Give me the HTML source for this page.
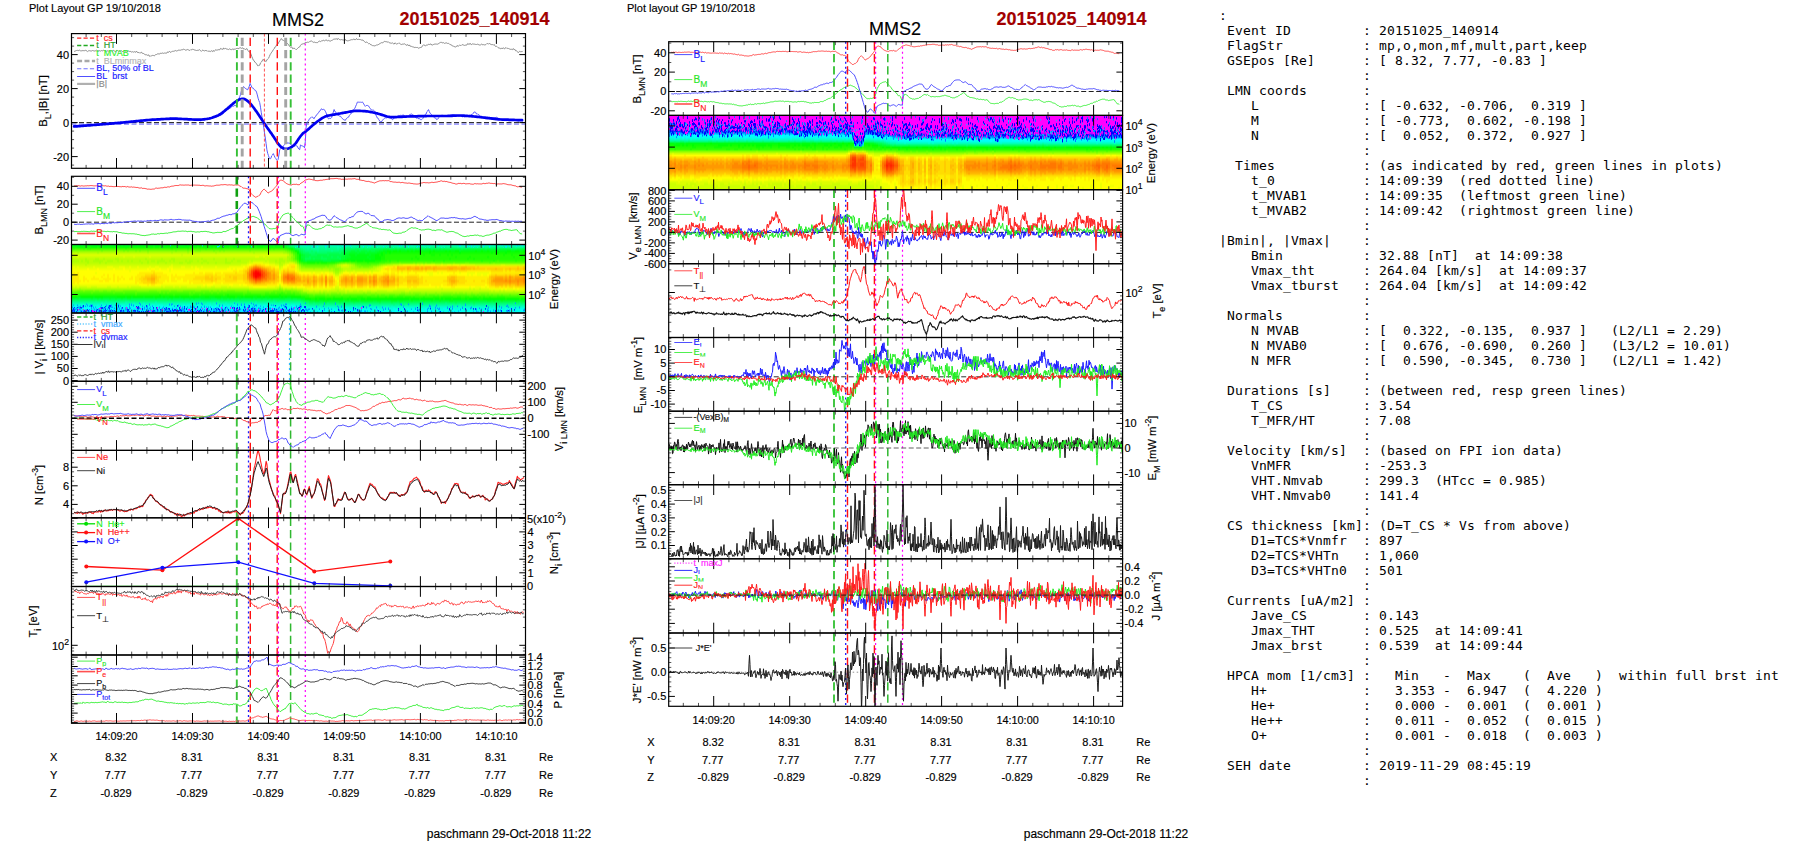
<!DOCTYPE html>
<html lang="en">
<head>
<meta charset="utf-8">
<title>MMS2 20151025_140914</title>
<style>
html,body{margin:0;padding:0;background:#fff;}
body{width:1804px;height:841px;overflow:hidden;position:relative;}
svg{position:absolute;left:0;top:0;}
svg text{font-family:'Liberation Sans', Arial, Helvetica, sans-serif;stroke-width:.16px;}
.sg{position:absolute;overflow:hidden;display:flex;}
.sg i{display:block;flex:0 0 2px;height:100%;}
pre{position:absolute;left:1219px;top:8px;margin:0;font-family:"DejaVu Sans Mono","Liberation Mono",monospace;font-size:13px;line-height:15px;letter-spacing:0.174px;color:#000;white-space:pre;}
</style>
</head>
<body>
<div class="sg" id="sgl" style="left:71px;top:244.5px;width:455px;height:68.5px"><i style="background:linear-gradient(#0f3,#1f0,#4f0,#7f0,#bf0,#df0,#cf0,#af0,#af0,#bf0,#cf0,#ef0,#ef0,#ff0,#ff0,#fe0,#ff0,#ff0,#ff0,#ff0,#ef0,#cf0,#af0,#7f0,#4f0,#2f0,#0f0,#0f4,#0f7,#0fb,#0fd,#0ff,#0ef,#0df,#0cf)"></i><i style="background:linear-gradient(#0f3,#1f0,#3f0,#8f0,#bf0,#df0,#cf0,#bf0,#af0,#bf0,#cf0,#ef0,#ef0,#ff0,#fe0,#fe0,#fe0,#fe0,#fe0,#fe0,#ef0,#df0,#af0,#7f0,#4f0,#3f0,#0f0,#0f3,#0f7,#0fa,#0fc,#0fe,#0ef,#0df,#0cf)"></i><i style="background:linear-gradient(#0f3,#1f0,#4f0,#8f0,#bf0,#df0,#cf0,#bf0,#af0,#bf0,#cf0,#df0,#ef0,#ff0,#ff0,#fe0,#fe0,#fe0,#fe0,#ff0,#ef0,#cf0,#af0,#7f0,#4f0,#2f0,#0f0,#0f4,#0f7,#0fa,#0fd,#0ff,#0ef,#0df,#0cf)"></i><i style="background:linear-gradient(#0f4,#0f0,#4f0,#8f0,#af0,#df0,#df0,#bf0,#af0,#bf0,#cf0,#ef0,#ef0,#ff0,#fe0,#fe0,#fe0,#fe0,#fe0,#fe0,#ef0,#df0,#af0,#6f0,#4f0,#2f0,#0f1,#0f3,#0f7,#0fa,#0fc,#0fe,#0ef,#0df,#0cf)"></i><i style="background:linear-gradient(#0f3,#0f0,#4f0,#8f0,#bf0,#df0,#cf0,#bf0,#bf0,#bf0,#cf0,#df0,#ef0,#ff0,#ff0,#ff0,#ff0,#ff0,#fe0,#ff0,#ef0,#cf0,#9f0,#6f0,#4f0,#2f0,#0f1,#0f4,#0f7,#0fa,#0fd,#0ff,#0ff,#0df,#0cf)"></i><i style="background:linear-gradient(#0f4,#0f0,#4f0,#8f0,#bf0,#df0,#cf0,#bf0,#af0,#bf0,#cf0,#df0,#ef0,#ff0,#ff0,#ff0,#ff0,#ff0,#ff0,#ff0,#ef0,#cf0,#af0,#6f0,#4f0,#2f0,#0f0,#0f4,#0f7,#0fa,#0fd,#0ff,#0ef,#0df,#0df)"></i><i style="background:linear-gradient(#0f3,#1f0,#3f0,#8f0,#bf0,#df0,#cf0,#bf0,#bf0,#bf0,#cf0,#df0,#ef0,#ff0,#ff0,#ff0,#fe0,#fe0,#fe0,#ff0,#ef0,#cf0,#af0,#7f0,#4f0,#2f0,#0f0,#0f4,#0f7,#0fa,#0fd,#0ff,#0ff,#0df,#0cf)"></i><i style="background:linear-gradient(#0f3,#0f0,#4f0,#8f0,#bf0,#df0,#cf0,#af0,#af0,#bf0,#bf0,#df0,#ef0,#ff0,#ff0,#ff0,#ff0,#fe0,#ff0,#ff0,#ef0,#cf0,#af0,#6f0,#4f0,#2f0,#0f0,#0f4,#0f7,#0fa,#0fd,#0fe,#0ff,#0df,#0cf)"></i><i style="background:linear-gradient(#0f3,#1f0,#3f0,#8f0,#bf0,#df0,#cf0,#bf0,#af0,#af0,#cf0,#df0,#ff0,#ff0,#ff0,#ff0,#ff0,#ff0,#fe0,#ff0,#ef0,#df0,#af0,#6f0,#4f0,#2f0,#0f0,#0f4,#0f7,#0fa,#0fd,#0ff,#0ff,#0df,#0cf)"></i><i style="background:linear-gradient(#0f3,#1f0,#3f0,#8f0,#bf0,#df0,#cf0,#bf0,#bf0,#bf0,#cf0,#df0,#ef0,#ff0,#ff0,#ff0,#ff0,#ff0,#ff0,#ff0,#ef0,#df0,#af0,#6f0,#4f0,#2f0,#0f0,#0f4,#0f7,#0fa,#0fd,#0ff,#0ff,#0df,#0cf)"></i><i style="background:linear-gradient(#0f3,#0f0,#4f0,#8f0,#bf0,#df0,#cf0,#bf0,#bf0,#bf0,#cf0,#df0,#ef0,#ff0,#ff0,#ff0,#ff0,#fe0,#ff0,#ff0,#ef0,#cf0,#af0,#6f0,#5f0,#2f0,#0f0,#0f3,#0f7,#0fa,#0fc,#0ff,#0ef,#0df,#0cf)"></i><i style="background:linear-gradient(#0f3,#0f0,#4f0,#8f0,#bf0,#df0,#cf0,#bf0,#af0,#bf0,#cf0,#ef0,#ef0,#ff0,#ff0,#ff0,#fe0,#fe0,#ff0,#ff0,#ef0,#cf0,#af0,#7f0,#4f0,#2f0,#0f1,#0f4,#0f7,#0fa,#0fc,#0ff,#0ef,#0df,#0cf)"></i><i style="background:linear-gradient(#0f3,#0f0,#4f0,#8f0,#bf0,#df0,#cf0,#af0,#af0,#bf0,#cf0,#df0,#ef0,#ff0,#ef0,#ff0,#ff0,#fe0,#ff0,#ff0,#ef0,#cf0,#af0,#6f0,#4f0,#2f0,#0f0,#0f4,#0f8,#0fa,#0fc,#0fe,#0ef,#0df,#0cf)"></i><i style="background:linear-gradient(#0f3,#1f0,#4f0,#8f0,#af0,#df0,#cf0,#af0,#af0,#bf0,#cf0,#df0,#ff0,#ff0,#ff0,#ff0,#ff0,#fe0,#ff0,#ff0,#ef0,#df0,#af0,#6f0,#4f0,#2f0,#0f0,#0f3,#0f7,#0fa,#0fd,#0fe,#0ff,#0df,#0cf)"></i><i style="background:linear-gradient(#0f4,#0f0,#4f0,#8f0,#bf0,#df0,#cf0,#bf0,#af0,#af0,#cf0,#df0,#ef0,#ff0,#ff0,#ff0,#ff0,#ff0,#fe0,#ff0,#ef0,#df0,#af0,#7f0,#4f0,#2f0,#0f0,#0f4,#0f7,#0fa,#0fc,#0fe,#0ff,#0df,#0cf)"></i><i style="background:linear-gradient(#0f3,#1f0,#4f0,#7f0,#bf0,#df0,#cf0,#bf0,#af0,#bf0,#cf0,#df0,#ef0,#ff0,#ff0,#ff0,#fe0,#ff0,#fe0,#ff0,#ef0,#df0,#af0,#7f0,#4f0,#2f0,#0f0,#0f3,#0f7,#0fb,#0fd,#0fe,#0ef,#0ef,#0cf)"></i><i style="background:linear-gradient(#0f3,#0f0,#4f0,#8f0,#bf0,#df0,#cf0,#af0,#bf0,#bf0,#cf0,#df0,#ef0,#ff0,#ff0,#fe0,#ff0,#fe0,#ff0,#ff0,#ef0,#df0,#af0,#6f0,#4f0,#2f0,#0f1,#0f4,#0f7,#0fa,#0fd,#0fe,#0ff,#0ef,#0cf)"></i><i style="background:linear-gradient(#0f3,#0f0,#4f0,#8f0,#bf0,#df0,#cf0,#bf0,#bf0,#af0,#cf0,#df0,#ef0,#ff0,#ff0,#ff0,#ff0,#fe0,#fe0,#ff0,#ef0,#df0,#af0,#6f0,#4f0,#2f0,#0f1,#0f4,#0f8,#0fa,#0fc,#0fe,#0ef,#0df,#0cf)"></i><i style="background:linear-gradient(#0f3,#0f0,#4f0,#8f0,#bf0,#df0,#cf0,#bf0,#af0,#bf0,#cf0,#ef0,#ef0,#ff0,#ff0,#fe0,#fe0,#fe0,#fe0,#ff0,#ef0,#cf0,#af0,#7f0,#4f0,#2f0,#0f1,#0f4,#0f7,#0fa,#0fc,#0fe,#0ef,#0df,#0cf)"></i><i style="background:linear-gradient(#0f3,#0f0,#4f0,#8f0,#bf0,#df0,#cf0,#bf0,#af0,#bf0,#cf0,#ef0,#ef0,#ff0,#ff0,#ff0,#ff0,#fe0,#ff0,#ff0,#ef0,#cf0,#af0,#7f0,#4f0,#2f0,#0f1,#0f3,#0f7,#0fa,#0fc,#0ff,#0ef,#0df,#0df)"></i><i style="background:linear-gradient(#0f3,#0f0,#4f0,#8f0,#bf0,#df0,#cf0,#bf0,#af0,#bf0,#cf0,#ef0,#ef0,#ff0,#ff0,#ff0,#ff0,#ff0,#ff0,#ff0,#ef0,#df0,#af0,#6f0,#4f0,#2f0,#0f1,#0f4,#0f7,#0fa,#0fc,#0ff,#0ff,#0df,#0cf)"></i><i style="background:linear-gradient(#0f3,#0f0,#4f0,#8f0,#bf0,#df0,#cf0,#bf0,#bf0,#bf0,#cf0,#df0,#ff0,#ff0,#ff0,#fe0,#fe0,#fe0,#fe0,#ff0,#ef0,#df0,#af0,#6f0,#5f0,#2f0,#0f1,#0f4,#0f7,#0fa,#0fc,#0fe,#0ef,#0df,#0cf)"></i><i style="background:linear-gradient(#0f3,#0f0,#5f0,#8f0,#bf0,#df0,#cf0,#af0,#bf0,#bf0,#cf0,#df0,#ef0,#ff0,#ff0,#ff0,#ff0,#ff0,#ff0,#ff0,#ef0,#df0,#af0,#7f0,#4f0,#2f0,#0f1,#0f3,#0f7,#0fa,#0fd,#0ff,#0ef,#0ef,#0cf)"></i><i style="background:linear-gradient(#0f3,#0f0,#4f0,#8f0,#bf0,#df0,#cf0,#af0,#af0,#bf0,#cf0,#df0,#ef0,#ff0,#ff0,#ff0,#fe0,#fe0,#fe0,#ff0,#ef0,#cf0,#af0,#7f0,#4f0,#2f0,#0f0,#0f4,#0f7,#0fa,#0fd,#0fe,#0ef,#0df,#0cf)"></i><i style="background:linear-gradient(#0f3,#0f0,#4f0,#8f0,#bf0,#df0,#cf0,#bf0,#bf0,#bf0,#cf0,#ef0,#ef0,#ff0,#ff0,#ff0,#ff0,#fe0,#ff0,#ff0,#ef0,#df0,#af0,#7f0,#4f0,#2f0,#0f0,#0f4,#0f7,#0fa,#0fc,#0fe,#0ef,#0df,#0cf)"></i><i style="background:linear-gradient(#0f4,#0f0,#4f0,#8f0,#bf0,#df0,#cf0,#bf0,#af0,#bf0,#cf0,#ef0,#ef0,#ff0,#ff0,#ff0,#fe0,#ff0,#ff0,#ff0,#ef0,#df0,#af0,#7f0,#4f0,#2f0,#0f0,#0f3,#0f7,#0fa,#0fd,#0ff,#0ef,#0df,#0df)"></i><i style="background:linear-gradient(#0f3,#0f0,#4f0,#7f0,#bf0,#df0,#df0,#bf0,#bf0,#bf0,#cf0,#ef0,#ff0,#ff0,#ff0,#ff0,#ff0,#fe0,#ff0,#ff0,#ef0,#df0,#af0,#6f0,#5f0,#2f0,#0f0,#0f4,#0f7,#0fa,#0fd,#0fe,#0ef,#0ef,#0cf)"></i><i style="background:linear-gradient(#0f4,#0f0,#3f0,#8f0,#bf0,#df0,#cf0,#bf0,#bf0,#bf0,#cf0,#df0,#ef0,#ff0,#ff0,#ff0,#ff0,#ff0,#ff0,#ff0,#ef0,#df0,#af0,#6f0,#4f0,#2f0,#0f1,#0f4,#0f8,#0fb,#0fc,#0fe,#0ef,#0df,#0cf)"></i><i style="background:linear-gradient(#0f4,#0f0,#4f0,#7f0,#bf0,#df0,#cf0,#bf0,#af0,#bf0,#cf0,#df0,#ef0,#ff0,#ff0,#ff0,#ff0,#ff0,#ff0,#ff0,#ef0,#cf0,#af0,#6f0,#4f0,#2f0,#0f0,#0f3,#0f8,#0fa,#0fd,#0ff,#0ff,#0df,#0df)"></i><i style="background:linear-gradient(#0f4,#1f0,#4f0,#8f0,#bf0,#df0,#cf0,#bf0,#bf0,#bf0,#cf0,#ef0,#ef0,#ef0,#ff0,#ff0,#ff0,#fe0,#ff0,#ff0,#ef0,#df0,#af0,#6f0,#4f0,#2f0,#0f0,#0f3,#0f7,#0fa,#0fd,#0ff,#0ef,#0ef,#0cf)"></i><i style="background:linear-gradient(#0f3,#1f0,#4f0,#8f0,#bf0,#df0,#cf0,#bf0,#af0,#bf0,#cf0,#df0,#ef0,#ff0,#ff0,#ff0,#fe0,#fe0,#ff0,#ff0,#ef0,#cf0,#af0,#6f0,#4f0,#2f0,#0f1,#0f4,#0f7,#0fa,#0fd,#0fe,#0ff,#0ef,#0df)"></i><i style="background:linear-gradient(#0f3,#0f0,#4f0,#8f0,#bf0,#df0,#df0,#bf0,#bf0,#bf0,#cf0,#df0,#ef0,#ff0,#ff0,#ff0,#ff0,#ff0,#ff0,#ff0,#ef0,#cf0,#af0,#6f0,#4f0,#2f0,#0f0,#0f4,#0f7,#0fb,#0fd,#0ff,#0ef,#0df,#0cf)"></i><i style="background:linear-gradient(#0f3,#0f0,#4f0,#7f0,#bf0,#df0,#cf0,#bf0,#bf0,#bf0,#cf0,#df0,#ef0,#ff0,#ff0,#ff0,#fe0,#fe0,#fe0,#fe0,#ef0,#cf0,#af0,#6f0,#5f0,#3f0,#0f0,#0f4,#0f7,#0fa,#0fd,#0fe,#0ef,#0df,#0cf)"></i><i style="background:linear-gradient(#0f4,#0f0,#4f0,#8f0,#bf0,#df0,#cf0,#bf0,#bf0,#bf0,#cf0,#ef0,#ef0,#ff0,#ff0,#fe0,#fe0,#fe0,#fe0,#ff0,#ef0,#cf0,#af0,#7f0,#4f0,#2f0,#0f0,#0f4,#0f7,#0fa,#0fc,#0fd,#0ef,#0df,#0cf)"></i><i style="background:linear-gradient(#0f3,#0f0,#4f0,#7f0,#bf0,#df0,#cf0,#bf0,#af0,#bf0,#cf0,#df0,#ef0,#ff0,#fe0,#fe0,#fe0,#fd0,#fe0,#fe0,#ff0,#cf0,#af0,#7f0,#4f0,#2f0,#0f0,#0f4,#0f7,#0fa,#0fc,#0ff,#0ff,#0ef,#0cf)"></i><i style="background:linear-gradient(#0f3,#0f0,#4f0,#8f0,#bf0,#df0,#cf0,#bf0,#bf0,#af0,#cf0,#df0,#ef0,#ff0,#fe0,#fe0,#fd0,#fd0,#fd0,#fe0,#ff0,#df0,#af0,#7f0,#4f0,#2f0,#0f0,#0f4,#0f7,#0fa,#0fc,#0fe,#0ef,#0df,#0cf)"></i><i style="background:linear-gradient(#0f3,#0f0,#4f0,#8f0,#bf0,#df0,#cf0,#bf0,#bf0,#bf0,#cf0,#df0,#ef0,#ff0,#fe0,#fe0,#fd0,#fc0,#fd0,#fd0,#ff0,#df0,#af0,#7f0,#4f0,#2f0,#0f1,#0f4,#0f7,#0fb,#0fd,#0fe,#0ef,#0df,#0cf)"></i><i style="background:linear-gradient(#0f3,#1f0,#4f0,#8f0,#bf0,#df0,#cf0,#af0,#bf0,#bf0,#cf0,#df0,#ef0,#ff0,#fe0,#fd0,#fc0,#fc0,#fd0,#fd0,#ff0,#df0,#af0,#7f0,#4f0,#2f0,#0f0,#0f4,#0f7,#0fa,#0fc,#0fe,#0ef,#0ef,#0cf)"></i><i style="background:linear-gradient(#0f3,#0f0,#4f0,#7f0,#af0,#df0,#cf0,#bf0,#af0,#af0,#cf0,#df0,#ff0,#ff0,#fe0,#fd0,#fc0,#fb0,#fc0,#fd0,#fe0,#df0,#af0,#7f0,#4f0,#2f0,#0f0,#0f4,#0f7,#0fa,#0fc,#0ff,#0ef,#0df,#0cf)"></i><i style="background:linear-gradient(#0f3,#0f0,#4f0,#8f0,#bf0,#df0,#df0,#bf0,#bf0,#bf0,#cf0,#ef0,#ef0,#ff0,#fe0,#fd0,#fc0,#fb0,#fc0,#fd0,#ff0,#df0,#af0,#6f0,#4f0,#2f0,#0f0,#0f4,#0f7,#0fa,#0fc,#0fe,#0ef,#0df,#0cf)"></i><i style="background:linear-gradient(#0f3,#0f0,#4f0,#8f0,#bf0,#df0,#cf0,#bf0,#af0,#bf0,#cf0,#df0,#ff0,#fe0,#fe0,#fc0,#fb0,#fa0,#fb0,#fc0,#fe0,#df0,#af0,#6f0,#4f0,#2f0,#0f0,#0f4,#0f7,#0fa,#0fd,#0ff,#0ef,#0df,#0cf)"></i><i style="background:linear-gradient(#0f4,#1f0,#4f0,#8f0,#bf0,#df0,#cf0,#bf0,#af0,#bf0,#cf0,#df0,#ff0,#fe0,#fd0,#fc0,#fb0,#fa0,#fb0,#fc0,#fe0,#df0,#af0,#6f0,#4f0,#2f0,#0f1,#0f4,#0f7,#0fa,#0fd,#0ff,#0ef,#0df,#0cf)"></i><i style="background:linear-gradient(#0f3,#0f0,#4f0,#8f0,#bf0,#df0,#cf0,#bf0,#bf0,#bf0,#cf0,#ef0,#ef0,#ff0,#fe0,#fd0,#fc0,#fc0,#fd0,#fd0,#ff0,#df0,#af0,#6f0,#4f0,#2f0,#0f0,#0f3,#0f8,#0fb,#0fc,#0fe,#0ef,#0df,#0cf)"></i><i style="background:linear-gradient(#0f3,#0f0,#4f0,#8f0,#bf0,#df0,#cf0,#bf0,#af0,#af0,#cf0,#ef0,#ef0,#ff0,#fe0,#fe0,#fd0,#fd0,#fd0,#fe0,#ff0,#df0,#af0,#7f0,#4f0,#2f0,#0f0,#0f4,#0f7,#0fa,#0fd,#0ff,#0ff,#0df,#0cf)"></i><i style="background:linear-gradient(#0f3,#1f0,#4f0,#8f0,#bf0,#df0,#cf0,#bf0,#af0,#bf0,#cf0,#df0,#ff0,#ff0,#fe0,#fe0,#fd0,#fe0,#fe0,#fe0,#ff0,#df0,#af0,#7f0,#5f0,#1f0,#0f0,#0f4,#0f7,#0fa,#0fd,#0fe,#0ff,#0df,#0cf)"></i><i style="background:linear-gradient(#0f3,#0f0,#4f0,#8f0,#bf0,#df0,#cf0,#af0,#af0,#bf0,#cf0,#df0,#ef0,#ff0,#fe0,#fe0,#fe0,#fe0,#fe0,#fe0,#ef0,#cf0,#af0,#6f0,#4f0,#2f0,#0f1,#0f4,#0f7,#0fa,#0fd,#0ff,#0ef,#0df,#0cf)"></i><i style="background:linear-gradient(#0f4,#0f0,#4f0,#8f0,#bf0,#df0,#cf0,#bf0,#af0,#bf0,#cf0,#df0,#ef0,#ff0,#ff0,#fe0,#fe0,#fe0,#fe0,#ff0,#ef0,#df0,#af0,#6f0,#5f0,#2f0,#0f0,#0f4,#0f7,#0fa,#0fc,#0fe,#0ef,#0df,#0cf)"></i><i style="background:linear-gradient(#0f3,#0f0,#4f0,#8f0,#bf0,#df0,#cf0,#bf0,#bf0,#af0,#cf0,#df0,#ef0,#ff0,#ff0,#fe0,#fe0,#fe0,#ff0,#ff0,#ef0,#cf0,#af0,#6f0,#4f0,#2f0,#0f1,#0f4,#0f7,#0fa,#0fc,#0fe,#0ef,#0df,#0cf)"></i><i style="background:linear-gradient(#0f3,#0f0,#4f0,#8f0,#bf0,#df0,#cf0,#bf0,#bf0,#bf0,#cf0,#df0,#ff0,#ff0,#ff0,#ff0,#fe0,#fe0,#fe0,#ff0,#ef0,#cf0,#af0,#6f0,#5f0,#2f0,#0f1,#0f3,#0f7,#0fa,#0fd,#0fe,#0ef,#0df,#0cf)"></i><i style="background:linear-gradient(#0f3,#0f0,#4f0,#8f0,#bf0,#df0,#cf0,#bf0,#af0,#bf0,#cf0,#ef0,#ef0,#ef0,#ff0,#ff0,#ff0,#ff0,#ff0,#ff0,#ef0,#cf0,#af0,#7f0,#4f0,#2f0,#0f0,#0f4,#0f7,#0fa,#0fc,#0ff,#0ef,#0ef,#0cf)"></i><i style="background:linear-gradient(#0f3,#0f0,#3f0,#8f0,#af0,#df0,#cf0,#af0,#bf0,#bf0,#df0,#ef0,#ff0,#ff0,#ff0,#fe0,#fe0,#fe0,#fe0,#ff0,#ef0,#cf0,#af0,#6f0,#4f0,#2f0,#0f0,#0f3,#0f7,#0fa,#0fd,#0fe,#0ef,#0df,#0cf)"></i><i style="background:linear-gradient(#0f3,#0f0,#4f0,#8f0,#bf0,#df0,#cf0,#af0,#af0,#bf0,#cf0,#df0,#ef0,#ff0,#ff0,#ff0,#fe0,#fe0,#fe0,#ff0,#ef0,#df0,#af0,#6f0,#4f0,#3f0,#0f1,#0f4,#0f7,#0fa,#0fc,#0fe,#0ef,#0df,#0cf)"></i><i style="background:linear-gradient(#0f3,#0f0,#4f0,#7f0,#bf0,#df0,#cf0,#bf0,#bf0,#bf0,#cf0,#df0,#ef0,#ff0,#ff0,#fe0,#fe0,#ff0,#fe0,#ff0,#ef0,#cf0,#af0,#6f0,#4f0,#2f0,#0f0,#0f4,#0f7,#0fa,#0fc,#0fe,#0ef,#0df,#0cf)"></i><i style="background:linear-gradient(#0f3,#0f0,#4f0,#8f0,#bf0,#df0,#cf0,#bf0,#bf0,#bf0,#cf0,#df0,#ef0,#ff0,#ff0,#ff0,#fe0,#fe0,#ff0,#ff0,#ef0,#cf0,#af0,#7f0,#4f0,#2f0,#0f0,#0f4,#0f7,#0fa,#0fd,#0fe,#0ff,#0ef,#0df)"></i><i style="background:linear-gradient(#0f4,#0f0,#4f0,#8f0,#bf0,#df0,#cf0,#bf0,#bf0,#af0,#cf0,#df0,#ef0,#ff0,#ff0,#ff0,#fe0,#fe0,#ff0,#ff0,#ef0,#df0,#af0,#7f0,#4f0,#2f0,#0f1,#0f4,#0f7,#0fa,#0fc,#0fe,#0ef,#0ef,#0df)"></i><i style="background:linear-gradient(#0f4,#0f0,#4f0,#8f0,#bf0,#cf0,#cf0,#bf0,#bf0,#af0,#cf0,#ef0,#ef0,#ff0,#ff0,#ff0,#fe0,#ff0,#ff0,#ff0,#ef0,#cf0,#af0,#7f0,#4f0,#2f0,#0f0,#0f4,#0f7,#0fa,#0fc,#0ff,#0ef,#0df,#0cf)"></i><i style="background:linear-gradient(#0f4,#0f0,#4f0,#8f0,#bf0,#df0,#cf0,#bf0,#bf0,#bf0,#cf0,#ef0,#ef0,#ff0,#ff0,#ff0,#fe0,#fe0,#fe0,#ff0,#ef0,#cf0,#af0,#6f0,#4f0,#2f0,#0f0,#0f3,#0f7,#0fa,#0fd,#0fe,#0ef,#0ef,#0cf)"></i><i style="background:linear-gradient(#0f3,#0f0,#4f0,#8f0,#bf0,#df0,#cf0,#bf0,#af0,#bf0,#cf0,#df0,#ef0,#ff0,#ff0,#fe0,#fe0,#fe0,#fe0,#ff0,#ef0,#cf0,#af0,#6f0,#4f0,#2f0,#0f0,#0f4,#0f7,#0fa,#0fc,#0fe,#0ef,#0ef,#0cf)"></i><i style="background:linear-gradient(#0f4,#0f0,#3f0,#7f0,#af0,#df0,#cf0,#bf0,#bf0,#af0,#cf0,#df0,#ef0,#ff0,#ff0,#fe0,#fe0,#fe0,#ff0,#ff0,#ef0,#df0,#af0,#6f0,#4f0,#2f0,#0f0,#0f4,#0f7,#0fa,#0fd,#0fe,#0ef,#0df,#0cf)"></i><i style="background:linear-gradient(#0f3,#1f0,#4f0,#8f0,#bf0,#df0,#cf0,#bf0,#af0,#af0,#cf0,#df0,#ef0,#ff0,#ff0,#fe0,#fe0,#fe0,#fe0,#fe0,#ef0,#df0,#af0,#6f0,#5f0,#3f0,#0f1,#0f3,#0f7,#0fa,#0fd,#0fe,#0ef,#0df,#0cf)"></i><i style="background:linear-gradient(#0f4,#0f0,#4f0,#7f0,#bf0,#df0,#cf0,#bf0,#af0,#bf0,#cf0,#ef0,#ef0,#ff0,#ff0,#fe0,#fe0,#fe0,#fe0,#ff0,#ef0,#df0,#af0,#6f0,#4f0,#3f0,#0f0,#0f4,#0f7,#0fa,#0fd,#0ff,#0ef,#0df,#0df)"></i><i style="background:linear-gradient(#0f3,#0f0,#4f0,#8f0,#bf0,#df0,#cf0,#bf0,#bf0,#bf0,#cf0,#df0,#ef0,#ff0,#fe0,#fe0,#fe0,#fd0,#fe0,#fe0,#ef0,#df0,#af0,#6f0,#5f0,#2f0,#0f0,#0f3,#0f8,#0fa,#0fc,#0fe,#0ef,#0df,#0df)"></i><i style="background:linear-gradient(#0f3,#0f0,#4f0,#7f0,#bf0,#df0,#cf0,#bf0,#bf0,#bf0,#cf0,#ef0,#ff0,#ff0,#ff0,#fe0,#fd0,#fd0,#fe0,#fe0,#ef0,#df0,#af0,#7f0,#4f0,#2f0,#0f0,#0f4,#0f7,#0fa,#0fc,#0fe,#0ef,#0df,#0cf)"></i><i style="background:linear-gradient(#0f3,#1f0,#4f0,#7f0,#bf0,#df0,#cf0,#bf0,#af0,#bf0,#cf0,#df0,#ff0,#ff0,#ff0,#fe0,#fd0,#fd0,#fe0,#fe0,#ef0,#cf0,#af0,#7f0,#4f0,#2f0,#0f0,#0f4,#0f7,#0fa,#0fd,#0fe,#0ef,#0df,#0df)"></i><i style="background:linear-gradient(#0f3,#0f0,#4f0,#7f0,#bf0,#df0,#cf0,#bf0,#bf0,#bf0,#cf0,#df0,#ef0,#ff0,#fe0,#fe0,#fd0,#fd0,#fe0,#fe0,#ef0,#cf0,#af0,#7f0,#4f0,#3f0,#0f1,#0f4,#0f7,#0fb,#0fd,#0fe,#0ef,#0df,#0cf)"></i><i style="background:linear-gradient(#0f3,#1f0,#4f0,#8f0,#bf0,#df0,#cf0,#af0,#bf0,#af0,#cf0,#ef0,#ef0,#ff0,#fe0,#fe0,#fd0,#fd0,#fd0,#fe0,#ef0,#df0,#af0,#6f0,#4f0,#2f0,#0f1,#0f3,#0f8,#0fa,#0fc,#0ff,#0ef,#0df,#0cf)"></i><i style="background:linear-gradient(#0f3,#0f0,#4f0,#8f0,#bf0,#df0,#cf0,#bf0,#af0,#bf0,#cf0,#df0,#ef0,#ff0,#ff0,#fe0,#fd0,#fd0,#fe0,#fe0,#ff0,#df0,#af0,#6f0,#5f0,#2f0,#0f1,#0f3,#0f7,#0fa,#0fc,#0fe,#0ff,#0df,#0cf)"></i><i style="background:linear-gradient(#0f3,#0f0,#3f0,#8f0,#bf0,#df0,#cf0,#bf0,#af0,#bf0,#cf0,#df0,#ef0,#ff0,#fe0,#fd0,#fc0,#fc0,#fd0,#fe0,#ef0,#cf0,#af0,#6f0,#4f0,#2f0,#0f0,#0f3,#0f7,#0fa,#0fd,#0ff,#0ff,#0df,#0cf)"></i><i style="background:linear-gradient(#0f3,#1f0,#4f0,#8f0,#bf0,#df0,#cf0,#bf0,#bf0,#af0,#cf0,#df0,#ef0,#ff0,#fe0,#fd0,#fc0,#fc0,#fd0,#fe0,#ff0,#df0,#af0,#6f0,#4f0,#2f0,#0f0,#0f3,#0f7,#0fb,#0fc,#0fe,#0ef,#0df,#0cf)"></i><i style="background:linear-gradient(#0f3,#0f1,#4f0,#8f0,#bf0,#df0,#cf0,#bf0,#bf0,#bf0,#cf0,#df0,#ef0,#ff0,#fe0,#fd0,#fd0,#fc0,#fd0,#fe0,#ff0,#df0,#af0,#7f0,#4f0,#2f0,#0f1,#0f3,#0f7,#0fb,#0fd,#0ff,#0ff,#0df,#0cf)"></i><i style="background:linear-gradient(#0f3,#0f0,#4f0,#8f0,#bf0,#df0,#cf0,#bf0,#bf0,#bf0,#cf0,#df0,#ef0,#ff0,#fe0,#fd0,#fc0,#fc0,#fc0,#fe0,#ff0,#cf0,#af0,#6f0,#5f0,#2f0,#0f1,#0f4,#0f7,#0fa,#0fc,#0ff,#0ef,#0df,#0df)"></i><i style="background:linear-gradient(#0f3,#1f0,#4f0,#7f0,#bf0,#df0,#cf0,#af0,#bf0,#bf0,#cf0,#df0,#ef0,#ff0,#ff0,#fe0,#fd0,#fd0,#fd0,#ff0,#ef0,#cf0,#af0,#7f0,#4f0,#2f0,#0f1,#0f4,#0f7,#0fb,#0fc,#0fe,#0ff,#0ef,#0cf)"></i><i style="background:linear-gradient(#0f4,#0f0,#4f0,#8f0,#af0,#df0,#cf0,#bf0,#bf0,#af0,#cf0,#ef0,#ef0,#ff0,#fe0,#fd0,#fd0,#fc0,#fd0,#fe0,#ef0,#df0,#af0,#7f0,#4f0,#2f0,#0f0,#0f4,#0f7,#0fa,#0fd,#0ff,#0ef,#0df,#0cf)"></i><i style="background:linear-gradient(#0f3,#1f0,#4f0,#8f0,#bf0,#df0,#cf0,#bf0,#bf0,#bf0,#cf0,#df0,#ef0,#ff0,#fe0,#fe0,#fd0,#fd0,#fe0,#fe0,#ef0,#df0,#af0,#6f0,#5f0,#2f0,#0f0,#0f3,#0f8,#0fa,#0fc,#0fe,#0ef,#0df,#0cf)"></i><i style="background:linear-gradient(#0f3,#0f0,#4f0,#7f0,#bf0,#df0,#cf0,#bf0,#bf0,#bf0,#cf0,#df0,#ef0,#ff0,#fe0,#fe0,#fd0,#fd0,#fe0,#fe0,#ef0,#df0,#af0,#7f0,#4f0,#2f0,#0f0,#0f3,#0f7,#0fa,#0fc,#0ff,#0ef,#0df,#0cf)"></i><i style="background:linear-gradient(#0f3,#0f0,#3f0,#8f0,#bf0,#df0,#cf0,#bf0,#bf0,#bf0,#cf0,#df0,#ef0,#ff0,#ff0,#fe0,#fe0,#fe0,#fe0,#ff0,#ef0,#cf0,#af0,#6f0,#4f0,#2f0,#0f1,#0f4,#0f7,#0fa,#0fd,#0ff,#0ef,#0df,#0cf)"></i><i style="background:linear-gradient(#0f3,#0f0,#4f0,#7f0,#bf0,#df0,#cf0,#bf0,#bf0,#bf0,#cf0,#df0,#ef0,#ff0,#fe0,#fe0,#fe0,#fd0,#fe0,#fe0,#ef0,#cf0,#af0,#7f0,#4f0,#3f0,#0f1,#0f3,#0f7,#0fa,#0fd,#0ff,#0ef,#0df,#0cf)"></i><i style="background:linear-gradient(#0f3,#0f0,#4f0,#8f0,#bf0,#df0,#cf0,#af0,#af0,#af0,#cf0,#df0,#ef0,#ff0,#fe0,#fd0,#fd0,#fd0,#fd0,#fe0,#ef0,#cf0,#af0,#7f0,#4f0,#2f0,#0f1,#0f3,#0f7,#0fb,#0fc,#0ff,#0ef,#0df,#0cf)"></i><i style="background:linear-gradient(#0f4,#0f0,#4f0,#8f0,#bf0,#df0,#cf0,#bf0,#bf0,#af0,#cf0,#df0,#ff0,#ff0,#fe0,#fd0,#fd0,#fd0,#fd0,#fe0,#ef0,#df0,#af0,#6f0,#4f0,#1f0,#0f0,#0f4,#0f7,#0fa,#0fd,#0fe,#0ef,#0df,#0cf)"></i><i style="background:linear-gradient(#0f4,#1f0,#4f0,#8f0,#bf0,#df0,#cf0,#bf0,#bf0,#af0,#cf0,#ef0,#ff0,#ff0,#fe0,#fd0,#fc0,#fd0,#fd0,#fe0,#ff0,#cf0,#af0,#6f0,#4f0,#2f0,#0f0,#0f3,#0f7,#0fa,#0fc,#0ff,#0ef,#0df,#0cf)"></i><i style="background:linear-gradient(#0f4,#1f0,#4f0,#8f0,#bf0,#df0,#cf0,#bf0,#af0,#bf0,#cf0,#ef0,#ef0,#ff0,#fe0,#fd0,#fd0,#fd0,#fd0,#fe0,#ff0,#df0,#af0,#6f0,#4f0,#2f0,#0f0,#0f4,#0f7,#0fa,#0fc,#0ff,#0ef,#0df,#0cf)"></i><i style="background:linear-gradient(#0f4,#0f0,#4f0,#8f0,#bf0,#df0,#cf0,#af0,#bf0,#bf0,#cf0,#ef0,#ff0,#fe0,#fe0,#fd0,#fc0,#fc0,#fd0,#fe0,#ef0,#df0,#af0,#6f0,#4f0,#2f0,#0f0,#0f3,#0f7,#0fb,#0fd,#0fe,#0ef,#0df,#0cf)"></i><i style="background:linear-gradient(#0f3,#0f0,#4f0,#8f0,#bf0,#df0,#cf0,#bf0,#bf0,#bf0,#cf0,#ef0,#ef0,#fe0,#fd0,#fd0,#fc0,#fc0,#fd0,#fe0,#ef0,#df0,#af0,#7f0,#4f0,#2f0,#1f0,#0f4,#0f7,#0fa,#0fd,#0ff,#0ef,#0ef,#0cf)"></i><i style="background:linear-gradient(#0f3,#0f0,#4f0,#8f0,#bf0,#df0,#cf0,#bf0,#af0,#bf0,#cf0,#ef0,#ff0,#ff0,#fe0,#fd0,#fd0,#fd0,#fe0,#fe0,#ef0,#df0,#af0,#7f0,#4f0,#2f0,#0f1,#0f4,#0f7,#0fa,#0fd,#0fe,#0ef,#0df,#0cf)"></i><i style="background:linear-gradient(#0f3,#0f0,#4f0,#8f0,#bf0,#df0,#cf0,#bf0,#af0,#bf0,#cf0,#ef0,#ff0,#fe0,#fe0,#fd0,#fd0,#fd0,#fe0,#fe0,#ff0,#df0,#af0,#7f0,#4f0,#2f0,#0f1,#0f3,#0f7,#0fa,#0fc,#0ff,#0ef,#0df,#0df)"></i><i style="background:linear-gradient(#0f3,#0f0,#4f0,#8f0,#bf0,#df0,#cf0,#bf0,#bf0,#bf0,#df0,#ef0,#ff0,#fe0,#fe0,#fd0,#fd0,#fd0,#fe0,#fe0,#ef0,#df0,#af0,#7f0,#4f0,#2f0,#0f0,#0f4,#0f7,#0fa,#0fd,#0fe,#0ef,#0ef,#0df)"></i><i style="background:linear-gradient(#0f3,#0f0,#4f0,#8f0,#bf0,#df0,#cf0,#bf0,#bf0,#bf0,#df0,#ff0,#fe0,#fd0,#fd0,#fc0,#fc0,#fc0,#fd0,#fe0,#ff0,#df0,#af0,#7f0,#5f0,#3f0,#0f1,#0f4,#0f7,#0fa,#0fc,#0fe,#0ef,#0df,#0cf)"></i><i style="background:linear-gradient(#0f4,#0f0,#4f0,#8f0,#bf0,#df0,#cf0,#bf0,#bf0,#bf0,#df0,#fe0,#fe0,#fc0,#fc0,#fc0,#fc0,#fc0,#fd0,#fd0,#ff0,#df0,#af0,#7f0,#5f0,#2f0,#0f0,#0f4,#0f7,#0fa,#0fd,#0ff,#0ef,#0df,#0cf)"></i><i style="background:linear-gradient(#0f3,#1f0,#4f0,#8f0,#bf0,#df0,#cf0,#bf0,#bf0,#cf0,#ef0,#fe0,#fc0,#fb0,#f90,#f90,#f90,#fa0,#fc0,#fd0,#fe0,#df0,#af0,#6f0,#4f0,#2f0,#0f0,#0f4,#0f7,#0fa,#0fd,#0fe,#0ef,#0df,#0cf)"></i><i style="background:linear-gradient(#0f3,#0f0,#4f0,#7f0,#bf0,#df0,#cf0,#bf0,#cf0,#df0,#ff0,#fc0,#fa0,#f80,#f70,#f60,#f70,#f80,#fa0,#fc0,#fe0,#ef0,#bf0,#7f0,#4f0,#2f0,#0f0,#0f4,#0f7,#0fa,#0fd,#0fe,#0ef,#0df,#0cf)"></i><i style="background:linear-gradient(#0f3,#1f0,#4f0,#8f0,#bf0,#df0,#cf0,#bf0,#bf0,#df0,#fe0,#fb0,#f80,#f50,#f40,#f40,#f50,#f70,#f90,#fb0,#fe0,#ef0,#bf0,#7f0,#5f0,#2f0,#0f0,#0f3,#0f7,#0fb,#0fd,#0fe,#0ef,#0df,#0cf)"></i><i style="background:linear-gradient(#0f3,#0f0,#4f0,#8f0,#af0,#df0,#cf0,#bf0,#cf0,#ef0,#fd0,#f90,#f60,#f30,#f10,#f10,#f20,#f50,#f80,#fa0,#fd0,#ff0,#bf0,#7f0,#5f0,#2f0,#0f1,#0f4,#0f7,#0fa,#0fc,#0fe,#0ef,#0ef,#0cf)"></i><i style="background:linear-gradient(#0f3,#1f0,#4f0,#8f0,#bf0,#df0,#df0,#bf0,#cf0,#ef0,#fc0,#f80,#f50,#f10,#f00,#f00,#f00,#f30,#f60,#f90,#fd0,#ff0,#bf0,#7f0,#5f0,#2f0,#0f1,#0f3,#0f8,#0fb,#0fd,#0fe,#0ef,#0df,#0cf)"></i><i style="background:linear-gradient(#0f3,#0f0,#4f0,#8f0,#bf0,#df0,#df0,#bf0,#cf0,#ef0,#fd0,#f90,#f50,#f20,#f00,#f00,#f10,#f40,#f70,#fa0,#fd0,#ff0,#bf0,#7f0,#5f0,#2f0,#0f0,#0f4,#0f7,#0fa,#0fd,#0ff,#0ef,#0df,#0cf)"></i><i style="background:linear-gradient(#0f3,#0f0,#4f0,#8f0,#bf0,#df0,#cf0,#bf0,#cf0,#ef0,#fd0,#fa0,#f60,#f30,#f10,#f00,#f20,#f40,#f70,#fa0,#fd0,#ff0,#bf0,#7f0,#5f0,#2f0,#0f0,#0f4,#0f7,#0fa,#0fd,#0ff,#0ef,#0ef,#0cf)"></i><i style="background:linear-gradient(#0f3,#0f0,#4f0,#8f0,#bf0,#df0,#cf0,#bf0,#cf0,#ef0,#fe0,#fb0,#f80,#f50,#f40,#f30,#f40,#f60,#f80,#fb0,#fd0,#ff0,#bf0,#7f0,#5f0,#3f0,#0f1,#0f3,#0f7,#0fa,#0fc,#0fe,#0ef,#0df,#0cf)"></i><i style="background:linear-gradient(#0f3,#1f0,#4f0,#8f0,#bf0,#df0,#df0,#bf0,#cf0,#df0,#fe0,#fc0,#f90,#f70,#f50,#f50,#f50,#f70,#f90,#fb0,#fd0,#ff0,#bf0,#7f0,#5f0,#3f0,#0f0,#0f4,#0f7,#0fa,#0fd,#0ff,#0ef,#0df,#0cf)"></i><i style="background:linear-gradient(#0f3,#1f0,#4f0,#8f0,#bf0,#df0,#cf0,#cf0,#bf0,#df0,#ff0,#fd0,#fa0,#f80,#f70,#f60,#f70,#f70,#f90,#fc0,#fd0,#ff0,#bf0,#7f0,#4f0,#2f0,#0f1,#0f4,#0f7,#0fa,#0fd,#0fe,#0ef,#0df,#0cf)"></i><i style="background:linear-gradient(#0f4,#0f0,#4f0,#8f0,#bf0,#df0,#cf0,#bf0,#cf0,#df0,#ff0,#fd0,#fb0,#fa0,#f80,#f80,#f80,#f90,#fa0,#fc0,#fe0,#ef0,#bf0,#7f0,#4f0,#2f0,#0f1,#0f3,#0f8,#0fa,#0fc,#0ff,#0ef,#0df,#0cf)"></i><i style="background:linear-gradient(#0f3,#0f0,#3f0,#8f0,#bf0,#df0,#cf0,#bf0,#bf0,#cf0,#ef0,#fd0,#fc0,#fb0,#f90,#f90,#f90,#f90,#fb0,#fc0,#fe0,#ef0,#bf0,#7f0,#5f0,#2f0,#0f0,#0f4,#0f7,#0fa,#0fc,#0ff,#0ff,#0df,#0df)"></i><i style="background:linear-gradient(#0f3,#0f0,#4f0,#8f0,#bf0,#df0,#cf0,#bf0,#bf0,#cf0,#ef0,#fe0,#fd0,#fb0,#fb0,#fa0,#fa0,#fa0,#fb0,#fd0,#fe0,#ef0,#bf0,#7f0,#4f0,#2f0,#0f0,#0f3,#0f7,#0fa,#0fc,#0ff,#0ff,#0df,#0df)"></i><i style="background:linear-gradient(#0f4,#1f0,#3f0,#8f0,#bf0,#df0,#cf0,#bf0,#bf0,#cf0,#ef0,#fe0,#fc0,#fb0,#fa0,#f90,#f90,#f90,#fb0,#fc0,#fe0,#ef0,#bf0,#6f0,#4f0,#2f0,#0f0,#0f4,#0f8,#0fa,#0fc,#0ff,#0ef,#0df,#0cf)"></i><i style="background:linear-gradient(#0f3,#0f0,#4f0,#8f0,#bf0,#df0,#cf0,#bf0,#af0,#bf0,#df0,#ff0,#fe0,#fd0,#fc0,#fb0,#fb0,#fb0,#fc0,#fd0,#fe0,#df0,#bf0,#6f0,#5f0,#2f0,#0f0,#0f4,#0f7,#0fa,#0fc,#0fe,#0ef,#0df,#0cf)"></i><i style="background:linear-gradient(#0f4,#0f0,#4f0,#8f0,#bf0,#df0,#cf0,#bf0,#bf0,#bf0,#df0,#ff0,#fe0,#fd0,#fc0,#fc0,#fb0,#fc0,#fc0,#fe0,#ff0,#df0,#af0,#6f0,#4f0,#2f0,#0f0,#0f4,#0f6,#0fa,#0fc,#0fe,#0ef,#0df,#0cf)"></i><i style="background:linear-gradient(#0f4,#0f0,#4f0,#8f0,#bf0,#df0,#cf0,#af0,#af0,#af0,#bf0,#cf0,#df0,#ef0,#ef0,#ff0,#fe0,#fe0,#fe0,#ff0,#df0,#bf0,#8f0,#6f0,#4f0,#1f0,#0f1,#0f3,#0f7,#0fa,#0fc,#0ff,#0ef,#0df,#0cf)"></i><i style="background:linear-gradient(#0f3,#0f0,#4f0,#8f0,#bf0,#df0,#cf0,#af0,#af0,#bf0,#bf0,#df0,#ef0,#fe0,#fd0,#fc0,#fb0,#fb0,#fc0,#fe0,#ff0,#df0,#9f0,#6f0,#3f0,#2f0,#0f0,#0f3,#0f7,#0fa,#0fd,#0fe,#0ff,#0ef,#0cf)"></i><i style="background:linear-gradient(#0f4,#0f0,#3f0,#8f0,#af0,#df0,#cf0,#bf0,#af0,#bf0,#df0,#ff0,#fe0,#fc0,#fb0,#f90,#f80,#f80,#f90,#fb0,#fe0,#ef0,#bf0,#7f0,#4f0,#2f0,#0f1,#0f3,#0f7,#0fb,#0fc,#0fe,#0ef,#0df,#0cf)"></i><i style="background:linear-gradient(#0f6,#0f1,#3f0,#7f0,#af0,#df0,#cf0,#bf0,#bf0,#cf0,#ef0,#ff0,#fe0,#fd0,#fb0,#f90,#f70,#f80,#f90,#fb0,#fe0,#ef0,#af0,#6f0,#5f0,#2f0,#0f0,#0f4,#0f7,#0fa,#0fc,#0ff,#0ef,#0ef,#0cf)"></i><i style="background:linear-gradient(#0f6,#0f3,#2f0,#6f0,#9f0,#cf0,#af0,#af0,#af0,#cf0,#ff0,#fe0,#fd0,#fc0,#fa0,#f70,#f60,#f60,#f80,#fa0,#fd0,#ef0,#bf0,#6f0,#4f0,#2f0,#0f1,#0f4,#0f7,#0fa,#0fd,#0fe,#0ff,#0ef,#0cf)"></i><i style="background:linear-gradient(#0f8,#0f4,#1f0,#5f0,#8f0,#af0,#af0,#9f0,#af0,#df0,#fe0,#fe0,#fe0,#fd0,#fb0,#f80,#f70,#f70,#f80,#fb0,#fd0,#ef0,#bf0,#6f0,#4f0,#2f0,#0f1,#0f4,#0f7,#0fa,#0fc,#0fe,#0ef,#0ef,#0df)"></i><i style="background:linear-gradient(#0f9,#0f5,#0f0,#3f0,#6f0,#9f0,#8f0,#8f0,#9f0,#df0,#fe0,#fd0,#fe0,#fd0,#fb0,#f80,#f70,#f60,#f80,#fa0,#fd0,#ef0,#af0,#7f0,#5f0,#2f0,#0f0,#0f3,#0f7,#0fa,#0fd,#0ff,#0ef,#0ef,#0cf)"></i><i style="background:linear-gradient(#0fa,#0f6,#0f2,#2f0,#4f0,#6f0,#7f0,#6f0,#8f0,#cf0,#fe0,#fd0,#fe0,#fd0,#fb0,#f90,#f70,#f70,#f80,#fa0,#fd0,#ff0,#bf0,#7f0,#4f0,#2f0,#0f0,#0f4,#0f7,#0fa,#0fd,#0ff,#0ef,#0df,#0cf)"></i><i style="background:linear-gradient(#0fb,#0f8,#0f4,#0f0,#3f0,#4f0,#4f0,#4f0,#7f0,#af0,#ef0,#ef0,#ef0,#ff0,#fd0,#fb0,#fa0,#f90,#fa0,#fb0,#fd0,#ef0,#bf0,#7f0,#5f0,#3f0,#0f0,#0f4,#0f7,#0fa,#0fc,#0fe,#0ef,#0df,#0cf)"></i><i style="background:linear-gradient(#0fc,#0f8,#0f5,#0f1,#0f0,#2f0,#2f0,#2f0,#4f0,#7f0,#bf0,#cf0,#df0,#ef0,#fe0,#fc0,#fa0,#fa0,#fa0,#fc0,#fd0,#ff0,#cf0,#8f0,#5f0,#3f0,#0f0,#0f3,#0f7,#0fa,#0fc,#0fe,#0ff,#0df,#0cf)"></i><i style="background:linear-gradient(#0fc,#0f9,#0f6,#0f4,#0f2,#0f0,#0f0,#0f0,#1f0,#4f0,#8f0,#af0,#bf0,#df0,#ff0,#fd0,#fb0,#fa0,#fa0,#fc0,#fd0,#ff0,#cf0,#8f0,#6f0,#3f0,#0f0,#0f3,#0f7,#0fa,#0fc,#0fe,#0ef,#0df,#0cf)"></i><i style="background:linear-gradient(#0fc,#0f9,#0f7,#0f5,#0f4,#0f2,#0f3,#0f2,#0f1,#3f0,#6f0,#8f0,#af0,#cf0,#ff0,#fe0,#fc0,#fc0,#fb0,#fc0,#fe0,#ff0,#cf0,#9f0,#7f0,#4f0,#1f0,#0f2,#0f6,#0f9,#0fb,#0fe,#0ff,#0ef,#0cf)"></i><i style="background:linear-gradient(#0fc,#0f9,#0f8,#0f6,#0f5,#0f3,#0f3,#0f3,#0f2,#2f0,#5f0,#8f0,#af0,#cf0,#ff0,#fd0,#fb0,#fb0,#fa0,#fc0,#fc0,#ff0,#df0,#bf0,#7f0,#4f0,#1f0,#0f2,#0f5,#0f8,#0fb,#0fd,#0ff,#0ef,#0df)"></i><i style="background:linear-gradient(#0fc,#0f9,#0f8,#0f7,#0f5,#0f4,#0f4,#0f5,#0f3,#2f0,#5f0,#7f0,#af0,#cf0,#ff0,#fe0,#fc0,#fb0,#fb0,#fc0,#fc0,#fe0,#df0,#bf0,#7f0,#4f0,#2f0,#0f0,#0f4,#0f7,#0fa,#0fd,#0ff,#0ff,#0ef)"></i><i style="background:linear-gradient(#0fc,#0f9,#0f9,#0f7,#0f5,#0f4,#0f4,#0f5,#0f2,#1f0,#5f0,#7f0,#af0,#cf0,#ff0,#fd0,#fb0,#fa0,#f90,#fa0,#fc0,#fe0,#ef0,#bf0,#9f0,#4f0,#2f0,#0f0,#0f4,#0f7,#0fa,#0fc,#0fe,#0ef,#0df)"></i><i style="background:linear-gradient(#0fc,#0f9,#0f8,#0f7,#0f6,#0f4,#0f5,#0f5,#0f2,#1f0,#5f0,#7f0,#af0,#cf0,#ff0,#fe0,#fc0,#fb0,#fb0,#fb0,#fc0,#fe0,#ef0,#cf0,#9f0,#5f0,#3f0,#0f0,#0f3,#0f6,#0f9,#0fc,#0fe,#0ff,#0ef)"></i><i style="background:linear-gradient(#0fc,#0fa,#0f9,#0f6,#0f6,#0f5,#0f4,#0f4,#0f2,#1f0,#5f0,#7f0,#af0,#cf0,#ef0,#fe0,#fc0,#fc0,#fb0,#fc0,#fd0,#ff0,#ef0,#cf0,#9f0,#5f0,#3f0,#1f0,#0f3,#0f6,#0f9,#0fc,#0fe,#0fe,#0ff)"></i><i style="background:linear-gradient(#0fd,#0fa,#0f9,#0f7,#0f6,#0f5,#0f4,#0f5,#0f2,#1f0,#5f0,#7f0,#9f0,#cf0,#ff0,#fd0,#fa0,#fa0,#f90,#fa0,#fb0,#fd0,#ef0,#bf0,#9f0,#6f0,#3f0,#1f0,#0f3,#0f7,#0f9,#0fc,#0fe,#0fe,#0ff)"></i><i style="background:linear-gradient(#0fc,#0fa,#0f9,#0f7,#0f5,#0f5,#0f4,#0f4,#0f2,#2f0,#5f0,#7f0,#af0,#cf0,#ef0,#fe0,#fb0,#fb0,#fa0,#fb0,#fc0,#fe0,#ef0,#cf0,#9f0,#5f0,#2f0,#0f0,#0f2,#0f6,#0f9,#0fc,#0fd,#0fe,#0ff)"></i><i style="background:linear-gradient(#0fc,#0fa,#0f9,#0f8,#0f6,#0f4,#0f4,#0f4,#0f2,#1f0,#5f0,#7f0,#af0,#cf0,#ef0,#ff0,#fd0,#fc0,#fc0,#fd0,#fe0,#ff0,#ef0,#cf0,#9f0,#5f0,#2f0,#1f0,#0f2,#0f6,#0f8,#0fc,#0fe,#0fe,#0ff)"></i><i style="background:linear-gradient(#0fc,#0f9,#0f8,#0f7,#0f6,#0f4,#0f4,#0f4,#0f2,#2f0,#5f0,#7f0,#af0,#cf0,#ef0,#fe0,#fc0,#fb0,#fb0,#fc0,#fd0,#fe0,#ef0,#bf0,#8f0,#5f0,#2f0,#0f0,#0f3,#0f6,#0f9,#0fc,#0fe,#0ff,#0ff)"></i><i style="background:linear-gradient(#0fc,#0f9,#0f8,#0f7,#0f6,#0f4,#0f5,#0f5,#0f2,#1f0,#5f0,#7f0,#9f0,#cf0,#ff0,#fd0,#fb0,#fa0,#fa0,#fb0,#fc0,#fe0,#ef0,#cf0,#9f0,#5f0,#2f0,#0f0,#0f3,#0f6,#0f9,#0fb,#0fe,#0fe,#0fe)"></i><i style="background:linear-gradient(#0fc,#0f9,#0f8,#0f7,#0f6,#0f4,#0f4,#0f5,#0f3,#1f0,#5f0,#7f0,#af0,#cf0,#ef0,#fe0,#fd0,#fc0,#fc0,#fd0,#fe0,#ff0,#ef0,#bf0,#8f0,#5f0,#2f0,#0f0,#0f2,#0f6,#0f8,#0fc,#0fd,#0fe,#0ff)"></i><i style="background:linear-gradient(#0fc,#0fa,#0f9,#0f7,#0f6,#0f4,#0f4,#0f5,#0f3,#1f0,#5f0,#8f0,#af0,#cf0,#ff0,#fd0,#f90,#f90,#f80,#f90,#fa0,#fd0,#ef0,#bf0,#9f0,#6f0,#3f0,#1f0,#0f2,#0f5,#0f9,#0fb,#0fe,#0ff,#0ff)"></i><i style="background:linear-gradient(#0fc,#0f9,#0f8,#0f7,#0f5,#0f5,#0f4,#0f4,#0f3,#2f0,#5f0,#7f0,#af0,#cf0,#ff0,#ff0,#fd0,#fc0,#fc0,#fd0,#fe0,#ff0,#ef0,#cf0,#9f0,#5f0,#3f0,#0f0,#0f2,#0f7,#0f9,#0fc,#0fe,#0fe,#0ff)"></i><i style="background:linear-gradient(#0fd,#0f9,#0f8,#0f7,#0f5,#0f4,#0f4,#0f4,#0f3,#2f0,#6f0,#8f0,#9f0,#bf0,#ef0,#fe0,#fc0,#fb0,#fa0,#fb0,#fc0,#fe0,#ef0,#bf0,#9f0,#6f0,#3f0,#0f0,#0f3,#0f6,#0f9,#0fc,#0fe,#0fe,#0ff)"></i><i style="background:linear-gradient(#0fc,#0f9,#0f8,#0f8,#0f5,#0f4,#0f5,#0f4,#0f2,#2f0,#6f0,#8f0,#af0,#bf0,#ef0,#fe0,#fb0,#fb0,#fa0,#fb0,#fc0,#fe0,#df0,#bf0,#8f0,#5f0,#3f0,#1f0,#0f3,#0f6,#0f9,#0fc,#0fd,#0fe,#0ff)"></i><i style="background:linear-gradient(#0fc,#0f9,#0f8,#0f7,#0f5,#0f4,#0f4,#0f4,#0f2,#2f0,#7f0,#8f0,#9f0,#af0,#cf0,#ef0,#fe0,#fd0,#fc0,#fd0,#fd0,#ff0,#df0,#bf0,#8f0,#5f0,#2f0,#0f0,#0f3,#0f6,#0f9,#0fc,#0fe,#0fe,#0ff)"></i><i style="background:linear-gradient(#0fc,#0f9,#0f8,#0f7,#0f5,#0f4,#0f4,#0f4,#0f2,#3f0,#8f0,#9f0,#8f0,#9f0,#af0,#cf0,#ef0,#ff0,#fe0,#fe0,#fe0,#df0,#cf0,#bf0,#8f0,#5f0,#3f0,#0f0,#0f3,#0f6,#0f9,#0fb,#0fe,#0fe,#0ff)"></i><i style="background:linear-gradient(#0fc,#0fa,#0f9,#0f7,#0f5,#0f4,#0f5,#0f4,#0f2,#4f0,#af0,#af0,#8f0,#9f0,#af0,#cf0,#ef0,#ef0,#ff0,#ef0,#ef0,#df0,#cf0,#af0,#9f0,#5f0,#3f0,#0f0,#0f3,#0f6,#0f9,#0fc,#0fd,#0fe,#0ff)"></i><i style="background:linear-gradient(#0fc,#0f9,#0f8,#0f6,#0f6,#0f4,#0f4,#0f5,#0f1,#5f0,#bf0,#af0,#9f0,#af0,#cf0,#ef0,#fd0,#fd0,#fc0,#fd0,#fd0,#ff0,#df0,#bf0,#8f0,#5f0,#3f0,#0f0,#0f2,#0f5,#0f9,#0fb,#0fe,#0fe,#0ff)"></i><i style="background:linear-gradient(#0fc,#0f9,#0f8,#0f6,#0f4,#0f4,#0f3,#0f3,#0f1,#6f0,#cf0,#cf0,#af0,#bf0,#df0,#fe0,#fc0,#fb0,#fa0,#fb0,#fc0,#fe0,#ef0,#bf0,#9f0,#6f0,#2f0,#0f0,#0f2,#0f6,#0f9,#0fc,#0fe,#0fe,#0ff)"></i><i style="background:linear-gradient(#0fc,#0f9,#0f8,#0f5,#0f5,#0f3,#0f3,#0f3,#0f0,#6f0,#df0,#cf0,#bf0,#cf0,#ff0,#fd0,#fb0,#fa0,#fa0,#fb0,#fc0,#fe0,#df0,#bf0,#9f0,#5f0,#3f0,#1f0,#0f3,#0f6,#0f9,#0fb,#0fd,#0fe,#0ff)"></i><i style="background:linear-gradient(#0fc,#0f9,#0f6,#0f5,#0f3,#0f2,#0f2,#0f2,#0f0,#7f0,#df0,#cf0,#bf0,#df0,#ff0,#fd0,#fa0,#f90,#f90,#fa0,#fb0,#fd0,#ef0,#cf0,#af0,#5f0,#3f0,#1f0,#0f2,#0f6,#0f9,#0fc,#0fe,#0fe,#0ff)"></i><i style="background:linear-gradient(#0fd,#0f8,#0f6,#0f4,#0f3,#0f2,#0f2,#0f1,#0f0,#6f0,#cf0,#cf0,#bf0,#cf0,#ff0,#fd0,#fb0,#fa0,#fa0,#fb0,#fc0,#fe0,#ef0,#bf0,#9f0,#5f0,#3f0,#0f0,#0f2,#0f6,#0f9,#0fc,#0fe,#0fe,#0ff)"></i><i style="background:linear-gradient(#0fc,#0f8,#0f6,#0f4,#0f2,#0f1,#0f2,#0f1,#1f0,#6f0,#bf0,#bf0,#bf0,#cf0,#ef0,#fe0,#fb0,#fb0,#fa0,#fb0,#fc0,#fe0,#ef0,#cf0,#9f0,#5f0,#2f0,#1f0,#0f3,#0f6,#0f9,#0fc,#0fd,#0ff,#0ff)"></i><i style="background:linear-gradient(#0fc,#0f9,#0f6,#0f3,#0f2,#0f1,#0f1,#0f1,#0f0,#5f0,#af0,#af0,#af0,#cf0,#ff0,#fd0,#fa0,#f90,#f90,#fa0,#fb0,#fd0,#ef0,#cf0,#9f0,#5f0,#3f0,#0f0,#0f2,#0f6,#0f9,#0fc,#0fe,#0ff,#0ff)"></i><i style="background:linear-gradient(#0fc,#0f9,#0f6,#0f3,#0f2,#0f1,#0f1,#0f1,#0f0,#5f0,#9f0,#af0,#af0,#df0,#ef0,#fd0,#fb0,#fb0,#fb0,#fb0,#fc0,#fe0,#ef0,#bf0,#9f0,#5f0,#3f0,#0f0,#0f2,#0f5,#0f9,#0fb,#0fd,#0fe,#0ff)"></i><i style="background:linear-gradient(#0fc,#0f9,#0f5,#0f4,#0f2,#0f2,#0f1,#0f1,#1f0,#4f0,#7f0,#9f0,#af0,#cf0,#ef0,#ff0,#fc0,#fc0,#fb0,#fc0,#fd0,#ff0,#ef0,#bf0,#9f0,#5f0,#3f0,#0f0,#0f2,#0f6,#0f9,#0fd,#0fe,#0fe,#0ff)"></i><i style="background:linear-gradient(#0fc,#0f8,#0f5,#0f3,#0f3,#0f1,#0f1,#0f1,#0f0,#3f0,#6f0,#8f0,#af0,#cf0,#ff0,#fd0,#fa0,#f90,#f90,#fa0,#fb0,#fd0,#ef0,#cf0,#9f0,#5f0,#2f0,#1f0,#0f2,#0f6,#0f9,#0fb,#0fd,#0fe,#0ff)"></i><i style="background:linear-gradient(#0fc,#0f8,#0f6,#0f4,#0f2,#0f1,#0f1,#0f1,#0f0,#3f0,#6f0,#7f0,#af0,#cf0,#ff0,#fd0,#fa0,#f90,#f90,#fa0,#fb0,#fd0,#ef0,#bf0,#9f0,#5f0,#2f0,#1f0,#0f3,#0f6,#0f9,#0fc,#0fe,#0fe,#0ff)"></i><i style="background:linear-gradient(#0fc,#0f9,#0f6,#0f3,#0f2,#0f1,#0f1,#0f1,#0f0,#3f0,#5f0,#8f0,#af0,#cf0,#ff0,#fd0,#fa0,#f90,#f90,#fa0,#fb0,#fd0,#ef0,#bf0,#9f0,#5f0,#2f0,#0f0,#0f2,#0f6,#0f9,#0fc,#0fe,#0ff,#0ff)"></i><i style="background:linear-gradient(#0fc,#0f8,#0f5,#0f3,#0f2,#0f1,#0f1,#0f1,#1f0,#3f0,#5f0,#7f0,#af0,#cf0,#ef0,#fd0,#fb0,#fa0,#fa0,#fb0,#fc0,#fe0,#ef0,#cf0,#8f0,#5f0,#3f0,#0f0,#0f2,#0f6,#0f9,#0fb,#0fe,#0ff,#0ff)"></i><i style="background:linear-gradient(#0fc,#0f8,#0f6,#0f3,#0f3,#0f1,#0f1,#0f1,#0f0,#3f0,#5f0,#7f0,#af0,#cf0,#ff0,#fd0,#fb0,#fa0,#fa0,#fb0,#fc0,#fe0,#ef0,#cf0,#9f0,#5f0,#3f0,#1f0,#0f2,#0f6,#0f9,#0fb,#0fe,#0fe,#0ff)"></i><i style="background:linear-gradient(#0fc,#0f9,#0f6,#0f4,#0f2,#0f1,#0f2,#0f1,#0f0,#2f0,#5f0,#7f0,#af0,#cf0,#ef0,#fe0,#fc0,#fc0,#fc0,#fc0,#fd0,#ff0,#ef0,#bf0,#8f0,#6f0,#2f0,#0f0,#0f2,#0f6,#0f9,#0fc,#0fe,#0fe,#0ff)"></i><i style="background:linear-gradient(#0fd,#0f9,#0f6,#0f3,#0f2,#0f2,#0f1,#0f2,#0f0,#3f0,#5f0,#8f0,#af0,#df0,#ff0,#fd0,#fa0,#fa0,#f90,#fa0,#fc0,#fd0,#ef0,#bf0,#8f0,#6f0,#2f0,#0f0,#0f2,#0f6,#0f9,#0fc,#0fe,#0fe,#0ff)"></i><i style="background:linear-gradient(#0fc,#0f9,#0f5,#0f4,#0f2,#0f1,#0f1,#0f1,#0f0,#3f0,#6f0,#8f0,#bf0,#cf0,#ef0,#fe0,#fb0,#fb0,#fa0,#fb0,#fc0,#fe0,#ef0,#cf0,#9f0,#5f0,#3f0,#0f0,#0f2,#0f6,#0f9,#0fc,#0fd,#0fe,#0ff)"></i><i style="background:linear-gradient(#0fc,#0f9,#0f5,#0f4,#0f2,#0f1,#0f1,#0f1,#0f0,#3f0,#6f0,#af0,#bf0,#df0,#ff0,#fc0,#f90,#f90,#f80,#f90,#fa0,#fd0,#ef0,#cf0,#9f0,#5f0,#3f0,#0f0,#0f3,#0f6,#0f9,#0fc,#0fe,#0fe,#0ff)"></i><i style="background:linear-gradient(#0fc,#0f8,#0f5,#0f3,#0f2,#0f0,#0f0,#0f0,#1f0,#3f0,#6f0,#af0,#cf0,#df0,#ff0,#fc0,#fa0,#fa0,#f90,#fa0,#fb0,#fe0,#ef0,#cf0,#8f0,#6f0,#3f0,#0f0,#0f3,#0f6,#0f9,#0fc,#0fe,#0fe,#0ff)"></i><i style="background:linear-gradient(#0fc,#0f9,#0f5,#0f3,#0f1,#0f0,#0f0,#0f0,#1f0,#3f0,#7f0,#bf0,#df0,#df0,#ff0,#fe0,#fd0,#fc0,#fc0,#fc0,#fd0,#ff0,#ef0,#bf0,#9f0,#5f0,#2f0,#0f0,#0f2,#0f6,#0f9,#0fc,#0fe,#0ff,#0ff)"></i><i style="background:linear-gradient(#0fc,#0f9,#0f5,#0f2,#0f1,#1f0,#0f0,#0f0,#1f0,#4f0,#8f0,#cf0,#df0,#ef0,#ff0,#fe0,#fc0,#fb0,#fb0,#fc0,#fd0,#fe0,#ef0,#bf0,#9f0,#6f0,#3f0,#0f0,#0f2,#0f5,#0f9,#0fb,#0fd,#0fe,#0ff)"></i><i style="background:linear-gradient(#0fc,#0f9,#0f5,#0f2,#0f0,#0f0,#1f0,#1f0,#2f0,#4f0,#9f0,#df0,#ef0,#ff0,#ff0,#fe0,#fb0,#fb0,#fa0,#fb0,#fc0,#fe0,#ef0,#bf0,#9f0,#5f0,#3f0,#0f0,#0f3,#0f6,#0f9,#0fc,#0fd,#0fe,#0ff)"></i><i style="background:linear-gradient(#0fc,#0f9,#0f4,#0f1,#1f0,#1f0,#1f0,#1f0,#2f0,#4f0,#af0,#ef0,#fe0,#ff0,#fe0,#fd0,#fa0,#fa0,#f90,#fa0,#fb0,#fd0,#ef0,#bf0,#9f0,#5f0,#3f0,#0f0,#0f3,#0f6,#0f9,#0fc,#0fe,#0fe,#0ff)"></i><i style="background:linear-gradient(#0fd,#0f8,#0f4,#0f1,#0f1,#2f0,#2f0,#2f0,#2f0,#5f0,#af0,#ff0,#fd0,#ff0,#fe0,#fc0,#fa0,#f90,#f90,#fa0,#fb0,#fd0,#ef0,#bf0,#9f0,#6f0,#2f0,#0f0,#0f3,#0f6,#0f9,#0fc,#0fe,#0fe,#0ff)"></i><i style="background:linear-gradient(#0fc,#0f9,#0f4,#0f0,#1f0,#2f0,#2f0,#2f0,#3f0,#5f0,#bf0,#fe0,#fd0,#fe0,#fe0,#fc0,#f90,#f90,#f80,#f90,#fa0,#fd0,#ef0,#cf0,#9f0,#6f0,#3f0,#0f0,#0f3,#0f6,#0f9,#0fc,#0fe,#0fe,#0ff)"></i><i style="background:linear-gradient(#0fc,#0f8,#0f5,#0f0,#0f0,#2f0,#2f0,#2f0,#2f0,#5f0,#bf0,#fe0,#fe0,#ff0,#ff0,#fe0,#fc0,#fb0,#fa0,#fb0,#fc0,#fe0,#ef0,#cf0,#9f0,#5f0,#2f0,#0f0,#0f3,#0f6,#0f9,#0fb,#0fe,#0fe,#0ff)"></i><i style="background:linear-gradient(#0fc,#0f8,#0f5,#0f1,#1f0,#2f0,#2f0,#2f0,#3f0,#6f0,#bf0,#fe0,#fd0,#fe0,#fe0,#fd0,#fb0,#fb0,#fa0,#fb0,#fc0,#fe0,#ef0,#cf0,#9f0,#5f0,#2f0,#0f0,#0f2,#0f5,#0f9,#0fc,#0fd,#0fe,#0ff)"></i><i style="background:linear-gradient(#0fc,#0f8,#0f5,#0f0,#1f0,#2f0,#2f0,#2f0,#3f0,#6f0,#cf0,#fd0,#fd0,#fe0,#fe0,#fd0,#fb0,#fa0,#fa0,#fb0,#fc0,#fe0,#ef0,#bf0,#9f0,#5f0,#3f0,#0f0,#0f2,#0f6,#0f8,#0fc,#0fe,#0fe,#0ef)"></i><i style="background:linear-gradient(#0fd,#0f8,#0f4,#0f0,#1f0,#2f0,#2f0,#2f0,#3f0,#6f0,#cf0,#fe0,#fd0,#fe0,#ff0,#fe0,#fd0,#fc0,#fc0,#fd0,#fd0,#ff0,#ef0,#bf0,#9f0,#6f0,#3f0,#0f0,#0f2,#0f6,#0f9,#0fb,#0fe,#0ff,#0ff)"></i><i style="background:linear-gradient(#0fc,#0f9,#0f5,#0f1,#1f0,#2f0,#2f0,#2f0,#2f0,#6f0,#cf0,#fb0,#fb0,#fd0,#fe0,#fe0,#fc0,#fb0,#fb0,#fc0,#fc0,#fe0,#df0,#bf0,#9f0,#6f0,#2f0,#0f0,#0f3,#0f6,#0f9,#0fc,#0fd,#0fe,#0ff)"></i><i style="background:linear-gradient(#0fc,#0f9,#0f4,#0f0,#1f0,#2f0,#2f0,#2f0,#3f0,#7f0,#df0,#fc0,#fb0,#fe0,#ff0,#ff0,#fd0,#fd0,#fd0,#fd0,#fe0,#ff0,#df0,#bf0,#9f0,#5f0,#2f0,#0f0,#0f2,#0f5,#0f8,#0fc,#0fd,#0fe,#0ff)"></i><i style="background:linear-gradient(#0fc,#0f8,#0f4,#0f1,#1f0,#2f0,#2f0,#2f0,#3f0,#6f0,#df0,#fc0,#fb0,#fd0,#ef0,#ff0,#fd0,#fd0,#fd0,#fd0,#fe0,#ff0,#df0,#bf0,#8f0,#5f0,#2f0,#0f0,#0f2,#0f6,#0f9,#0fc,#0fe,#0fe,#0ff)"></i><i style="background:linear-gradient(#0fd,#0f8,#0f4,#0f1,#1f0,#2f0,#2f0,#2f0,#3f0,#6f0,#ef0,#fc0,#fb0,#fe0,#ff0,#ff0,#fe0,#fd0,#fd0,#fe0,#fe0,#ff0,#df0,#bf0,#8f0,#5f0,#3f0,#0f0,#0f3,#0f6,#0f8,#0fc,#0fe,#0fe,#0ff)"></i><i style="background:linear-gradient(#0fd,#0f8,#0f5,#0f1,#1f0,#2f0,#2f0,#2f0,#3f0,#6f0,#ef0,#fc0,#fc0,#fe0,#ff0,#ff0,#fd0,#fd0,#fd0,#fe0,#fe0,#ff0,#df0,#cf0,#9f0,#6f0,#2f0,#0f0,#0f3,#0f6,#0f9,#0fc,#0fd,#0fe,#0ff)"></i><i style="background:linear-gradient(#0fc,#0f9,#0f4,#0f0,#1f0,#2f0,#2f0,#2f0,#3f0,#6f0,#ef0,#fb0,#fa0,#fd0,#fe0,#fe0,#fc0,#fc0,#fb0,#fc0,#fd0,#fe0,#df0,#cf0,#9f0,#6f0,#2f0,#0f0,#0f3,#0f5,#0f9,#0fc,#0fe,#0fe,#0ff)"></i><i style="background:linear-gradient(#0fc,#0f9,#0f4,#0f1,#1f0,#2f0,#2f0,#2f0,#3f0,#6f0,#ef0,#fb0,#fb0,#fd0,#ff0,#fe0,#fc0,#fc0,#fb0,#fc0,#fd0,#fe0,#ef0,#bf0,#8f0,#6f0,#2f0,#1f0,#0f3,#0f6,#0f9,#0fc,#0fd,#0fe,#0ff)"></i><i style="background:linear-gradient(#0fd,#0f9,#0f4,#0f0,#1f0,#2f0,#2f0,#1f0,#3f0,#6f0,#ef0,#fc0,#fb0,#fe0,#ff0,#fe0,#fc0,#fc0,#fc0,#fd0,#fd0,#ff0,#df0,#bf0,#9f0,#6f0,#3f0,#0f0,#0f2,#0f6,#0f9,#0fc,#0fe,#0ff,#0ff)"></i><i style="background:linear-gradient(#0fc,#0f9,#0f5,#0f1,#1f0,#2f0,#2f0,#2f0,#3f0,#7f0,#ef0,#fc0,#fb0,#fd0,#ff0,#fe0,#fc0,#fc0,#fb0,#fc0,#fd0,#fe0,#df0,#bf0,#8f0,#6f0,#2f0,#0f0,#0f3,#0f6,#0f9,#0fc,#0fe,#0fe,#0ff)"></i><i style="background:linear-gradient(#0fc,#0f8,#0f4,#0f0,#1f0,#2f0,#1f0,#2f0,#3f0,#6f0,#df0,#fb0,#fa0,#fd0,#fe0,#fe0,#fc0,#fc0,#fb0,#fc0,#fd0,#fe0,#df0,#bf0,#8f0,#5f0,#3f0,#0f0,#0f3,#0f6,#0f9,#0fc,#0fe,#0ff,#0ff)"></i><i style="background:linear-gradient(#0fc,#0f8,#0f5,#0f0,#1f0,#2f0,#2f0,#1f0,#3f0,#7f0,#ef0,#fb0,#fa0,#fd0,#ff0,#fe0,#fd0,#fc0,#fc0,#fc0,#fd0,#ff0,#df0,#bf0,#8f0,#5f0,#3f0,#0f0,#0f3,#0f6,#0fa,#0fc,#0fd,#0fe,#0ff)"></i><i style="background:linear-gradient(#0fc,#0f8,#0f4,#0f1,#1f0,#2f0,#2f0,#2f0,#3f0,#7f0,#df0,#fc0,#fb0,#fd0,#ff0,#ff0,#fe0,#fd0,#fd0,#fd0,#fe0,#ff0,#df0,#bf0,#8f0,#6f0,#3f0,#1f0,#0f3,#0f6,#0f9,#0fb,#0fe,#0fe,#0ff)"></i><i style="background:linear-gradient(#0fc,#0f8,#0f5,#0f1,#1f0,#2f0,#2f0,#2f0,#3f0,#7f0,#ef0,#fb0,#fa0,#fd0,#ff0,#ff0,#fd0,#fd0,#fd0,#fd0,#fe0,#ff0,#df0,#bf0,#9f0,#6f0,#3f0,#0f0,#0f3,#0f6,#0f9,#0fb,#0fe,#0fe,#0ff)"></i><i style="background:linear-gradient(#0fc,#0f9,#0f5,#0f1,#1f0,#1f0,#2f0,#2f0,#3f0,#6f0,#df0,#fc0,#fb0,#fe0,#ff0,#ff0,#fe0,#fe0,#fe0,#fe0,#fe0,#ff0,#df0,#bf0,#9f0,#6f0,#2f0,#0f0,#0f2,#0f6,#0f9,#0fc,#0fd,#0fe,#0ff)"></i><i style="background:linear-gradient(#0fc,#0f8,#0f4,#0f1,#1f0,#2f0,#2f0,#2f0,#3f0,#7f0,#ef0,#fb0,#fa0,#fd0,#ff0,#ff0,#fe0,#fe0,#fd0,#fe0,#fe0,#ff0,#df0,#bf0,#8f0,#5f0,#3f0,#0f0,#0f3,#0f6,#0f9,#0fc,#0fe,#0fe,#0ff)"></i><i style="background:linear-gradient(#0fc,#0f9,#0f4,#0f1,#1f0,#2f0,#2f0,#2f0,#3f0,#6f0,#ef0,#fb0,#fb0,#fe0,#ef0,#ff0,#fe0,#fe0,#fe0,#fe0,#fe0,#ff0,#df0,#bf0,#9f0,#6f0,#3f0,#0f0,#0f3,#0f6,#0f9,#0fc,#0fe,#0fe,#0ff)"></i><i style="background:linear-gradient(#0fc,#0f9,#0f4,#0f0,#0f0,#2f0,#2f0,#2f0,#3f0,#6f0,#ef0,#fb0,#fb0,#fe0,#ef0,#ef0,#fe0,#fe0,#fe0,#fe0,#ff0,#ff0,#df0,#bf0,#9f0,#5f0,#3f0,#0f0,#0f3,#0f6,#0f9,#0fc,#0fd,#0ff,#0ff)"></i><i style="background:linear-gradient(#0fc,#0f8,#0f5,#0f1,#1f0,#1f0,#2f0,#2f0,#3f0,#7f0,#ef0,#fc0,#fb0,#fe0,#ef0,#ef0,#fe0,#fe0,#fe0,#fe0,#fe0,#ff0,#df0,#bf0,#9f0,#5f0,#3f0,#0f0,#0f2,#0f6,#0f9,#0fc,#0fd,#0fe,#0ff)"></i><i style="background:linear-gradient(#0fc,#0f8,#0f4,#0f0,#1f0,#1f0,#2f0,#2f0,#2f0,#7f0,#ef0,#fb0,#fa0,#fd0,#ff0,#ff0,#fe0,#fe0,#fe0,#fe0,#fe0,#ff0,#df0,#bf0,#9f0,#5f0,#2f0,#1f0,#0f3,#0f6,#0f9,#0fc,#0fd,#0fe,#0ff)"></i><i style="background:linear-gradient(#0fc,#0f8,#0f4,#0f1,#1f0,#2f0,#2f0,#2f0,#3f0,#6f0,#df0,#fb0,#fb0,#fd0,#ff0,#ff0,#fe0,#fe0,#fe0,#fe0,#fe0,#ef0,#df0,#bf0,#8f0,#6f0,#2f0,#0f0,#0f3,#0f6,#0f9,#0fc,#0fd,#0fe,#0ff)"></i><i style="background:linear-gradient(#0fc,#0f9,#0f5,#0f1,#1f0,#2f0,#2f0,#2f0,#3f0,#6f0,#df0,#fc0,#fb0,#fe0,#ef0,#ff0,#fe0,#fe0,#fe0,#fe0,#fe0,#ff0,#df0,#bf0,#9f0,#5f0,#2f0,#0f0,#0f3,#0f6,#0f9,#0fc,#0fe,#0fe,#0ff)"></i><i style="background:linear-gradient(#0fc,#0f9,#0f4,#0f1,#1f0,#1f0,#2f0,#2f0,#3f0,#6f0,#df0,#fc0,#fb0,#fe0,#ff0,#ff0,#fe0,#fe0,#fe0,#fe0,#fe0,#ef0,#df0,#bf0,#9f0,#6f0,#3f0,#1f0,#0f2,#0f6,#0f9,#0fc,#0fd,#0fe,#0ff)"></i><i style="background:linear-gradient(#0fc,#0f9,#0f5,#0f1,#1f0,#2f0,#2f0,#2f0,#3f0,#7f0,#ef0,#fc0,#fb0,#fe0,#ef0,#ff0,#fe0,#fe0,#fe0,#fe0,#ff0,#ff0,#cf0,#bf0,#8f0,#6f0,#2f0,#0f0,#0f3,#0f6,#0f9,#0fc,#0fd,#0fe,#0ff)"></i><i style="background:linear-gradient(#0fd,#0f9,#0f4,#0f1,#1f0,#2f0,#2f0,#2f0,#2f0,#6f0,#df0,#fc0,#fb0,#fe0,#ff0,#ff0,#fe0,#fe0,#fd0,#fe0,#fe0,#ff0,#df0,#bf0,#8f0,#5f0,#2f0,#1f0,#0f3,#0f6,#0f9,#0fc,#0fe,#0fd,#0ff)"></i><i style="background:linear-gradient(#0fc,#0f8,#0f5,#0f0,#1f0,#2f0,#2f0,#2f0,#3f0,#6f0,#df0,#fc0,#fb0,#fe0,#ff0,#ff0,#fe0,#fe0,#fd0,#fe0,#fe0,#ff0,#df0,#bf0,#8f0,#5f0,#2f0,#0f0,#0f3,#0f7,#0f9,#0fc,#0fe,#0fe,#0ff)"></i><i style="background:linear-gradient(#0fc,#0f9,#0f5,#0f1,#1f0,#1f0,#2f0,#2f0,#3f0,#6f0,#ef0,#fb0,#fb0,#fd0,#ff0,#ff0,#fc0,#fc0,#fc0,#fd0,#fd0,#ff0,#df0,#bf0,#8f0,#5f0,#2f0,#0f0,#0f3,#0f6,#0f9,#0fc,#0fd,#0fe,#0fe)"></i><i style="background:linear-gradient(#0fd,#0f8,#0f5,#0f0,#1f0,#2f0,#2f0,#1f0,#3f0,#6f0,#ef0,#fb0,#fa0,#fd0,#ff0,#fe0,#fc0,#fb0,#fb0,#fc0,#fd0,#ff0,#df0,#bf0,#8f0,#5f0,#2f0,#0f0,#0f2,#0f6,#0f9,#0fc,#0fd,#0fe,#0ff)"></i><i style="background:linear-gradient(#0fc,#0f8,#0f4,#0f1,#1f0,#1f0,#2f0,#2f0,#3f0,#6f0,#df0,#fb0,#fa0,#fd0,#ff0,#fe0,#fb0,#fb0,#fa0,#fb0,#fc0,#fe0,#df0,#bf0,#8f0,#6f0,#2f0,#1f0,#0f2,#0f6,#0f9,#0fb,#0fe,#0fe,#0ff)"></i><i style="background:linear-gradient(#0fc,#0f8,#0f4,#0f1,#1f0,#2f0,#2f0,#2f0,#3f0,#7f0,#ef0,#fb0,#fb0,#fd0,#fe0,#fe0,#fb0,#fb0,#fa0,#fb0,#fd0,#fe0,#df0,#bf0,#9f0,#5f0,#3f0,#0f0,#0f3,#0f6,#0f9,#0fb,#0fe,#0fe,#0ff)"></i><i style="background:linear-gradient(#0fc,#0f8,#0f4,#0f0,#1f0,#2f0,#1f0,#2f0,#3f0,#6f0,#ef0,#fb0,#fb0,#fd0,#ff0,#fe0,#fc0,#fc0,#fb0,#fc0,#fd0,#ff0,#df0,#bf0,#8f0,#5f0,#3f0,#0f0,#0f3,#0f5,#0f9,#0fc,#0fd,#0fe,#0ff)"></i><i style="background:linear-gradient(#0fc,#0f9,#0f4,#0f0,#1f0,#2f0,#2f0,#2f0,#3f0,#6f0,#ef0,#fc0,#fb0,#fe0,#ff0,#ff0,#fd0,#fd0,#fc0,#fd0,#fe0,#ff0,#df0,#bf0,#9f0,#5f0,#2f0,#0f0,#0f3,#0f6,#0f9,#0fc,#0fd,#0fe,#0ff)"></i><i style="background:linear-gradient(#0fd,#0f9,#0f4,#0f2,#0f0,#2f0,#2f0,#2f0,#3f0,#6f0,#df0,#fc0,#fb0,#fd0,#ef0,#ff0,#fd0,#fd0,#fd0,#fd0,#fe0,#ff0,#df0,#bf0,#8f0,#5f0,#2f0,#0f0,#0f3,#0f6,#0fa,#0fc,#0fe,#0fe,#0ff)"></i><i style="background:linear-gradient(#0fc,#0f9,#0f5,#0f1,#1f0,#2f0,#2f0,#2f0,#3f0,#6f0,#ef0,#fb0,#fa0,#fd0,#ff0,#ff0,#fd0,#fd0,#fd0,#fd0,#fe0,#ff0,#df0,#bf0,#8f0,#5f0,#3f0,#1f0,#0f3,#0f6,#0f9,#0fc,#0fe,#0fe,#0ff)"></i><i style="background:linear-gradient(#0fc,#0f9,#0f4,#0f1,#1f0,#2f0,#2f0,#2f0,#3f0,#6f0,#ef0,#fb0,#fa0,#fd0,#ff0,#ff0,#fd0,#fd0,#fd0,#fd0,#fe0,#ff0,#df0,#bf0,#9f0,#5f0,#3f0,#1f0,#0f3,#0f6,#0f9,#0fc,#0fd,#0fe,#0ff)"></i><i style="background:linear-gradient(#0fc,#0f8,#0f4,#0f1,#1f0,#2f0,#2f0,#2f0,#3f0,#7f0,#df0,#fb0,#fb0,#fd0,#ff0,#ff0,#fe0,#fe0,#fd0,#fe0,#fe0,#ff0,#df0,#bf0,#8f0,#5f0,#2f0,#0f0,#0f3,#0f6,#0f9,#0fc,#0fd,#0fe,#0ff)"></i><i style="background:linear-gradient(#0fd,#0f9,#0f4,#0f1,#1f0,#2f0,#2f0,#1f0,#3f0,#7f0,#df0,#fc0,#fb0,#fe0,#ef0,#ef0,#fe0,#fe0,#fe0,#fe0,#fe0,#ff0,#df0,#bf0,#9f0,#6f0,#2f0,#1f0,#0f3,#0f6,#0f9,#0fc,#0fe,#0fe,#0ff)"></i><i style="background:linear-gradient(#0fc,#0f9,#0f4,#0f1,#1f0,#2f0,#1f0,#2f0,#3f0,#6f0,#df0,#fc0,#fb0,#fe0,#ef0,#ff0,#fe0,#fe0,#fe0,#fe0,#fe0,#ef0,#cf0,#bf0,#9f0,#6f0,#3f0,#0f0,#0f3,#0f6,#0f9,#0fc,#0fe,#0fe,#0ff)"></i><i style="background:linear-gradient(#0fc,#0f9,#0f4,#0f1,#1f0,#2f0,#2f0,#2f0,#3f0,#6f0,#df0,#fc0,#fc0,#fe0,#ef0,#ef0,#fe0,#fe0,#fe0,#fe0,#fe0,#ff0,#df0,#bf0,#8f0,#5f0,#3f0,#0f0,#0f3,#0f6,#0f9,#0fc,#0fd,#0fe,#0ff)"></i><i style="background:linear-gradient(#0fc,#0f9,#0f4,#0f1,#1f0,#2f0,#2f0,#1f0,#3f0,#6f0,#df0,#fc0,#fb0,#fe0,#ef0,#ff0,#fe0,#fe0,#fd0,#fe0,#fe0,#ff0,#cf0,#bf0,#9f0,#5f0,#2f0,#0f0,#0f3,#0f5,#0f8,#0fc,#0fe,#0fe,#0ff)"></i><i style="background:linear-gradient(#0fd,#0f9,#0f4,#0f0,#1f0,#2f0,#2f0,#2f0,#3f0,#6f0,#cf0,#fd0,#fc0,#fe0,#ff0,#ff0,#fe0,#fe0,#fe0,#fe0,#fe0,#ef0,#df0,#bf0,#9f0,#6f0,#2f0,#0f0,#0f3,#0f6,#0f9,#0fc,#0fe,#0fe,#0ff)"></i><i style="background:linear-gradient(#0fd,#0f9,#0f4,#0f1,#1f0,#2f0,#2f0,#2f0,#3f0,#6f0,#cf0,#fc0,#fc0,#fe0,#ef0,#ef0,#fe0,#fe0,#fe0,#fe0,#fe0,#ef0,#df0,#bf0,#9f0,#5f0,#3f0,#0f0,#0f3,#0f6,#0f9,#0fc,#0fe,#0fe,#0ff)"></i><i style="background:linear-gradient(#0fc,#0f8,#0f4,#0f1,#1f0,#2f0,#2f0,#2f0,#3f0,#6f0,#cf0,#fd0,#fc0,#fe0,#ef0,#ef0,#fe0,#fe0,#fe0,#fe0,#fe0,#ef0,#cf0,#bf0,#8f0,#6f0,#2f0,#1f0,#0f3,#0f6,#0f9,#0fc,#0fd,#0ff,#0ff)"></i><i style="background:linear-gradient(#0fc,#0f8,#0f4,#0f0,#1f0,#2f0,#2f0,#2f0,#2f0,#6f0,#cf0,#fd0,#fc0,#fe0,#ef0,#ff0,#fe0,#fe0,#fd0,#fe0,#fe0,#ff0,#df0,#bf0,#8f0,#5f0,#3f0,#1f0,#0f3,#0f6,#0f9,#0fc,#0fd,#0ff,#0ff)"></i><i style="background:linear-gradient(#0fc,#0f8,#0f4,#0f1,#1f0,#2f0,#2f0,#2f0,#3f0,#6f0,#cf0,#fd0,#fc0,#fe0,#ef0,#ef0,#fe0,#fe0,#fd0,#fe0,#fe0,#ff0,#df0,#bf0,#8f0,#5f0,#2f0,#0f0,#0f3,#0f6,#0f9,#0fc,#0fd,#0fe,#0ff)"></i><i style="background:linear-gradient(#0fc,#0f8,#0f5,#0f1,#1f0,#2f0,#2f0,#2f0,#3f0,#6f0,#cf0,#fd0,#fd0,#fe0,#ef0,#ef0,#fe0,#fe0,#fe0,#fe0,#ff0,#ef0,#df0,#bf0,#8f0,#6f0,#3f0,#0f0,#0f3,#0f6,#0f9,#0fb,#0fe,#0fe,#0ef)"></i><i style="background:linear-gradient(#0fd,#0f8,#0f4,#0f0,#1f0,#2f0,#1f0,#2f0,#3f0,#6f0,#cf0,#fd0,#fc0,#fe0,#ef0,#ff0,#fe0,#fd0,#fd0,#fd0,#fe0,#ff0,#df0,#bf0,#8f0,#5f0,#3f0,#0f0,#0f2,#0f6,#0f9,#0fb,#0fd,#0fe,#0ff)"></i><i style="background:linear-gradient(#0fd,#0f9,#0f4,#0f1,#1f0,#2f0,#2f0,#2f0,#3f0,#5f0,#cf0,#fd0,#fc0,#fe0,#ff0,#fe0,#fc0,#fc0,#fc0,#fc0,#fd0,#fe0,#ef0,#bf0,#9f0,#6f0,#2f0,#0f0,#0f2,#0f6,#0f9,#0fc,#0fe,#0fe,#0ff)"></i><i style="background:linear-gradient(#0fc,#0f8,#0f4,#0f1,#0f0,#2f0,#2f0,#2f0,#3f0,#6f0,#cf0,#fd0,#fc0,#fd0,#fe0,#fd0,#fb0,#fb0,#fa0,#fb0,#fc0,#fe0,#ef0,#cf0,#9f0,#5f0,#3f0,#0f0,#0f3,#0f6,#0f9,#0fb,#0fe,#0fe,#0ff)"></i><i style="background:linear-gradient(#0fc,#0f8,#0f4,#0f1,#1f0,#2f0,#2f0,#2f0,#2f0,#7f0,#cf0,#fd0,#fc0,#fd0,#fe0,#fd0,#fb0,#fa0,#f90,#fb0,#fc0,#fe0,#ef0,#bf0,#9f0,#6f0,#3f0,#0f0,#0f2,#0f6,#0f9,#0fc,#0fd,#0fe,#0ff)"></i><i style="background:linear-gradient(#0fc,#0f8,#0f4,#0f1,#1f0,#2f0,#2f0,#2f0,#3f0,#6f0,#cf0,#fd0,#fb0,#fd0,#fe0,#fc0,#fa0,#f90,#f90,#fa0,#fb0,#fd0,#ef0,#cf0,#9f0,#6f0,#3f0,#0f0,#0f3,#0f6,#0f9,#0fb,#0fd,#0fe,#0ff)"></i><i style="background:linear-gradient(#0fc,#0f8,#0f5,#0f1,#0f0,#2f0,#2f0,#2f0,#4f0,#6f0,#cf0,#fd0,#fc0,#fd0,#fe0,#fd0,#fa0,#f90,#f90,#fa0,#fb0,#fd0,#ef0,#cf0,#9f0,#5f0,#2f0,#0f0,#0f3,#0f6,#0f9,#0fc,#0fe,#0fe,#0ff)"></i><i style="background:linear-gradient(#0fd,#0f9,#0f4,#0f1,#1f0,#2f0,#2f0,#2f0,#3f0,#6f0,#cf0,#fd0,#fc0,#fd0,#fe0,#fd0,#fa0,#f90,#f90,#fa0,#fb0,#fe0,#ef0,#bf0,#9f0,#6f0,#2f0,#0f0,#0f3,#0f6,#0f9,#0fc,#0fe,#0fe,#0ef)"></i><i style="background:linear-gradient(#0fc,#0f9,#0f4,#0f1,#1f0,#2f0,#2f0,#2f0,#3f0,#6f0,#df0,#fd0,#fc0,#fd0,#fe0,#fd0,#fa0,#f90,#f90,#fa0,#fb0,#fd0,#ff0,#cf0,#9f0,#5f0,#2f0,#0f0,#0f2,#0f6,#0f9,#0fb,#0fe,#0fe,#0ff)"></i><i style="background:linear-gradient(#0fc,#0f8,#0f4,#0f1,#1f0,#1f0,#2f0,#2f0,#3f0,#6f0,#df0,#fd0,#fd0,#fe0,#fe0,#fd0,#fb0,#fa0,#f90,#fa0,#fc0,#fe0,#ef0,#bf0,#9f0,#6f0,#2f0,#0f0,#0f3,#0f6,#0f9,#0fc,#0fd,#0fe,#0ff)"></i><i style="background:linear-gradient(#0fc,#0f9,#0f4,#0f1,#0f0,#2f0,#2f0,#2f0,#3f0,#6f0,#cf0,#fd0,#fc0,#fd0,#fe0,#fc0,#fa0,#f90,#f80,#fa0,#fb0,#fd0,#ff0,#cf0,#9f0,#6f0,#3f0,#1f0,#0f3,#0f6,#0f9,#0fc,#0fe,#0fe,#0ff)"></i><i style="background:linear-gradient(#0fc,#0f9,#0f4,#0f0,#1f0,#2f0,#2f0,#2f0,#3f0,#6f0,#cf0,#fd0,#fc0,#fe0,#fe0,#fd0,#fb0,#fa0,#f90,#fa0,#fc0,#fe0,#ef0,#cf0,#9f0,#6f0,#3f0,#0f0,#0f3,#0f6,#0f9,#0fb,#0fe,#0fe,#0ff)"></i><i style="background:linear-gradient(#0fc,#0f9,#0f4,#0f0,#1f0,#2f0,#2f0,#2f0,#3f0,#6f0,#cf0,#fd0,#fb0,#fd0,#fe0,#fc0,#f90,#f90,#f80,#f90,#fb0,#fd0,#ef0,#cf0,#9f0,#5f0,#3f0,#0f0,#0f3,#0f6,#0f9,#0fb,#0fe,#0fe,#0ff)"></i><i style="background:linear-gradient(#0fc,#0f9,#0f5,#0f1,#1f0,#1f0,#2f0,#2f0,#3f0,#6f0,#cf0,#fd0,#fc0,#fe0,#fe0,#fd0,#fa0,#fa0,#f90,#fa0,#fc0,#fd0,#ef0,#cf0,#9f0,#6f0,#3f0,#0f0,#0f3,#0f6,#0f9,#0fc,#0fe,#0fe,#0ff)"></i><i style="background:linear-gradient(#0fd,#0f8,#0f5,#0f1,#1f0,#2f0,#1f0,#2f0,#3f0,#6f0,#cf0,#fd0,#fc0,#fe0,#fe0,#fd0,#fb0,#fa0,#f90,#fa0,#fc0,#fe0,#ff0,#bf0,#9f0,#6f0,#3f0,#0f0,#0f3,#0f7,#0f9,#0fc,#0fd,#0fe,#0ff)"></i><i style="background:linear-gradient(#0fc,#0f9,#0f5,#0f0,#1f0,#2f0,#2f0,#2f0,#2f0,#6f0,#cf0,#fd0,#fc0,#fd0,#fe0,#fc0,#fa0,#f90,#f90,#fa0,#fb0,#fd0,#ef0,#cf0,#9f0,#6f0,#3f0,#0f0,#0f2,#0f6,#0f9,#0fc,#0fe,#0fe,#0ff)"></i><i style="background:linear-gradient(#0fb,#0f9,#0f4,#0f0,#1f0,#2f0,#2f0,#2f0,#3f0,#6f0,#cf0,#fc0,#fb0,#fd0,#fe0,#fc0,#fa0,#f90,#f80,#f90,#fa0,#fd0,#ff0,#cf0,#9f0,#5f0,#3f0,#0f0,#0f3,#0f6,#0f9,#0fc,#0fe,#0fe,#0ff)"></i><i style="background:linear-gradient(#0fc,#0f9,#0f4,#0f1,#1f0,#2f0,#2f0,#2f0,#3f0,#6f0,#cf0,#fd0,#fc0,#fd0,#fe0,#fd0,#fa0,#f90,#f90,#fa0,#fb0,#fd0,#ef0,#cf0,#9f0,#6f0,#3f0,#1f0,#0f3,#0f7,#0f9,#0fb,#0fe,#0fe,#0ff)"></i><i style="background:linear-gradient(#0fd,#0f9,#0f4,#0f1,#1f0,#1f0,#1f0,#2f0,#3f0,#6f0,#cf0,#fd0,#fc0,#fe0,#fe0,#fd0,#fa0,#f90,#f90,#fa0,#fb0,#fd0,#ef0,#cf0,#9f0,#5f0,#3f0,#0f0,#0f3,#0f6,#0f9,#0fc,#0fe,#0ff,#0ff)"></i><i style="background:linear-gradient(#0fc,#0f8,#0f4,#0f0,#1f0,#2f0,#2f0,#2f0,#3f0,#6f0,#df0,#fc0,#fb0,#fd0,#fe0,#fc0,#f90,#f80,#f80,#f90,#fb0,#fd0,#ef0,#cf0,#9f0,#6f0,#3f0,#0f0,#0f2,#0f6,#0f9,#0fc,#0fd,#0fe,#0ff)"></i><i style="background:linear-gradient(#0fc,#0f8,#0f5,#0f1,#1f0,#1f0,#2f0,#2f0,#2f0,#6f0,#cf0,#fe0,#fc0,#fe0,#fe0,#fd0,#fa0,#fa0,#f90,#fa0,#fc0,#fe0,#ff0,#cf0,#9f0,#6f0,#3f0,#0f0,#0f3,#0f5,#0f9,#0fc,#0fd,#0fe,#0ff)"></i></div><div class="sg" id="sgm" style="left:668px;top:115.4px;width:455px;height:74.3px"><i style="background:linear-gradient(#f0f,#f0f,#f0f,#f0f,#f0f,#f0f,#f0f,#d0f,#01f,#09f,#0ff,#0fe,#0fc,#0f7,#0f0,#1f0,#2f0,#3f0,#8f0,#cf0,#ff0,#fd0,#fc0,#fa0,#fa0,#f90,#fa0,#fa0,#fb0,#fd0,#fe0,#ff0,#ef0,#df0,#cf0,#cf0,#cf0,#cf0)"></i><i style="background:linear-gradient(#f0f,#f0f,#f0f,#f0f,#f0f,#f0f,#f0f,#d0f,#02f,#09f,#0ff,#0fe,#0fc,#0f8,#0f1,#1f0,#1f0,#3f0,#8f0,#cf0,#fe0,#fc0,#fb0,#f90,#f90,#f80,#f90,#f90,#fa0,#fb0,#fd0,#fe0,#ff0,#df0,#cf0,#cf0,#cf0,#cf0)"></i><i style="background:linear-gradient(#f0f,#f0f,#f0f,#f0f,#f0f,#f0f,#f0f,#d0f,#02f,#09f,#0ef,#0fe,#0fc,#0f8,#0f1,#1f0,#2f0,#3f0,#8f0,#df0,#ff0,#fd0,#fb0,#fa0,#f90,#f90,#f90,#f90,#fa0,#fc0,#fd0,#ff0,#ff0,#df0,#cf0,#cf0,#cf0,#cf0)"></i><i style="background:linear-gradient(#f0f,#f0f,#f0f,#f0f,#f0f,#f0f,#f0f,#d0f,#02f,#0af,#0ff,#0fe,#0fd,#0f7,#0f2,#0f0,#2f0,#2f0,#8f0,#cf0,#ff0,#fc0,#fa0,#f90,#f80,#f80,#f80,#f90,#f90,#fb0,#fc0,#fe0,#ff0,#df0,#cf0,#cf0,#cf0,#cf0)"></i><i style="background:linear-gradient(#f0f,#f0f,#f0f,#f0f,#f0f,#f0f,#f0f,#d0f,#01f,#09f,#0ff,#0ff,#0fc,#0f8,#0f1,#0f0,#2f0,#3f0,#8f0,#cf0,#ff0,#fd0,#fb0,#fa0,#fa0,#f90,#f90,#fa0,#fb0,#fc0,#fe0,#ff0,#ff0,#df0,#df0,#cf0,#cf0,#bf0)"></i><i style="background:linear-gradient(#f0f,#f0f,#f0f,#f0f,#f0f,#f0f,#f0f,#d0f,#02f,#0af,#0ff,#0ff,#0fc,#0f8,#0f1,#0f0,#2f0,#3f0,#8f0,#cf0,#ff0,#fd0,#fb0,#fa0,#f90,#f90,#f90,#f90,#fb0,#fc0,#fd0,#ff0,#ef0,#ef0,#df0,#cf0,#cf0,#cf0)"></i><i style="background:linear-gradient(#f0f,#f0f,#f0f,#f0f,#f0f,#f0f,#f0f,#d0f,#02f,#09f,#0ff,#0fe,#0fc,#0f7,#0f1,#1f0,#2f0,#3f0,#8f0,#cf0,#ff0,#fd0,#fb0,#f90,#f90,#f80,#f80,#f90,#fa0,#fc0,#fd0,#fe0,#ff0,#df0,#df0,#cf0,#cf0,#cf0)"></i><i style="background:linear-gradient(#f0f,#f0f,#f0f,#f0f,#f0f,#f0f,#f0f,#d0f,#02f,#09f,#0ff,#0ff,#0fd,#0f7,#0f1,#0f0,#2f0,#3f0,#8f0,#cf0,#ff0,#fd0,#fc0,#fa0,#fa0,#f90,#f90,#fa0,#fb0,#fc0,#fe0,#ff0,#ef0,#df0,#df0,#cf0,#cf0,#bf0)"></i><i style="background:linear-gradient(#f0f,#f0f,#f0f,#f0f,#f0f,#f0f,#f0f,#d0f,#01f,#09f,#0ff,#0fe,#0fc,#0f8,#0f2,#1f0,#2f0,#3f0,#8f0,#cf0,#fe0,#fd0,#fb0,#f90,#f90,#f80,#f80,#f90,#fa0,#fb0,#fd0,#fe0,#ef0,#df0,#df0,#cf0,#cf0,#cf0)"></i><i style="background:linear-gradient(#f0f,#f0f,#f0f,#f0f,#f0f,#f0f,#f0f,#c0f,#02f,#0af,#0ff,#0ff,#0fd,#0f8,#0f1,#0f0,#2f0,#3f0,#8f0,#cf0,#ff0,#fd0,#fb0,#f90,#f90,#f80,#f90,#f90,#fa0,#fc0,#fd0,#fe0,#ef0,#df0,#cf0,#cf0,#cf0,#cf0)"></i><i style="background:linear-gradient(#f0f,#f0f,#f0f,#f0f,#f0f,#f0f,#f0f,#d0f,#02f,#09f,#0ff,#0ff,#0fc,#0f7,#0f1,#1f0,#2f0,#3f0,#8f0,#cf0,#ff0,#fd0,#fb0,#fa0,#f90,#f90,#f90,#fa0,#fb0,#fc0,#fd0,#fe0,#ef0,#df0,#df0,#cf0,#cf0,#cf0)"></i><i style="background:linear-gradient(#f0f,#f0f,#f0f,#f0f,#f0f,#f0f,#f0f,#d0f,#02f,#0af,#0ff,#0fe,#0fd,#0f8,#0f1,#1f0,#2f0,#2f0,#8f0,#cf0,#ff0,#fd0,#fb0,#fa0,#fa0,#f90,#f90,#fa0,#fb0,#fc0,#fe0,#ff0,#ff0,#df0,#cf0,#cf0,#cf0,#cf0)"></i><i style="background:linear-gradient(#f0f,#f0f,#f0f,#f0f,#f0f,#f0f,#f0f,#d0f,#02f,#09f,#0ff,#0fe,#0fc,#0f8,#0f1,#0f0,#1f0,#3f0,#8f0,#cf0,#ff0,#fd0,#fc0,#fa0,#fa0,#f90,#f90,#fa0,#fb0,#fc0,#fe0,#ff0,#ef0,#df0,#cf0,#df0,#cf0,#cf0)"></i><i style="background:linear-gradient(#f0f,#f0f,#f0f,#f0f,#f0f,#f0f,#f0f,#d0f,#02f,#09f,#0ff,#0ff,#0fc,#0f8,#0f1,#1f0,#1f0,#3f0,#8f0,#cf0,#ff0,#fc0,#fb0,#f90,#f90,#f80,#f80,#f90,#fa0,#fb0,#fd0,#fe0,#ef0,#ef0,#cf0,#cf0,#cf0,#cf0)"></i><i style="background:linear-gradient(#f0f,#f0f,#f0f,#f0f,#f0f,#f0f,#f0f,#d0f,#02f,#09f,#0ff,#0fe,#0fc,#0f8,#0f1,#1f0,#2f0,#3f0,#8f0,#cf0,#ff0,#fd0,#fb0,#fa0,#f90,#f90,#f90,#f90,#fb0,#fc0,#fd0,#fe0,#ff0,#df0,#df0,#cf0,#cf0,#cf0)"></i><i style="background:linear-gradient(#f0f,#e0f,#f0f,#f0f,#f0f,#f0f,#f0f,#c0f,#02f,#09f,#0ff,#0ff,#0fc,#0f8,#0f1,#1f0,#2f0,#3f0,#8f0,#cf0,#ff0,#fd0,#fa0,#f90,#f90,#f80,#f90,#f90,#fa0,#fc0,#fd0,#fe0,#ff0,#ef0,#df0,#df0,#cf0,#cf0)"></i><i style="background:linear-gradient(#f0f,#f0f,#f0f,#f0f,#f0f,#f0f,#f0f,#d0f,#02f,#09f,#0ff,#0fe,#0fc,#0f8,#0f1,#1f0,#2f0,#3f0,#8f0,#cf0,#ff0,#fd0,#fb0,#fa0,#f90,#f90,#f90,#f90,#fb0,#fc0,#fd0,#ff0,#ff0,#df0,#df0,#cf0,#cf0,#cf0)"></i><i style="background:linear-gradient(#f0f,#f0f,#f0f,#f0f,#f0f,#f0f,#f0f,#c0f,#03f,#09f,#0ff,#0fe,#0fc,#0f8,#0f1,#1f0,#2f0,#3f0,#8f0,#cf0,#ff0,#fc0,#fb0,#fa0,#f90,#f80,#f90,#f90,#fa0,#fc0,#fd0,#ff0,#ef0,#df0,#df0,#cf0,#cf0,#cf0)"></i><i style="background:linear-gradient(#f0f,#f0f,#f0f,#f0f,#f0f,#f0f,#f0f,#d0f,#02f,#0af,#0ff,#0fe,#0fc,#0f8,#0f1,#0f0,#2f0,#3f0,#8f0,#cf0,#ff0,#fd0,#fb0,#fa0,#fa0,#f90,#f90,#f90,#fb0,#fc0,#fd0,#ff0,#ef0,#df0,#cf0,#cf0,#cf0,#cf0)"></i><i style="background:linear-gradient(#f0f,#f0f,#f0f,#f0f,#f0f,#f0f,#f0f,#c0f,#02f,#09f,#0ff,#0fe,#0fc,#0f8,#0f1,#1f0,#2f0,#2f0,#8f0,#cf0,#ff0,#fd0,#fb0,#fa0,#f90,#f90,#f90,#fa0,#fb0,#fc0,#fd0,#ff0,#ef0,#df0,#cf0,#cf0,#cf0,#bf0)"></i><i style="background:linear-gradient(#f0f,#f0f,#f0f,#f0f,#f0f,#f0f,#f0f,#d0f,#02f,#09f,#0ff,#0fe,#0fc,#0f7,#0f1,#1f0,#2f0,#3f0,#8f0,#cf0,#ff0,#fd0,#fc0,#fa0,#fa0,#f90,#f90,#fa0,#fb0,#fc0,#fe0,#fe0,#ef0,#ef0,#df0,#cf0,#cf0,#cf0)"></i><i style="background:linear-gradient(#f0f,#f0f,#f0f,#f0f,#f0f,#f0f,#f0f,#d0f,#02f,#09f,#0ff,#0ff,#0fc,#0f7,#0f0,#1f0,#2f0,#3f0,#8f0,#cf0,#ff0,#fd0,#fc0,#fa0,#fa0,#f90,#f90,#fa0,#fb0,#fd0,#fe0,#ff0,#ef0,#df0,#df0,#cf0,#cf0,#cf0)"></i><i style="background:linear-gradient(#f0f,#f0f,#f0f,#f0f,#f0f,#f0f,#f0f,#d0f,#01f,#09f,#0ff,#0fe,#0fd,#0f8,#0f1,#1f0,#2f0,#3f0,#8f0,#cf0,#ff0,#fd0,#fb0,#fa0,#f90,#f90,#f90,#f90,#fb0,#fc0,#fd0,#ff0,#ff0,#ef0,#df0,#cf0,#cf0,#cf0)"></i><i style="background:linear-gradient(#f0f,#f0f,#f0f,#f0f,#f0f,#f0f,#f0f,#d0f,#02f,#0af,#0ff,#0fe,#0fc,#0f8,#0f1,#1f0,#1f0,#3f0,#8f0,#cf0,#ff0,#fd0,#fc0,#fa0,#fa0,#f90,#f90,#fa0,#fb0,#fc0,#fe0,#ff0,#ff0,#ef0,#df0,#df0,#cf0,#bf0)"></i><i style="background:linear-gradient(#f0f,#f0f,#f0f,#f0f,#f0f,#f0f,#f0f,#d0f,#01f,#09f,#0ff,#0fe,#0fd,#0f7,#0f1,#1f0,#1f0,#3f0,#8f0,#cf0,#ff0,#fd0,#fb0,#fa0,#f90,#f90,#f90,#fa0,#fb0,#fc0,#fd0,#ff0,#ef0,#df0,#df0,#cf0,#cf0,#cf0)"></i><i style="background:linear-gradient(#f0f,#f0f,#f0f,#f0f,#f0f,#f0f,#f0f,#d0f,#02f,#09f,#0ff,#0ff,#0fc,#0f8,#0f1,#0f0,#1f0,#3f0,#8f0,#cf0,#ff0,#fd0,#fc0,#fa0,#fa0,#f90,#f90,#fa0,#fb0,#fc0,#fe0,#ff0,#ff0,#df0,#df0,#df0,#cf0,#cf0)"></i><i style="background:linear-gradient(#f0f,#f0f,#f0f,#f0f,#f0f,#f0f,#f0f,#c0f,#02f,#09f,#0ff,#0ff,#0fc,#0f8,#0f1,#0f0,#1f0,#3f0,#8f0,#cf0,#ff0,#fd0,#fb0,#fa0,#f90,#f90,#f90,#fa0,#fb0,#fc0,#fd0,#ff0,#ff0,#df0,#cf0,#cf0,#cf0,#bf0)"></i><i style="background:linear-gradient(#f0f,#f0f,#f0f,#f0f,#f0f,#f0f,#f0f,#d0f,#02f,#09f,#0ff,#0fe,#0fc,#0f8,#0f1,#0f0,#2f0,#3f0,#8f0,#cf0,#ff0,#fd0,#fc0,#fa0,#fa0,#f90,#f90,#fa0,#fb0,#fc0,#fe0,#ff0,#ef0,#df0,#cf0,#cf0,#cf0,#cf0)"></i><i style="background:linear-gradient(#f0f,#f0f,#f0f,#f0f,#f0f,#f0f,#f0f,#d0f,#01f,#09f,#0ff,#0fe,#0fc,#0f7,#0f1,#0f0,#2f0,#3f0,#8f0,#cf0,#ff0,#fe0,#fc0,#fb0,#fa0,#fa0,#fa0,#fa0,#fb0,#fd0,#fe0,#ff0,#ef0,#df0,#df0,#cf0,#cf0,#cf0)"></i><i style="background:linear-gradient(#f0f,#f0f,#f0f,#f0f,#f0f,#f0f,#f0f,#d0f,#02f,#09f,#0ff,#0ff,#0fd,#0f8,#0f1,#0f0,#2f0,#2f0,#8f0,#cf0,#ff0,#fd0,#fb0,#fa0,#f90,#f90,#f90,#fa0,#fb0,#fc0,#fe0,#ff0,#ef0,#df0,#df0,#cf0,#cf0,#cf0)"></i><i style="background:linear-gradient(#f0f,#f0f,#f0f,#f0f,#f0f,#f0f,#f0f,#d0f,#02f,#0af,#0ff,#0fe,#0fc,#0f7,#0f1,#1f0,#2f0,#2f0,#8f0,#cf0,#ff0,#fd0,#fc0,#fa0,#fa0,#f90,#f90,#fa0,#fb0,#fc0,#fe0,#ff0,#ef0,#df0,#cf0,#cf0,#cf0,#cf0)"></i><i style="background:linear-gradient(#f0f,#f0f,#f0f,#f0f,#f0f,#f0f,#f0f,#d0f,#02f,#09f,#0ff,#0ff,#0fc,#0f8,#0f1,#0f0,#2f0,#3f0,#8f0,#cf0,#ff0,#fd0,#fb0,#fa0,#f90,#f90,#f90,#f90,#fb0,#fc0,#fd0,#ff0,#ef0,#ef0,#df0,#cf0,#cf0,#cf0)"></i><i style="background:linear-gradient(#f0f,#f0f,#f0f,#f0f,#f0f,#f0f,#f0f,#d0f,#02f,#09f,#0ff,#0fe,#0fc,#0f8,#0f1,#1f0,#2f0,#3f0,#8f0,#cf0,#ff0,#fd0,#fa0,#f90,#f90,#f80,#f80,#f90,#fa0,#fc0,#fd0,#fe0,#ef0,#df0,#df0,#cf0,#cf0,#cf0)"></i><i style="background:linear-gradient(#f0f,#f0f,#f0f,#f0f,#f0f,#f0f,#f0f,#d0f,#02f,#09f,#0ff,#0fe,#0fc,#0f7,#0f1,#1f0,#2f0,#2f0,#8f0,#cf0,#ff0,#fd0,#fb0,#f90,#f80,#f80,#f80,#f90,#fa0,#fb0,#fd0,#ff0,#ff0,#df0,#df0,#cf0,#cf0,#cf0)"></i><i style="background:linear-gradient(#f0f,#f0f,#f0f,#f0f,#f0f,#f0f,#f0f,#c0f,#01f,#09f,#0ff,#0fe,#0fc,#0f8,#0f1,#1f0,#2f0,#2f0,#8f0,#cf0,#ff0,#fd0,#fb0,#f90,#f80,#f80,#f80,#f90,#fa0,#fb0,#fd0,#fe0,#ff0,#df0,#df0,#cf0,#cf0,#cf0)"></i><i style="background:linear-gradient(#f0f,#f0f,#f0f,#f0f,#f0f,#f0f,#f0f,#d0f,#02f,#09f,#0ff,#0fe,#0fc,#0f7,#0f1,#0f0,#1f0,#3f0,#8f0,#cf0,#ff0,#fd0,#fb0,#f90,#f90,#f80,#f80,#f90,#fb0,#fc0,#fd0,#ff0,#ef0,#df0,#df0,#cf0,#cf0,#cf0)"></i><i style="background:linear-gradient(#f0f,#f0f,#f0f,#f0f,#f0f,#f0f,#f0f,#d0f,#02f,#09f,#0ff,#0ff,#0fc,#0f8,#0f1,#1f0,#2f0,#3f0,#8f0,#cf0,#ff0,#fd0,#fb0,#fa0,#f90,#f80,#f80,#f90,#fa0,#fc0,#fe0,#ff0,#ff0,#df0,#df0,#df0,#cf0,#cf0)"></i><i style="background:linear-gradient(#f0f,#f0f,#f0f,#f0f,#f0f,#f0f,#f0f,#d0f,#02f,#09f,#0ff,#0fe,#0fc,#0f8,#0f1,#1f0,#1f0,#3f0,#8f0,#cf0,#fe0,#fc0,#fa0,#f80,#f70,#f70,#f70,#f80,#f90,#fb0,#fd0,#fe0,#ff0,#ef0,#df0,#cf0,#cf0,#cf0)"></i><i style="background:linear-gradient(#f0f,#f0f,#f0f,#f0f,#f0f,#f0f,#f0f,#d0f,#02f,#0af,#0ff,#0ff,#0fd,#0f8,#0f1,#0f0,#2f0,#3f0,#8f0,#cf0,#ff0,#fd0,#fb0,#f80,#f80,#f70,#f70,#f80,#fa0,#fc0,#fd0,#ff0,#ef0,#df0,#cf0,#cf0,#cf0,#cf0)"></i><i style="background:linear-gradient(#f0f,#f0f,#f0f,#f0f,#f0f,#f0f,#f0f,#d0f,#02f,#0af,#0ff,#0ff,#0fc,#0f7,#0f1,#1f0,#2f0,#3f0,#8f0,#cf0,#fe0,#fc0,#fa0,#f80,#f70,#f70,#f70,#f80,#fa0,#fb0,#fd0,#ff0,#ef0,#ef0,#df0,#cf0,#cf0,#cf0)"></i><i style="background:linear-gradient(#f0f,#f0f,#f0f,#f0f,#f0f,#f0f,#f0f,#d0f,#02f,#09f,#0ff,#0fe,#0fc,#0f8,#0f1,#0f0,#2f0,#3f0,#8f0,#cf0,#fe0,#fc0,#f90,#f70,#f70,#f60,#f60,#f70,#f90,#fa0,#fc0,#fe0,#ff0,#df0,#df0,#cf0,#cf0,#cf0)"></i><i style="background:linear-gradient(#f0f,#f0f,#f0f,#f0f,#f0f,#f0f,#f0f,#d0f,#01f,#09f,#0ff,#0fe,#0fc,#0f8,#0f1,#1f0,#2f0,#2f0,#8f0,#cf0,#ff0,#fd0,#fa0,#f80,#f80,#f70,#f70,#f80,#fa0,#fc0,#fd0,#ff0,#ff0,#ef0,#df0,#cf0,#cf0,#cf0)"></i><i style="background:linear-gradient(#f0f,#f0f,#f0f,#f0f,#f0f,#f0f,#f0f,#d0f,#02f,#09f,#0ff,#0fe,#0fd,#0f7,#0f1,#0f0,#2f0,#3f0,#8f0,#cf0,#fe0,#fc0,#fa0,#f90,#f80,#f70,#f70,#f80,#fa0,#fc0,#fd0,#fe0,#ef0,#df0,#cf0,#cf0,#cf0,#bf0)"></i><i style="background:linear-gradient(#f0f,#f0f,#f0f,#f0f,#f0f,#f0f,#f0f,#d0f,#02f,#0af,#0ef,#0fe,#0fc,#0f8,#0f1,#1f0,#2f0,#3f0,#8f0,#cf0,#fe0,#fc0,#fa0,#f80,#f70,#f60,#f70,#f80,#f90,#fb0,#fd0,#fe0,#ff0,#df0,#df0,#cf0,#cf0,#cf0)"></i><i style="background:linear-gradient(#f0f,#f0f,#f0f,#f0f,#f0f,#f0f,#f0f,#c0f,#01f,#09f,#0ff,#0fe,#0fc,#0f8,#0f1,#0f0,#1f0,#3f0,#9f0,#cf0,#fe0,#fc0,#fa0,#f80,#f70,#f70,#f70,#f80,#f90,#fb0,#fd0,#fe0,#ef0,#df0,#cf0,#cf0,#cf0,#bf0)"></i><i style="background:linear-gradient(#f0f,#f0f,#e0f,#f0f,#f0f,#f0f,#f0f,#d0f,#02f,#09f,#0ff,#0ff,#0fc,#0f8,#0f1,#0f0,#1f0,#2f0,#8f0,#cf0,#ff0,#fd0,#fb0,#f90,#f80,#f80,#f80,#f90,#fa0,#fc0,#fd0,#ff0,#ff0,#df0,#df0,#df0,#cf0,#cf0)"></i><i style="background:linear-gradient(#f0f,#f0f,#f0f,#f0f,#f0f,#f0f,#f0f,#d0f,#02f,#09f,#0ff,#0ff,#0fc,#0f8,#0f1,#0f0,#2f0,#3f0,#8f0,#cf0,#ff0,#fd0,#fb0,#f90,#f80,#f80,#f80,#f90,#fa0,#fb0,#fd0,#fe0,#ff0,#df0,#cf0,#df0,#cf0,#cf0)"></i><i style="background:linear-gradient(#f0f,#f0f,#f0f,#f0f,#f0f,#f0f,#f0f,#c0f,#02f,#09f,#0ff,#0fe,#0fc,#0f7,#0f1,#0f0,#1f0,#3f0,#8f0,#cf0,#fe0,#fd0,#fb0,#fa0,#f90,#f80,#f90,#f90,#fa0,#fc0,#fd0,#ff0,#ff0,#ef0,#df0,#cf0,#cf0,#cf0)"></i><i style="background:linear-gradient(#f0f,#f0f,#f0f,#f0f,#f0f,#f0f,#f0f,#c0f,#02f,#09f,#0ff,#0fe,#0fc,#0f8,#0f1,#0f0,#2f0,#3f0,#8f0,#cf0,#ff0,#fc0,#fb0,#f90,#f90,#f80,#f80,#f90,#fa0,#fb0,#fd0,#fe0,#ff0,#df0,#df0,#cf0,#cf0,#cf0)"></i><i style="background:linear-gradient(#f0f,#f0f,#f0f,#f0f,#f0f,#f0f,#f0f,#d0f,#01f,#09f,#0ff,#0fe,#0fc,#0f8,#0f1,#1f0,#2f0,#3f0,#8f0,#cf0,#fe0,#fc0,#fa0,#f90,#f80,#f80,#f80,#f80,#fa0,#fb0,#fd0,#ff0,#ff0,#df0,#df0,#df0,#cf0,#cf0)"></i><i style="background:linear-gradient(#f0f,#f0f,#f0f,#f0f,#f0f,#f0f,#f0f,#d0f,#02f,#0af,#0ff,#0fe,#0fc,#0f8,#0f1,#0f0,#2f0,#3f0,#8f0,#cf0,#ff0,#fd0,#fb0,#f90,#f90,#f80,#f90,#f90,#fa0,#fc0,#fd0,#fe0,#ef0,#df0,#cf0,#cf0,#cf0,#cf0)"></i><i style="background:linear-gradient(#f0f,#f0f,#f0f,#f0f,#f0f,#f0f,#f0f,#d0f,#02f,#09f,#0ff,#0fe,#0fd,#0f7,#0f1,#0f0,#1f0,#3f0,#8f0,#cf0,#ff0,#fd0,#fb0,#f90,#f90,#f80,#f80,#f90,#fa0,#fc0,#fd0,#ff0,#ef0,#df0,#df0,#cf0,#cf0,#cf0)"></i><i style="background:linear-gradient(#f0f,#f0f,#f0f,#f0f,#f0f,#f0f,#f0f,#c0f,#01f,#09f,#0ff,#0ff,#0fc,#0f7,#0f1,#1f0,#2f0,#3f0,#8f0,#cf0,#ff0,#fd0,#fb0,#f90,#f90,#f80,#f90,#f90,#fb0,#fc0,#fd0,#ff0,#ff0,#df0,#cf0,#cf0,#cf0,#bf0)"></i><i style="background:linear-gradient(#f0f,#f0f,#f0f,#f0f,#f0f,#f0f,#f0f,#d0f,#02f,#09f,#0ff,#0fe,#0fc,#0f8,#0f1,#1f0,#2f0,#3f0,#8f0,#cf0,#ff0,#fd0,#fb0,#f90,#f90,#f80,#f90,#f90,#fb0,#fc0,#fd0,#fe0,#ef0,#df0,#cf0,#df0,#cf0,#cf0)"></i><i style="background:linear-gradient(#f0f,#f0f,#f0f,#f0f,#f0f,#f0f,#f0f,#c0f,#02f,#09f,#0ff,#0ff,#0fc,#0f8,#0f1,#1f0,#2f0,#3f0,#8f0,#df0,#ff0,#fd0,#fb0,#f90,#f90,#f80,#f80,#f90,#fa0,#fc0,#fd0,#ff0,#ff0,#df0,#cf0,#cf0,#cf0,#cf0)"></i><i style="background:linear-gradient(#f0f,#f0f,#f0f,#f0f,#f0f,#f0f,#f0f,#d0f,#02f,#09f,#0ff,#0fe,#0fd,#0f8,#0f0,#0f0,#1f0,#3f0,#8f0,#cf0,#ff0,#fd0,#fb0,#fa0,#f90,#f90,#f90,#f90,#fb0,#fc0,#fd0,#ff0,#ef0,#df0,#cf0,#cf0,#cf0,#bf0)"></i><i style="background:linear-gradient(#f0f,#f0f,#f0f,#f0f,#f0f,#f0f,#f0f,#d0f,#01f,#0af,#0ff,#0ff,#0fc,#0f8,#0f1,#0f0,#2f0,#3f0,#8f0,#cf0,#fe0,#fc0,#fb0,#f90,#f90,#f80,#f80,#f90,#fa0,#fb0,#fd0,#fe0,#ff0,#df0,#cf0,#cf0,#cf0,#cf0)"></i><i style="background:linear-gradient(#f0f,#f0f,#f0f,#f0f,#f0f,#e0f,#f0f,#d0f,#02f,#09f,#0ff,#0ff,#0fc,#0f8,#0f1,#0f0,#2f0,#3f0,#8f0,#cf0,#ff0,#fd0,#fc0,#fa0,#fa0,#f90,#f90,#fa0,#fb0,#fc0,#fe0,#ff0,#ef0,#df0,#df0,#df0,#cf0,#cf0)"></i><i style="background:linear-gradient(#f0f,#f0f,#f0f,#f0f,#f0f,#f0f,#f0f,#c0f,#02f,#0af,#0ff,#0fe,#0fc,#0f8,#0f1,#0f0,#2f0,#3f0,#8f0,#cf0,#ff0,#fc0,#fa0,#f90,#f80,#f80,#f80,#f90,#fa0,#fb0,#fd0,#fe0,#ff0,#ef0,#cf0,#cf0,#cf0,#cf0)"></i><i style="background:linear-gradient(#f0f,#f0f,#f0f,#f0f,#f0f,#f0f,#f0f,#d0f,#02f,#09f,#0ff,#0fe,#0fc,#0f8,#0f1,#0f0,#1f0,#3f0,#8f0,#cf0,#fe0,#fd0,#fb0,#f90,#f90,#f80,#f80,#f90,#fa0,#fc0,#fd0,#ff0,#ef0,#df0,#df0,#cf0,#cf0,#cf0)"></i><i style="background:linear-gradient(#e0f,#f0f,#f0f,#f0f,#f0f,#e0f,#f0f,#d0f,#02f,#0af,#0ff,#0fe,#0fc,#0f7,#0f1,#0f0,#1f0,#3f0,#8f0,#cf0,#ff0,#fd0,#fc0,#fa0,#f90,#f90,#f90,#f90,#fb0,#fc0,#fe0,#ff0,#ef0,#ef0,#cf0,#cf0,#cf0,#bf0)"></i><i style="background:linear-gradient(#f0f,#f0f,#f0f,#f0f,#f0f,#f0f,#f0f,#d0f,#02f,#09f,#0ff,#0ff,#0fd,#0f8,#0f1,#1f0,#2f0,#3f0,#8f0,#cf0,#ff0,#fd0,#fb0,#f90,#f90,#f80,#f80,#f90,#fa0,#fc0,#fd0,#ff0,#ef0,#df0,#df0,#cf0,#cf0,#cf0)"></i><i style="background:linear-gradient(#f0f,#f0f,#f0f,#f0f,#f0f,#f0f,#f0f,#d0f,#02f,#09f,#0ff,#0fe,#0fc,#0f8,#0f1,#1f0,#1f0,#3f0,#8f0,#cf0,#ff0,#fd0,#fb0,#f90,#f80,#f80,#f80,#f90,#fa0,#fc0,#fd0,#fe0,#ff0,#df0,#df0,#cf0,#cf0,#bf0)"></i><i style="background:linear-gradient(#f0f,#f0f,#f0f,#f0f,#f0f,#f0f,#f0f,#d0f,#02f,#09f,#0ff,#0fe,#0fc,#0f7,#0f1,#0f0,#2f0,#2f0,#8f0,#cf0,#ff0,#fd0,#fb0,#fa0,#f90,#f80,#f80,#f90,#fb0,#fc0,#fe0,#ff0,#ef0,#ef0,#df0,#df0,#cf0,#cf0)"></i><i style="background:linear-gradient(#f0f,#f0f,#f0f,#f0f,#f0f,#f0f,#f0f,#d0f,#02f,#0af,#0ff,#0fe,#0fc,#0f8,#0f1,#1f0,#2f0,#3f0,#8f0,#cf0,#ff0,#fe0,#fc0,#fa0,#f90,#f90,#f90,#fa0,#fb0,#fd0,#fe0,#ff0,#ef0,#df0,#df0,#cf0,#cf0,#cf0)"></i><i style="background:linear-gradient(#f0f,#f0f,#f0f,#f0f,#f0f,#f0f,#f0f,#d0f,#02f,#09f,#0ff,#0fe,#0fc,#0f8,#0f1,#0f0,#2f0,#2f0,#8f0,#cf0,#ff0,#fd0,#fb0,#fa0,#f90,#f80,#f80,#f90,#fa0,#fc0,#fd0,#ff0,#ff0,#df0,#df0,#cf0,#cf0,#cf0)"></i><i style="background:linear-gradient(#f0f,#f0f,#f0f,#f0f,#f0f,#f0f,#f0f,#c0f,#02f,#09f,#0ff,#0fe,#0fd,#0f8,#0f2,#1f0,#2f0,#3f0,#9f0,#cf0,#ff0,#fd0,#fb0,#fa0,#f90,#f80,#f90,#f90,#fb0,#fc0,#fe0,#ff0,#ef0,#df0,#df0,#cf0,#cf0,#cf0)"></i><i style="background:linear-gradient(#f0f,#f0f,#f0f,#f0f,#f0f,#f0f,#f0f,#d0f,#02f,#09f,#0ff,#0ff,#0fc,#0f7,#0f1,#0f0,#2f0,#2f0,#8f0,#cf0,#ff0,#fd0,#fb0,#f90,#f90,#f80,#f80,#f90,#fa0,#fc0,#fe0,#fe0,#ff0,#df0,#df0,#df0,#cf0,#cf0)"></i><i style="background:linear-gradient(#f0f,#f0f,#f0f,#f0f,#f0f,#f0f,#f0f,#d0f,#02f,#09f,#0ff,#0ff,#0fc,#0f7,#0f1,#0f0,#2f0,#3f0,#8f0,#cf0,#fe0,#fc0,#fa0,#f80,#f70,#f70,#f70,#f80,#fa0,#fb0,#fd0,#fe0,#ff0,#df0,#df0,#cf0,#cf0,#cf0)"></i><i style="background:linear-gradient(#f0f,#e0f,#f0f,#f0f,#f0f,#f0f,#f0f,#d0f,#02f,#09f,#0ff,#0fe,#0fc,#0f8,#0f1,#0f0,#1f0,#3f0,#8f0,#df0,#ff0,#fc0,#fb0,#f90,#f80,#f70,#f80,#f80,#fa0,#fc0,#fd0,#ff0,#ef0,#df0,#cf0,#cf0,#cf0,#cf0)"></i><i style="background:linear-gradient(#f0f,#f0f,#f0f,#f0f,#f0f,#f0f,#f0f,#d0f,#02f,#09f,#0ff,#0fe,#0fc,#0f8,#0f1,#0f0,#2f0,#3f0,#8f0,#cf0,#fe0,#fd0,#fb0,#f90,#f80,#f70,#f80,#f80,#fa0,#fb0,#fd0,#ff0,#ff0,#df0,#cf0,#cf0,#cf0,#bf0)"></i><i style="background:linear-gradient(#f0f,#f0f,#f0f,#f0f,#f0f,#f0f,#f0f,#d0f,#02f,#09f,#0ff,#0ff,#0fc,#0f7,#0f2,#1f0,#1f0,#3f0,#8f0,#cf0,#ff0,#fd0,#fb0,#f90,#f80,#f80,#f80,#f80,#fa0,#fc0,#fd0,#ff0,#ff0,#ef0,#df0,#cf0,#cf0,#cf0)"></i><i style="background:linear-gradient(#f0f,#f0f,#f0f,#f0f,#f0f,#f0f,#f0f,#c0f,#02f,#09f,#0ff,#0fe,#0fc,#0f7,#0f1,#1f0,#2f0,#2f0,#8f0,#cf0,#ff0,#fc0,#fb0,#f90,#f80,#f70,#f80,#f80,#fa0,#fb0,#fd0,#fe0,#ff0,#df0,#cf0,#cf0,#cf0,#bf0)"></i><i style="background:linear-gradient(#f0f,#f0f,#f0f,#f0f,#f0f,#f0f,#f0f,#d0f,#02f,#09f,#0ff,#0fe,#0fd,#0f8,#0f1,#0f0,#1f0,#2f0,#8f0,#cf0,#fe0,#fc0,#fa0,#f80,#f80,#f70,#f70,#f80,#f90,#fb0,#fd0,#fe0,#ff0,#df0,#cf0,#cf0,#cf0,#cf0)"></i><i style="background:linear-gradient(#f0f,#f0f,#f0f,#f0f,#f0f,#f0f,#f0f,#d0f,#02f,#09f,#0ff,#0fe,#0fd,#0f8,#0f2,#1f0,#2f0,#3f0,#9f0,#cf0,#ff0,#fc0,#fa0,#f80,#f80,#f70,#f70,#f80,#f90,#fb0,#fd0,#fe0,#ff0,#df0,#df0,#cf0,#cf0,#cf0)"></i><i style="background:linear-gradient(#f0f,#f0f,#f0f,#f0f,#f0f,#f0f,#f0f,#c0f,#02f,#0af,#0ff,#0ff,#0fc,#0f8,#0f1,#1f0,#2f0,#3f0,#8f0,#cf0,#ff0,#fd0,#fb0,#f90,#f90,#f80,#f80,#f90,#fa0,#fc0,#fd0,#ff0,#ef0,#df0,#df0,#cf0,#cf0,#cf0)"></i><i style="background:linear-gradient(#f0f,#f0f,#f0f,#f0f,#f0f,#f0f,#f0f,#d0f,#01f,#0af,#0ff,#0fe,#0fc,#0f7,#0f1,#1f0,#2f0,#3f0,#8f0,#cf0,#ff0,#fd0,#fb0,#f90,#f90,#f80,#f90,#f90,#fb0,#fc0,#fd0,#ff0,#ef0,#df0,#cf0,#cf0,#cf0,#cf0)"></i><i style="background:linear-gradient(#f0f,#f0f,#f0f,#f0f,#f0f,#f0f,#f0f,#d0f,#02f,#0af,#0ff,#0fe,#0fc,#0f8,#0f1,#1f0,#1f0,#2f0,#8f0,#cf0,#ff0,#fd0,#fb0,#f90,#f90,#f80,#f80,#f90,#fa0,#fc0,#fd0,#fe0,#ff0,#df0,#df0,#cf0,#cf0,#cf0)"></i><i style="background:linear-gradient(#f0f,#f0f,#f0f,#f0f,#f0f,#f0f,#f0f,#d0f,#02f,#09f,#0ff,#0fe,#0fc,#0f8,#0f1,#0f0,#2f0,#3f0,#8f0,#cf0,#fe0,#fc0,#fb0,#f90,#f80,#f80,#f80,#f80,#fa0,#fb0,#fd0,#fe0,#ff0,#df0,#df0,#cf0,#cf0,#bf0)"></i><i style="background:linear-gradient(#f0f,#f0f,#f0f,#f0f,#f0f,#f0f,#f0f,#d0f,#02f,#09f,#0ff,#0fe,#0fc,#0f8,#0f1,#0f0,#2f0,#2f0,#8f0,#cf0,#ff0,#fd0,#fb0,#f90,#f90,#f80,#f80,#f90,#fa0,#fc0,#fd0,#ff0,#ff0,#df0,#df0,#cf0,#cf0,#cf0)"></i><i style="background:linear-gradient(#f0f,#f0f,#f0f,#f0f,#f0f,#f0f,#f0f,#d0f,#01f,#09f,#0ff,#0fe,#0fc,#0f8,#0f1,#1f0,#1f0,#3f0,#8f0,#cf0,#ff0,#fd0,#fb0,#fa0,#f90,#f90,#f90,#f90,#fb0,#fc0,#fd0,#fe0,#ff0,#df0,#df0,#cf0,#cf0,#bf0)"></i><i style="background:linear-gradient(#f0f,#f0f,#f0f,#f0f,#f0f,#f0f,#f0f,#d0f,#02f,#09f,#0ff,#0fe,#0fc,#0f7,#0f1,#0f0,#2f0,#3f0,#8f0,#cf0,#ff0,#fd0,#fb0,#fa0,#f90,#f90,#f90,#fa0,#fb0,#fc0,#fd0,#ff0,#ef0,#df0,#df0,#cf0,#cf0,#cf0)"></i><i style="background:linear-gradient(#f0f,#f0f,#f0f,#f0f,#f0f,#f0f,#f0f,#d0f,#01f,#0af,#0ff,#0ff,#0fc,#0f8,#0f1,#1f0,#2f0,#3f0,#8f0,#cf0,#ff0,#fc0,#fb0,#f90,#f90,#f80,#f80,#f90,#fa0,#fc0,#fd0,#fe0,#ff0,#df0,#cf0,#cf0,#cf0,#bf0)"></i><i style="background:linear-gradient(#f0f,#f0f,#f0f,#f0f,#f0f,#f0f,#f0f,#d0f,#02f,#09f,#0ff,#0fe,#0fc,#0f8,#0f0,#1f0,#1f0,#3f0,#8f0,#cf0,#ff0,#fd0,#fb0,#fa0,#fa0,#f90,#f90,#f90,#fb0,#fc0,#fe0,#ff0,#ef0,#ef0,#cf0,#cf0,#cf0,#cf0)"></i><i style="background:linear-gradient(#f0f,#f0f,#f0f,#f0f,#f0f,#f0f,#f0f,#d0f,#02f,#09f,#0ff,#0fe,#0fc,#0f7,#0f1,#1f0,#1f0,#3f0,#8f0,#cf0,#ff0,#fd0,#fb0,#fa0,#f90,#f90,#f90,#fa0,#fb0,#fc0,#fd0,#ff0,#ff0,#df0,#cf0,#cf0,#cf0,#cf0)"></i><i style="background:linear-gradient(#f0f,#f0f,#f0f,#f0f,#f0f,#f0f,#f0f,#d0f,#02f,#09f,#0ff,#0fe,#0fc,#0f8,#0f1,#0f0,#2f0,#3f0,#8f0,#cf0,#ff0,#fd0,#fc0,#fa0,#fa0,#f90,#f90,#fa0,#fb0,#fc0,#fe0,#ff0,#ef0,#df0,#cf0,#cf0,#cf0,#cf0)"></i><i style="background:linear-gradient(#f0f,#f0f,#f0f,#f0f,#f0f,#f0f,#f0f,#c0f,#02f,#0af,#0ff,#0ff,#0fc,#0f8,#0f1,#0f0,#1f0,#3f0,#8f0,#cf0,#ff0,#fd0,#fb0,#fa0,#fa0,#f90,#f90,#fa0,#fb0,#fc0,#fd0,#ff0,#ef0,#df0,#df0,#cf0,#cf0,#bf0)"></i><i style="background:linear-gradient(#f0f,#f0f,#f0f,#f0f,#f0f,#f0f,#f0f,#d0f,#02f,#09f,#0ff,#0fe,#0fd,#0f7,#0f0,#1f0,#2f0,#3f0,#8f0,#cf0,#ff0,#fd0,#fb0,#fa0,#f90,#f80,#f80,#f90,#fa0,#fc0,#fd0,#ff0,#ef0,#df0,#df0,#cf0,#cf0,#cf0)"></i><i style="background:linear-gradient(#f0f,#f0f,#f0f,#f0f,#f0f,#f0f,#f0f,#d0f,#02f,#0af,#0ff,#0ff,#0fc,#0f8,#0f1,#1f0,#2f0,#2f0,#8f0,#cf0,#ff0,#fd0,#fb0,#fa0,#f90,#f80,#f90,#f90,#fa0,#fc0,#fd0,#ff0,#ef0,#df0,#df0,#cf0,#cf0,#bf0)"></i><i style="background:linear-gradient(#f0f,#f0f,#f0f,#f0f,#f0f,#f0f,#f0f,#d0f,#02f,#09f,#0ef,#0ff,#0fd,#0f8,#0f1,#0f0,#2f0,#3f0,#8f0,#df0,#fe0,#fc0,#fa0,#f90,#f90,#f80,#f80,#f90,#fb0,#fc0,#fd0,#ff0,#ef0,#df0,#df0,#cf0,#cf0,#cf0)"></i><i style="background:linear-gradient(#f0f,#f0f,#f0f,#f0f,#f0f,#f0f,#f0f,#c0f,#03f,#09f,#0ff,#0ff,#0fc,#0f8,#0f0,#1f0,#2f0,#4f0,#af0,#ff0,#fd0,#fb0,#f90,#f80,#f80,#f70,#f80,#f90,#fa0,#fc0,#fd0,#fe0,#ff0,#df0,#cf0,#cf0,#cf0,#cf0)"></i><i style="background:linear-gradient(#f0f,#f0f,#f0f,#f0f,#f0f,#f0f,#f0f,#d0f,#02f,#09f,#0ff,#0fe,#0fc,#0f7,#0f1,#1f0,#2f0,#4f0,#bf0,#fc0,#f80,#f60,#f50,#f50,#f50,#f40,#f50,#f60,#f80,#fa0,#fb0,#fe0,#ff0,#df0,#df0,#cf0,#cf0,#cf0)"></i><i style="background:linear-gradient(#f0f,#f0f,#f0f,#f0f,#f0f,#f0f,#f0f,#f0f,#f0f,#f0f,#30f,#06f,#0ef,#0f9,#0f1,#1f0,#3f0,#5f0,#df0,#fb0,#f70,#f40,#f30,#f40,#f30,#f30,#f40,#f60,#f80,#fa0,#fc0,#fe0,#ff0,#ef0,#df0,#cf0,#cf0,#cf0)"></i><i style="background:linear-gradient(#f0f,#f0f,#f0f,#f0f,#f0f,#f0f,#f0f,#f0f,#f0f,#f0f,#f0f,#f0f,#90f,#04f,#0bf,#0fc,#0f2,#5f0,#cf0,#fb0,#f70,#f40,#f30,#f30,#f30,#f30,#f40,#f50,#f70,#fa0,#fc0,#fe0,#ff0,#ef0,#df0,#cf0,#cf0,#cf0)"></i><i style="background:linear-gradient(#f0f,#f0f,#f0f,#f0f,#f0f,#f0f,#f0f,#f0f,#f0f,#f0f,#f0f,#f0f,#a0f,#04f,#0bf,#0fb,#0f2,#5f0,#bf0,#fd0,#f90,#f70,#f60,#f60,#f50,#f50,#f60,#f70,#f90,#fb0,#fd0,#fe0,#ff0,#ef0,#df0,#cf0,#cf0,#cf0)"></i><i style="background:linear-gradient(#f0f,#f0f,#f0f,#f0f,#f0f,#f0f,#f0f,#f0f,#f0f,#f0f,#f0f,#f0f,#a0f,#04f,#0bf,#0fb,#0f2,#4f0,#bf0,#fc0,#f90,#f70,#f50,#f50,#f50,#f50,#f50,#f60,#f80,#fa0,#fc0,#fe0,#ff0,#df0,#cf0,#cf0,#cf0,#cf0)"></i><i style="background:linear-gradient(#f0f,#f0f,#f0f,#f0f,#f0f,#f0f,#f0f,#f0f,#f0f,#f0f,#f0f,#f0f,#a0f,#04f,#0bf,#0fb,#0f1,#5f0,#bf0,#fc0,#f80,#f60,#f40,#f50,#f40,#f40,#f50,#f60,#f80,#fa0,#fc0,#fe0,#ff0,#df0,#df0,#cf0,#cf0,#cf0)"></i><i style="background:linear-gradient(#f0f,#f0f,#f0f,#f0f,#f0f,#f0f,#f0f,#f0f,#f0f,#f0f,#f0f,#f0f,#50f,#07f,#0ef,#0f9,#3f0,#5f0,#cf0,#fc0,#f80,#f50,#f40,#f50,#f40,#f40,#f50,#f60,#f90,#fb0,#fd0,#ff0,#ef0,#df0,#cf0,#cf0,#cf0,#bf0)"></i><i style="background:linear-gradient(#f0f,#f0f,#f0f,#f0f,#f0f,#f0f,#f0f,#f0f,#30f,#07f,#0ff,#0fe,#0fd,#0f8,#0f1,#1f0,#2f0,#4f0,#bf0,#fd0,#f90,#f70,#f60,#f50,#f50,#f50,#f50,#f60,#f80,#fa0,#fc0,#fe0,#ff0,#df0,#df0,#cf0,#cf0,#cf0)"></i><i style="background:linear-gradient(#f0f,#f0f,#f0f,#f0f,#f0f,#f0f,#f0f,#c0f,#02f,#09f,#0ff,#0ff,#0fc,#0f8,#0f1,#1f0,#2f0,#3f0,#9f0,#ef0,#fd0,#fb0,#fa0,#f80,#f80,#f80,#f80,#f90,#fa0,#fc0,#fd0,#ff0,#ff0,#df0,#df0,#cf0,#cf0,#cf0)"></i><i style="background:linear-gradient(#f0f,#f0f,#f0f,#f0f,#f0f,#f0f,#f0f,#d0f,#01f,#09f,#0ff,#0fe,#0fc,#0f8,#0f1,#0f0,#2f0,#3f0,#8f0,#cf0,#ff0,#fd0,#fb0,#f90,#f90,#f90,#f90,#f90,#fa0,#fc0,#fd0,#fe0,#ff0,#df0,#df0,#cf0,#cf0,#cf0)"></i><i style="background:linear-gradient(#f0f,#f0f,#f0f,#f0f,#f0f,#f0f,#f0f,#d0f,#01f,#08f,#0ff,#0ff,#0fc,#0f8,#0f2,#1f0,#2f0,#2f0,#8f0,#cf0,#ff0,#fc0,#fa0,#f90,#f80,#f70,#f80,#f80,#f90,#fb0,#fd0,#fe0,#ff0,#df0,#df0,#cf0,#cf0,#cf0)"></i><i style="background:linear-gradient(#f0f,#f0f,#f0f,#f0f,#f0f,#f0f,#f0f,#e0f,#01f,#08f,#0ff,#0ff,#0fc,#0f8,#0f2,#0f0,#1f0,#3f0,#8f0,#cf0,#ef0,#fe0,#fd0,#fc0,#fb0,#fb0,#fb0,#fb0,#fd0,#fe0,#ff0,#ff0,#ef0,#df0,#df0,#cf0,#cf0,#cf0)"></i><i style="background:linear-gradient(#f0f,#f0f,#e0f,#f0f,#f0f,#f0f,#f0f,#f0f,#10f,#07f,#0ff,#0ff,#0fd,#0f9,#0f3,#0f0,#1f0,#2f0,#7f0,#bf0,#df0,#ff0,#fe0,#fe0,#fe0,#fe0,#fe0,#fe0,#fe0,#fe0,#ff0,#ef0,#ef0,#ef0,#df0,#df0,#df0,#cf0)"></i><i style="background:linear-gradient(#f0f,#f0f,#f0f,#f0f,#f0f,#f0f,#f0f,#f0f,#50f,#07f,#0ef,#0ff,#0fd,#0f9,#0f4,#0f0,#1f0,#3f0,#7f0,#bf0,#df0,#ff0,#fe0,#fe0,#fe0,#fd0,#fe0,#fd0,#fe0,#fe0,#ff0,#ff0,#ef0,#df0,#df0,#cf0,#df0,#cf0)"></i><i style="background:linear-gradient(#f0f,#f0f,#f0f,#f0f,#f0f,#f0f,#f0f,#f0f,#80f,#05f,#0df,#0ff,#0fd,#0f9,#0f5,#0f2,#2f0,#2f0,#7f0,#bf0,#df0,#ff0,#ff0,#fe0,#ff0,#fe0,#ff0,#fe0,#fe0,#fe0,#ff0,#ff0,#ef0,#df0,#df0,#df0,#df0,#cf0)"></i><i style="background:linear-gradient(#f0f,#f0f,#f0f,#f0f,#f0f,#f0f,#f0f,#f0f,#90f,#04f,#0cf,#0ff,#0fe,#0fa,#0f5,#0f2,#1f0,#2f0,#7f0,#bf0,#ff0,#fe0,#fd0,#fb0,#fb0,#fa0,#fb0,#fb0,#fc0,#fd0,#fe0,#ff0,#ef0,#ef0,#ef0,#df0,#df0,#df0)"></i><i style="background:linear-gradient(#f0f,#f0f,#f0f,#f0f,#f0f,#f0f,#f0f,#f0f,#a0f,#03f,#0bf,#0fe,#0fd,#0fa,#0f6,#0f3,#0f0,#3f0,#7f0,#bf0,#ff0,#fc0,#fa0,#f80,#f70,#f70,#f70,#f80,#f90,#fa0,#fc0,#fe0,#ff0,#ff0,#ef0,#ef0,#df0,#df0)"></i><i style="background:linear-gradient(#f0f,#f0f,#f0f,#f0f,#f0f,#f0f,#f0f,#f0f,#c0f,#02f,#0af,#0ff,#0fe,#0fb,#0f7,#0f3,#1f0,#2f0,#7f0,#cf0,#fe0,#fb0,#f90,#f70,#f60,#f50,#f60,#f70,#f80,#fa0,#fc0,#fe0,#ff0,#ff0,#ef0,#ef0,#ef0,#df0)"></i><i style="background:linear-gradient(#f0f,#f0f,#f0f,#f0f,#f0f,#f0f,#f0f,#f0f,#e0f,#01f,#09f,#0ff,#0fe,#0fc,#0f8,#0f4,#0f0,#3f0,#8f0,#cf0,#fc0,#f90,#f60,#f40,#f30,#f20,#f30,#f40,#f60,#f80,#fa0,#fd0,#fe0,#ff0,#ef0,#ef0,#ef0,#ef0)"></i><i style="background:linear-gradient(#f0f,#f0f,#f0f,#f0f,#f0f,#f0f,#f0f,#f0f,#f0f,#00f,#07f,#0ff,#0fe,#0fc,#0f9,#0f4,#0f0,#3f0,#7f0,#cf0,#fd0,#f90,#f70,#f50,#f30,#f30,#f40,#f50,#f60,#f80,#fb0,#fd0,#fe0,#ff0,#ff0,#ef0,#ef0,#ef0)"></i><i style="background:linear-gradient(#f0f,#f0f,#f0f,#f0f,#f0f,#f0f,#f0f,#f0f,#f0f,#50f,#06f,#0ef,#0fe,#0fd,#0fa,#0f5,#1f0,#2f0,#7f0,#cf0,#fd0,#f90,#f60,#f40,#f30,#f20,#f30,#f40,#f60,#f80,#fa0,#fd0,#fe0,#fe0,#ff0,#ff0,#ff0,#ff0)"></i><i style="background:linear-gradient(#f0f,#f0f,#f0f,#f0f,#f0f,#f0f,#f0f,#f0f,#f0f,#80f,#05f,#0cf,#0ff,#0fd,#0fa,#0f6,#0f0,#3f0,#7f0,#bf0,#fd0,#fa0,#f70,#f50,#f40,#f30,#f40,#f50,#f70,#f80,#fb0,#fd0,#fe0,#ff0,#ff0,#ff0,#ff0,#ff0)"></i><i style="background:linear-gradient(#f0f,#f0f,#f0f,#f0f,#f0f,#f0f,#f0f,#f0f,#f0f,#90f,#04f,#0cf,#0ff,#0fd,#0fa,#0f5,#0f0,#3f0,#7f0,#cf0,#ff0,#fb0,#f90,#f70,#f60,#f50,#f60,#f70,#f80,#fa0,#fd0,#fe0,#ff0,#ff0,#ef0,#ef0,#ef0,#ef0)"></i><i style="background:linear-gradient(#f0f,#f0f,#f0f,#f0f,#f0f,#f0f,#f0f,#f0f,#f0f,#a0f,#03f,#0bf,#0ff,#0fd,#0fb,#0f6,#0f0,#3f0,#6f0,#bf0,#fe0,#fc0,#f90,#f70,#f60,#f50,#f60,#f70,#f90,#fa0,#fc0,#fe0,#fe0,#ff0,#ff0,#ff0,#ff0,#ff0)"></i><i style="background:linear-gradient(#f0f,#f0f,#f0f,#f0f,#f0f,#f0f,#f0f,#f0f,#f0f,#b0f,#02f,#0bf,#0ff,#0fe,#0fb,#0f6,#0f0,#1f0,#6f0,#af0,#ef0,#fd0,#fb0,#fa0,#f90,#f80,#f90,#f90,#fa0,#fb0,#fd0,#fe0,#fe0,#fe0,#fe0,#ff0,#ff0,#ff0)"></i><i style="background:linear-gradient(#f0f,#f0f,#f0f,#f0f,#f0f,#f0f,#f0f,#f0f,#f0f,#c0f,#02f,#0af,#0ff,#0fe,#0fb,#0f6,#0f1,#2f0,#6f0,#9f0,#df0,#fe0,#fc0,#fb0,#fb0,#fa0,#fa0,#fa0,#fb0,#fb0,#fd0,#fd0,#fd0,#fd0,#fd0,#fe0,#ff0,#ff0)"></i><i style="background:linear-gradient(#f0f,#f0f,#f0f,#f0f,#f0f,#f0f,#f0f,#f0f,#f0f,#c0f,#02f,#09f,#0ff,#0fe,#0fb,#0f6,#0f0,#2f0,#6f0,#9f0,#df0,#fe0,#fc0,#fb0,#fb0,#fa0,#fb0,#fb0,#fb0,#fb0,#fc0,#fc0,#fc0,#fc0,#fd0,#fd0,#fe0,#ff0)"></i><i style="background:linear-gradient(#f0f,#f0f,#f0f,#f0f,#f0f,#f0f,#f0f,#f0f,#f0f,#c0f,#01f,#09f,#0ff,#0fe,#0fc,#0f6,#0f0,#2f0,#5f0,#9f0,#df0,#fe0,#fd0,#fd0,#fd0,#fc0,#fc0,#fc0,#fd0,#fd0,#fd0,#fd0,#fd0,#fd0,#fd0,#fe0,#ff0,#ff0)"></i><i style="background:linear-gradient(#f0f,#f0f,#f0f,#f0f,#f0f,#f0f,#f0f,#f0f,#f0f,#c0f,#02f,#09f,#0ff,#0fe,#0fb,#0f6,#0f0,#1f0,#5f0,#9f0,#df0,#ff0,#fe0,#fd0,#fd0,#fc0,#fd0,#fd0,#fd0,#fd0,#fe0,#fe0,#fe0,#fd0,#fe0,#fe0,#ff0,#ff0)"></i><i style="background:linear-gradient(#f0f,#f0f,#f0f,#f0f,#f0f,#f0f,#f0f,#f0f,#f0f,#d0f,#02f,#09f,#0ff,#0fe,#0fb,#0f5,#0f0,#2f0,#5f0,#9f0,#df0,#fe0,#fd0,#fd0,#fd0,#fc0,#fc0,#fc0,#fd0,#fd0,#fd0,#fe0,#fd0,#fd0,#fd0,#fe0,#ff0,#ff0)"></i><i style="background:linear-gradient(#f0f,#f0f,#f0f,#f0f,#f0f,#f0f,#f0f,#f0f,#f0f,#c0f,#02f,#09f,#0ff,#0fe,#0fb,#0f6,#0f1,#2f0,#6f0,#9f0,#df0,#fd0,#fc0,#fb0,#fb0,#fb0,#fb0,#fb0,#fb0,#fb0,#fc0,#fc0,#fc0,#fb0,#fc0,#fd0,#fe0,#fe0)"></i><i style="background:linear-gradient(#f0f,#f0f,#f0f,#f0f,#f0f,#f0f,#f0f,#f0f,#f0f,#c0f,#02f,#09f,#0ff,#0fe,#0fb,#0f6,#0f1,#2f0,#5f0,#9f0,#df0,#fd0,#fc0,#fb0,#fa0,#fa0,#fa0,#fb0,#fb0,#fb0,#fc0,#fc0,#fb0,#fb0,#fc0,#fd0,#fe0,#fe0)"></i><i style="background:linear-gradient(#f0f,#f0f,#f0f,#f0f,#f0f,#f0f,#f0f,#f0f,#f0f,#d0f,#02f,#09f,#0ff,#0fe,#0fb,#0f6,#0f1,#2f0,#5f0,#9f0,#df0,#fe0,#fd0,#fc0,#fc0,#fc0,#fc0,#fc0,#fc0,#fd0,#fd0,#fd0,#fd0,#fd0,#fd0,#fe0,#ff0,#ff0)"></i><i style="background:linear-gradient(#f0f,#f0f,#f0f,#f0f,#f0f,#f0f,#f0f,#f0f,#e0f,#d0f,#02f,#09f,#0ff,#0fe,#0fb,#0f6,#0f0,#2f0,#6f0,#9f0,#df0,#ff0,#fe0,#fd0,#fd0,#fd0,#fd0,#fd0,#fd0,#fe0,#fe0,#fe0,#fe0,#fe0,#fe0,#fe0,#ff0,#ff0)"></i><i style="background:linear-gradient(#f0f,#f0f,#f0f,#f0f,#f0f,#f0f,#f0f,#f0f,#f0f,#c0f,#02f,#09f,#0ff,#0fe,#0fb,#0f6,#0f1,#2f0,#5f0,#9f0,#df0,#fe0,#fc0,#fc0,#fb0,#fb0,#fb0,#fb0,#fc0,#fc0,#fd0,#fd0,#fc0,#fc0,#fd0,#fe0,#fe0,#ff0)"></i><i style="background:linear-gradient(#f0f,#f0f,#f0f,#f0f,#f0f,#f0f,#f0f,#f0f,#f0f,#c0f,#01f,#0af,#0ff,#0fe,#0fb,#0f6,#0f1,#2f0,#5f0,#9f0,#df0,#fe0,#fd0,#fc0,#fc0,#fc0,#fc0,#fc0,#fc0,#fc0,#fd0,#fd0,#fd0,#fd0,#fe0,#fe0,#ff0,#ff0)"></i><i style="background:linear-gradient(#f0f,#f0f,#f0f,#f0f,#f0f,#f0f,#f0f,#f0f,#f0f,#d0f,#02f,#09f,#0ff,#0fe,#0fb,#0f6,#0f0,#2f0,#5f0,#9f0,#df0,#ff0,#fe0,#fe0,#fe0,#fd0,#fd0,#fe0,#fd0,#fe0,#fe0,#fe0,#fe0,#fe0,#fe0,#ff0,#ff0,#ff0)"></i><i style="background:linear-gradient(#f0f,#f0f,#f0f,#f0f,#f0f,#f0f,#f0f,#f0f,#f0f,#c0f,#02f,#0af,#0ff,#0fe,#0fb,#0f6,#0f0,#2f0,#5f0,#9f0,#df0,#fe0,#fc0,#fb0,#fb0,#fb0,#fb0,#fb0,#fb0,#fc0,#fc0,#fd0,#fc0,#fc0,#fd0,#fe0,#fe0,#fe0)"></i><i style="background:linear-gradient(#f0f,#e0f,#f0f,#f0f,#f0f,#f0f,#f0f,#f0f,#f0f,#c0f,#01f,#0af,#0ff,#0fe,#0fb,#0f6,#0f0,#2f0,#6f0,#8f0,#df0,#ff0,#ff0,#fe0,#fe0,#fe0,#fe0,#fe0,#fe0,#fe0,#ff0,#ff0,#fe0,#fe0,#ff0,#ff0,#ff0,#ef0)"></i><i style="background:linear-gradient(#f0f,#f0f,#f0f,#f0f,#f0f,#f0f,#f0f,#f0f,#f0f,#d0f,#02f,#09f,#0ff,#0fe,#0fc,#0f6,#0f1,#2f0,#5f0,#9f0,#df0,#fe0,#fc0,#fc0,#fc0,#fb0,#fc0,#fb0,#fc0,#fc0,#fd0,#fd0,#fc0,#fc0,#fd0,#fe0,#fe0,#ff0)"></i><i style="background:linear-gradient(#f0f,#f0f,#f0f,#f0f,#f0f,#f0f,#f0f,#f0f,#f0f,#d0f,#02f,#09f,#0ff,#0fe,#0fb,#0f6,#0f0,#2f0,#5f0,#af0,#df0,#fd0,#fc0,#fb0,#fb0,#fa0,#fa0,#fb0,#fb0,#fb0,#fc0,#fc0,#fc0,#fc0,#fc0,#fd0,#fe0,#fe0)"></i><i style="background:linear-gradient(#f0f,#f0f,#f0f,#f0f,#f0f,#f0f,#f0f,#f0f,#f0f,#c0f,#02f,#09f,#0ff,#0fe,#0fc,#0f6,#0f1,#1f0,#5f0,#9f0,#df0,#ff0,#fe0,#fd0,#fd0,#fd0,#fd0,#fd0,#fd0,#fd0,#fe0,#fe0,#fe0,#fd0,#fe0,#ff0,#ff0,#ff0)"></i><i style="background:linear-gradient(#f0f,#f0f,#f0f,#f0f,#f0f,#f0f,#f0f,#f0f,#f0f,#d0f,#02f,#0af,#0ff,#0fe,#0fb,#0f6,#0f0,#2f0,#5f0,#9f0,#df0,#fe0,#fd0,#fc0,#fc0,#fb0,#fc0,#fb0,#fc0,#fc0,#fd0,#fd0,#fc0,#fc0,#fd0,#fe0,#fe0,#ff0)"></i><i style="background:linear-gradient(#f0f,#f0f,#f0f,#f0f,#f0f,#f0f,#f0f,#f0f,#f0f,#c0f,#02f,#0af,#0ff,#0fe,#0fb,#0f6,#0f1,#2f0,#5f0,#9f0,#df0,#fe0,#fd0,#fd0,#fc0,#fc0,#fc0,#fc0,#fc0,#fd0,#fd0,#fe0,#fd0,#fd0,#fe0,#fe0,#ff0,#ff0)"></i><i style="background:linear-gradient(#f0f,#f0f,#f0f,#f0f,#f0f,#f0f,#f0f,#f0f,#f0f,#c0f,#01f,#0af,#0ff,#0fe,#0fb,#0f5,#0f0,#2f0,#5f0,#9f0,#df0,#fe0,#fd0,#fd0,#fd0,#fc0,#fc0,#fc0,#fd0,#fd0,#fe0,#fd0,#fd0,#fe0,#fe0,#fe0,#ff0,#ff0)"></i><i style="background:linear-gradient(#f0f,#f0f,#f0f,#e0f,#f0f,#f0f,#f0f,#f0f,#f0f,#d0f,#02f,#09f,#0ff,#0fe,#0fb,#0f6,#0f0,#1f0,#5f0,#9f0,#df0,#ff0,#fe0,#fd0,#fd0,#fd0,#fd0,#fd0,#fd0,#fd0,#fe0,#fe0,#fe0,#fd0,#fe0,#fe0,#ff0,#ff0)"></i><i style="background:linear-gradient(#f0f,#f0f,#f0f,#f0f,#f0f,#f0f,#f0f,#f0f,#f0f,#c0f,#02f,#09f,#0ff,#0fe,#0fb,#0f6,#0f1,#2f0,#5f0,#9f0,#df0,#ff0,#fe0,#fd0,#fd0,#fd0,#fd0,#fd0,#fd0,#fd0,#fe0,#fe0,#fe0,#fe0,#fe0,#ff0,#ff0,#ff0)"></i><i style="background:linear-gradient(#f0f,#f0f,#f0f,#f0f,#f0f,#f0f,#f0f,#f0f,#f0f,#d0f,#02f,#09f,#0ff,#0fe,#0fb,#0f6,#0f1,#1f0,#5f0,#9f0,#df0,#fe0,#fd0,#fc0,#fc0,#fc0,#fc0,#fc0,#fc0,#fd0,#fd0,#fd0,#fd0,#fd0,#fd0,#fe0,#ff0,#ff0)"></i><i style="background:linear-gradient(#f0f,#f0f,#f0f,#f0f,#f0f,#f0f,#f0f,#f0f,#f0f,#c0f,#02f,#09f,#0ff,#0fe,#0fb,#0f5,#0f1,#2f0,#6f0,#9f0,#df0,#ff0,#fd0,#fd0,#fd0,#fd0,#fd0,#fd0,#fd0,#fd0,#fe0,#fe0,#fd0,#fd0,#fe0,#ff0,#ff0,#ff0)"></i><i style="background:linear-gradient(#f0f,#f0f,#f0f,#f0f,#f0f,#f0f,#f0f,#f0f,#f0f,#c0f,#02f,#09f,#0ef,#0fe,#0fb,#0f6,#0f0,#2f0,#5f0,#9f0,#df0,#ff0,#fe0,#fd0,#fd0,#fd0,#fd0,#fd0,#fd0,#fd0,#fe0,#fe0,#fe0,#fe0,#fe0,#ff0,#ff0,#ff0)"></i><i style="background:linear-gradient(#f0f,#f0f,#f0f,#f0f,#f0f,#f0f,#f0f,#f0f,#f0f,#d0f,#02f,#09f,#0ff,#0fe,#0fb,#0f6,#0f1,#2f0,#5f0,#9f0,#df0,#fe0,#fd0,#fc0,#fc0,#fb0,#fb0,#fc0,#fc0,#fc0,#fd0,#fd0,#fc0,#fc0,#fd0,#fe0,#fe0,#ff0)"></i><i style="background:linear-gradient(#f0f,#f0f,#e0f,#f0f,#f0f,#f0f,#f0f,#f0f,#f0f,#d0f,#02f,#09f,#0ff,#0fe,#0fc,#0f6,#0f0,#2f0,#5f0,#9f0,#df0,#fe0,#fc0,#fc0,#fc0,#fb0,#fc0,#fb0,#fc0,#fc0,#fd0,#fd0,#fc0,#fc0,#fd0,#fe0,#fe0,#ff0)"></i><i style="background:linear-gradient(#f0f,#f0f,#f0f,#f0f,#f0f,#e0f,#f0f,#f0f,#f0f,#c0f,#02f,#09f,#0ff,#0fe,#0fb,#0f7,#0f0,#2f0,#5f0,#9f0,#df0,#fe0,#fd0,#fd0,#fc0,#fc0,#fc0,#fc0,#fc0,#fd0,#fd0,#fd0,#fd0,#fd0,#fd0,#fe0,#fe0,#ff0)"></i><i style="background:linear-gradient(#f0f,#f0f,#f0f,#f0f,#f0f,#f0f,#f0f,#f0f,#f0f,#d0f,#02f,#09f,#0ff,#0fe,#0fc,#0f6,#0f0,#1f0,#5f0,#9f0,#df0,#ff0,#fe0,#fe0,#fe0,#fd0,#fd0,#fe0,#fe0,#fe0,#fe0,#fe0,#fe0,#fe0,#ff0,#ff0,#ff0,#ef0)"></i><i style="background:linear-gradient(#f0f,#f0f,#f0f,#f0f,#f0f,#f0f,#f0f,#f0f,#f0f,#d0f,#02f,#0af,#0ff,#0fe,#0fb,#0f6,#0f0,#2f0,#5f0,#9f0,#df0,#fe0,#fc0,#fc0,#fb0,#fb0,#fb0,#fb0,#fc0,#fc0,#fd0,#fd0,#fc0,#fc0,#fd0,#fe0,#fe0,#ff0)"></i><i style="background:linear-gradient(#f0f,#f0f,#f0f,#f0f,#f0f,#f0f,#f0f,#f0f,#f0f,#d0f,#02f,#09f,#0ff,#0fe,#0fb,#0f6,#0f0,#2f0,#5f0,#9f0,#df0,#fe0,#fc0,#fb0,#fb0,#fa0,#fa0,#fb0,#fb0,#fc0,#fd0,#fd0,#fd0,#fd0,#fe0,#fe0,#ff0,#ff0)"></i><i style="background:linear-gradient(#f0f,#f0f,#f0f,#f0f,#f0f,#f0f,#f0f,#f0f,#f0f,#d0f,#01f,#0af,#0ff,#0fe,#0fb,#0f6,#0f0,#1f0,#5f0,#9f0,#ef0,#ff0,#fd0,#fc0,#fc0,#fb0,#fc0,#fb0,#fc0,#fd0,#fe0,#ff0,#ff0,#ff0,#ff0,#ef0,#ef0,#ef0)"></i><i style="background:linear-gradient(#f0f,#f0f,#f0f,#f0f,#f0f,#f0f,#f0f,#f0f,#f0f,#d0f,#02f,#09f,#0ff,#0fe,#0fb,#0f6,#0f0,#2f0,#5f0,#af0,#ef0,#fe0,#fc0,#fa0,#f90,#f90,#f90,#fa0,#fb0,#fc0,#fd0,#ff0,#ff0,#ff0,#ff0,#ff0,#ff0,#ff0)"></i><i style="background:linear-gradient(#f0f,#f0f,#f0f,#f0f,#f0f,#f0f,#f0f,#f0f,#f0f,#d0f,#01f,#0af,#0fe,#0fe,#0fb,#0f7,#0f1,#2f0,#6f0,#9f0,#ef0,#fd0,#fb0,#f90,#f90,#f80,#f80,#f90,#fa0,#fb0,#fd0,#fe0,#fe0,#ff0,#ff0,#ff0,#ff0,#ff0)"></i><i style="background:linear-gradient(#f0f,#f0f,#f0f,#f0f,#f0f,#f0f,#f0f,#f0f,#f0f,#d0f,#02f,#09f,#0ff,#0fe,#0fb,#0f6,#0f0,#2f0,#6f0,#af0,#ef0,#fd0,#fb0,#f90,#f90,#f80,#f80,#f80,#fa0,#fa0,#fd0,#fe0,#fe0,#ff0,#ff0,#ff0,#ff0,#ff0)"></i><i style="background:linear-gradient(#f0f,#f0f,#f0f,#f0f,#f0f,#f0f,#f0f,#f0f,#f0f,#d0f,#02f,#0af,#0ff,#0fe,#0fb,#0f6,#0f0,#2f0,#6f0,#af0,#ef0,#fd0,#fb0,#f90,#f90,#f80,#f90,#f90,#fa0,#fb0,#fd0,#fe0,#ff0,#ff0,#ff0,#ef0,#ff0,#ff0)"></i><i style="background:linear-gradient(#f0f,#f0f,#f0f,#f0f,#f0f,#f0f,#f0f,#f0f,#f0f,#d0f,#02f,#09f,#0ff,#0fe,#0fb,#0f6,#0f1,#2f0,#6f0,#af0,#ef0,#fd0,#fb0,#f90,#f90,#f80,#f80,#f90,#fa0,#fb0,#fd0,#fe0,#ff0,#ff0,#ff0,#ff0,#ff0,#ff0)"></i><i style="background:linear-gradient(#f0f,#f0f,#f0f,#f0f,#f0f,#f0f,#f0f,#f0f,#f0f,#d0f,#02f,#0af,#0ff,#0fe,#0fb,#0f6,#0f1,#2f0,#5f0,#9f0,#ef0,#fd0,#fb0,#f90,#f80,#f80,#f80,#f90,#fa0,#fb0,#fd0,#fe0,#fe0,#ff0,#ff0,#ff0,#ff0,#ff0)"></i><i style="background:linear-gradient(#f0f,#f0f,#f0f,#f0f,#f0f,#f0f,#f0f,#f0f,#f0f,#d0f,#02f,#0af,#0ff,#0fe,#0fb,#0f6,#0f0,#2f0,#6f0,#9f0,#ef0,#fd0,#fb0,#fa0,#f90,#f80,#f90,#f90,#fa0,#fb0,#fd0,#fe0,#ff0,#ff0,#ff0,#ef0,#ff0,#ff0)"></i><i style="background:linear-gradient(#f0f,#f0f,#f0f,#f0f,#f0f,#f0f,#f0f,#f0f,#f0f,#d0f,#02f,#09f,#0ff,#0fd,#0fb,#0f6,#0f0,#2f0,#6f0,#af0,#ef0,#fd0,#fb0,#f90,#f80,#f80,#f80,#f90,#fa0,#fb0,#fd0,#fe0,#fe0,#ff0,#ff0,#ff0,#ff0,#ff0)"></i><i style="background:linear-gradient(#f0f,#f0f,#f0f,#f0f,#f0f,#f0f,#f0f,#f0f,#f0f,#d0f,#02f,#0af,#0ff,#0fe,#0fb,#0f6,#0f0,#2f0,#6f0,#af0,#ef0,#fd0,#fb0,#fa0,#f90,#f90,#f90,#f90,#fa0,#fc0,#fd0,#ff0,#ff0,#ff0,#ff0,#ff0,#ff0,#ff0)"></i><i style="background:linear-gradient(#f0f,#f0f,#f0f,#f0f,#f0f,#f0f,#f0f,#f0f,#f0f,#d0f,#02f,#09f,#0ff,#0fe,#0fb,#0f6,#0f0,#2f0,#5f0,#af0,#ef0,#fd0,#fb0,#fa0,#f90,#f80,#f90,#f90,#fa0,#fb0,#fd0,#fe0,#ff0,#ff0,#ff0,#ef0,#ff0,#ff0)"></i><i style="background:linear-gradient(#f0f,#f0f,#f0f,#f0f,#f0f,#f0f,#f0f,#f0f,#f0f,#d0f,#02f,#09f,#0ff,#0fe,#0fb,#0f6,#0f0,#2f0,#6f0,#af0,#ef0,#fd0,#fb0,#fa0,#f90,#f80,#f90,#f90,#fa0,#fb0,#fd0,#fe0,#ff0,#ff0,#ff0,#ff0,#ff0,#ff0)"></i><i style="background:linear-gradient(#f0f,#f0f,#f0f,#f0f,#f0f,#f0f,#f0f,#f0f,#f0f,#d0f,#01f,#09f,#0ff,#0fe,#0fb,#0f6,#0f0,#1f0,#6f0,#af0,#ef0,#fc0,#fa0,#f90,#f80,#f80,#f80,#f80,#fa0,#fb0,#fd0,#fe0,#fe0,#ff0,#ff0,#ff0,#ff0,#ff0)"></i><i style="background:linear-gradient(#f0f,#f0f,#f0f,#f0f,#f0f,#f0f,#f0f,#f0f,#f0f,#c0f,#02f,#09f,#0ff,#0fe,#0fb,#0f6,#0f1,#2f0,#6f0,#af0,#ef0,#fd0,#fb0,#fa0,#f90,#f90,#f90,#f90,#fa0,#fc0,#fd0,#fe0,#ff0,#ff0,#ff0,#ff0,#ef0,#ff0)"></i><i style="background:linear-gradient(#f0f,#f0f,#f0f,#f0f,#f0f,#f0f,#f0f,#f0f,#f0f,#c0f,#02f,#0af,#0ff,#0ff,#0fb,#0f6,#0f0,#2f0,#6f0,#af0,#ef0,#fd0,#fb0,#fa0,#f90,#f90,#f90,#f90,#fa0,#fb0,#fd0,#fe0,#ff0,#ff0,#ff0,#ff0,#ff0,#ff0)"></i><i style="background:linear-gradient(#f0f,#f0f,#f0f,#f0f,#f0f,#f0f,#f0f,#f0f,#f0f,#c0f,#02f,#09f,#0ff,#0fe,#0fb,#0f6,#0f0,#1f0,#7f0,#9f0,#ef0,#fd0,#fb0,#f90,#f90,#f80,#f80,#f90,#fa0,#fb0,#fd0,#fe0,#ff0,#ff0,#ff0,#ff0,#ff0,#ff0)"></i><i style="background:linear-gradient(#f0f,#e0f,#f0f,#f0f,#f0f,#f0f,#f0f,#f0f,#f0f,#d0f,#02f,#0af,#0ff,#0fe,#0fb,#0f6,#0f0,#2f0,#5f0,#af0,#ff0,#fc0,#fa0,#f80,#f80,#f70,#f80,#f80,#f90,#fa0,#fc0,#fe0,#fe0,#ff0,#ff0,#ff0,#ff0,#ff0)"></i><i style="background:linear-gradient(#f0f,#f0f,#f0f,#f0f,#f0f,#f0f,#f0f,#f0f,#f0f,#d0f,#02f,#09f,#0ff,#0fe,#0fb,#0f6,#0f0,#2f0,#6f0,#af0,#ef0,#fe0,#fb0,#fa0,#f90,#f90,#f90,#f90,#fb0,#fc0,#fe0,#ff0,#ff0,#ff0,#ff0,#ef0,#ff0,#ff0)"></i><i style="background:linear-gradient(#f0f,#f0f,#f0f,#f0f,#f0f,#f0f,#f0f,#f0f,#f0f,#d0f,#02f,#09f,#0ff,#0fe,#0fb,#0f6,#0f0,#2f0,#6f0,#af0,#ef0,#fd0,#fb0,#f90,#f80,#f80,#f80,#f80,#fa0,#fb0,#fd0,#fe0,#ff0,#ff0,#ff0,#ff0,#ff0,#ff0)"></i><i style="background:linear-gradient(#f0f,#f0f,#f0f,#f0f,#f0f,#f0f,#f0f,#f0f,#f0f,#d0f,#02f,#0af,#0ff,#0fe,#0fc,#0f6,#0f1,#2f0,#6f0,#af0,#ef0,#fd0,#fa0,#f90,#f80,#f80,#f70,#f80,#fa0,#fb0,#fd0,#fe0,#ff0,#ff0,#ff0,#ff0,#ff0,#ff0)"></i><i style="background:linear-gradient(#f0f,#f0f,#f0f,#f0f,#f0f,#f0f,#f0f,#f0f,#f0f,#d0f,#02f,#09f,#0ff,#0fe,#0fb,#0f5,#0f1,#2f0,#6f0,#af0,#ef0,#fd0,#fa0,#f80,#f80,#f70,#f70,#f80,#f90,#fb0,#fd0,#fe0,#fe0,#ff0,#ff0,#ff0,#ff0,#ff0)"></i><i style="background:linear-gradient(#f0f,#f0f,#f0f,#f0f,#f0f,#f0f,#f0f,#f0f,#f0f,#c0f,#02f,#09f,#0ff,#0fe,#0fb,#0f6,#0f0,#2f0,#6f0,#af0,#ef0,#fd0,#fb0,#f90,#f80,#f70,#f70,#f80,#fa0,#fb0,#fd0,#fe0,#ff0,#ff0,#ff0,#ff0,#ff0,#ff0)"></i><i style="background:linear-gradient(#f0f,#f0f,#f0f,#f0f,#f0f,#f0f,#f0f,#f0f,#f0f,#d0f,#02f,#09f,#0ff,#0fe,#0fb,#0f6,#0f0,#2f0,#6f0,#af0,#ef0,#fd0,#fb0,#f90,#f80,#f70,#f70,#f80,#f90,#fb0,#fd0,#fe0,#ff0,#ff0,#ff0,#ef0,#ff0,#ff0)"></i><i style="background:linear-gradient(#f0f,#f0f,#f0f,#f0f,#f0f,#f0f,#f0f,#f0f,#f0f,#d0f,#02f,#0af,#0ff,#0fe,#0fb,#0f6,#0f0,#2f0,#6f0,#af0,#ef0,#fc0,#fa0,#f80,#f70,#f70,#f70,#f70,#f90,#fb0,#fd0,#fe0,#fe0,#ff0,#ef0,#ff0,#ff0,#ff0)"></i><i style="background:linear-gradient(#f0f,#f0f,#f0f,#f0f,#f0f,#f0f,#f0f,#f0f,#f0f,#c0f,#01f,#09f,#0ef,#0fe,#0fb,#0f6,#0f1,#2f0,#6f0,#af0,#ff0,#fc0,#f90,#f70,#f70,#f60,#f60,#f70,#f80,#fa0,#fc0,#fe0,#fe0,#ff0,#ff0,#ff0,#ff0,#ff0)"></i><i style="background:linear-gradient(#f0f,#f0f,#f0f,#f0f,#f0f,#f0f,#f0f,#f0f,#f0f,#d0f,#01f,#09f,#0ff,#0fe,#0fb,#0f6,#0f1,#1f0,#6f0,#af0,#ff0,#fd0,#fb0,#f90,#f80,#f70,#f70,#f80,#f90,#fb0,#fd0,#fe0,#ff0,#ff0,#ff0,#ff0,#ff0,#ff0)"></i><i style="background:linear-gradient(#f0f,#f0f,#f0f,#f0f,#f0f,#f0f,#f0f,#f0f,#f0f,#c0f,#02f,#09f,#0ff,#0fe,#0fb,#0f6,#0f0,#2f0,#6f0,#af0,#ef0,#fc0,#fa0,#f80,#f70,#f60,#f70,#f70,#f90,#fa0,#fd0,#ff0,#fe0,#ff0,#ff0,#ff0,#ff0,#ff0)"></i><i style="background:linear-gradient(#f0f,#f0f,#f0f,#f0f,#f0f,#f0f,#f0f,#f0f,#f0f,#d0f,#02f,#09f,#0ff,#0fe,#0fb,#0f6,#0f1,#2f0,#6f0,#af0,#ff0,#fd0,#fa0,#f90,#f80,#f70,#f70,#f80,#f90,#fb0,#fd0,#fe0,#fe0,#ff0,#ff0,#ff0,#ff0,#ff0)"></i><i style="background:linear-gradient(#f0f,#f0f,#f0f,#f0f,#f0f,#f0f,#f0f,#f0f,#f0f,#d0f,#02f,#0af,#0ff,#0fe,#0fb,#0f6,#0f0,#2f0,#5f0,#af0,#ef0,#fc0,#fa0,#f80,#f70,#f70,#f70,#f80,#f90,#fa0,#fd0,#fe0,#ff0,#ff0,#ff0,#ef0,#ff0,#ff0)"></i><i style="background:linear-gradient(#f0f,#f0f,#f0f,#f0f,#f0f,#f0f,#f0f,#f0f,#f0f,#c0f,#02f,#09f,#0ff,#0fe,#0fb,#0f6,#0f0,#2f0,#6f0,#af0,#ef0,#fd0,#fb0,#f90,#f80,#f70,#f80,#f80,#f90,#fb0,#fd0,#fe0,#ff0,#ff0,#ff0,#ff0,#ff0,#ff0)"></i><i style="background:linear-gradient(#f0f,#f0f,#f0f,#f0f,#f0f,#f0f,#f0f,#f0f,#e0f,#d0f,#02f,#09f,#0ff,#0fd,#0fb,#0f6,#0f0,#2f0,#6f0,#af0,#ef0,#fd0,#fb0,#f90,#f80,#f80,#f80,#f90,#fa0,#fb0,#fd0,#fe0,#ff0,#ff0,#ff0,#ef0,#ff0,#ff0)"></i><i style="background:linear-gradient(#f0f,#f0f,#f0f,#f0f,#f0f,#f0f,#f0f,#f0f,#f0f,#d0f,#01f,#09f,#0ff,#0fe,#0fb,#0f6,#0f0,#1f0,#6f0,#af0,#ef0,#fe0,#fb0,#fa0,#f90,#f80,#f80,#f90,#fa0,#fc0,#fd0,#ff0,#ff0,#ff0,#ff0,#ff0,#ef0,#ff0)"></i><i style="background:linear-gradient(#f0f,#f0f,#f0f,#f0f,#f0f,#f0f,#f0f,#f0f,#f0f,#d0f,#02f,#09f,#0ff,#0fe,#0fb,#0f6,#0f0,#2f0,#5f0,#af0,#ef0,#fd0,#fb0,#fa0,#f90,#f80,#f90,#f90,#fb0,#fc0,#fe0,#fe0,#ff0,#ff0,#ff0,#ff0,#ef0,#ff0)"></i><i style="background:linear-gradient(#f0f,#f0f,#f0f,#f0f,#f0f,#f0f,#f0f,#f0f,#f0f,#c0f,#02f,#09f,#0ff,#0fe,#0fb,#0f6,#0f0,#2f0,#5f0,#af0,#ef0,#fd0,#fb0,#f90,#f80,#f80,#f80,#f90,#fa0,#fb0,#fd0,#fe0,#fe0,#ff0,#ff0,#ff0,#ff0,#ff0)"></i><i style="background:linear-gradient(#f0f,#f0f,#f0f,#f0f,#f0f,#f0f,#f0f,#e0f,#f0f,#c0f,#02f,#09f,#0ff,#0fe,#0fb,#0f6,#0f0,#2f0,#6f0,#af0,#ef0,#fc0,#fa0,#f80,#f80,#f70,#f70,#f80,#f90,#fa0,#fc0,#fe0,#fe0,#ff0,#ff0,#ff0,#ff0,#ff0)"></i><i style="background:linear-gradient(#f0f,#f0f,#f0f,#f0f,#f0f,#f0f,#f0f,#f0f,#f0f,#d0f,#02f,#09f,#0ff,#0fe,#0fb,#0f6,#0f0,#2f0,#6f0,#af0,#ef0,#fd0,#fb0,#f90,#f80,#f80,#f80,#f80,#fa0,#fb0,#fd0,#fe0,#ff0,#ff0,#ff0,#ef0,#ef0,#ff0)"></i><i style="background:linear-gradient(#f0f,#f0f,#f0f,#f0f,#f0f,#f0f,#f0f,#f0f,#f0f,#c0f,#02f,#09f,#0ff,#0fe,#0fb,#0f5,#0f0,#2f0,#6f0,#af0,#ef0,#fc0,#fa0,#f80,#f80,#f80,#f80,#f80,#f90,#fa0,#fc0,#fe0,#fe0,#ff0,#ff0,#ff0,#ff0,#ff0)"></i><i style="background:linear-gradient(#f0f,#f0f,#f0f,#f0f,#f0f,#f0f,#e0f,#f0f,#f0f,#d0f,#02f,#09f,#0ff,#0fd,#0fb,#0f6,#0f1,#2f0,#6f0,#af0,#ef0,#fd0,#fb0,#f90,#f80,#f80,#f80,#f90,#fa0,#fb0,#fd0,#fe0,#ff0,#ff0,#ff0,#ef0,#ff0,#ff0)"></i><i style="background:linear-gradient(#f0f,#f0f,#f0f,#f0f,#f0f,#f0f,#f0f,#f0f,#f0f,#d0f,#01f,#09f,#0ff,#0fe,#0fb,#0f6,#0f0,#2f0,#6f0,#af0,#ef0,#fd0,#fb0,#f90,#f90,#f80,#f80,#f80,#fa0,#fb0,#fd0,#fe0,#ff0,#ff0,#ff0,#ff0,#ff0,#ff0)"></i><i style="background:linear-gradient(#f0f,#f0f,#f0f,#f0f,#f0f,#f0f,#f0f,#f0f,#f0f,#d0f,#02f,#09f,#0ff,#0fe,#0fb,#0f6,#0f1,#2f0,#6f0,#af0,#ef0,#fc0,#fa0,#f80,#f70,#f70,#f70,#f80,#f90,#fa0,#fc0,#fe0,#fe0,#ff0,#ff0,#ff0,#ff0,#ff0)"></i><i style="background:linear-gradient(#f0f,#f0f,#f0f,#f0f,#f0f,#f0f,#f0f,#f0f,#f0f,#d0f,#02f,#09f,#0ff,#0fe,#0fa,#0f5,#0f0,#2f0,#6f0,#af0,#ff0,#fd0,#fa0,#f90,#f80,#f70,#f70,#f80,#f90,#fb0,#fd0,#fe0,#fe0,#ff0,#ff0,#ff0,#ff0,#ff0)"></i><i style="background:linear-gradient(#f0f,#f0f,#f0f,#f0f,#f0f,#f0f,#f0f,#f0f,#f0f,#c0f,#02f,#09f,#0ff,#0fe,#0fb,#0f6,#0f1,#2f0,#6f0,#af0,#ef0,#fd0,#fa0,#f80,#f80,#f70,#f70,#f80,#f90,#fa0,#fd0,#fe0,#fe0,#ff0,#ff0,#ff0,#ff0,#ff0)"></i><i style="background:linear-gradient(#f0f,#f0f,#f0f,#f0f,#f0f,#e0f,#f0f,#f0f,#f0f,#d0f,#02f,#09f,#0ff,#0fe,#0fb,#0f7,#0f0,#2f0,#6f0,#af0,#ef0,#fd0,#fb0,#f90,#f80,#f70,#f80,#f80,#fa0,#fb0,#fd0,#ff0,#ff0,#ff0,#ff0,#ff0,#ff0,#ff0)"></i><i style="background:linear-gradient(#f0f,#f0f,#f0f,#f0f,#f0f,#f0f,#f0f,#f0f,#f0f,#d0f,#02f,#09f,#0ff,#0fe,#0fb,#0f6,#0f0,#1f0,#6f0,#af0,#ff0,#fd0,#fa0,#f80,#f80,#f70,#f70,#f80,#f90,#fb0,#fd0,#fe0,#ff0,#ff0,#ff0,#ef0,#ff0,#ff0)"></i><i style="background:linear-gradient(#f0f,#f0f,#f0f,#f0f,#f0f,#f0f,#f0f,#f0f,#f0f,#d0f,#02f,#09f,#0ff,#0fe,#0fb,#0f6,#0f1,#1f0,#6f0,#af0,#ef0,#fc0,#fa0,#f80,#f70,#f70,#f70,#f80,#f90,#fb0,#fd0,#fe0,#fe0,#ff0,#ff0,#ff0,#ff0,#ff0)"></i><i style="background:linear-gradient(#f0f,#f0f,#f0f,#f0f,#f0f,#f0f,#f0f,#f0f,#f0f,#d0f,#02f,#09f,#0ff,#0fe,#0fb,#0f6,#0f1,#2f0,#6f0,#9f0,#ff0,#fd0,#fa0,#f80,#f70,#f70,#f70,#f80,#f90,#fa0,#fd0,#fe0,#fe0,#ff0,#ff0,#ff0,#ff0,#ff0)"></i><i style="background:linear-gradient(#f0f,#f0f,#f0f,#f0f,#f0f,#f0f,#f0f,#f0f,#f0f,#d0f,#02f,#09f,#0ff,#0fe,#0fb,#0f6,#0f0,#2f0,#6f0,#af0,#ef0,#fd0,#fa0,#f80,#f70,#f70,#f70,#f80,#f90,#fb0,#fd0,#fe0,#ff0,#ff0,#ff0,#ff0,#ff0,#ff0)"></i><i style="background:linear-gradient(#f0f,#f0f,#f0f,#f0f,#f0f,#f0f,#f0f,#f0f,#f0f,#d0f,#02f,#09f,#0ff,#0fe,#0fb,#0f6,#0f1,#2f0,#6f0,#af0,#ef0,#fd0,#fb0,#f90,#f80,#f80,#f80,#f90,#fa0,#fb0,#fd0,#ff0,#ff0,#ff0,#ff0,#ef0,#ef0,#ff0)"></i><i style="background:linear-gradient(#f0f,#f0f,#f0f,#f0f,#f0f,#f0f,#f0f,#f0f,#f0f,#c0f,#02f,#09f,#0ff,#0fe,#0fb,#0f6,#0f1,#2f0,#6f0,#af0,#ef0,#fd0,#fa0,#f90,#f80,#f70,#f70,#f80,#fa0,#fb0,#fd0,#fe0,#ff0,#ff0,#ff0,#ff0,#ff0,#ff0)"></i><i style="background:linear-gradient(#f0f,#f0f,#f0f,#f0f,#f0f,#f0f,#f0f,#f0f,#f0f,#d0f,#02f,#0af,#0ff,#0fe,#0fc,#0f6,#0f1,#2f0,#6f0,#af0,#ef0,#fd0,#fa0,#f80,#f70,#f70,#f70,#f80,#f90,#fb0,#fd0,#fe0,#fe0,#ff0,#ff0,#ff0,#ff0,#ff0)"></i><i style="background:linear-gradient(#f0f,#f0f,#f0f,#f0f,#f0f,#f0f,#f0f,#f0f,#f0f,#d0f,#02f,#09f,#0ff,#0fe,#0fb,#0f6,#0f1,#2f0,#6f0,#af0,#ef0,#fd0,#fb0,#f90,#f80,#f80,#f80,#f80,#fa0,#fb0,#fd0,#fe0,#ff0,#ff0,#ff0,#ff0,#ff0,#ff0)"></i><i style="background:linear-gradient(#f0f,#f0f,#f0f,#f0f,#f0f,#f0f,#f0f,#f0f,#f0f,#d0f,#02f,#09f,#0ff,#0fd,#0fb,#0f6,#1f0,#2f0,#6f0,#af0,#ef0,#fd0,#fb0,#fa0,#f90,#f80,#f90,#f90,#fa0,#fc0,#fd0,#ff0,#ff0,#ff0,#ff0,#ef0,#ff0,#ff0)"></i><i style="background:linear-gradient(#e0f,#f0f,#f0f,#f0f,#f0f,#f0f,#f0f,#f0f,#f0f,#c0f,#02f,#09f,#0ff,#0fe,#0fb,#0f6,#0f0,#2f0,#6f0,#9f0,#ef0,#fd0,#fb0,#fa0,#f90,#f80,#f90,#f90,#fa0,#fb0,#fd0,#ff0,#ff0,#ff0,#ff0,#ef0,#ff0,#ff0)"></i><i style="background:linear-gradient(#f0f,#f0f,#f0f,#f0f,#f0f,#f0f,#f0f,#f0f,#f0f,#d0f,#02f,#0af,#0ff,#0fe,#0fc,#0f6,#0f0,#2f0,#6f0,#af0,#ef0,#fd0,#fb0,#f90,#f80,#f80,#f80,#f80,#fa0,#fb0,#fd0,#fe0,#ff0,#ff0,#ff0,#ff0,#ff0,#ff0)"></i><i style="background:linear-gradient(#f0f,#f0f,#f0f,#f0f,#f0f,#f0f,#f0f,#f0f,#f0f,#d0f,#01f,#09f,#0ef,#0fe,#0fb,#0f6,#0f0,#2f0,#6f0,#af0,#ef0,#fd0,#fb0,#f90,#f80,#f80,#f80,#f80,#fa0,#fb0,#fd0,#fe0,#fe0,#ff0,#ff0,#ef0,#ff0,#ff0)"></i><i style="background:linear-gradient(#f0f,#f0f,#f0f,#f0f,#f0f,#f0f,#f0f,#f0f,#f0f,#d0f,#02f,#09f,#0ff,#0fe,#0fb,#0f6,#0f1,#2f0,#6f0,#af0,#ef0,#fd0,#fb0,#fa0,#f90,#f80,#f80,#f90,#fa0,#fb0,#fd0,#ff0,#ff0,#ff0,#ff0,#ef0,#ff0,#ff0)"></i><i style="background:linear-gradient(#f0f,#f0f,#f0f,#f0f,#f0f,#f0f,#f0f,#f0f,#f0f,#d0f,#01f,#09f,#0ff,#0fe,#0fb,#0f5,#0f0,#2f0,#6f0,#af0,#ef0,#fd0,#fa0,#f90,#f80,#f80,#f80,#f90,#f90,#fb0,#fc0,#fe0,#fe0,#ff0,#ff0,#ff0,#ff0,#ff0)"></i><i style="background:linear-gradient(#f0f,#f0f,#f0f,#f0f,#f0f,#f0f,#f0f,#f0f,#f0f,#d0f,#02f,#09f,#0ff,#0fe,#0fb,#0f5,#0f0,#2f0,#6f0,#af0,#ef0,#fd0,#fb0,#fa0,#f90,#f80,#f80,#f90,#fa0,#fb0,#fd0,#ff0,#ff0,#ff0,#ff0,#ff0,#ff0,#ff0)"></i><i style="background:linear-gradient(#f0f,#f0f,#f0f,#f0f,#f0f,#f0f,#f0f,#f0f,#f0f,#c0f,#02f,#09f,#0ef,#0fe,#0fb,#0f6,#0f0,#2f0,#6f0,#af0,#ef0,#fd0,#fc0,#fa0,#f90,#f90,#f90,#f90,#fa0,#fc0,#fd0,#ff0,#ff0,#ff0,#ff0,#ff0,#ff0,#ff0)"></i><i style="background:linear-gradient(#f0f,#f0f,#f0f,#f0f,#f0f,#f0f,#f0f,#f0f,#f0f,#d0f,#02f,#0af,#0ff,#0fe,#0fb,#0f6,#0f0,#2f0,#6f0,#af0,#ef0,#fd0,#fb0,#fa0,#f90,#f80,#f90,#f90,#fa0,#fb0,#fd0,#fe0,#ff0,#ff0,#ff0,#ff0,#ff0,#ff0)"></i><i style="background:linear-gradient(#f0f,#f0f,#f0f,#f0f,#f0f,#f0f,#f0f,#f0f,#f0f,#d0f,#01f,#09f,#0ff,#0fe,#0fb,#0f6,#0f0,#2f0,#6f0,#af0,#ef0,#fd0,#fb0,#fa0,#f90,#f90,#f90,#f90,#fa0,#fc0,#fd0,#ff0,#ff0,#ff0,#ff0,#ff0,#ef0,#ef0)"></i><i style="background:linear-gradient(#f0f,#f0f,#f0f,#f0f,#f0f,#f0f,#f0f,#f0f,#f0f,#d0f,#02f,#09f,#0ff,#0fe,#0fb,#0f6,#0f0,#2f0,#6f0,#af0,#ef0,#fd0,#fb0,#f90,#f80,#f80,#f80,#f80,#f90,#fb0,#fd0,#fe0,#fe0,#ff0,#ff0,#ff0,#ff0,#ff0)"></i><i style="background:linear-gradient(#f0f,#f0f,#f0f,#f0f,#f0f,#f0f,#f0f,#f0f,#f0f,#c0f,#02f,#09f,#0ff,#0fe,#0fb,#0f6,#0f0,#1f0,#5f0,#af0,#ef0,#fd0,#fb0,#fa0,#f90,#f80,#f90,#f90,#fb0,#fc0,#fd0,#ff0,#ff0,#ff0,#ff0,#ff0,#ff0,#ff0)"></i><i style="background:linear-gradient(#f0f,#f0f,#f0f,#f0f,#f0f,#f0f,#f0f,#f0f,#f0f,#d0f,#02f,#0af,#0ff,#0fd,#0fb,#0f6,#0f0,#2f0,#5f0,#af0,#ef0,#fd0,#fb0,#f90,#f80,#f80,#f80,#f80,#fa0,#fb0,#fd0,#fe0,#fe0,#ff0,#ff0,#ff0,#ff0,#ff0)"></i><i style="background:linear-gradient(#f0f,#f0f,#f0f,#f0f,#f0f,#f0f,#f0f,#f0f,#f0f,#c0f,#02f,#0af,#0ff,#0fe,#0fb,#0f6,#0f1,#1f0,#6f0,#af0,#ef0,#fd0,#fb0,#fa0,#f90,#f80,#f90,#f90,#fa0,#fc0,#fd0,#fe0,#ff0,#ff0,#ff0,#ef0,#ef0,#ff0)"></i><i style="background:linear-gradient(#f0f,#f0f,#f0f,#f0f,#e0f,#f0f,#f0f,#f0f,#f0f,#d0f,#02f,#0af,#0ff,#0fe,#0fb,#0f6,#0f0,#2f0,#5f0,#af0,#ef0,#fd0,#fb0,#f90,#f80,#f70,#f80,#f80,#fa0,#fb0,#fd0,#fe0,#ff0,#ff0,#ff0,#ff0,#ff0,#ff0)"></i><i style="background:linear-gradient(#f0f,#f0f,#f0f,#f0f,#f0f,#f0f,#f0f,#f0f,#f0f,#d0f,#02f,#09f,#0ff,#0fe,#0fb,#0f6,#0f0,#2f0,#6f0,#af0,#ef0,#fd0,#fa0,#f90,#f80,#f70,#f70,#f80,#f90,#fb0,#fd0,#fe0,#ff0,#ff0,#ff0,#ff0,#ff0,#ff0)"></i><i style="background:linear-gradient(#f0f,#f0f,#f0f,#f0f,#f0f,#f0f,#f0f,#f0f,#f0f,#d0f,#02f,#09f,#0ff,#0fe,#0fc,#0f6,#0f0,#2f0,#5f0,#9f0,#ff0,#fc0,#fa0,#f80,#f70,#f60,#f70,#f70,#f90,#fa0,#fc0,#fe0,#fe0,#ff0,#ff0,#ff0,#ff0,#ff0)"></i><i style="background:linear-gradient(#f0f,#f0f,#f0f,#f0f,#f0f,#f0f,#f0f,#f0f,#f0f,#d0f,#02f,#09f,#0ff,#0fe,#0fb,#0f6,#0f0,#2f0,#6f0,#af0,#ff0,#fc0,#f90,#f80,#f70,#f60,#f60,#f70,#f80,#fa0,#fc0,#fe0,#fe0,#ff0,#ff0,#ff0,#ff0,#ff0)"></i><i style="background:linear-gradient(#f0f,#f0f,#f0f,#f0f,#f0f,#f0f,#f0f,#f0f,#f0f,#c0f,#02f,#09f,#0ff,#0fe,#0fb,#0f6,#0f1,#2f0,#6f0,#af0,#ef0,#fd0,#fb0,#f90,#f80,#f70,#f80,#f90,#fa0,#fb0,#fd0,#ff0,#ff0,#ff0,#ef0,#ef0,#ef0,#ef0)"></i><i style="background:linear-gradient(#f0f,#f0f,#f0f,#f0f,#f0f,#f0f,#f0f,#f0f,#f0f,#d0f,#02f,#09f,#0ff,#0fe,#0fb,#0f6,#0f0,#2f0,#6f0,#9f0,#ef0,#fd0,#fa0,#f80,#f70,#f70,#f70,#f80,#f90,#fb0,#fd0,#fe0,#fe0,#ff0,#ff0,#ff0,#ff0,#ff0)"></i><i style="background:linear-gradient(#f0f,#f0f,#f0f,#f0f,#f0f,#f0f,#f0f,#f0f,#f0f,#d0f,#02f,#09f,#0ff,#0fe,#0fb,#0f6,#0f1,#2f0,#6f0,#af0,#ef0,#fd0,#fa0,#f80,#f70,#f70,#f70,#f70,#f90,#fa0,#fc0,#fe0,#ff0,#ff0,#ff0,#ff0,#ff0,#ff0)"></i><i style="background:linear-gradient(#f0f,#f0f,#f0f,#f0f,#f0f,#f0f,#f0f,#f0f,#f0f,#d0f,#02f,#09f,#0ff,#0fe,#0fb,#0f6,#0f0,#2f0,#5f0,#af0,#ff0,#fc0,#f90,#f80,#f70,#f60,#f60,#f70,#f80,#fa0,#fc0,#fe0,#fe0,#fe0,#ff0,#ff0,#ff0,#ff0)"></i><i style="background:linear-gradient(#f0f,#f0f,#f0f,#f0f,#f0f,#f0f,#f0f,#f0f,#f0f,#c0f,#02f,#09f,#0ff,#0fe,#0fb,#0f6,#0f1,#2f0,#6f0,#af0,#ff0,#fc0,#fa0,#f80,#f70,#f70,#f70,#f80,#f90,#fa0,#fc0,#fe0,#fe0,#ff0,#ff0,#ff0,#ff0,#ff0)"></i><i style="background:linear-gradient(#f0f,#f0f,#f0f,#f0f,#f0f,#f0f,#f0f,#f0f,#f0f,#c0f,#02f,#09f,#0ef,#0fe,#0fb,#0f5,#0f0,#1f0,#6f0,#af0,#ef0,#fd0,#fb0,#f90,#f80,#f80,#f80,#f90,#fa0,#fc0,#fe0,#fe0,#ff0,#ff0,#ff0,#ef0,#ff0,#ff0)"></i><i style="background:linear-gradient(#f0f,#f0f,#f0f,#f0f,#f0f,#f0f,#f0f,#f0f,#f0f,#d0f,#02f,#09f,#0ff,#0fe,#0fb,#0f6,#0f1,#2f0,#6f0,#af0,#ff0,#fd0,#fb0,#f90,#f80,#f70,#f80,#f80,#fa0,#fb0,#fd0,#fe0,#ff0,#ff0,#ff0,#ef0,#ff0,#ff0)"></i><i style="background:linear-gradient(#f0f,#f0f,#f0f,#f0f,#f0f,#f0f,#f0f,#f0f,#f0f,#d0f,#02f,#0af,#0ff,#0fd,#0fc,#0f6,#0f1,#2f0,#6f0,#af0,#ff0,#fd0,#fa0,#f90,#f80,#f70,#f70,#f80,#f90,#fb0,#fd0,#fe0,#ff0,#ff0,#ff0,#ff0,#ff0,#ff0)"></i><i style="background:linear-gradient(#f0f,#f0f,#f0f,#f0f,#f0f,#f0f,#f0f,#f0f,#f0f,#d0f,#02f,#09f,#0ff,#0fe,#0fb,#0f6,#0f1,#2f0,#6f0,#af0,#ef0,#fc0,#fa0,#f90,#f80,#f70,#f70,#f80,#f90,#fb0,#fd0,#fe0,#ff0,#ff0,#ff0,#ff0,#ff0,#ff0)"></i><i style="background:linear-gradient(#f0f,#f0f,#f0f,#f0f,#f0f,#f0f,#f0f,#f0f,#f0f,#c0f,#02f,#09f,#0ff,#0fe,#0fb,#0f6,#0f1,#2f0,#6f0,#af0,#ef0,#fd0,#fb0,#f90,#f80,#f70,#f70,#f80,#f90,#fb0,#fd0,#fe0,#ff0,#ff0,#ff0,#ff0,#ef0,#ff0)"></i><i style="background:linear-gradient(#f0f,#f0f,#f0f,#f0f,#f0f,#f0f,#f0f,#f0f,#f0f,#d0f,#02f,#09f,#0ff,#0fe,#0fb,#0f6,#0f0,#2f0,#6f0,#af0,#ff0,#fd0,#fa0,#f90,#f80,#f70,#f70,#f80,#f90,#fb0,#fd0,#fe0,#ff0,#ff0,#ff0,#ff0,#ff0,#ff0)"></i><i style="background:linear-gradient(#f0f,#f0f,#f0f,#f0f,#f0f,#f0f,#f0f,#f0f,#f0f,#c0f,#02f,#0af,#0ff,#0fd,#0fb,#0f5,#0f1,#2f0,#6f0,#af0,#ff0,#fc0,#fa0,#f80,#f70,#f70,#f70,#f80,#f90,#fa0,#fc0,#fe0,#fe0,#ff0,#ff0,#ff0,#ff0,#ff0)"></i></div>
<svg xmlns="http://www.w3.org/2000/svg" width="1804" height="841" viewBox="0 0 1804 841">
<defs>
<clipPath id="c1"><rect x="71.5" y="33.6" width="454" height="134.7"/></clipPath>
<clipPath id="c2"><rect x="71.5" y="176.3" width="454" height="68.2"/></clipPath>
<clipPath id="c3"><rect x="71.5" y="313" width="454" height="68.3"/></clipPath>
<clipPath id="c4"><rect x="71.5" y="381.3" width="454" height="69.1"/></clipPath>
<clipPath id="c5"><rect x="71.5" y="450.4" width="454" height="67.4"/></clipPath>
<clipPath id="c6"><rect x="71.5" y="515.8" width="454" height="72.7"/></clipPath>
<clipPath id="c7"><rect x="71.5" y="586.5" width="454" height="68.5"/></clipPath>
<clipPath id="c8"><rect x="71.5" y="655" width="454" height="68.3"/></clipPath>
<clipPath id="c9"><rect x="668.7" y="41.7" width="453.9" height="73.7"/></clipPath>
<clipPath id="c10"><rect x="668.7" y="189.7" width="453.9" height="74"/></clipPath>
<clipPath id="c11"><rect x="668.7" y="263.7" width="453.9" height="73.8"/></clipPath>
<clipPath id="c12"><rect x="668.7" y="337.5" width="453.9" height="73.7"/></clipPath>
<clipPath id="c13"><rect x="668.7" y="411.2" width="453.9" height="73.5"/></clipPath>
<clipPath id="c14"><rect x="668.7" y="484.7" width="453.9" height="74.1"/></clipPath>
<clipPath id="c15"><rect x="668.7" y="558.8" width="453.9" height="74.2"/></clipPath>
<clipPath id="c16"><rect x="668.7" y="633" width="453.9" height="73.3"/></clipPath>
<clipPath id="l1"><rect x="71.5" y="31.8" width="200" height="9.7"/></clipPath>
<clipPath id="l2"><rect x="71.5" y="39.2" width="200" height="9.7"/></clipPath>
<clipPath id="l3"><rect x="71.5" y="47.3" width="200" height="9.7"/></clipPath>
<clipPath id="l4"><rect x="71.5" y="54.7" width="200" height="9.7"/></clipPath>
<clipPath id="l5"><rect x="71.5" y="62.4" width="200" height="10.6"/></clipPath>
<clipPath id="l6"><rect x="71.5" y="70.2" width="200" height="9.7"/></clipPath>
<clipPath id="l7"><rect x="71.5" y="77.6" width="200" height="10.6"/></clipPath>
<clipPath id="l8"><rect x="71.5" y="310.7" width="200" height="9.7"/></clipPath>
<clipPath id="l9"><rect x="71.5" y="317.7" width="200" height="9.7"/></clipPath>
<clipPath id="l10"><rect x="71.5" y="324.5" width="200" height="9.7"/></clipPath>
<clipPath id="l11"><rect x="71.5" y="331.2" width="200" height="9.7"/></clipPath>
<clipPath id="l12"><rect x="71.5" y="338.2" width="200" height="9.9"/></clipPath>
<clipPath id="l13"><rect x="71.5" y="517.5" width="200" height="9.7"/></clipPath>
<clipPath id="l14"><rect x="71.5" y="526.3" width="200" height="9.7"/></clipPath>
<clipPath id="l15"><rect x="71.5" y="535.3" width="200" height="9.7"/></clipPath>
<clipPath id="l16"><rect x="71.5" y="654.8" width="200" height="11.6"/></clipPath>
<clipPath id="l17"><rect x="71.5" y="665.3" width="200" height="11.6"/></clipPath>
<clipPath id="l18"><rect x="71.5" y="677.3" width="200" height="11.6"/></clipPath>
<clipPath id="l19"><rect x="71.5" y="688.1" width="200" height="11.6"/></clipPath>
<clipPath id="l20"><rect x="668.7" y="336" width="200" height="10.5"/></clipPath>
<clipPath id="l21"><rect x="668.7" y="346" width="200" height="10.5"/></clipPath>
<clipPath id="l22"><rect x="668.7" y="356" width="200" height="11.7"/></clipPath>
<clipPath id="l23"><rect x="668.7" y="556.9" width="200" height="9.7"/></clipPath>
<clipPath id="l24"><rect x="668.7" y="564.1" width="200" height="9.9"/></clipPath>
<clipPath id="l25"><rect x="668.7" y="571.6" width="200" height="9.9"/></clipPath>
<clipPath id="l26"><rect x="668.7" y="578.9" width="200" height="9.9"/></clipPath>
</defs>
<text x="29" y="12" font-size="11" stroke="#000">Plot Layout GP 19/10/2018</text>
<text x="298" y="25.8" font-size="18" text-anchor="middle" stroke="#000">MMS2</text>
<text x="474.5" y="24.5" font-size="18" text-anchor="middle" font-weight="bold" fill="#a20000" stroke="#a20000">20151025_140914</text>
<text x="627" y="12" font-size="11" stroke="#000">Plot layout GP 19/10/2018</text>
<text x="895" y="35" font-size="18" text-anchor="middle" stroke="#000">MMS2</text>
<text x="1071.5" y="24.5" font-size="18" text-anchor="middle" font-weight="bold" fill="#a20000" stroke="#a20000">20151025_140914</text>
<text x="509" y="838" font-size="12" text-anchor="middle" stroke="#000">paschmann 29-Oct-2018 11:22</text>
<text x="1106" y="838" font-size="12" text-anchor="middle" stroke="#000">paschmann 29-Oct-2018 11:22</text>
<path d="M669.5 126.2v2.1M669.5 129.3v2.7M669.5 133.9v3M670.5 122.2v2.8M671.5 132.2v1.6M672.5 123.2v1.9M672.5 128.1v2M673.5 119.2v2.5M673.5 122.7v2.4M673.5 132.1v1.6M673.5 133.8v1.5M674.5 122.2v2.2M674.5 124.4v2.6M674.5 132v2.1M675.5 124.2v1.6M675.5 129.8v2.5M676.5 136.2v2M678.5 121.2v2.3M678.5 128.5v2.7M678.5 133.2v1.8M679.5 128.2v1.6M679.5 133.8v1.6M681.5 124.2v2.1M681.5 130.3v1.5M681.5 133.8v2.5M682.5 124.2v2.7M682.5 133.9v2.5M683.5 131.2v2M684.5 124.2v2.6M685.5 122.2v1.8M685.5 128v2.3M685.5 130.3v2.1M686.5 126.2v2.9M687.5 134.2v1.8M689.5 124.2v1.6M689.5 127.8v2.5M689.5 130.3v2.3M690.5 124.2v2M690.5 129.2v2.7M691.5 134.2v2.6M692.5 130.2v2.9M693.5 132.2v2.6M694.5 129.2v1.9M695.5 127.2v2.9M696.5 127.2v2.6M699.5 128.2v2.3M699.5 130.5v3M701.5 129.2v2M702.5 118.2v2.4M702.5 130.6v2.8M702.5 134.4v2.2M703.5 131.2v2.8M704.5 119.2v2.5M704.5 121.7v2M704.5 127.6v1.8M704.5 131.5v2.4M705.5 125.2v1.8M706.5 132.2v2M707.5 125.2v2M708.5 123.2v3M708.5 127.2v2.2M708.5 129.4v2.7M709.5 133.2v2.3M710.5 118.2v2.8M710.5 129v1.9M710.5 134.9v1.5M711.5 121.2v2.6M711.5 131.8v2.8M712.5 127.2v3M712.5 132.2v2.2M712.5 135.4v2.6M713.5 117.2v2.7M714.5 123.2v1.6M714.5 125.8v2.8M715.5 116.2v2.2M715.5 128.4v2.1M715.5 131.5v1.7M716.5 122.2v1.6M716.5 124.8v2.9M717.5 122.2v2.3M717.5 129.5v1.7M718.5 121.2v1.9M718.5 123.1v2.6M719.5 123.2v2.2M719.5 132.4v2.4M719.5 135.7v1.8M720.5 125.2v2.7M721.5 121.2v2.5M721.5 129.7v1.8M721.5 131.4v2.9M722.5 124.2v1.8M723.5 133.2v2.6M724.5 135.2v2.1M725.5 130.2v1.5M727.5 129.2v2.9M727.5 133.1v2.1M728.5 124.2v2.5M728.5 127.7v2.6M728.5 134.3v2.8M729.5 123.2v1.7M729.5 124.9v2.4M729.5 127.2v2.5M730.5 126.2v2.2M730.5 128.4v1.7M731.5 120.2v1.7M731.5 124.9v1.8M731.5 127.7v2.6M731.5 130.4v2.7M732.5 125.2v2M732.5 133.2v2.7M734.5 116.2v1.8M734.5 132v2.3M735.5 128.2v2.1M735.5 131.3v2M736.5 124.2v2.2M737.5 128.2v1.6M738.5 123.2v1.8M739.5 126.2v2.9M739.5 130.1v2.6M740.5 125.2v2M740.5 127.2v2.5M741.5 126.2v1.5M741.5 131.7v2.8M742.5 135.2v2.2M743.5 117.2v2.2M743.5 125.4v2.1M744.5 131.2v1.6M745.5 122.2v2M745.5 133.2v2.5M747.5 132.2v2.2M748.5 127.2v2.6M749.5 116.2v2.7M749.5 128.9v2.9M749.5 134.8v2M751.5 132.2v2.1M752.5 129.2v1.9M752.5 132.1v2.3M753.5 128.2v2.6M754.5 126.2v2.1M754.5 130.3v1.8M755.5 129.2v2.4M756.5 127.2v2.9M756.5 133.1v2.8M757.5 124.2v1.7M757.5 128.9v1.7M757.5 130.6v2.3M758.5 126.2v2.2M758.5 130.4v2.7M759.5 129.2v1.8M760.5 123.2v2M760.5 135.2v1.7M761.5 121.2v2.4M761.5 124.6v2.5M761.5 133.1v2.6M762.5 116.2v2.5M762.5 123.7v2M762.5 132.7v2.7M763.5 124.2v2.1M763.5 126.3v1.6M763.5 132.9v2.5M766.5 127.2v2.9M767.5 127.2v2.2M768.5 128.2v1.6M768.5 129.8v3M768.5 135.7v2.9M769.5 132.2v2.9M770.5 125.2v1.9M770.5 129.1v2.7M771.5 130.2v2.6M772.5 116.2v1.6M772.5 127.8v1.9M773.5 116.2v2.7M773.5 131.9v2.9M773.5 134.8v2.4M774.5 125.2v2.6M774.5 128.8v1.9M775.5 130.2v2.1M776.5 127.2v3M777.5 132.2v2.5M778.5 124.2v1.6M778.5 126.8v2.5M778.5 133.3v1.9M779.5 126.2v2.4M779.5 133.6v2.3M780.5 125.2v2.1M781.5 126.2v2.7M781.5 131.9v2.8M782.5 126.2v1.8M783.5 129.2v1.8M783.5 131v2.9M784.5 124.2v2.1M784.5 130.3v2.1M785.5 125.2v2.9M785.5 130.1v2.3M785.5 132.4v2.7M786.5 120.2v1.8M786.5 126v2.3M786.5 129.4v2.8M789.5 123.2v1.5M789.5 132.7v2.9M790.5 124.2v2.3M791.5 124.2v1.8M791.5 129v2.8M792.5 122.2v3M792.5 127.2v2.5M794.5 133.2v2M795.5 118.2v1.7M795.5 128.9v1.6M796.5 126.2v3M796.5 131.2v1.8M797.5 124.2v2.2M797.5 131.4v2.7M798.5 125.2v2.4M798.5 128.6v3M798.5 131.6v2.3M799.5 127.2v2.5M800.5 116.2v2.2M800.5 134.4v2.2M801.5 127.2v2.4M801.5 129.6v2.9M802.5 122.2v2.8M803.5 126.2v2.9M803.5 135.1v1.5M804.5 122.2v2.6M804.5 126.8v1.5M804.5 131.3v2.7M804.5 136v2.4M805.5 123.2v2.8M805.5 130v1.7M806.5 126.2v2M806.5 133.2v2.9M807.5 127.2v2.7M807.5 129.9v1.8M808.5 128.2v1.6M809.5 129.2v2.2M810.5 124.2v2.2M810.5 126.4v1.9M810.5 130.3v2.1M812.5 121.2v2.1M812.5 128.3v2.3M812.5 133.6v2.4M813.5 130.2v2.7M814.5 126.2v1.8M814.5 129v2M814.5 131v1.8M814.5 133.8v2.3M815.5 127.2v2.4M815.5 133.6v1.9M816.5 125.2v2.4M816.5 133.6v1.8M817.5 122.2v2.1M818.5 135.2v2.4M819.5 129.2v2.2M820.5 127.2v2.9M820.5 133.1v2.2M821.5 126.2v2.4M821.5 133.6v2.7M822.5 116.2v2.7M822.5 125.9v1.6M822.5 129.5v2.1M823.5 131.2v2M823.5 133.2v1.5M824.5 122.2v3M824.5 133.2v2.4M825.5 128.2v1.9M826.5 124.2v2.2M827.5 128.2v2.4M827.5 130.6v1.6M827.5 133.2v2.9M829.5 130.2v2.8M830.5 119.2v2.2M832.5 121.2v1.8M832.5 129v2.3M833.5 131.2v1.6M834.5 125.2v1.7M834.5 128.9v1.8M835.5 119.2v1.5M836.5 131.2v2.2M837.5 131.2v2.1M838.5 131.2v2.2M839.5 116.2v1.7M839.5 122.9v1.9M839.5 124.8v2M839.5 127.7v2.8M840.5 124.2v2.9M840.5 132.1v2.5M841.5 120.2v1.6M841.5 130.8v2.4M841.5 135.2v1.9M842.5 121.2v1.9M842.5 128.1v2.7M843.5 120.2v2M843.5 128.2v2.2M844.5 124.2v2.5M844.5 132.7v2.3M845.5 127.2v2.9M845.5 134.1v2.8M846.5 124.2v1.9M846.5 126.1v2.3M846.5 128.5v1.8M846.5 133.3v2.9M847.5 125.2v2.9M847.5 131.1v2M848.5 124.2v1.9M850.5 125.2v1.8M850.5 128v1.8M850.5 129.9v1.7M851.5 125.2v1.9M851.5 132.1v2.3M852.5 116.2v2.1M852.5 125.3v1.7M852.5 129v1.7M852.5 132.7v1.9M853.5 122.2v2.7M853.5 131.9v1.7M853.5 133.6v1.9M853.5 137.5v2.8M855.5 129.2v2.3M856.5 136.2v2.4M856.5 142.6v2.9M857.5 141.2v2.9M858.5 138.2v2.5M859.5 136.2v2M859.5 141.2v1.8M859.5 143v1.9M860.5 140.2v2.9M860.5 144.1v2.6M861.5 119.2v2.1M861.5 121.3v2.7M861.5 137.9v2.7M861.5 143.6v2.7M862.5 120.2v2.4M862.5 139.6v2.5M862.5 142.1v2.5M863.5 125.2v1.6M864.5 125.2v2.4M864.5 134.6v2.5M865.5 127.2v2.5M865.5 133.7v1.5M866.5 128.2v1.7M866.5 132.9v1.6M867.5 130.2v2M867.5 133.2v1.7M868.5 132.2v2.8M869.5 126.2v2.2M871.5 125.2v2.2M871.5 133.4v1.5M873.5 126.2v2.6M873.5 129.8v3M873.5 135.8v2.5M874.5 117.2v1.9M874.5 125.1v2.5M874.5 130.6v1.8M874.5 132.4v1.9M875.5 121.2v2.5M875.5 125.7v2.6M875.5 130.3v1.9M875.5 133.2v2.2M876.5 123.2v2.8M876.5 129v2.8M876.5 131.8v2.4M877.5 120.2v1.8M877.5 130v2.8M877.5 133.8v2.7M878.5 124.2v1.6M878.5 125.8v2.1M878.5 127.9v1.5M879.5 129.2v2M880.5 121.2v1.9M880.5 124.1v2.7M880.5 132.8v2.9M881.5 129.2v2.8M881.5 132v1.8M882.5 127.2v2.8M883.5 135.2v2.2M884.5 131.2v2.3M884.5 135.5v1.7M885.5 118.2v2.3M886.5 133.2v2M886.5 137.2v2.4M887.5 122.2v2.5M888.5 127.2v2.6M888.5 133.8v2.5M889.5 132.2v2.2M890.5 117.2v1.7M890.5 120.9v1.8M892.5 129.2v2.2M892.5 134.4v2.5M893.5 129.2v2.6M893.5 135.8v1.6M893.5 137.3v2.5M894.5 135.2v2.5M895.5 132.2v3M896.5 124.2v1.9M896.5 128.1v2.4M898.5 130.2v2.3M898.5 138.5v2.3M899.5 131.2v1.7M900.5 131.2v2.6M900.5 134.8v2.4M902.5 130.2v2.8M902.5 136v2.8M903.5 123.2v2.3M903.5 129.5v2.4M904.5 131.2v2.5M904.5 133.7v2.6M905.5 130.2v1.8M905.5 132v1.9M905.5 134.9v2.2M905.5 137.1v2.8M906.5 132.2v2.9M906.5 137.1v2.9M907.5 126.2v2.6M907.5 133.8v1.6M908.5 129.2v2.2M910.5 124.2v2.4M911.5 116.2v1.6M911.5 127.8v3M911.5 131.8v2.1M912.5 125.2v1.5M912.5 132.7v1.9M913.5 130.2v1.9M913.5 137.1v1.7M914.5 132.2v1.8M914.5 134v2.9M915.5 116.2v1.6M915.5 130.8v2.3M916.5 130.2v1.9M916.5 136.1v2.2M918.5 130.2v2.1M918.5 136.3v1.6M919.5 136.2v2.1M920.5 136.2v2.1M921.5 133.2v2.7M922.5 119.2v2.5M922.5 133.7v2.2M922.5 136v1.7M923.5 119.2v2.8M925.5 126.2v2.9M926.5 116.2v1.6M926.5 135.8v2.6M927.5 131.2v1.6M927.5 132.8v3M929.5 132.2v2.3M931.5 130.2v1.9M931.5 132.1v1.9M931.5 135v2.9M932.5 119.2v1.9M932.5 132.1v2.6M932.5 135.7v1.9M932.5 137.7v2.8M933.5 139.2v1.6M934.5 129.2v1.6M934.5 133.8v3M935.5 132.2v1.7M935.5 134.9v1.5M936.5 135.2v3M937.5 131.2v2M937.5 136.2v3M938.5 130.2v1.8M938.5 133v2.6M940.5 131.2v2M941.5 134.2v2.7M941.5 138.9v1.5M942.5 127.2v2M942.5 129.2v2.2M942.5 136.5v1.8M943.5 128.2v2.6M943.5 131.8v2.4M944.5 117.2v2.5M944.5 125.7v1.8M944.5 129.5v2.6M945.5 122.2v2.5M945.5 127.7v2.4M945.5 139v2.7M946.5 129.2v1.8M946.5 133v1.8M947.5 127.2v1.6M947.5 131.8v2M947.5 133.8v1.9M948.5 117.2v2.9M950.5 130.2v2.5M950.5 134.7v2.2M951.5 133.2v2.3M951.5 137.5v1.6M952.5 119.2v1.8M952.5 126v2.1M952.5 128v2.6M952.5 131.6v2.3M952.5 134.9v2.6M953.5 125.2v2.8M953.5 133v2.2M953.5 136.2v2M953.5 138.2v2.4M954.5 136.2v2.1M955.5 123.2v1.6M955.5 129.8v1.7M955.5 132.6v1.5M956.5 129.2v1.5M956.5 135.7v2.1M957.5 127.2v2M957.5 135.2v2.2M959.5 131.2v2.6M959.5 133.8v2.7M959.5 136.5v2.8M960.5 133.2v2.4M960.5 135.6v2.5M961.5 123.2v2.4M961.5 137.6v2.9M962.5 136.2v2.4M964.5 129.2v2.2M964.5 131.4v2.7M964.5 135v1.8M965.5 129.2v2.2M965.5 133.4v2.7M966.5 129.2v2.6M966.5 132.8v2.1M967.5 131.2v1.7M967.5 135.9v2.6M968.5 123.2v2M968.5 131.2v1.7M968.5 133.9v1.6M968.5 136.5v2.6M969.5 127.2v1.7M969.5 132.9v1.9M970.5 130.2v2.6M970.5 133.8v1.8M971.5 127.2v2.9M971.5 137.1v2.5M972.5 127.2v2.3M972.5 136.5v2.2M976.5 126.2v2.2M976.5 129.4v1.9M976.5 131.2v2.8M977.5 135.2v1.8M978.5 120.2v2.4M978.5 136.6v2.6M979.5 133.2v2.4M979.5 135.6v2M980.5 132.2v2.5M980.5 134.7v2.1M981.5 137.2v1.6M983.5 122.2v1.8M983.5 132v3M984.5 129.2v2.3M985.5 117.2v1.9M986.5 132.2v1.7M986.5 133.9v2.7M987.5 128.2v2.9M987.5 132.1v2.8M987.5 134.9v2.9M989.5 119.2v2.7M989.5 129.9v2.8M989.5 133.7v2.8M990.5 129.2v2.4M990.5 136.6v2.1M991.5 131.2v2.8M992.5 135.2v2.4M993.5 117.2v2.6M993.5 125.8v1.7M993.5 135.5v1.8M994.5 119.2v2.7M994.5 122.9v1.8M995.5 132.2v2.8M996.5 129.2v2M996.5 139.2v2.3M997.5 121.2v1.8M997.5 125v2.7M997.5 133.7v2.7M998.5 128.2v2.1M998.5 132.3v2.4M998.5 134.7v2.8M998.5 137.4v2.4M998.5 139.8v1.8M999.5 117.2v1.8M999.5 125v2.5M999.5 128.5v1.5M999.5 133v2.2M1001.5 134.2v2.7M1002.5 118.2v2.6M1002.5 131.8v1.6M1002.5 134.4v2.4M1005.5 117.2v2.2M1005.5 135.4v2.3M1006.5 129.2v2.6M1007.5 133.2v2.3M1008.5 121.2v2.6M1008.5 126.8v1.5M1008.5 130.3v1.7M1008.5 134v2.6M1009.5 126.2v2M1009.5 129.2v2.8M1010.5 127.2v2.4M1010.5 131.6v2.7M1011.5 125.2v1.9M1011.5 135.1v2.6M1012.5 127.2v2.9M1012.5 136.1v2.5M1013.5 128.2v2.4M1013.5 130.6v1.8M1013.5 134.4v1.9M1013.5 136.2v2M1014.5 131.2v2.6M1015.5 130.2v2.7M1016.5 129.2v1.5M1016.5 133.7v2.5M1016.5 136.2v2.2M1017.5 127.2v2.8M1017.5 130v1.7M1017.5 131.6v1.7M1017.5 134.3v1.8M1017.5 137.1v1.7M1018.5 128.2v2.9M1018.5 134.1v2.4M1018.5 137.6v2.1M1019.5 127.2v2M1020.5 134.2v2.8M1021.5 137.2v2M1022.5 135.2v2.5M1022.5 137.7v2.2M1023.5 128.2v2.4M1023.5 131.6v2.3M1023.5 133.9v2.8M1024.5 124.2v2.3M1025.5 128.2v1.7M1025.5 134.9v2.8M1026.5 135.2v2.6M1027.5 134.2v2.5M1027.5 138.7v1.8M1029.5 132.2v2.1M1030.5 124.2v1.9M1030.5 127.1v1.5M1030.5 128.6v2.5M1030.5 133.1v2M1030.5 135.2v3M1031.5 136.2v1.6M1032.5 128.2v3M1032.5 134.2v2M1033.5 136.2v2.8M1034.5 116.2v2.2M1034.5 125.4v1.7M1035.5 119.2v3M1035.5 134.2v2.8M1035.5 138v2M1036.5 130.2v1.8M1036.5 138v2M1037.5 130.2v1.9M1038.5 126.2v2.2M1038.5 134.4v2.4M1040.5 130.2v2M1040.5 133.2v2.7M1041.5 126.2v1.8M1041.5 135v2.2M1043.5 135.2v1.8M1043.5 137v2.3M1044.5 130.2v2.3M1044.5 135.5v2.5M1045.5 136.2v2.2M1046.5 132.2v2M1046.5 138.2v1.6M1047.5 133.2v2.4M1048.5 120.2v2.6M1048.5 129.8v1.7M1048.5 134.5v2.3M1049.5 134.2v2.7M1049.5 138.9v2.1M1051.5 131.2v2.9M1051.5 134.1v2.4M1051.5 138.5v2.8M1052.5 130.2v1.9M1052.5 137.1v2.1M1053.5 131.2v2.3M1053.5 134.5v2.5M1054.5 128.2v1.6M1055.5 131.2v1.8M1055.5 136v1.5M1055.5 137.5v2.5M1056.5 132.2v1.6M1056.5 133.8v3M1057.5 129.2v2.3M1057.5 136.5v1.6M1058.5 129.2v2.2M1058.5 131.4v1.7M1058.5 138.1v2.3M1060.5 125.2v2M1060.5 129.2v2.6M1060.5 132.8v2.9M1061.5 131.2v1.7M1062.5 131.2v1.6M1063.5 125.2v2.3M1063.5 129.5v2M1063.5 135.5v2.2M1064.5 131.2v1.5M1066.5 130.2v3M1066.5 136.2v1.9M1066.5 139.1v2.9M1067.5 127.2v1.5M1069.5 118.2v2.3M1069.5 128.5v2.6M1069.5 132.1v1.6M1070.5 134.2v1.8M1070.5 137v1.5M1071.5 130.2v2.3M1071.5 136.5v2M1072.5 132.2v2.3M1073.5 138.2v2.1M1075.5 139.2v2.8M1076.5 135.2v2.7M1076.5 137.9v1.9M1077.5 117.2v2.3M1077.5 133.5v2.9M1078.5 130.2v2M1078.5 133.2v2.9M1079.5 129.2v2.1M1079.5 131.3v2.1M1081.5 132.2v2.4M1081.5 135.6v2.5M1081.5 138.1v2.4M1082.5 120.2v1.8M1082.5 128v1.9M1083.5 137.2v2M1084.5 131.2v2.7M1084.5 136.9v2.7M1085.5 132.2v2.4M1085.5 134.6v1.5M1086.5 119.2v1.8M1086.5 134v2.7M1086.5 137.7v1.6M1087.5 117.2v2.8M1087.5 121v1.5M1087.5 127.5v3M1087.5 138.5v2.9M1088.5 137.2v2.9M1089.5 137.2v2.6M1090.5 116.2v2.3M1090.5 134.5v2.5M1090.5 137.1v2.2M1092.5 126.2v2.9M1094.5 116.2v2.8M1094.5 130v2.1M1094.5 133.1v2.1M1095.5 130.2v1.8M1096.5 138.2v2.7M1097.5 118.2v2M1097.5 130.2v1.8M1098.5 134.2v2.6M1099.5 126.2v2.2M1099.5 128.4v1.9M1099.5 132.3v2M1099.5 134.3v2.4M1100.5 129.2v1.7M1100.5 130.9v2.7M1100.5 134.6v2.4M1101.5 125.2v2.4M1102.5 129.2v2M1103.5 134.2v2.9M1104.5 127.2v2.3M1104.5 130.5v1.7M1104.5 132.2v2.1M1104.5 134.2v1.9M1104.5 136.1v2.8M1105.5 132.2v1.8M1106.5 130.2v1.8M1106.5 132v2.9M1107.5 130.2v2.3M1107.5 136.5v1.8M1108.5 132.2v1.7M1108.5 135.9v1.5M1108.5 137.4v1.8M1109.5 122.2v2.6M1110.5 125.2v1.8M1110.5 129v2.9M1112.5 131.2v2.3M1112.5 133.5v2.6M1112.5 136.2v2.7M1113.5 118.2v2.4M1113.5 131.6v2.6M1114.5 140.2v2.6M1115.5 127.2v2.5M1116.5 133.2v2.2M1117.5 128.2v2.8M1117.5 134v2.9M1118.5 130.2v2.5M1118.5 136.7v1.5M1119.5 125.2v1.5M1120.5 133.2v2.5M1120.5 135.7v1.8M1121.5 131.2v1.8M1122.5 133.2v2" stroke="#0080ff" stroke-width="1.0" fill="none"/>
<path d="M669.5 118.2v3.5M669.5 122.7v2.8M670.5 126.2v2.6M670.5 128.8v3.4M671.5 123.2v3.3M671.5 126.5v2.6M671.5 133.1v2.6M672.5 126.2v2.5M672.5 130.7v2.9M673.5 119.2v2.3M673.5 122.5v1.9M673.5 132.4v2.8M674.5 123.2v2.3M675.5 128.2v3.4M676.5 121.2v3.4M676.5 125.6v2.1M676.5 127.7v2.4M676.5 131.1v2.5M677.5 117.2v3.5M677.5 125.7v2.2M677.5 132.9v2.9M678.5 116.2v3.3M678.5 127.5v2.3M679.5 119.2v2.7M679.5 123.9v2.9M679.5 128.8v2.2M679.5 133v2.4M680.5 122.2v1.7M680.5 123.9v3.2M681.5 129.2v3.1M682.5 124.2v3.3M682.5 131.5v1.8M683.5 126.2v2.1M683.5 130.3v1.9M683.5 132.2v2M684.5 122.2v1.8M684.5 124v2.6M684.5 130.6v2.7M685.5 127.2v2M685.5 132.2v3M687.5 116.2v2.9M687.5 124.1v1.9M687.5 128.9v1.7M687.5 130.6v3M689.5 121.2v2.5M689.5 124.7v2.5M689.5 130.3v1.5M690.5 133.2v3.5M691.5 128.2v2.7M691.5 132.9v1.7M692.5 119.2v2.8M692.5 123v2.3M692.5 128.2v2M693.5 122.2v3.3M693.5 131.5v2.6M694.5 119.2v1.7M694.5 122.9v2M694.5 125.9v2.8M694.5 130.7v3.3M695.5 117.2v2.9M695.5 124.1v3.1M695.5 133.1v1.8M696.5 118.2v2.1M696.5 125.3v1.6M697.5 127.2v2.6M697.5 129.8v2.6M697.5 134.4v2.6M698.5 119.2v2.1M698.5 122.3v2.9M698.5 131.2v2.2M698.5 134.4v2.8M699.5 117.2v2.1M699.5 122.3v3.1M699.5 132.3v2.2M700.5 129.2v2.4M701.5 125.2v3M702.5 127.2v2M702.5 131.2v2.2M704.5 132.2v3.3M705.5 122.2v2.5M705.5 127.7v2.1M705.5 131.7v2.7M706.5 127.2v3.4M706.5 134.6v1.7M707.5 119.2v3.1M707.5 123.3v3.3M707.5 126.6v2.1M707.5 128.7v1.9M707.5 130.6v2.6M709.5 120.2v2M709.5 122.2v2.9M709.5 125.1v2.4M710.5 123.2v2.8M710.5 133v2.5M711.5 117.2v3M711.5 130.2v2.8M711.5 133.1v2.8M712.5 128.2v2.8M712.5 132v2M713.5 124.2v3M714.5 121.2v1.8M714.5 127v1.8M714.5 129.8v2.2M715.5 129.2v2.5M716.5 120.2v2.1M716.5 124.3v1.8M716.5 129.1v3.4M717.5 118.2v1.8M717.5 127v2.4M718.5 120.2v3.4M718.5 126.6v2.7M718.5 129.3v2.3M719.5 119.2v1.6M719.5 125.8v3.5M719.5 132.3v3.1M720.5 131.2v1.7M721.5 121.2v2.7M721.5 124.9v2.9M721.5 127.8v3.2M722.5 119.2v1.8M722.5 134v3.2M723.5 130.2v2.3M724.5 122.2v1.9M724.5 130.1v3.1M725.5 122.2v2.7M725.5 124.9v2.1M725.5 129v1.9M725.5 131.9v2.5M726.5 125.2v1.7M726.5 127.9v2M727.5 125.2v2.3M727.5 134.5v3.1M728.5 120.2v2.3M728.5 123.5v2.1M728.5 130.6v2.6M729.5 117.2v1.8M729.5 125v1.6M730.5 127.2v2.2M730.5 131.4v2.1M731.5 121.2v2.2M731.5 126.4v1.9M731.5 130.3v1.7M731.5 134v3M732.5 119.2v2M732.5 126.2v3.5M732.5 129.7v2.2M733.5 126.2v2.8M734.5 126.2v2.6M735.5 123.2v2.8M735.5 127v1.7M735.5 129.7v3.2M736.5 127.2v3.4M737.5 125.2v2.6M737.5 127.8v1.9M737.5 129.8v2.5M737.5 132.3v2.5M738.5 127.2v2.7M739.5 116.2v3.4M739.5 125.6v3.2M739.5 129.8v1.9M739.5 134.7v2M740.5 126.2v1.7M741.5 122.2v1.7M741.5 132.9v2.7M742.5 127.2v1.6M743.5 124.2v3.1M744.5 120.2v2.2M744.5 124.4v2.6M744.5 129v2M745.5 120.2v2M745.5 127.2v3.4M746.5 127.2v3.1M748.5 123.2v2.7M749.5 124.2v3.1M750.5 121.2v2.8M750.5 127v2.7M750.5 131.8v2.7M751.5 120.2v2.9M751.5 124.1v3.4M751.5 127.5v2.7M752.5 121.2v1.8M752.5 131v2.3M753.5 123.2v2.6M754.5 119.2v2.7M754.5 122.9v3M754.5 125.8v2.5M754.5 129.3v3.2M755.5 123.2v2.6M755.5 125.8v3.1M755.5 132.9v2.7M756.5 133.2v1.8M757.5 116.2v3.3M757.5 133.5v2.9M758.5 130.2v2.4M759.5 117.2v2.1M759.5 120.3v3.4M759.5 123.7v2.2M759.5 131.9v3M760.5 125.2v2.1M761.5 132.2v3.5M762.5 120.2v3.4M762.5 128.6v1.6M762.5 131.2v2.8M763.5 125.2v1.6M764.5 126.2v2.6M764.5 131.8v2.7M765.5 126.2v3.4M765.5 129.6v3.1M765.5 132.7v2.6M766.5 118.2v3.4M766.5 126.6v1.9M767.5 128.2v2.5M768.5 119.2v2.6M768.5 132.8v2.5M769.5 118.2v3.3M769.5 123.5v2.8M770.5 116.2v2.1M770.5 127.3v3.4M770.5 133.8v1.7M771.5 131.2v1.5M772.5 121.2v1.7M773.5 117.2v3M773.5 126.2v2.2M773.5 129.4v2.7M774.5 124.2v2M774.5 126.2v1.5M775.5 122.2v3.3M775.5 125.5v1.7M775.5 132.3v2.2M776.5 129.2v1.8M777.5 121.2v2.3M777.5 123.5v3M777.5 126.5v2.9M778.5 122.2v2M778.5 130.2v3.3M779.5 116.2v2.6M779.5 122.8v1.9M779.5 124.7v2.1M779.5 129.8v2.8M780.5 118.2v1.7M780.5 130.9v3.5M781.5 129.2v2.4M782.5 128.2v2.2M784.5 128.2v2.7M785.5 123.2v2M785.5 125.2v2M785.5 128.2v3.2M786.5 127.2v2.6M787.5 125.2v1.6M788.5 125.2v2.9M789.5 120.2v1.7M789.5 129.9v3.4M791.5 124.2v1.6M791.5 130.8v1.9M792.5 117.2v2.9M792.5 126.1v3.2M792.5 131.3v2.1M793.5 119.2v3.4M793.5 123.6v1.9M793.5 131.5v2.9M794.5 121.2v2.4M794.5 127.6v2M794.5 133.6v1.7M795.5 130.2v2.1M795.5 132.3v2.8M796.5 123.2v2.4M796.5 128.6v2.5M796.5 132.2v2.9M797.5 122.2v1.9M797.5 132.1v3M798.5 118.2v3.5M798.5 123.7v1.7M799.5 121.2v3M799.5 124.2v3.3M799.5 130.5v1.9M799.5 134.4v2.6M800.5 127.2v1.9M801.5 133.2v3.1M803.5 125.2v2.9M803.5 130.1v2.8M804.5 126.2v1.9M804.5 128.1v2.5M804.5 131.6v3.1M805.5 116.2v2.7M805.5 130.9v1.8M805.5 133.7v3.3M806.5 130.2v2.6M807.5 122.2v3.4M807.5 125.6v3.5M807.5 131.1v3.2M807.5 134.3v2.3M808.5 123.2v3.5M808.5 127.7v3.2M809.5 120.2v3M809.5 127.2v3.3M809.5 130.6v2.7M810.5 121.2v2.7M810.5 124.9v2.5M810.5 127.4v3.3M810.5 132.8v2.4M812.5 119.2v3.4M812.5 123.6v2.3M812.5 134.9v1.9M813.5 131.2v3.3M814.5 130.2v2.3M815.5 130.2v3M816.5 117.2v2M816.5 122.2v2.2M816.5 125.4v1.6M816.5 131v2M817.5 122.2v2M817.5 125.2v3M818.5 127.2v2M818.5 134.2v1.7M819.5 120.2v2.6M819.5 124.8v1.8M819.5 128.7v3.2M819.5 132.9v2.6M820.5 121.2v1.9M820.5 128.1v1.9M821.5 122.2v2M822.5 117.2v3.4M823.5 122.2v3.4M823.5 129.6v1.5M824.5 126.2v2.4M824.5 128.6v3.1M825.5 121.2v3.3M825.5 128.5v3.2M826.5 126.2v3.1M826.5 133.3v3.2M827.5 126.2v1.5M828.5 122.2v3M829.5 127.2v2.8M831.5 117.2v3M831.5 122.2v2.3M832.5 124.2v2.6M832.5 126.8v2.7M832.5 130.5v3M832.5 133.5v2M833.5 121.2v1.9M833.5 128.1v2.9M834.5 126.2v1.6M834.5 130.8v3.2M835.5 118.2v2.4M835.5 127.6v3.5M835.5 133.1v3M836.5 119.2v1.9M836.5 127.1v1.6M838.5 120.2v2.8M838.5 127v2.3M838.5 130.3v2.4M838.5 134.7v2.4M839.5 131.2v2.3M840.5 118.2v2.4M840.5 125.6v1.6M840.5 127.1v3.1M840.5 130.3v2.6M841.5 125.2v1.6M841.5 126.8v3.4M843.5 125.2v2.9M843.5 128.1v2.6M844.5 117.2v1.5M844.5 129.7v2.9M845.5 118.2v2.6M845.5 122.8v2.7M845.5 126.5v1.9M846.5 120.2v1.7M846.5 123.9v1.9M846.5 125.8v3.5M847.5 122.2v3.4M847.5 125.6v2.3M847.5 127.9v1.8M847.5 129.8v2M847.5 132.7v2M848.5 134.2v3M849.5 125.2v2.2M849.5 128.4v1.9M850.5 118.2v2.6M850.5 121.8v1.8M850.5 127.6v1.9M850.5 132.5v1.5M851.5 121.2v2.8M851.5 130v2M852.5 132.2v3.4M853.5 125.2v2.5M853.5 137.7v2.7M854.5 133.2v2.4M854.5 140.6v3.2M855.5 135.2v1.7M855.5 142.9v2.9M856.5 136.2v3M856.5 140.2v2M857.5 122.2v1.5M857.5 135.7v2.6M857.5 138.4v2M857.5 140.4v2.9M859.5 128.2v1.5M859.5 144.7v1.5M860.5 132.2v2.7M861.5 136.2v2.3M861.5 140.5v3.4M862.5 116.2v2.6M862.5 127.8v1.9M862.5 132.7v2M863.5 136.2v2.8M863.5 139v2.3M864.5 132.2v2.5M864.5 134.7v3M866.5 129.2v2.7M867.5 123.2v1.9M867.5 125.1v2.8M868.5 125.2v3M868.5 129.2v2.2M868.5 131.4v2.8M869.5 127.2v3.3M870.5 131.2v3.1M871.5 120.2v2.2M871.5 127.4v1.7M871.5 129.1v2M872.5 131.2v1.8M872.5 133v2.3M873.5 117.2v2.5M873.5 124.7v2.3M873.5 132v2.7M874.5 118.2v2M874.5 128.2v2.6M875.5 123.2v2.3M875.5 125.5v1.9M875.5 128.4v2.9M875.5 132.3v2.5M876.5 126.2v2.8M876.5 133v2.2M877.5 121.2v2.7M877.5 129.9v3.4M877.5 133.3v3.3M878.5 122.2v2.6M878.5 134.8v2.3M879.5 134.2v1.8M880.5 123.2v2.5M880.5 131.7v3.1M881.5 124.2v1.9M881.5 135.1v2.9M882.5 125.2v2.5M882.5 136.7v2.1M883.5 118.2v1.5M883.5 134.7v1.9M884.5 117.2v3.5M884.5 122.7v1.7M884.5 126.3v1.7M884.5 133v2.1M885.5 126.2v3.4M886.5 130.2v3.3M888.5 130.2v3.1M888.5 135.3v1.5M889.5 123.2v1.5M889.5 132.7v2.1M890.5 130.2v1.6M891.5 124.2v3M891.5 131.2v2M892.5 116.2v1.8M892.5 118v3.2M892.5 122.2v3.4M892.5 132.5v2.7M893.5 131.2v1.8M893.5 133v2.7M894.5 124.2v2M895.5 116.2v2M895.5 127.2v3.4M897.5 125.2v2.6M897.5 129.8v2M898.5 137.2v1.6M899.5 134.2v2.1M900.5 127.2v2.3M901.5 134.2v1.6M902.5 121.2v2.4M902.5 128.6v2.1M902.5 132.7v2M903.5 125.2v2.9M903.5 131.1v3.5M904.5 117.2v2.7M904.5 123.9v2.4M904.5 136.3v2.7M905.5 123.2v2.1M905.5 128.3v1.7M906.5 123.2v3.5M906.5 126.7v2.6M907.5 126.2v2.7M907.5 129.9v2.7M907.5 132.6v2.5M907.5 135v3.2M908.5 124.2v1.6M908.5 128.8v1.7M908.5 131.6v2.1M908.5 135.7v2M909.5 122.2v3.4M909.5 128.6v3.1M909.5 133.7v2.8M909.5 137.5v3.1M910.5 134.2v2.5M910.5 137.7v2.6M911.5 134.2v2.4M911.5 137.6v2M912.5 125.2v3M912.5 131.2v3.2M913.5 131.2v3.1M913.5 137.3v2M914.5 129.2v1.8M915.5 125.2v2.7M915.5 131.9v2.4M915.5 136.3v1.7M916.5 132.2v1.5M916.5 133.7v3.3M917.5 124.2v3.4M918.5 132.2v2.8M918.5 138v1.9M919.5 117.2v3.2M920.5 128.2v3.4M921.5 123.2v2.5M921.5 127.7v3.4M921.5 133.1v2.6M921.5 137.7v2.3M922.5 122.2v3M922.5 129.2v1.7M923.5 120.2v3.2M923.5 128.4v1.9M925.5 117.2v2.1M925.5 127.3v2.4M925.5 134.8v1.7M926.5 124.2v3.1M926.5 127.3v2.9M926.5 131.2v2.8M927.5 123.2v2.8M927.5 126v1.6M927.5 136.5v1.7M928.5 127.2v2.6M928.5 132.8v3.2M928.5 136.1v2M929.5 128.2v2.5M930.5 125.2v3.4M930.5 131.6v3.5M931.5 121.2v1.9M931.5 125.1v3M931.5 135.2v2.5M931.5 138.6v1.8M932.5 118.2v1.6M932.5 130.8v1.6M934.5 119.2v1.8M934.5 130v3M935.5 125.2v3.2M936.5 130.2v2.4M937.5 125.2v2.1M937.5 127.3v1.8M937.5 132.1v3.3M937.5 135.4v2.5M938.5 132.2v2.2M939.5 118.2v2.7M939.5 120.9v2.3M939.5 129.2v1.8M939.5 133v3.1M941.5 124.2v2.2M941.5 128.4v2.5M941.5 134.8v2.7M942.5 123.2v3.3M942.5 128.5v3.3M942.5 133.7v1.8M943.5 123.2v2M943.5 126.2v1.9M943.5 128.1v1.6M943.5 134.7v2.3M944.5 132.2v2.5M945.5 131.2v3.4M946.5 124.2v3.2M946.5 127.4v2.6M946.5 134v2M948.5 129.2v3.2M948.5 134.4v2.1M950.5 129.2v2.2M950.5 133.4v3.3M951.5 122.2v1.9M951.5 132.1v1.8M952.5 119.2v3M952.5 131.2v2.4M952.5 136.6v2.3M953.5 120.2v3.1M955.5 119.2v2.8M955.5 129v1.7M955.5 131.7v1.8M955.5 134.5v1.7M955.5 136.2v2.2M956.5 124.2v2.7M956.5 134.9v1.8M956.5 137.7v2M957.5 117.2v2.1M958.5 128.2v2.4M959.5 118.2v2.5M960.5 118.2v2.9M960.5 125.1v1.6M960.5 129.7v3.4M960.5 135.1v1.7M961.5 119.2v2.4M962.5 127.2v2.8M962.5 133v1.6M962.5 135.6v1.6M962.5 138.2v1.9M963.5 130.2v2.8M963.5 134v3.1M964.5 130.2v1.6M964.5 136.8v2.8M965.5 132.2v2.4M966.5 117.2v3.3M966.5 129.5v3.2M967.5 138.2v2.7M968.5 118.2v3.1M968.5 122.3v2.3M968.5 133.6v2.7M968.5 136.4v1.7M969.5 127.2v2M969.5 131.2v1.9M969.5 134.1v3.3M970.5 122.2v2.1M970.5 131.3v3.1M971.5 135.2v2.7M972.5 123.2v2.3M972.5 126.5v2.8M972.5 130.3v2.7M972.5 137v3.2M973.5 128.2v2M973.5 131.2v2.2M973.5 136.4v2M973.5 138.4v2M974.5 125.2v1.9M974.5 133.1v3.1M975.5 124.2v3M975.5 128.2v1.8M976.5 126.2v2.4M976.5 129.6v2.5M977.5 117.2v3M977.5 126.2v2.1M977.5 131.3v2.9M977.5 134.2v2M978.5 130.2v2M978.5 138.2v2.6M979.5 132.2v1.9M979.5 134.1v2.6M979.5 138.7v3.2M980.5 135.2v2.3M981.5 128.2v3M982.5 129.2v1.7M982.5 134.9v1.7M983.5 121.2v1.8M983.5 134v2.2M984.5 123.2v1.6M985.5 130.2v1.6M986.5 132.2v2.2M987.5 124.2v1.9M987.5 128.1v1.6M988.5 118.2v2.4M988.5 132.6v2.7M988.5 136.3v2M989.5 126.2v2.7M989.5 136.9v2.4M990.5 117.2v3.2M990.5 128.4v2.2M990.5 131.6v1.6M991.5 117.2v2.3M991.5 129.5v2.6M992.5 119.2v3.2M992.5 132.4v2.7M993.5 121.2v2M993.5 126.2v3M993.5 130.2v3.3M994.5 125.2v3M994.5 134.2v3.2M995.5 127.2v1.6M995.5 137.8v3.4M996.5 124.2v1.7M996.5 127.9v3.1M996.5 131v3.3M997.5 126.2v3.5M997.5 131.7v3.1M997.5 138.8v3.3M998.5 125.2v2.6M998.5 133.8v1.7M998.5 135.5v2.7M999.5 119.2v3.3M999.5 126.5v3M999.5 131.5v2.3M999.5 135.8v2.9M1000.5 128.2v2.3M1000.5 130.5v2.7M1001.5 125.2v3.1M1001.5 131.3v1.8M1002.5 127.2v2.9M1002.5 134.1v2.3M1003.5 119.2v3.1M1003.5 129.3v1.8M1003.5 134.1v1.6M1003.5 136.7v1.6M1004.5 129.2v2.2M1004.5 133.4v3.2M1005.5 117.2v2.3M1005.5 131.5v1.5M1005.5 133v3.4M1006.5 124.2v1.5M1006.5 129.7v2.1M1007.5 129.2v1.5M1007.5 133.7v2.6M1008.5 118.2v1.7M1008.5 125.9v3.5M1008.5 129.3v1.5M1008.5 130.9v2.6M1008.5 134.5v2.3M1010.5 118.2v2.3M1010.5 130.5v2.3M1010.5 135.8v2.4M1011.5 129.2v3.4M1011.5 132.6v3.3M1012.5 123.2v3.1M1013.5 130.2v2.9M1013.5 137.1v1.5M1014.5 123.2v3.2M1014.5 127.4v2.4M1014.5 135.8v3.3M1015.5 127.2v3.4M1015.5 133.6v2.6M1016.5 118.2v2M1016.5 122.2v1.8M1016.5 134.9v1.6M1017.5 123.2v2.1M1017.5 127.3v2.2M1017.5 130.5v2.4M1018.5 117.2v1.6M1018.5 126.8v1.6M1018.5 133.3v3.3M1018.5 136.7v3M1019.5 121.2v3.3M1019.5 126.5v2.1M1019.5 131.6v1.6M1020.5 125.2v2.7M1020.5 128.9v3.4M1020.5 135.3v2.7M1021.5 123.2v2.4M1021.5 126.6v3M1022.5 130.2v3.3M1022.5 135.5v2.8M1023.5 119.2v2.7M1023.5 127.9v3.2M1023.5 134.1v2M1023.5 137.2v1.6M1024.5 130.2v2.3M1025.5 126.2v1.9M1025.5 132.1v2.6M1025.5 134.7v3M1026.5 117.2v3.1M1026.5 133.3v2.3M1026.5 135.6v2.6M1027.5 129.2v2M1027.5 131.2v1.6M1028.5 133.2v2.9M1029.5 120.2v2.5M1030.5 129.2v2.4M1030.5 135.6v2.6M1030.5 138.3v3.2M1031.5 123.2v2M1031.5 127.2v1.5M1031.5 128.8v3.1M1031.5 137.9v1.6M1032.5 128.2v3.3M1032.5 136.5v2.5M1033.5 118.2v3.3M1033.5 123.5v2.4M1033.5 127.8v2.7M1033.5 130.6v3M1033.5 134.6v2.7M1034.5 130.2v1.9M1035.5 127.2v2.1M1035.5 135.3v1.6M1037.5 127.2v1.6M1037.5 134.8v2.3M1038.5 138.2v2.1M1039.5 130.2v3.4M1039.5 135.6v1.6M1039.5 137.3v3M1040.5 132.2v1.8M1040.5 136v2.9M1041.5 136.2v3.2M1042.5 125.2v1.9M1042.5 128.1v2.4M1045.5 129.2v2M1046.5 116.2v2.5M1046.5 127.7v2.6M1046.5 131.3v3.1M1047.5 118.2v1.7M1047.5 132.9v2M1048.5 122.2v2M1048.5 135.2v2.2M1049.5 117.2v2.9M1049.5 121.1v2.4M1049.5 130.4v2.8M1050.5 125.2v2.2M1050.5 136.4v2.7M1051.5 125.2v2M1051.5 135.2v2.9M1052.5 130.2v3.2M1052.5 135.4v2.8M1053.5 124.2v2.4M1053.5 131.6v2.3M1053.5 137v2M1054.5 126.2v3.1M1055.5 127.2v2.2M1055.5 130.4v1.7M1055.5 135.1v2.8M1055.5 137.9v3.4M1056.5 123.2v2.8M1056.5 138v2.9M1057.5 127.2v1.7M1057.5 128.9v3.1M1057.5 136.9v1.9M1058.5 129.2v2.8M1059.5 119.2v2.1M1059.5 123.3v1.5M1060.5 130.2v2.3M1060.5 132.5v3.1M1060.5 135.6v2.7M1061.5 134.2v2M1062.5 121.2v2.8M1062.5 125v2.6M1062.5 129.6v2.2M1062.5 131.8v2.6M1062.5 134.4v2.6M1062.5 139v3.4M1063.5 126.2v3M1063.5 130.2v2.6M1063.5 135.8v1.6M1064.5 119.2v2.7M1064.5 133.9v2.8M1065.5 118.2v1.7M1065.5 125.9v1.5M1065.5 128.5v2.8M1065.5 131.2v2.9M1065.5 134.1v2.4M1066.5 125.2v3M1066.5 133.2v2.3M1066.5 135.5v3.3M1067.5 128.2v3.1M1067.5 134.3v3.2M1068.5 135.2v1.7M1069.5 121.2v2.5M1069.5 126.7v3.4M1069.5 130.1v2.8M1070.5 124.2v3.1M1070.5 129.3v2M1070.5 132.3v3.3M1071.5 127.2v1.7M1072.5 117.2v2.2M1072.5 120.4v3.4M1072.5 129.8v2.4M1072.5 136.1v1.9M1073.5 133.2v2.9M1073.5 136.1v2M1073.5 138.1v2.2M1074.5 121.2v1.8M1074.5 128v2M1074.5 130v2.8M1074.5 133.8v3.2M1074.5 137v1.9M1075.5 128.2v2.2M1075.5 133.4v1.8M1075.5 135.2v2.7M1076.5 118.2v3.1M1076.5 125.3v2.9M1077.5 125.2v1.6M1077.5 131.8v1.5M1078.5 125.2v3.3M1078.5 133.5v2.8M1080.5 120.2v3.1M1080.5 125.3v2.5M1080.5 133.7v3.3M1081.5 117.2v1.9M1081.5 131.1v3M1081.5 134.1v3M1082.5 116.2v3M1082.5 119.2v3.1M1082.5 128.3v3.4M1082.5 136.7v2.3M1083.5 130.2v3.1M1084.5 125.2v3.1M1084.5 128.3v2.5M1084.5 133.8v2.1M1085.5 125.2v3.4M1086.5 119.2v1.6M1086.5 132.8v2.8M1086.5 136.6v2.9M1087.5 120.2v3M1087.5 124.2v2.2M1087.5 133.4v3M1088.5 119.2v2.6M1088.5 128.8v2.2M1088.5 133v3.3M1089.5 123.2v2.7M1089.5 128.9v2.7M1090.5 130.2v1.8M1092.5 118.2v3.4M1093.5 126.2v1.6M1093.5 128.8v2.9M1093.5 134.6v2.5M1095.5 131.2v2.3M1095.5 133.5v1.6M1095.5 135.1v3.3M1096.5 135.2v2.9M1097.5 124.2v2.8M1097.5 128v2.1M1097.5 131.1v2.2M1098.5 126.2v2.9M1098.5 130.1v2.4M1099.5 125.2v3.1M1099.5 129.3v3.2M1100.5 126.2v3M1100.5 135.2v1.7M1100.5 137.9v3.4M1101.5 128.2v3.2M1102.5 135.2v2.7M1103.5 130.2v2.5M1103.5 132.7v3.3M1103.5 138.1v1.8M1104.5 116.2v2M1104.5 130.2v1.6M1104.5 136.7v3.3M1105.5 131.2v3M1105.5 134.2v1.9M1106.5 116.2v1.9M1106.5 121.1v2.1M1106.5 131.2v2.7M1106.5 133.9v3.3M1107.5 130.2v3.3M1107.5 134.5v3.2M1108.5 124.2v2.2M1109.5 135.2v3.3M1110.5 116.2v2.7M1110.5 125.9v3M1110.5 129.9v2.3M1110.5 134.2v2.4M1111.5 128.2v2.9M1111.5 131.1v3.1M1111.5 134.2v2.7M1111.5 136.9v2.8M1112.5 126.2v2.7M1112.5 129.9v1.6M1112.5 131.5v2.9M1113.5 116.2v2.2M1113.5 126.4v2.2M1113.5 131.6v2.9M1114.5 125.2v1.6M1114.5 129.8v3.2M1114.5 136v2.5M1115.5 121.2v3.4M1115.5 127.6v1.7M1115.5 129.3v2.2M1115.5 131.5v1.6M1116.5 117.2v2.3M1116.5 131.5v2.9M1116.5 135.4v2.9M1117.5 122.2v3.2M1117.5 125.4v1.8M1117.5 132.2v3M1118.5 125.2v3.4M1119.5 124.2v2.2M1119.5 131.4v1.6M1119.5 133.9v3.5M1120.5 127.2v3.1M1120.5 130.3v1.8M1120.5 133.1v2.2M1121.5 117.2v2.6M1121.5 119.8v3.5M1121.5 124.3v2.1M1121.5 128.3v2.8M1121.5 135.1v3.2M1122.5 123.2v1.9M1122.5 136.1v1.9" stroke="#0000ff" stroke-width="1.0" fill="none"/>
<path d="M669.5 128.2v1.6M674.5 128.2v2.3M676.5 132.2v2M678.5 128.2v2.7M679.5 128.2v2.5M679.5 132.7v2.7M683.5 129.2v2.4M684.5 128.2v2.2M685.5 131.2v2.8M686.5 128.2v1.8M686.5 132v2.3M687.5 128.2v1.6M687.5 130.8v2.3M688.5 128.2v2.8M690.5 133.2v2.4M695.5 130.2v1.5M696.5 129.2v2.2M707.5 128.2v1.8M709.5 130.2v2.7M709.5 132.9v2.1M710.5 129.2v2.5M711.5 128.2v2.6M711.5 130.8v2.9M712.5 129.2v1.5M713.5 133.2v1.8M714.5 130.2v2.3M719.5 130.2v1.9M720.5 132.2v2.1M723.5 129.2v2.3M730.5 129.2v2.7M731.5 129.2v1.7M732.5 128.2v1.8M733.5 132.2v1.5M735.5 128.2v2.8M736.5 128.2v2.1M738.5 129.2v2.4M742.5 129.2v2.5M744.5 129.2v2.8M746.5 131.2v2.6M748.5 131.2v2.6M752.5 130.2v2.3M757.5 128.2v2.6M764.5 131.2v2.8M765.5 130.2v1.5M766.5 128.2v2.9M769.5 128.2v2.8M771.5 128.2v2.7M771.5 130.9v2.3M774.5 131.2v2M778.5 130.2v1.6M781.5 132.2v2.9M784.5 130.2v2.7M788.5 128.2v1.7M793.5 131.2v2.4M797.5 131.2v1.8M798.5 131.2v2.4M801.5 128.2v2.8M805.5 129.2v1.6M813.5 129.2v2.3M814.5 130.2v2.9M816.5 128.2v2.1M817.5 130.2v2.3M818.5 128.2v1.6M819.5 131.2v2.1M820.5 133.2v2.1M822.5 129.2v1.9M823.5 133.2v2M825.5 129.2v1.6M826.5 128.2v2.5M827.5 129.2v1.8M828.5 131.2v2.5M830.5 129.2v2.2M830.5 131.4v1.8M832.5 132.2v2.9M833.5 129.2v2M834.5 128.2v2.9M837.5 133.2v1.7M840.5 131.2v2M841.5 130.2v1.6M843.5 128.2v1.9M845.5 131.2v2.8M847.5 130.2v2M851.5 130.2v1.5M854.5 137.2v1.5M855.5 138.2v2.9M856.5 138.2v1.7M860.5 139.2v1.8M871.5 128.2v1.8M876.5 130.2v2.1M878.5 129.2v1.9M880.5 130.2v1.5M882.5 132.2v1.9M884.5 132.2v2.4M885.5 132.2v1.5M887.5 132.2v1.9M888.5 131.2v2.5M890.5 131.2v2.4M890.5 133.6v1.7M891.5 131.2v2.7M891.5 133.9v1.7M892.5 131.2v2.7M893.5 133.2v2.3M896.5 135.2v2.2M898.5 137.2v2.6M899.5 132.2v1.6M900.5 132.2v3M901.5 133.2v2M901.5 135.2v2.3M901.5 137.5v2.3M902.5 133.2v2.2M905.5 134.2v2.4M908.5 133.2v2.4M911.5 133.2v2.1M912.5 132.2v2.1M915.5 132.2v1.9M916.5 133.2v2.8M918.5 137.2v2M922.5 136.2v1.8M923.5 135.2v1.5M925.5 134.2v2.9M926.5 132.2v1.7M927.5 133.2v2.4M927.5 136.6v1.7M928.5 132.2v2.6M930.5 133.2v1.9M931.5 133.2v2.9M933.5 133.2v2.9M934.5 133.2v2.7M936.5 136.2v3M939.5 132.2v1.8M939.5 137v2.4M940.5 134.2v2.6M941.5 132.2v1.5M943.5 136.2v1.7M945.5 134.2v1.9M946.5 134.2v1.7M946.5 135.9v1.8M953.5 133.2v1.8M954.5 137.2v2.5M958.5 135.2v2.6M959.5 132.2v1.9M961.5 133.2v2.1M962.5 134.2v2.7M963.5 133.2v1.9M968.5 132.2v3M968.5 136.2v2.1M971.5 135.2v2.4M972.5 136.2v1.9M975.5 133.2v2.5M976.5 137.2v2.9M978.5 133.2v2.4M979.5 134.2v1.9M979.5 136.1v2.1M980.5 134.2v2.2M981.5 137.2v2.8M982.5 132.2v2.7M982.5 134.9v2.3M985.5 132.2v1.5M986.5 135.2v2.5M989.5 132.2v2.6M993.5 132.2v2.9M994.5 134.2v2.8M1000.5 135.2v1.8M1004.5 132.2v1.6M1006.5 132.2v1.9M1006.5 135.1v2.8M1007.5 135.2v2.2M1007.5 137.4v1.6M1008.5 136.2v2.7M1011.5 132.2v3M1014.5 137.2v2.7M1015.5 134.2v2.4M1018.5 137.2v1.7M1019.5 137.2v3M1020.5 135.2v2.4M1022.5 132.2v3M1024.5 134.2v2.1M1025.5 134.2v2.4M1030.5 132.2v2.7M1033.5 137.2v2M1034.5 132.2v3M1036.5 133.2v2M1038.5 133.2v2.1M1039.5 136.2v2.2M1044.5 136.2v2.6M1046.5 132.2v2.8M1046.5 135v2M1050.5 132.2v1.6M1052.5 132.2v2.2M1054.5 132.2v2.3M1055.5 133.2v2.5M1058.5 135.2v2.3M1059.5 132.2v2.7M1060.5 136.2v1.9M1061.5 134.2v2.6M1062.5 136.2v2.7M1063.5 132.2v1.6M1063.5 134.8v1.6M1065.5 133.2v2.4M1066.5 134.2v2.3M1071.5 132.2v2.3M1072.5 135.2v1.8M1073.5 134.2v2.2M1079.5 134.2v1.7M1080.5 133.2v2M1080.5 137.2v1.9M1081.5 134.2v2.9M1083.5 136.2v1.7M1084.5 134.2v2M1085.5 133.2v1.7M1086.5 132.2v1.7M1087.5 132.2v2M1088.5 132.2v2.1M1088.5 135.3v2.6M1090.5 137.2v2M1093.5 132.2v1.8M1094.5 133.2v2.6M1098.5 133.2v2.1M1100.5 133.2v2.8M1105.5 132.2v2M1106.5 132.2v3M1108.5 136.2v2M1109.5 134.2v1.9M1110.5 132.2v2.9M1115.5 137.2v2.2M1118.5 132.2v2.4" stroke="#ff00ff" stroke-width="1.0" fill="none"/>
<path d="M673.5 126.2v1.5M678.5 128.2v1.5M685.5 124.2v1.7M686.5 123.2v1.7M689.5 127.2v1.6M689.5 128.8v1.8M690.5 125.2v1.3M693.5 131.2v1.2M698.5 125.2v1.4M704.5 125.2v1.1M704.5 129.3v1.7M718.5 126.2v1.9M720.5 124.2v1.2M724.5 124.2v1.3M726.5 129.2v1.7M729.5 126.2v1.5M740.5 124.2v1.8M742.5 127.2v1.3M743.5 125.2v1.8M745.5 116.2v1.1M746.5 119.2v1.4M752.5 126.2v1.8M754.5 130.2v1.1M761.5 126.2v1.5M764.5 128.2v1.3M766.5 130.2v1.2M770.5 120.2v1.8M772.5 123.2v2M772.5 126.2v1.9M773.5 121.2v1.9M773.5 124.1v1.1M777.5 131.2v1.8M783.5 128.2v1.3M789.5 124.2v1.6M794.5 126.2v1.3M794.5 129.5v1M795.5 128.2v1.4M795.5 129.6v1.6M797.5 125.2v1.5M798.5 124.2v1.1M799.5 131.2v1.8M810.5 124.2v1.4M818.5 124.2v1.6M819.5 130.2v1.9M824.5 127.2v1.8M825.5 126.2v1.3M826.5 130.2v1.8M829.5 131.2v1.8M832.5 116.2v1.7M840.5 127.2v1.4M841.5 127.2v1.3M845.5 130.2v1.6M846.5 129.2v1.2M853.5 132.2v1.9M853.5 134.1v1.6M855.5 129.2v1.5M855.5 139.7v0.3M857.5 129.2v1.4M857.5 133.6v1.4M861.5 133.2v1.9M864.5 129.2v1.8M867.5 117.2v1.3M872.5 121.2v1.1M875.5 130.2v1.6M881.5 126.2v1.5M885.5 128.2v1.4M885.5 130.6v1.2M886.5 126.2v1.4M899.5 125.2v1.2M907.5 131.2v1.1M911.5 126.2v1.1M915.5 134.2v1.2M916.5 129.2v1.5M920.5 129.2v1.5M923.5 120.2v1.1M925.5 129.2v1.2M929.5 133.2v1.6M931.5 128.2v1.1M931.5 131.3v2M931.5 133.3v1.3M939.5 131.2v1.9M941.5 131.2v1M942.5 130.2v1.1M943.5 122.2v1.9M944.5 129.2v1.2M948.5 124.2v1.8M950.5 131.2v1.7M956.5 132.2v1.6M960.5 129.2v1.3M966.5 124.2v1.2M972.5 133.2v1.4M973.5 135.2v1.1M974.5 129.2v1.3M974.5 130.5v2M982.5 126.2v1M985.5 118.2v1.1M985.5 124.3v1.7M989.5 131.2v2M991.5 132.2v1.5M999.5 132.2v1.5M1004.5 132.2v2M1005.5 131.2v1.9M1007.5 133.2v1.4M1008.5 120.2v1.8M1008.5 128v1.4M1009.5 134.2v1.1M1010.5 120.2v1.9M1011.5 118.2v1.4M1014.5 131.2v2M1021.5 133.2v1.8M1027.5 128.2v1.2M1027.5 129.4v1.2M1029.5 133.2v1.3M1030.5 123.2v1.3M1031.5 132.2v1.8M1031.5 135v1.3M1036.5 134.2v1.5M1037.5 134.2v1.4M1040.5 119.2v1.2M1041.5 128.2v1.4M1042.5 134.2v1.1M1043.5 134.2v1.5M1047.5 133.2v1.4M1048.5 134.2v1.5M1050.5 131.2v1.7M1051.5 132.2v1.8M1052.5 130.2v1.8M1054.5 131.2v1.1M1056.5 120.2v1.2M1057.5 128.2v1.6M1058.5 134.2v1.6M1064.5 131.2v1.6M1065.5 126.2v1.1M1070.5 130.2v1.3M1074.5 128.2v1.4M1075.5 130.2v1.9M1077.5 134.2v1.7M1078.5 126.2v1.2M1082.5 123.2v1.2M1084.5 133.2v1.5M1093.5 130.2v1.5M1100.5 129.2v1.8M1106.5 134.2v1M1112.5 119.2v1M1112.5 129.2v1.6M1116.5 131.2v1.8M1119.5 133.2v1.3M1122.5 127.2v1.1M1122.5 135.3v2" stroke="#00ccff" stroke-width="1.0" fill="none"/>
<path d="M72.5 306.5v1.5M72.5 309v2.2M72.5 312.3v0.3M73.5 304.5v1.2M73.5 307.7v1.7M73.5 311.4v1.2M74.5 309.5v2.2M75.5 308.5v1.7M76.5 307.5v2.1M76.5 311.6v1M77.5 304.5v1.8M77.5 309.3v1.8M78.5 306.5v1.5M79.5 306.5v1.4M79.5 307.9v2.2M80.5 305.5v1.7M80.5 308.2v1.3M80.5 309.5v2.4M80.5 311.9v0.7M82.5 305.5v2.3M82.5 311.8v0.8M83.5 309.5v2.3M84.5 312.5v0.1M85.5 305.5v1.5M85.5 311v1.5M85.5 312.5v0.1M86.5 303.5v1.2M86.5 311.7v0.9M87.5 304.5v2M88.5 310.5v2.1M89.5 305.5v1.5M89.5 309v1.3M89.5 311.3v1.3M90.5 304.5v2.3M91.5 304.5v2.4M91.5 306.9v2M92.5 304.5v2.2M93.5 306.5v2M93.5 310.5v1.7M93.5 312.3v0.3M94.5 308.5v1.5M94.5 310v2.5M94.5 312.5v0.1M95.5 306.5v1.3M96.5 308.5v2.2M97.5 312.5v0.1M98.5 308.5v1.8M98.5 310.3v1.8M98.5 312.2v0.4M99.5 308.5v1.4M99.5 310.9v1.7M100.5 306.5v2.5M100.5 311v1.3M101.5 304.5v1.8M101.5 307.3v1.6M101.5 309.9v1.8M102.5 310.5v2.1M103.5 307.5v1.6M103.5 309.1v2M104.5 309.5v1.9M104.5 312.4v0.2M105.5 310.5v1.8M106.5 304.5v2M106.5 312.5v0.1M107.5 308.5v2M108.5 305.5v2.5M108.5 310v2.5M109.5 309.5v1.7M110.5 305.5v2.1M110.5 310.6v2M111.5 304.5v2M111.5 306.5v1.4M111.5 308.9v1.3M111.5 310.2v1.7M112.5 306.5v1.4M112.5 311.9v0.7M113.5 310.5v1.5M113.5 312v0.6M114.5 307.5v1.6M115.5 304.5v1.7M115.5 311.2v1.4M116.5 304.5v2.4M116.5 311.9v0.7M117.5 307.5v2.3M118.5 303.5v1.6M119.5 307.5v2.4M120.5 305.5v1.3M121.5 307.5v1.5M121.5 309v2M122.5 310.5v1.5M122.5 312v0.6M123.5 309.5v1.6M123.5 311.1v1.5M124.5 310.5v1.3M125.5 307.5v1.4M125.5 308.9v1.5M125.5 312.3v0.3M126.5 308.5v1.9M127.5 307.5v1.9M127.5 311.4v1.2M128.5 309.5v1.6M128.5 311.1v1.5M129.5 303.5v2.2M129.5 305.7v2.2M129.5 307.9v1.7M129.5 311.6v1M130.5 307.5v1.4M130.5 311.9v0.7M131.5 303.5v2.5M131.5 312v0.6M133.5 304.5v2.1M134.5 309.5v1.8M134.5 312.3v0.3M135.5 310.5v2.1M136.5 312.5v0.1M137.5 306.5v2.6M137.5 309.1v2.4M138.5 310.5v1.8M139.5 302.5v1.5M139.5 307v2.2M140.5 303.5v2M142.5 305.5v2M143.5 311.5v1.1M144.5 306.5v1.5M144.5 308v1.6M145.5 311.5v1.1M146.5 305.5v2.3M146.5 308.8v2.6M146.5 312.4v0.2M147.5 305.5v2.4M147.5 307.9v1.5M148.5 309.5v1.7M149.5 303.5v2.2M149.5 307.7v1.4M150.5 306.5v1.2M150.5 308.7v2.1M152.5 305.5v1.6M152.5 310.1v1.5M152.5 312.5v0.1M153.5 307.5v1.9M153.5 311.4v1.2M154.5 311.5v1.1M155.5 310.5v1.7M156.5 308.5v1.4M156.5 311.9v0.7M157.5 308.5v2.3M157.5 310.8v1.6M158.5 309.5v1.9M159.5 306.5v2.3M159.5 311.8v0.8M160.5 309.5v1.4M160.5 310.9v1.7M161.5 308.5v2M161.5 312.5v0.1M162.5 307.5v1.8M162.5 311.3v1.3M163.5 306.5v1.4M165.5 307.5v1.6M165.5 312.1v0.5M166.5 308.5v1.5M166.5 311v1.6M167.5 308.5v2.4M167.5 310.9v1.7M168.5 308.5v1.7M168.5 310.2v2.4M169.5 303.5v2.1M169.5 310.6v1.3M171.5 303.5v2.2M171.5 310.7v1.9M172.5 303.5v1.3M172.5 307.8v1.5M172.5 311.3v1.3M174.5 305.5v1.5M174.5 310v2.2M175.5 311.5v1.1M176.5 307.5v1.7M176.5 309.2v1.8M176.5 311v1.6M177.5 309.5v1.6M178.5 304.5v2.1M178.5 311.6v1M179.5 311.5v1.1M180.5 305.5v1.4M180.5 309.9v1.6M181.5 308.5v1.8M182.5 306.5v2.4M182.5 308.9v2.4M183.5 308.5v1.5M183.5 310v2.2M183.5 312.2v0.4M184.5 306.5v1.4M185.5 311.5v1.1M187.5 306.5v1.6M187.5 311.1v1.5M188.5 311.5v1.1M189.5 308.5v1.3M189.5 311.8v0.8M190.5 305.5v2.3M190.5 310.8v1.8M191.5 306.5v1.3M191.5 311.8v0.8M192.5 307.5v1.7M192.5 311.2v1.4M193.5 305.5v2.5M194.5 306.5v2.5M194.5 310v1.5M194.5 312.5v0.1M195.5 309.5v2.4M196.5 302.5v2.2M198.5 302.5v1.3M198.5 309.8v1.9M198.5 311.7v0.9M200.5 308.5v1.4M200.5 310.9v1.7M201.5 302.5v1.8M201.5 306.3v1.7M202.5 303.5v1.7M202.5 308.2v1.5M203.5 310.5v1.6M203.5 312.1v0.5M204.5 305.5v2.6M204.5 309.1v1.4M204.5 310.5v1.9M206.5 306.5v1.2M206.5 309.7v2.4M208.5 306.5v2.3M208.5 309.8v2.2M208.5 312.1v0.5M209.5 309.5v2.2M209.5 311.7v0.9M210.5 306.5v1.5M210.5 311v1.6M212.5 312.5v0.1M213.5 308.5v2.4M214.5 308.5v2.4M215.5 310.5v2M216.5 302.5v1.9M216.5 307.4v1.8M216.5 309.2v2.4M217.5 307.5v2.4M217.5 309.9v1.3M218.5 311.5v1.1M219.5 304.5v2.6M219.5 309.1v2.1M220.5 312.5v0.1M221.5 307.5v2M221.5 309.5v1.2M222.5 304.5v2.2M222.5 307.7v1.4M222.5 309.1v1.8M222.5 310.9v1.7M223.5 311.5v1.1M224.5 308.5v1.9M224.5 311.4v1.2M225.5 308.5v1.5M225.5 310v2.3M226.5 306.5v1.3M226.5 311.8v0.8M227.5 307.5v1.8M230.5 310.5v2.1M231.5 305.5v1.4M233.5 306.5v1.9M233.5 309.4v2.3M234.5 302.5v1.4M234.5 311.9v0.7M236.5 307.5v1.8M236.5 311.3v1.3M237.5 303.5v2.4M237.5 310.9v1.3M239.5 306.5v1.2M239.5 308.7v1.7M239.5 311.4v1.2M240.5 308.5v1.3M241.5 303.5v2.5M244.5 303.5v1.8M244.5 305.3v2.2M245.5 306.5v2.2M245.5 308.7v2.2M246.5 311.5v1.1M247.5 307.5v1.9M247.5 309.4v1.2M248.5 304.5v2.6M248.5 309.1v1.7M249.5 305.5v2.5M249.5 310v1.5M249.5 311.5v1.1M250.5 309.5v1.9M251.5 302.5v1.7M251.5 308.2v1.6M251.5 309.8v2.1M251.5 311.9v0.7M252.5 306.5v1.8M252.5 310.3v1.9M253.5 303.5v1.8M253.5 307.3v1.6M253.5 310.9v1.7M254.5 305.5v1.8M254.5 308.3v1.5M255.5 304.5v1.4M255.5 307.9v1.9M256.5 304.5v2.1M256.5 309.6v1.8M256.5 311.4v1.2M257.5 310.5v1.3M257.5 311.8v0.8M258.5 307.5v2.6M259.5 307.5v1.8M260.5 305.5v1.3M260.5 307.8v1.3M260.5 309.1v2.1M260.5 312.3v0.3M261.5 310.5v2.1M262.5 309.5v2.5M263.5 306.5v1.3M263.5 308.8v1.4M264.5 311.5v1.1M265.5 312.5v0.1M267.5 305.5v1.5M268.5 312.5v0.1M269.5 307.5v2.3M270.5 307.5v2M270.5 309.5v1.3M271.5 304.5v1.3M271.5 311.8v0.8M272.5 309.5v1.6M272.5 311.1v1.5M273.5 304.5v1.7M274.5 308.5v2.3M275.5 309.5v2.2M276.5 308.5v1.5M276.5 310v2.2M276.5 312.2v0.4M277.5 309.5v2.2M277.5 311.7v0.9M278.5 307.5v2M279.5 306.5v1.9M279.5 310.4v2.2M280.5 311.5v1.1M281.5 304.5v2.1M281.5 308.6v1.7M281.5 311.4v1.2M282.5 308.5v2.2M282.5 311.7v0.9M283.5 304.5v1.6M283.5 309.1v1.3M283.5 310.4v2.2M284.5 305.5v2.1M284.5 311.6v1M285.5 303.5v2M285.5 309.5v2M286.5 303.5v1.7M286.5 306.2v2.2M287.5 309.5v1.7M288.5 309.5v2.3M289.5 308.5v2.5M289.5 311v1.3M291.5 306.5v2.2M291.5 310.7v1.2M291.5 312v0.6M292.5 308.5v1.8M293.5 307.5v1.4M293.5 308.9v1.4M294.5 310.5v1.9M296.5 305.5v2.5M297.5 310.5v2.1M299.5 305.5v2.2M300.5 303.5v2.3M300.5 307.8v1.7M301.5 305.5v2.2M304.5 312.5v0.1M305.5 302.5v1.6M305.5 309.1v1.3M306.5 308.5v2.6M306.5 312.1v0.5M307.5 309.5v2.2M308.5 308.5v1.9M309.5 308.5v1.5M309.5 312v0.6M310.5 311.5v1.1M314.5 310.5v2.1M316.5 305.5v2.2M317.5 311.5v1.1M319.5 308.5v1.4M322.5 311.5v1.1M323.5 305.5v1.5M324.5 302.5v2.3M324.5 307.8v1.7M324.5 309.4v1.5M328.5 307.5v1.3M331.5 308.5v1.4M331.5 310.9v1.6M335.5 302.5v2.4M337.5 305.5v1.4M338.5 306.5v2.5M338.5 309v2.2M338.5 312.1v0.5M339.5 309.5v2M340.5 312.5v0.1M341.5 305.5v2.3M341.5 309.8v1.6M342.5 309.5v2.1M344.5 304.5v2.6M344.5 312.1v0.5M352.5 311.5v1.1M358.5 309.5v2.3M359.5 310.5v1.4M360.5 310.5v1.9M361.5 309.5v2.3M362.5 305.5v1.6M364.5 310.5v1.4M365.5 310.5v1.8M366.5 306.5v2M367.5 310.5v1.2M369.5 304.5v2.2M370.5 304.5v1.5M370.5 308v1.5M370.5 311.4v1.2M371.5 308.5v1.7M376.5 306.5v2M376.5 312.5v0.1M377.5 309.5v1.7M378.5 310.5v1.9M382.5 306.5v2M383.5 308.5v2.4M385.5 307.5v2.5M387.5 312.5v0.1M388.5 307.5v2.5M389.5 311.5v1.1M391.5 311.5v1.1M397.5 312.5v0.1M400.5 303.5v1.4M400.5 310.9v1.7M401.5 303.5v2.5M403.5 305.5v1.2M403.5 306.7v1.3M405.5 309.5v2.3M406.5 311.5v1.1M407.5 310.5v1.8M408.5 303.5v1.7M411.5 308.5v1.3M413.5 311.5v1.1M415.5 307.5v2.5M418.5 309.5v2.4M419.5 308.5v2.3M422.5 302.5v2.5M426.5 312.5v0.1M427.5 308.5v2.2M427.5 310.7v1.4M427.5 312.1v0.5M428.5 307.5v1.5M429.5 304.5v2.5M430.5 305.5v2.5M431.5 310.5v2.1M435.5 306.5v2.4M436.5 304.5v2M437.5 307.5v1.5M438.5 308.5v1.8M439.5 307.5v2.4M439.5 310.9v1.7M443.5 311.5v1.1M447.5 306.5v2.5M448.5 311.5v1.1M449.5 308.5v2.4M450.5 306.5v1.3M452.5 305.5v2.1M452.5 307.6v2.1M452.5 311.7v0.9M454.5 311.5v1.1M457.5 305.5v1.6M458.5 310.5v1.2M460.5 308.5v2.1M462.5 306.5v2.5M462.5 312v0.6M465.5 303.5v2.6M466.5 309.5v1.2M469.5 312.5v0.1M470.5 307.5v1.9M471.5 306.5v2.1M473.5 310.5v1.2M476.5 308.5v1.8M476.5 310.3v1.7M477.5 311.5v1.1M478.5 311.5v1.1M479.5 307.5v1.6M481.5 308.5v1.7M483.5 311.5v1.1M485.5 312.5v0.1M486.5 312.5v0.1M487.5 308.5v2.4M487.5 310.9v1.2M488.5 306.5v2.1M488.5 309.6v1.9M490.5 310.5v1.7M493.5 309.5v2.2M495.5 312.5v0.1M496.5 312.5v0.1M498.5 309.5v2M498.5 312.5v0.1M499.5 305.5v2M500.5 309.5v1.7M500.5 312.2v0.4M501.5 306.5v2.3M506.5 305.5v1.5M506.5 310v1.6M507.5 304.5v2.2M507.5 309.7v2.4M508.5 306.5v1.5M509.5 309.5v2.4M511.5 312.5v0.1M514.5 309.5v1.7M515.5 302.5v1.5M515.5 307v1.7M518.5 312.5v0.1M519.5 306.5v2M523.5 309.5v1.8M524.5 308.5v2.5" stroke="#00a0ff" stroke-width="1.0" fill="none"/>
<path d="M72.5 310v1.9M73.5 308v2.3M73.5 310.3v1.2M74.5 307v1.4M74.5 309.4v1.4M74.5 310.8v1.3M74.5 312.1v0.5M76.5 311v1.6M77.5 307v1.3M77.5 309.3v1.6M77.5 311.9v0.7M80.5 307v1.2M81.5 307v1.6M81.5 310.6v2M82.5 312v0.6M83.5 305v2.4M83.5 311.4v1.2M84.5 310v2.4M84.5 312.4v0.2M85.5 311v1.6M87.5 309v1.9M87.5 311.9v0.7M88.5 310v1.6M88.5 311.6v1M89.5 312v0.6M90.5 312v0.6M91.5 305v1.8M91.5 309.8v2.5M92.5 312v0.6M93.5 311v1.6M94.5 311v1.6M96.5 310v2.1M97.5 309v1.4M97.5 312.4v0.2M98.5 312v0.6M99.5 310v2M100.5 310v1.5M100.5 312.5v0.1M101.5 307v1.9M101.5 310.9v1.2M101.5 312.2v0.4M102.5 307v2.1M103.5 311v1.6M104.5 307v1.3M104.5 310.3v1.4M105.5 306v1.3M105.5 308.3v2.1M105.5 310.4v1.5M105.5 311.9v0.7M106.5 310v1.2M107.5 312v0.6M108.5 307v1.4M108.5 312.4v0.2M109.5 305v2.5M109.5 307.5v2M109.5 310.5v1.3M110.5 305v1.9M110.5 309.9v2.1M111.5 312v0.6M112.5 310v1.6M114.5 310v1.5M115.5 311v1.5M115.5 312.5v0.1M116.5 309v2.4M118.5 305v2.5M120.5 310v2.4M121.5 310v1.8M122.5 307v1.7M123.5 310v1.6M123.5 311.6v1M127.5 309v1.8M127.5 310.8v1.8M128.5 309v2.5M128.5 312.5v0.1M129.5 311v1.6M131.5 312v0.6M133.5 310v1.7M134.5 310v1.5M134.5 311.5v1.1M135.5 310v1.9M136.5 306v1.8M137.5 307v2.1M137.5 310.1v1.6M138.5 306v2.1M138.5 308.1v1.4M138.5 311.5v1.1M139.5 311v1.6M140.5 312v0.6M141.5 311v1.4M141.5 312.4v0.2M142.5 308v2.3M143.5 311v1.6M145.5 311v1.2M146.5 305v1.8M147.5 311v1.6M148.5 310v1.8M149.5 311v1.5M152.5 311v1.6M153.5 307v1.7M153.5 309.7v2.5M153.5 312.2v0.4M154.5 310v1.6M156.5 307v1.7M157.5 309v2.5M160.5 309v1.5M160.5 311.5v1.1M161.5 312v0.6M164.5 308v1.4M164.5 310.4v1.2M164.5 312.6v0M165.5 309v1.7M166.5 307v2.6M166.5 310.6v1.8M166.5 312.4v0.2M167.5 311v1.6M168.5 308v1.2M168.5 311.2v1.4M169.5 308v2.5M169.5 311.5v1.1M170.5 310v2.2M172.5 309v2.1M172.5 312.1v0.5M173.5 310v2.5M173.5 312.5v0.1M174.5 309v2M175.5 309v2M176.5 310v2.4M177.5 305v1.7M177.5 311.7v0.9M178.5 310v2M179.5 307v2.6M179.5 309.6v1.3M180.5 309v1.8M180.5 311.8v0.8M181.5 310v1.8M184.5 306v1.6M184.5 307.6v1.9M184.5 310.5v2.1M186.5 308v2M186.5 312v0.6M187.5 311v1.6M189.5 309v1.2M189.5 312.2v0.4M190.5 310v2.2M191.5 309v1.3M191.5 311.3v1.3M192.5 311v1.3M192.5 312.3v0.3M193.5 311v1.6M195.5 308v2M195.5 312v0.6M196.5 311v1.2M196.5 312.2v0.4M197.5 306v1.9M197.5 309.9v1.5M198.5 311v1.6M199.5 310v2.4M200.5 309v1.4M200.5 312.4v0.2M201.5 310v1.6M203.5 311v1.6M206.5 309v2.5M206.5 311.5v1.1M207.5 308v2.2M210.5 311v1.3M211.5 308v2.4M213.5 311v1.5M214.5 311v1.6M215.5 308v1.2M216.5 309v1.5M216.5 311.5v1.1M218.5 308v2.1M219.5 309v2.6M219.5 311.6v1M220.5 311v1.4M222.5 309v2.2M223.5 310v1.6M223.5 311.6v1M224.5 312v0.6M225.5 307v1.6M228.5 309v2M229.5 311v1.6M232.5 307v1.7M232.5 311.7v0.9M234.5 307v2.3M234.5 309.3v2.4M235.5 311v1.6M236.5 308v1.7M236.5 309.7v1.6M236.5 311.3v1.3M237.5 307v1.9M237.5 308.9v2.1M238.5 312v0.6M239.5 307v1.8M239.5 308.8v1.3M240.5 312v0.6M243.5 309v2.3M244.5 306v2.4M244.5 310.4v1.5M245.5 309v1.7M245.5 311.7v0.9M246.5 312v0.6M247.5 311v1.4M248.5 307v1.5M248.5 311.5v1.1M249.5 305v2.5M249.5 309.5v1.7M250.5 311v1.6M251.5 308v2.5M251.5 312.5v0.1M252.5 308v1.6M252.5 309.6v1.6M252.5 311.2v1.3M252.5 312.5v0.1M253.5 311v1.3M254.5 308v1.4M254.5 309.4v1.4M254.5 310.8v1.8M255.5 310v1.7M257.5 311v1.6M258.5 310v2.6M259.5 310v2.2M262.5 310v2.3M263.5 309v1.4M265.5 308v2.4M265.5 310.4v1.4M266.5 311v1.6M268.5 308v1.8M268.5 310.8v1.8M269.5 311v1.6M270.5 310v2.3M271.5 310v1.9M271.5 311.9v0.7M272.5 309v2.2M272.5 311.2v1.4M273.5 310v2.2M273.5 312.2v0.4M274.5 308v2.4M275.5 305v1.4M276.5 309v1.3M276.5 311.3v1.3M277.5 311v1.6M278.5 311v1.6M279.5 312v0.6M280.5 309v1.5M280.5 311.5v1.1M281.5 310v1.8M281.5 311.8v0.8M282.5 308v2M282.5 312v0.6M283.5 309v1.5M283.5 311.5v1.1M284.5 312v0.6M285.5 306v1.5M286.5 307v2.3M286.5 311.3v1.3M287.5 312v0.6M288.5 310v1.4M288.5 312.4v0.2M289.5 309v1.8M289.5 310.8v1.8M289.5 312.6v0M290.5 311v1.3M291.5 308v2.5M291.5 310.5v1.3M291.5 311.8v0.8M292.5 312v0.6M293.5 311v1.6M295.5 311v1.3M295.5 312.3v0.3M297.5 308v1.7M298.5 307v1.4M298.5 312.4v0.2M299.5 307v2.6M300.5 306v1.4M300.5 312.4v0.2M301.5 310v2.4M302.5 309v1.8M303.5 309v1.7M303.5 311.7v0.9M304.5 306v2.1M304.5 310.1v2.1M305.5 306v2.4M312.5 308v1.6M322.5 310v1.9M334.5 311v1.6M338.5 309v1.5M345.5 309v2.2M348.5 311v1.6M350.5 311v1.6M353.5 307v2.2M353.5 309.2v1.4M355.5 308v1.4M355.5 312.4v0.2M357.5 309v2.5M360.5 312v0.6M363.5 306v2M378.5 310v1.3M380.5 311v1.6M390.5 312v0.6M393.5 312v0.6M398.5 308v1.7M398.5 309.7v1.5M401.5 311v1.6M403.5 312v0.6M404.5 308v2.1M417.5 307v1.4M417.5 309.4v1.7M419.5 312v0.6M420.5 312v0.6M430.5 308v1.5M430.5 312.5v0.1M440.5 311v1.6M449.5 308v2.3M455.5 312v0.6M465.5 308v2.2M465.5 312.2v0.4M473.5 308v1.8M475.5 308v2.1M480.5 312v0.6M485.5 308v1.8M486.5 305v2M490.5 312v0.6M495.5 310v2M497.5 312v0.6M501.5 310v2.2M507.5 312v0.6M508.5 310v1.3M511.5 308v1.9M514.5 309v1.6" stroke="#0030ff" stroke-width="1.0" fill="none"/>
<path d="M78.5 309v1.5M83.5 309v1.5M86.5 310v1.4M92.5 310v1.9M93.5 311v1.6M95.5 311v1M99.5 308v1.1M100.5 308v1.4M119.5 312v0.6M126.5 307v1.6M136.5 307v1.2M139.5 312v0.6M140.5 308v1.5M149.5 311v1M151.5 310v1.5M154.5 312v0.6M157.5 307v1.6M162.5 309v1.9M162.5 311.9v0.7M177.5 310v1.8M180.5 307v1.4M188.5 309v1.7M189.5 309v1.6M196.5 308v1.3M197.5 311v1.6M202.5 308v1M206.5 308v1.3M209.5 311v1.5M221.5 307v1.5M221.5 310.5v1.2M226.5 311v1.2M229.5 311v1.6M230.5 307v1.9M233.5 308v1.1M235.5 312v0.6M237.5 309v1.2M247.5 308v1.9M249.5 311v1.5M257.5 311v1.4M258.5 309v1.7M258.5 311.7v0.9M265.5 310v1.9M266.5 308v1.2M268.5 312v0.6M272.5 308v1.5M280.5 309v1.1M294.5 307v1.6M299.5 308v1.8M301.5 312v0.6M361.5 307v2M483.5 311v1.4" stroke="#ff00ff" stroke-width="1.0" fill="none"/>
<path d="M162.5 247v0.5M170.5 245v1.3M177.5 246v1.2M202.5 245v1.4M217.5 246v1.5M218.5 246v1.3M219.5 245v1.5M223.5 246v1.1M237.5 246v1.3M251.5 246v1.5M295.5 247v0.5M297.5 246v1.2M299.5 246v1.5M306.5 245v1.1M311.5 247v0.5M312.5 246v1.1M313.5 247v0.5M317.5 246v1.3M317.5 247.3v0.2M325.5 245v1.5M325.5 246.5v1M326.5 245v1.2M340.5 247v0.5M342.5 246v1.1M345.5 245v1.5M350.5 245v1.5M351.5 247v0.5M357.5 247v0.5M363.5 246v1.5M367.5 247v0.5M368.5 245v1.1M370.5 245v1.6M373.5 245v1.1M376.5 245v1.2M377.5 247v0.5M383.5 246v1.3M386.5 247v0.5M389.5 245v1.4M389.5 247.4v0.1M393.5 247v0.5M399.5 245v1.5M401.5 245v1.4M401.5 247.4v0.1M404.5 246v1.3M405.5 247v0.5M408.5 246v1.1M408.5 247.1v0.4M416.5 247v0.5M417.5 246v1.1M417.5 247.1v0.4M419.5 246v1.3M423.5 245v1.1M425.5 247v0.5M429.5 247v0.5M438.5 245v1.5M441.5 247v0.5M444.5 247v0.5M459.5 245v1.5M460.5 245v1.6M464.5 245v1.2M465.5 247v0.5M467.5 246v1.3M467.5 247.3v0.2M469.5 246v1M471.5 245v1.1M471.5 246.1v1.3M473.5 247v0.5M474.5 245v1.5M477.5 247v0.5M480.5 247v0.5M483.5 245v1.5M483.5 246.5v1M484.5 245v1.2M489.5 246v1.5M496.5 246v1.5M502.5 245v1.1M503.5 247v0.5M505.5 246v1.5M506.5 246v1.5M509.5 245v1.4M510.5 247v0.5M516.5 245v1.6M518.5 245v1M522.5 245v1.3M522.5 247.3v0.2" stroke="#00e0ff" stroke-width="1.0" fill="none"/>
<g clip-path="url(#c1)" fill="none" stroke-linejoin="round">
<path transform="scale(.1)" d="M741 513l8 0 8-5 8-3 8-2 8 5 8-5 8-1 8 6 8 0 8 1 8-5 8 3 8 0 8-6 8 8 8-1 8 8 8-8 8-2 8 6 8-5 8 3 8-5 8 2 8 4 8-2 8-2 8-5 8 6 8-1 8 2 8-2 8 4 8-5 8 1 8 2 8-7 8 3 8 0 8 10 8-8 8 3 8 0 8-3 8-5 8 10 8-5 8 4 8-7 8 3 8 7 8 1 8-11 8 0 8 6 8 3 8-2 8 1 8-5 8 7 8 2 8-5 8-4 8 3 8 6 8-9 8 6 8-3 8 4 8 0 8 1 8 6 8-4 8 5 8-5 8 1 8 5 8-12 8 13 8 3 8-4 8 8 8-3 8-6 8 11 8-1 8 4 8 4 8 9 8-2 8 2 8 5 8-6 8 15 8-7 8 8 8-9 8-1 8 0 8 6 8-7 8-7 8-1 8-6 8 2 8-4 8 4 8-10 8 3 8-3 8-1 8 4 8-4 8 1 8 1 8-2 8-12 8 6 8-11 8 6 8 6 8-10 8-2 8 0 8-2 8-2 8-4 8 5 8-2 8-6 8 0 8 0 8 0 8-4 8 1 8-4 8-3 8 3 8 6 8 0 8-3 8-3 8 4 8 5 8-1 8-8 8 3 8-5 8 1 8 6 8-1 8 4 8 2 8-2 8 3 8-7 8-2 8 8 8 9 8-9 8-5 8 6 8 5 8-9 8 8 8-5 8 8 8-1 8-1 8 7 8-9 8-1 8 8 8-12 8 11 8-11 8-6 8 3 8-1 8-1 8-4 8 4 8-15 8 5 8 0 8 6 8-15 8 7 8-3 8 3 8 5 8 0 8 4 8-8 8 4 8 4 8 0 8-5 8 6 8-10 8 9 8-9 8-2 8-1 8 1 8 2 8-10 8 1 8 6 8-4 8-1 8 12 8-3 8 8 8-6 8-4 8 18 8 5 8 11 8 1 8 19 8 23 8 19 8 20 8 4 8 17 8 4 8 10 8 14 8 10 8-8 8-1 8-23 8-7 8-12 8-16 8 3 8 12 8 2 8 5 8-17 8-9 8-7 8-17 8-19 8-13 8-12 8-10 8-15 8-8 8-18 8-3 8-17 8-10 8-2 8-18 8-12 8-12 8-12 8 13 8 4 8 3 8 4 8 9 8 2 8 10 8 9 8 6 8 15 8 9 8 6 8-7 8 18 8-2 8-2 8 4 8 8 8 1 8-8 8-9 8-6 8-3 8-15 8-10 8-3 8-2 8-2 8 4 8-18 8 5 8-5 8-1 8 1 8-3 8-8 8 0 8-2 8 7 8 7 8-5 8 5 8 2 8 0 8 1 8-7 8-6 8-3 8 6 8-8 8-2 8 2 8-9 8 8 8-5 8-3 8 2 8 9 8-7 8 4 8 4 8-3 8-5 8-3 8-7 8-4 8 2 8-2 8-3 8 10 8-14 8 9 8 4 8 2 8-2 8 0 8 5 8-1 8 5 8-12 8 15 8-4 8 5 8-2 8-2 8-6 8 2 8-5 8 1 8-3 8-5 8 10 8-4 8-10 8 13 8-8 8 5 8 0 8 1 8 4 8 1 8-1 8 10 8 5 8 10 8-5 8 1 8 8 8 8 8-2 8 4 8 10 8 1 8 6 8 0 8 3 8-1 8-3 8-5 8 0 8-3 8-4 8-4 8-9 8-4 8 5 8-7 8-2 8-9 8 3 8 1 8 1 8 3 8-2 8 8 8 7 8-6 8 5 8-4 8 7 8 5 8-12 8 5 8 6 8-3 8-1 8-8 8 7 8 6 8 4 8-2 8-3 8 1 8-3 8 5 8 10 8-3 8-4 8 13 8-10 8 14 8-3 8 5 8 3 8 1 8 7 8-3 8 1 8 1 8-1 8 6 8 3 8-6 8-2 8 0 8-13 8-5 8-10 8 4 8 9 8-7 8-3 8 1 8-9 8 3 8-2 8-4 8 11 8 0 8-5 8 0 8-7 8 3 8 0 8 1 8-2 8-7 8-4 8-5 8-1 8 5 8 0 8-1 8 7 8-3 8-2 8 1 8 5 8-1 8 4 8 9 8-1 8 5 8 10 8-2 8 9 8-2 8 4 8-5 8-11 8 11 8-8 8-8 8 6 8-1 8-8 8 2 8 3 8 3 8-2 8-1 8-1 8-15 8 6 8 3 8-12 8 13 8 0 8-6 8 2 8-2 8 5 8 0 8 1 8-4 8 6 8-2 8 6 8-2 8-7 8 1 8 7 8-4 8 3 8-1 8-4 8-9 8 1 8 5 8-8 8 9 8-1 8 6 8-2 8 7 8-8 8 14 8 7 8-2 8 5 8 8 8 5 8 1 8 6 8-9 8 10 8-10 8 2 8 8 8-10 8-3 8 9 8-2 8 2 8 4 8 3 8 2 8-1 8 4 8-12 8 13 8-4 8 14 8-1 8 9 8 11 8-7 8-7 8 4 8-1 8 1 8-8" stroke="#8c8c8c" stroke-width="10"/>
<path d="M71.5 122.7H525.5" stroke="#303030" stroke-width="1.2" stroke-dasharray="5 2.5"/>
<path d="M71.5 124.1H525.5" stroke="#8484ff" stroke-width="1.2" stroke-dasharray="5 2.5"/>
<path transform="scale(.1)" d="M741 1273l8-11 8 3 8-1 8 2 8-9 8 3 8-2 8-2 8 1 8 0 8 0 8-2 8 4 8-4 8-10 8 14 8-6 8-2 8 3 8 0 8-2 8-3 8 3 8-7 8 10 8-10 8 3 8 0 8 0 8-2 8 2 8-15 8 11 8-1 8-2 8 7 8-10 8 2 8-7 8 7 8-7 8-1 8 14 8-7 8-3 8 0 8-7 8 1 8 5 8-10 8 8 8-8 8 6 8-5 8 9 8-3 8-6 8-6 8 3 8 2 8-4 8 4 8 2 8-5 8-2 8 4 8-5 8 4 8-5 8 6 8-8 8-3 8 3 8-4 8-1 8 2 8 2 8-11 8 7 8-2 8 0 8 2 8-8 8 6 8-4 8 1 8-2 8-2 8-1 8 2 8 6 8-5 8-1 8-2 8-5 8 4 8 5 8-13 8 7 8 0 8-3 8 2 8 1 8 3 8-4 8 1 8-5 8 1 8-3 8 0 8-3 8 4 8 2 8-6 8 1 8 1 8-3 8 3 8-3 8-5 8 0 8 6 8-1 8 1 8-3 8 1 8-6 8 11 8-8 8 7 8-7 8 2 8 3 8-1 8-1 8 6 8 0 8-1 8-2 8-1 8 1 8 1 8 2 8 4 8-3 8-2 8 2 8 7 8-3 8 0 8 1 8 2 8-1 8 4 8-1 8-12 8 10 8 11 8-16 8 4 8 3 8-5 8 4 8-10 8-1 8 3 8-3 8-2 8 5 8-2 8-4 8-4 8-1 8-4 8-5 8 2 8-3 8-4 8-1 8-9 8 0 8-4 8 1 8-9 8 0 8-8 8-13 8-8 8-1 8-9 8-5 8-9 8 0 8-8 8-4 8-5 8-8 8-9 8 3 8-5 8-4 8 2 8-10 8-14 8-25 8-18 8-21 8-22 8-32 8-15 8-28 8-5 8 11 8 5 8 8 8 4 8 4 8-20 8-16 8-28 8 17 8 19 8 11 8 1 8 13 8 6 8 4 8 16 8 28 8 33 8 25 8 19 8 46 8 55 8 47 8 46 8 51 8 58 8 51 8 57 8 61 8 36 8 23 8 25 8 9 8-9 8-24 8-8 8-14 8 18 8 19 8 10 8 15 8 7 8-10 8-45 8-53 8-6 8-11 8-16 8 8 8-17 8-8 8-11 8-5 8 8 8-14 8 6 8 0 8 6 8 11 8 3 8 6 8 4 8 2 8-3 8-4 8 2 8 4 8 18 8 11 8 6 8-49 8 9 8 0 8 6 8 2 8 13 8-61 8-146 8-43 8-11 8-9 8-17 8-9 8-5 8-8 8 1 8 12 8 6 8-18 8-6 8-16 8-4 8-13 8-9 8-14 8-4 8-16 8 4 8 6 8-7 8 9 8 12 8 17 8 26 8 19 8 15 8-6 8 3 8-3 8-9 8-29 8-24 8-26 8 21 8 2 8 21 8 11 8 3 8 2 8 7 8 0 8 12 8 10 8 5 8 9 8 2 8 4 8-15 8-8 8-6 8-3 8-16 8-9 8-14 8-1 8-16 8-14 8-12 8-7 8-21 8-17 8-23 8-3 8 5 8-2 8 0 8 2 8-4 8 4 8 15 8 13 8 12 8-8 8-2 8 1 8 4 8 13 8 13 8 6 8 11 8-1 8 0 8 5 8 13 8 28 8 14 8 19 8 2 8 16 8 12 8 9 8 1 8-12 8-10 8-9 8-5 8-6 8 3 8-4 8-2 8-2 8-5 8 6 8 11 8 2 8 10 8-5 8-13 8-5 8-10 8 2 8-5 8-1 8-7 8 4 8-4 8 2 8-4 8 2 8-2 8 7 8 8 8-7 8 0 8 1 8-4 8-8 8-2 8-5 8-2 8 10 8 0 8 12 8 6 8 5 8 11 8-4 8 1 8 11 8-6 8 12 8 0 8-4 8-9 8-18 8-5 8-18 8-2 8-24 8-7 8-14 8 20 8 17 8 5 8 9 8 9 8 10 8 10 8 3 8 1 8 16 8-4 8-3 8-15 8-8 8-10 8-3 8 4 8-7 8 6 8-1 8 4 8 4 8 3 8-8 8-2 8 3 8-6 8-3 8-3 8 0 8 4 8 2 8 0 8 6 8-2 8 5 8-1 8 5 8-3 8 0 8-2 8 9 8-3 8-1 8 2 8-6 8 4 8-4 8-7 8 3 8-5 8 5 8-10 8-4 8-1 8-11 8-12 8 0 8 4 8 16 8-2 8 8 8 0 8 11 8 12 8-5 8 0 8 7 8 1 8 3 8 12 8 1 8-1 8 0 8-10 8-4 8 9 8-2 8-2 8-2 8 3 8-1 8-2 8 0 8-3 8 2 8 10 8-3 8 11 8-2 8 1 8 7 8-3 8 2 8 0 8 1 8 3 8 5 8-5 8-5 8 1 8-4 8 10 8 1 8-2 8 0 8 1 8 0 8 2 8-2 8-4 8 8 8 2 8-11 8 6 8-3 8 6 8-2" stroke="#5a5aff" stroke-width="10"/>
<path transform="scale(.1)" d="M741 1264l10 0 10-1 10 0 10-1 10-1 10 0 10-1 10-1 10-1 10-1 10 0 10-1 10-1 10-1 10 0 10-1 10-1 10-1 10-1 10 0 10-1 10-1 10-1 10 0 10-1 10-1 10-1 10-1 10-1 10 0 10-1 10-1 10-1 10-1 10-1 10-1 10 0 10-1 10-1 10-1 10-1 10-1 10-1 10-1 10 0 10-1 10-1 10-1 10-1 10-1 10-1 10-1 10-1 10-1 10-1 10-1 10-1 10-1 10-1 10-1 10-1 10-1 10-1 10-1 10-1 10-1 10-1 10-1 10-1 10-1 10-1 10-1 10-1 10-1 10 0 10-1 10-1 10-1 10 0 10-1 10 0 10-1 10-1 10 0 10-1 10 0 10-1 10 0 10-1 10-1 10 0 10-1 10 0 10-1 10 0 10-1 10 0 10-1 10 0 10 0 10 0 10 1 10 0 10 1 10 0 10 1 10 0 10 1 10 0 10 1 10 0 10 1 10 0 10 1 10 0 10 1 10 0 10 1 10 0 10 1 10 0 10 1 10 0 10 0 10 0 10 0 10-1 10-1 10-1 10-1 10-1 10-2 10-1 10-2 10-2 10-3 10-2 10-3 10-4 10-4 10-3 10-4 10-4 10-4 10-6 10-5 10-7 10-7 10-8 10-8 10-9 10-8 10-8 10-9 10-8 10-9 10-9 10-8 10-9 10-8 10-8 10-7 10-6 10-6 10-5 10-4 10-2 10-2 10 0 10 1 10 4 10 6 10 7 10 8 10 9 10 11 10 11 10 12 10 13 10 13 10 14 10 14 10 15 10 15 10 15 10 15 10 15 10 15 10 15 10 15 10 15 10 14 10 15 10 14 10 14 10 14 10 14 10 15 10 14 10 15 10 16 10 15 10 16 10 14 10 13 10 11 10 10 10 7 10 6 10 3 10 2 10 1 10-1 10-2 10-4 10-4 10-5 10-7 10-8 10-9 10-10 10-11 10-16 10-16 10-14 10-14 10-13 10-12 10-11 10-6 10-8 10-7 10-8 10-9 10-8 10-10 10-9 10-9 10-8 10-9 10-8 10-8 10-8 10-7 10-7 10-7 10-7 10-7 10-6 10-5 10-5 10-4 10-3 10-3 10-1 10-2 10-2 10-2 10-2 10-1 10-2 10-2 10-2 10-2 10-1 10-2 10-2 10-2 10-2 10-2 10-1 10-2 10-2 10-2 10-2 10-2 10-2 10-2 10-1 10-1 10-1 10-1 10 0 10 0 10 1 10 0 10 1 10 0 10 1 10 0 10 1 10 1 10 1 10 1 10 2 10 2 10 2 10 2 10 2 10 2 10 2 10 3 10 2 10 3 10 3 10 3 10 3 10 3 10 3 10 3 10 4 10 3 10 3 10 2 10 2 10 2 10 1 10 0 10 0 10 0 10-1 10 0 10-1 10 0 10-1 10 0 10-1 10 0 10-1 10 0 10-1 10 0 10-1 10 0 10 0 10-1 10 0 10 0 10 0 10-1 10 0 10 0 10 0 10-1 10 0 10 0 10 0 10-1 10 0 10 0 10 0 10 0 10-1 10 0 10 0 10 0 10 0 10 0 10 0 10 0 10 0 10 0 10 0 10 0 10 0 10 0 10 0 10 0 10 0 10 0 10 0 10 0 10 0 10-1 10 0 10 0 10-1 10 0 10-1 10 0 10-1 10 0 10-1 10 0 10 0 10 0 10 0 10 1 10 0 10 1 10 1 10 1 10 0 10 1 10 1 10 1 10 0 10 1 10 1 10 1 10 1 10 1 10 1 10 1 10 1 10 1 10 1 10 2 10 1 10 1 10 1 10 1 10 1 10 2 10 1 10 1 10 1 10 2 10 1 10 1 10 1 10 2 10 1 10 1 10 1 10 1 10 0 10 1 10 0 10 0 10 1 10 0 10 0 10 0 10 1 10 0 10 0 10 0 10 1 10 0 10 1 10 0 10 1 10 0 10 1 10 0 10 0 10 0" stroke="#0000f0" stroke-width="27" stroke-linecap="round"/>
</g>
<path d="M236.9 33.6V168.3" stroke="#35c035" stroke-width="1.9" stroke-dasharray="8.2 4.1" stroke-dashoffset="8.2" fill="none"/>
<path d="M290.7 33.6V168.3" stroke="#35c035" stroke-width="1.9" stroke-dasharray="8.2 4.1" stroke-dashoffset="8.2" fill="none"/>
<path d="M242.2 33.6V168.3" stroke="#a4a4a4" stroke-width="2.9" stroke-dasharray="8.2 4.1" stroke-dashoffset="8.2" fill="none"/>
<path d="M285.7 33.6V168.3" stroke="#a4a4a4" stroke-width="2.9" stroke-dasharray="8.2 4.1" stroke-dashoffset="8.2" fill="none"/>
<path d="M250.2 33.6V168.3" stroke="#ff1010" stroke-width="1.4" stroke-dasharray="8.2 4.1" stroke-dashoffset="8.2" fill="none"/>
<path d="M277.3 33.6V168.3" stroke="#ff1010" stroke-width="1.4" stroke-dasharray="8.2 4.1" stroke-dashoffset="8.2" fill="none"/>
<path d="M264.4 33.6V168.3" stroke="#ff4040" stroke-width="0.9" stroke-dasharray="3 2" fill="none"/>
<path d="M305.3 33.6V168.3" stroke="#ff00ff" stroke-width="1.2" stroke-dasharray="2 3" fill="none"/>
<g clip-path="url(#c2)" fill="none" stroke-linejoin="round">
<path d="M71.5 222.2H525.5" stroke="#202020" stroke-width="1.0" stroke-dasharray="5 2.5"/>
<path transform="scale(.1)" d="M741 1858l10 2 10-4 10 4 10-3 10 0 10 5 10-4 10 0 10 2 10 1 10-3 10 2 10-3 10 1 10 0 10-2 10 0 10 0 10 2 10 1 10-1 10 1 10-3 10 3 10 1 10 1 10-3 10 1 10-2 10 3 10-3 10 2 10 5 10-6 10 7 10-1 10-1 10 2 10 1 10 1 10-2 10 0 10 0 10-1 10 3 10-2 10 5 10-6 10 2 10 0 10-2 10 9 10-9 10 5 10 0 10 4 10-7 10 7 10-3 10 2 10 0 10 4 10-3 10 4 10 2 10 4 10-8 10 9 10 0 10-1 10 3 10 0 10 6 10-1 10 0 10 2 10 0 10-1 10-3 10 4 10-9 10-5 10 5 10-2 10 0 10-2 10-2 10 0 10 0 10-5 10-1 10 3 10-4 10-4 10 5 10-5 10-4 10-2 10 1 10-4 10-2 10-1 10 0 10 1 10-4 10-4 10 3 10-1 10 1 10 1 10-2 10 0 10 1 10-2 10 3 10 2 10-2 10-1 10 0 10 0 10 0 10 1 10-1 10 2 10-2 10 4 10 0 10-1 10-2 10 5 10 3 10-3 10 1 10 0 10 3 10-3 10 5 10-3 10 1 10-3 10-2 10-4 10 0 10 0 10 0 10-2 10-3 10 1 10 0 10-2 10 0 10 1 10 3 10 0 10-3 10 3 10-1 10 0 10 4 10-1 10-3 10 1 10 1 10-3 10 7 10 8 10 1 10 10 10 7 10 1 10-1 10 5 10 0 10 5 10 5 10 19 10 19 10 11 10 11 10 5 10 11 10 0 10-8 10 0 10-11 10-5 10-24 10-15 10-9 10-10 10 9 10 12 10 7 10 13 10-8 10-5 10-4 10-8 10-7 10-14 10-11 10-11 10-13 10-16 10-24 10-6 10-4 10 5 10-1 10 14 10 6 10 9 10 6 10 3 10 5 10 1 10 4 10-6 10-2 10-2 10 4 10-6 10 6 10 0 10 3 10-9 10-10 10-5 10-6 10-7 10-12 10-2 10-2 10-4 10-2 10 3 10 1 10 2 10 5 10-2 10 6 10 1 10 1 10 0 10-2 10-2 10-1 10 2 10-6 10 1 10-2 10-3 10 1 10-5 10 3 10-5 10-1 10 0 10 0 10-1 10-1 10-1 10 0 10 4 10 1 10-1 10 5 10 0 10-1 10 3 10-4 10 0 10 2 10-4 10 2 10-3 10 3 10-3 10 1 10-4 10 2 10 5 10 2 10-3 10 8 10 2 10 0 10 5 10-3 10 4 10 4 10 2 10 2 10-2 10 1 10 6 10-1 10 5 10 0 10 8 10-5 10-4 10-5 10-3 10-5 10-2 10 0 10 0 10-3 10 4 10-3 10 1 10 1 10-2 10 1 10 9 10-1 10 3 10 2 10 2 10-2 10 3 10 0 10 1 10-4 10 7 10 0 10-4 10 3 10 2 10 2 10-1 10 4 10-2 10-1 10 2 10 3 10-1 10 4 10 1 10 0 10 2 10-1 10 1 10-4 10-2 10-5 10 0 10-4 10-1 10 2 10 1 10-2 10 3 10-1 10 0 10-4 10-2 10 4 10-2 10-1 10-2 10 0 10-5 10 0 10-4 10-5 10 4 10 5 10-6 10 7 10-3 10 3 10 3 10 3 10 0 10 4 10 3 10 4 10-1 10 6 10 1 10 1 10-8 10 3 10-4 10 5 10 0 10-3 10-1 10 5 10 1 10-2 10 1 10-3 10 4 10 2 10 0 10 3 10-6 10-3 10 5 10-3 10 2 10 0 10 0 10 1 10-1 10-6 10 2 10 3 10-6 10 2 10-3 10-2 10 4 10 1 10-1 10 4 10-3 10 3 10 5 10-1 10-3 10 2 10-1 10 1 10-1 10-3 10 1 10 2 10 1 10 5 10 2 10 1 10 0 10 0 10 5 10 1 10 4 10-1 10 5 10 7 10-2 10-1 10 2 10 3 10-1" stroke="#ff4d4d" stroke-width="10"/>
<path transform="scale(.1)" d="M741 2316l10 0 10-2 10 2 10 1 10-1 10 2 10-5 10 2 10-2 10 0 10 1 10 0 10 1 10 0 10 3 10-3 10-5 10 4 10-2 10 0 10 3 10-3 10-3 10 4 10-1 10-2 10 1 10 1 10 1 10 0 10 1 10 4 10-5 10 1 10 1 10 3 10-3 10 5 10-5 10 1 10 2 10-1 10 1 10 4 10 3 10 0 10 1 10 5 10 0 10 0 10 4 10-2 10 3 10 2 10-1 10-1 10 2 10-1 10 1 10-1 10 5 10-3 10 5 10 1 10 1 10 5 10 1 10 3 10-1 10 2 10 0 10-3 10-1 10-1 10-3 10 1 10-8 10 2 10-5 10 6 10-3 10 3 10-5 10-4 10 6 10-6 10-1 10 1 10 1 10-3 10 1 10-5 10 6 10-6 10-1 10-1 10-2 10-2 10-4 10 0 10-1 10 0 10-4 10-2 10 1 10 0 10-1 10-1 10-1 10 3 10-2 10 0 10 7 10-4 10 0 10 0 10-2 10 5 10-1 10 1 10 3 10 1 10-2 10-1 10 3 10-3 10-4 10 3 10-2 10-1 10 0 10-1 10 5 10-1 10 2 10 5 10-1 10 5 10 1 10 1 10-4 10 1 10-4 10 1 10 0 10 0 10 1 10-2 10-8 10 0 10 2 10-3 10-8 10 0 10-8 10-4 10-5 10-3 10 1 10-11 10-7 10-2 10-13 10-6 10-8 10-7 10-10 10-5 10-11 10-4 10-5 10-8 10-5 10-3 10-8 10 0 10-4 10-4 10-4 10 5 10 3 10 6 10-1 10 13 10 4 10 11 10 6 10 9 10 8 10 13 10 4 10 9 10 13 10 10 10 10 10 3 10 0 10 2 10-5 10 2 10-2 10-5 10-6 10-11 10-42 10-28 10-16 10-16 10-13 10-3 10-7 10-2 10-2 10-5 10 8 10 11 10 9 10 12 10 9 10 10 10 16 10 7 10 7 10 10 10 7 10 13 10 15 10-4 10 7 10 24 10 26 10-43 10-23 10-1 10 3 10 4 10 12 10 10 10 6 10 2 10 7 10-2 10 4 10-4 10-2 10-3 10 2 10-11 10-1 10-6 10-9 10-7 10-4 10 1 10 5 10-8 10 10 10 2 10 10 10 1 10-3 10 2 10 1 10 0 10-2 10 1 10 0 10 0 10-2 10-3 10-4 10 1 10-5 10 0 10 4 10 3 10 3 10-1 10 9 10 2 10 4 10-1 10 2 10-5 10-5 10 0 10-9 10-3 10-10 10-2 10-7 10-8 10 3 10 7 10 12 10 11 10-2 10 11 10 3 10 0 10 2 10 1 10 2 10 3 10 7 10-5 10 6 10 2 10-3 10 2 10 3 10-2 10 4 10 2 10-4 10 1 10 13 10 9 10 8 10 3 10 1 10 2 10 1 10-2 10-2 10-1 10 3 10-9 10-4 10 2 10-7 10-2 10-11 10-7 10-7 10-4 10-7 10-2 10 5 10 0 10-3 10 4 10 3 10 1 10 10 10 0 10 5 10-1 10-2 10 2 10-4 10-2 10-1 10-2 10 2 10 1 10 3 10 7 10-1 10-2 10 7 10-6 10-3 10 0 10-2 10 5 10-5 10 2 10 7 10 5 10 3 10 7 10 1 10-1 10-5 10 1 10-3 10 1 10 1 10 2 10 8 10 3 10 1 10 5 10 8 10 7 10 2 10 9 10 1 10 4 10-1 10 0 10-6 10 2 10 0 10-7 10 2 10-1 10 0 10-2 10-4 10 6 10-5 10 1 10 7 10 1 10-2 10 6 10 1 10-2 10-5 10-3 10-3 10 1 10-2 10-3 10-4 10-1 10-8 10-3 10 2 10-9 10-4 10 0 10-9 10 4 10-9 10-3 10-4 10-3 10-2 10 0 10-1 10 6 10 2 10-1 10 6 10-2 10-2 10-1 10-2 10-2 10 2 10 15 10 10 10 13 10 0 10 4" stroke="#40f040" stroke-width="10"/>
<path transform="scale(.1)" d="M741 2243l10 0 10 3 10-6 10 4 10-5 10 6 10-2 10 2 10-4 10 1 10-1 10-2 10 2 10-3 10 1 10 2 10-2 10-1 10 5 10-5 10-2 10 1 10-1 10 0 10-1 10 5 10-5 10 0 10 0 10 3 10-5 10-2 10 6 10-8 10 1 10 2 10 3 10-7 10-4 10 6 10-3 10 0 10 1 10-2 10 0 10-3 10 3 10-1 10-4 10-1 10 1 10-1 10-4 10 0 10 2 10-3 10-2 10 1 10-2 10 0 10-4 10 7 10-4 10-2 10 3 10-1 10-1 10 2 10 2 10-4 10 2 10 1 10-7 10 1 10 2 10-5 10 2 10 3 10-1 10-2 10-5 10 8 10-4 10 0 10-1 10-5 10 0 10 0 10 5 10-6 10 1 10 0 10 1 10 0 10-1 10-3 10-4 10 6 10 0 10 2 10-3 10-1 10 1 10-4 10 1 10 0 10 2 10 5 10-2 10 2 10-1 10 2 10-1 10 2 10-3 10 3 10 1 10 6 10 1 10 2 10 2 10-2 10 4 10 3 10-3 10 4 10-1 10-3 10 2 10-4 10 1 10-3 10 1 10-7 10 8 10-3 10-5 10-4 10-1 10-2 10-4 10-4 10-8 10-2 10 2 10-6 10-7 10-3 10-5 10-3 10 0 10-7 10 0 10-3 10-5 10 0 10 4 10-8 10-3 10 1 10-6 10-4 10-7 10-20 10-8 10-16 10-13 10-12 10-8 10-12 10-1 10 4 10 9 10 1 10-16 10-4 10-3 10 3 10 7 10 11 10 10 10 7 10 6 10 22 10 22 10 27 10 27 10 34 10 29 10 34 10 31 10 32 10 32 10 32 10 11 10 15 10-4 10-18 10-9 10 6 10 9 10 8 10 15 10-7 10-35 10-24 10-4 10-5 10-3 10-5 10-4 10-4 10 3 10-2 10 1 10 6 10 10 10 4 10 4 10-6 10-2 10-5 10 5 10 4 10 9 10-10 10-10 10 1 10 5 10-2 10 4 10-121 10-12 10-3 10-7 10-3 10-2 10-7 10-5 10 2 10-12 10-5 10-4 10-3 10-5 10-2 10-5 10-4 10 2 10-1 10 3 10 14 10 15 10 11 10 5 10 0 10-6 10-8 10-18 10-12 10 7 10 10 10 5 10 5 10 8 10 6 10 3 10 4 10 6 10 4 10 1 10-13 10-8 10-10 10-10 10 3 10-7 10-5 10 2 10-14 10-13 10-10 10-10 10-4 10-1 10-2 10 0 10 0 10 4 10 10 10 7 10 5 10-5 10-4 10 7 10 7 10 11 10-1 10 3 10-1 10 8 10 14 10 9 10 4 10 15 10 10 10 0 10 0 10-8 10-8 10-1 10-2 10-2 10-1 10 4 10-1 10 5 10 2 10 1 10-6 10-3 10-8 10-5 10-3 10-2 10 1 10 3 10-3 10-2 10 0 10 5 10 0 10 1 10-2 10-3 10-5 10-4 10 3 10 9 10 3 10 2 10 12 10 1 10 8 10-6 10 2 10 1 10 3 10-8 10-10 10-10 10-5 10-9 10-9 10 10 10 3 10 7 10 3 10 7 10 5 10 6 10 8 10-1 10-6 10-6 10-9 10-4 10 1 10-1 10 1 10 3 10-1 10 0 10 1 10-5 10 1 10-4 10 0 10 3 10-6 10 6 10-1 10 3 10 2 10 4 10-1 10 4 10-4 10 2 10 1 10 3 10-2 10-2 10-2 10-4 10 3 10-4 10-4 10-6 10-6 10-2 10 8 10 3 10 5 10 10 10 2 10 0 10 3 10 1 10 5 10-2 10 4 10 1 10 1 10-4 10 0 10-2 10-1 10 0 10 0 10 1 10-4 10 2 10 3 10 4 10 3 10-1 10 5 10 0 10 4 10-4 10 0 10 1 10 1 10-2 10 3 10 0 10-1 10 1 10 1 10-3 10 2 10 1 10-4 10 5 10-2 10 0 10 1" stroke="#4d4dff" stroke-width="10"/>
</g>
<path d="M236.8 176.3V244.5" stroke="#10a010" stroke-width="2.6" stroke-dasharray="8.2 4.1" fill="none"/>
<path d="M290.6 176.3V244.5" stroke="#30b830" stroke-width="1.5" stroke-dasharray="8.2 4.1" fill="none"/>
<path d="M248.5 176.3V244.5" stroke="#1a1aff" stroke-width="1.3" stroke-dasharray="2 3" fill="none"/>
<path d="M250.3 176.3V244.5" stroke="#ff1010" stroke-width="1.4" stroke-dasharray="8.2 4.1" fill="none"/>
<path d="M277.2 176.3V244.5" stroke="#ff1010" stroke-width="1.4" stroke-dasharray="8.2 4.1" fill="none"/>
<path d="M278.4 176.3V244.5" stroke="#ff00ff" stroke-width="1.2" stroke-dasharray="2 3" fill="none"/>
<path d="M305.3 176.3V244.5" stroke="#ff00ff" stroke-width="1.2" stroke-dasharray="2 3" fill="none"/>
<path d="M236.8 313V381.3" stroke="#3cc43c" stroke-width="1.9" stroke-dasharray="8.2 4.1" fill="none"/>
<path d="M290.6 313V381.3" stroke="#30b830" stroke-width="1.5" stroke-dasharray="8.2 4.1" fill="none"/>
<path d="M248.5 313V381.3" stroke="#1a1aff" stroke-width="1.3" stroke-dasharray="2 3" fill="none"/>
<path d="M250.3 313V381.3" stroke="#ff1010" stroke-width="1.4" stroke-dasharray="8.2 4.1" fill="none"/>
<path d="M277.2 313V381.3" stroke="#ff1010" stroke-width="1.4" stroke-dasharray="8.2 4.1" fill="none"/>
<path d="M278.4 313V381.3" stroke="#ff00ff" stroke-width="1.2" stroke-dasharray="2 3" fill="none"/>
<path d="M305.3 313V381.3" stroke="#ff00ff" stroke-width="1.2" stroke-dasharray="2 3" fill="none"/>
<path d="M236.8 381.3V450.4" stroke="#3cc43c" stroke-width="1.9" stroke-dasharray="8.2 4.1" fill="none"/>
<path d="M290.6 381.3V450.4" stroke="#30b830" stroke-width="1.5" stroke-dasharray="8.2 4.1" fill="none"/>
<path d="M248.5 381.3V450.4" stroke="#1a1aff" stroke-width="1.3" stroke-dasharray="2 3" fill="none"/>
<path d="M250.3 381.3V450.4" stroke="#ff1010" stroke-width="1.4" stroke-dasharray="8.2 4.1" fill="none"/>
<path d="M277.2 381.3V450.4" stroke="#ff1010" stroke-width="1.4" stroke-dasharray="8.2 4.1" fill="none"/>
<path d="M278.4 381.3V450.4" stroke="#ff00ff" stroke-width="1.2" stroke-dasharray="2 3" fill="none"/>
<path d="M305.3 381.3V450.4" stroke="#ff00ff" stroke-width="1.2" stroke-dasharray="2 3" fill="none"/>
<path d="M236.8 450.4V517.8" stroke="#3cc43c" stroke-width="1.9" stroke-dasharray="8.2 4.1" fill="none"/>
<path d="M290.6 450.4V517.8" stroke="#30b830" stroke-width="1.5" stroke-dasharray="8.2 4.1" fill="none"/>
<path d="M248.5 450.4V517.8" stroke="#1a1aff" stroke-width="1.3" stroke-dasharray="2 3" fill="none"/>
<path d="M250.3 450.4V517.8" stroke="#ff1010" stroke-width="1.4" stroke-dasharray="8.2 4.1" fill="none"/>
<path d="M277.2 450.4V517.8" stroke="#ff1010" stroke-width="1.4" stroke-dasharray="8.2 4.1" fill="none"/>
<path d="M278.4 450.4V517.8" stroke="#ff00ff" stroke-width="1.2" stroke-dasharray="2 3" fill="none"/>
<path d="M305.3 450.4V517.8" stroke="#ff00ff" stroke-width="1.2" stroke-dasharray="2 3" fill="none"/>
<path d="M236.8 517.8V586.5" stroke="#3cc43c" stroke-width="1.9" stroke-dasharray="8.2 4.1" fill="none"/>
<path d="M290.6 517.8V586.5" stroke="#30b830" stroke-width="1.5" stroke-dasharray="8.2 4.1" fill="none"/>
<path d="M248.5 517.8V586.5" stroke="#1a1aff" stroke-width="1.3" stroke-dasharray="2 3" fill="none"/>
<path d="M250.3 517.8V586.5" stroke="#ff1010" stroke-width="1.4" stroke-dasharray="8.2 4.1" fill="none"/>
<path d="M277.2 517.8V586.5" stroke="#ff1010" stroke-width="1.4" stroke-dasharray="8.2 4.1" fill="none"/>
<path d="M278.4 517.8V586.5" stroke="#ff00ff" stroke-width="1.2" stroke-dasharray="2 3" fill="none"/>
<path d="M305.3 517.8V586.5" stroke="#ff00ff" stroke-width="1.2" stroke-dasharray="2 3" fill="none"/>
<path d="M236.8 586.5V655" stroke="#3cc43c" stroke-width="1.9" stroke-dasharray="8.2 4.1" fill="none"/>
<path d="M290.6 586.5V655" stroke="#30b830" stroke-width="1.5" stroke-dasharray="8.2 4.1" fill="none"/>
<path d="M248.5 586.5V655" stroke="#1a1aff" stroke-width="1.3" stroke-dasharray="2 3" fill="none"/>
<path d="M250.3 586.5V655" stroke="#ff1010" stroke-width="1.4" stroke-dasharray="8.2 4.1" fill="none"/>
<path d="M277.2 586.5V655" stroke="#ff1010" stroke-width="1.4" stroke-dasharray="8.2 4.1" fill="none"/>
<path d="M278.4 586.5V655" stroke="#ff00ff" stroke-width="1.2" stroke-dasharray="2 3" fill="none"/>
<path d="M305.3 586.5V655" stroke="#ff00ff" stroke-width="1.2" stroke-dasharray="2 3" fill="none"/>
<path d="M236.8 655V723.3" stroke="#3cc43c" stroke-width="1.9" stroke-dasharray="8.2 4.1" fill="none"/>
<path d="M290.6 655V723.3" stroke="#30b830" stroke-width="1.5" stroke-dasharray="8.2 4.1" fill="none"/>
<path d="M248.5 655V723.3" stroke="#1a1aff" stroke-width="1.3" stroke-dasharray="2 3" fill="none"/>
<path d="M250.3 655V723.3" stroke="#ff1010" stroke-width="1.4" stroke-dasharray="8.2 4.1" fill="none"/>
<path d="M277.2 655V723.3" stroke="#ff1010" stroke-width="1.4" stroke-dasharray="8.2 4.1" fill="none"/>
<path d="M278.4 655V723.3" stroke="#ff00ff" stroke-width="1.2" stroke-dasharray="2 3" fill="none"/>
<path d="M305.3 655V723.3" stroke="#ff00ff" stroke-width="1.2" stroke-dasharray="2 3" fill="none"/>
<path d="M289.5 313V381.3" stroke="#30b8ff" stroke-width="1.2" stroke-dasharray="2 3" fill="none"/>
<g clip-path="url(#c3)" fill="none" stroke-linejoin="round">
<path transform="scale(.1)" d="M741 3759l8-11 8 5 8 3 8 6 8-7 8-8 8 9 8-7 8 10 8-7 8 9 8-9 8-4 8-2 8 4 8 3 8 2 8-5 8-6 8 5 8-10 8 7 8-6 8 8 8-3 8-4 8-8 8 6 8-2 8-5 8-2 8 8 8-9 8 2 8 3 8-14 8 13 8-5 8-9 8-2 8-2 8 9 8-16 8 16 8-4 8-4 8 1 8 0 8 1 8 5 8-8 8 9 8-1 8-7 8 3 8-6 8 2 8 1 8 6 8-10 8-2 8 0 8-2 8-5 8 13 8-13 8-1 8-2 8 5 8 9 8-1 8-10 8-5 8-3 8-5 8 6 8-5 8 9 8-12 8-4 8-4 8-1 8 10 8-1 8-8 8-2 8 7 8-3 8 2 8-2 8-4 8-5 8 7 8-1 8 1 8 5 8 2 8-5 8 7 8-10 8 14 8-6 8 2 8-2 8-12 8 1 8 3 8-10 8 0 8-4 8 4 8-3 8-6 8-5 8-5 8 13 8-7 8-1 8 5 8 2 8 12 8 3 8-9 8 15 8 5 8 3 8 7 8 12 8-1 8 9 8 4 8-6 8 19 8-3 8 2 8 9 8 10 8-10 8 5 8 9 8-7 8 4 8 7 8 5 8 1 8 2 8 3 8-5 8 1 8 1 8-1 8 7 8-1 8-14 8 12 8-8 8 0 8 11 8 0 8-1 8-2 8 5 8-14 8 7 8-10 8-3 8-8 8 11 8-3 8-7 8-10 8-1 8-13 8-3 8 1 8-7 8-11 8-7 8-11 8-4 8-13 8-7 8-15 8-3 8-15 8-8 8-12 8-2 8-12 8-17 8-10 8-2 8-11 8-11 8-6 8-3 8-17 8-1 8-17 8-8 8-6 8-10 8-10 8-12 8-7 8-10 8-7 8-5 8-13 8-6 8-14 8-17 8-19 8-20 8-19 8-23 8-8 8-15 8-5 8-8 8-13 8 3 8 9 8 4 8 12 8 3 8 2 8 27 8 23 8 12 8 27 8 9 8 45 8 9 8 28 8 29 8 25 8 28 8-38 8-34 8-26 8-2 8-14 8-22 8-10 8-2 8-13 8-5 8-6 8-2 8-2 8 2 8-7 8-14 8-17 8-19 8-8 8-19 8-16 8-28 8-30 8 0 8-9 8-15 8-6 8-3 8-3 8 5 8-13 8 6 8 8 8 15 8 11 8 13 8 20 8 19 8 5 8 22 8 9 8 12 8 13 8 16 8 13 8 26 8-4 8 1 8-1 8 15 8 2 8 6 8 1 8 12 8 3 8 7 8-4 8 0 8-9 8-1 8-5 8-1 8 4 8 3 8 4 8 5 8 1 8 2 8 5 8 11 8 7 8 8 8 13 8-9 8 15 8-16 8-23 8-28 8-18 8-4 8-8 8-12 8 16 8 11 8 5 8 27 8-4 8 6 8 8 8 2 8 8 8 13 8-2 8-1 8-10 8-6 8 5 8-5 8-8 8 6 8-16 8 4 8-9 8 0 8 1 8-4 8 17 8-2 8 5 8 4 8 7 8-1 8 7 8 13 8 4 8 5 8 0 8 0 8-17 8-12 8 4 8-12 8 1 8-8 8 1 8 5 8-12 8-10 8-1 8-2 8-3 8 7 8-3 8 3 8-2 8-6 8-4 8-2 8 0 8-5 8-6 8 15 8-8 8-13 8-5 8-5 8 5 8 2 8-4 8 16 8 8 8-1 8 8 8 14 8 3 8 18 8 7 8-3 8 22 8 3 8 16 8 21 8-7 8 6 8-4 8 12 8-8 8 15 8-10 8-5 8 0 8-3 8 7 8-14 8 8 8 1 8-4 8-11 8 12 8-1 8 2 8-9 8 6 8 5 8-4 8 1 8-2 8 2 8 1 8 13 8-11 8 1 8 0 8 8 8 2 8-1 8-4 8 19 8-8 8-1 8 6 8-4 8 4 8-6 8 8 8-8 8 16 8-6 8-3 8-1 8-9 8 5 8-2 8 2 8-10 8-1 8 0 8 0 8-3 8-1 8 1 8-5 8-2 8-3 8-7 8 9 8-6 8 3 8 0 8 18 8 2 8-2 8 8 8 7 8 10 8-4 8 8 8-3 8 7 8 5 8 2 8-1 8 11 8-4 8 3 8 6 8 10 8 1 8-3 8-2 8 0 8 8 8 5 8 1 8-3 8-3 8 7 8 5 8-6 8 2 8-4 8-1 8 7 8-10 8 8 8-9 8 1 8 6 8 1 8-4 8 5 8 2 8 2 8 2 8 6 8-7 8 11 8 2 8-8 8 7 8-2 8-1 8 9 8 4 8-1 8 7 8 2 8-6 8 11 8 8 8 0 8-15 8-3 8 6 8-5 8-1 8-4 8 5 8-1 8-5 8 1 8-1 8 3 8-2 8-2 8-2 8-6 8-6 8 3 8-10 8-7 8 2 8 3 8-3 8 0 8 2 8 1 8-7 8-5 8-1 8-1 8-14 8-1" stroke="#3a3a3a" stroke-width="10"/>
</g>
<g clip-path="url(#c4)" fill="none" stroke-linejoin="round">
<path transform="scale(.1)" d="M741 4157l10 3 10-1 10 1 10-1 10 3 10 5 10-1 10 2 10-1 10 1 10 1 10-5 10 8 10 0 10 0 10-6 10 0 10 3 10 1 10 3 10 0 10 2 10-4 10 4 10 0 10-3 10 7 10-4 10 1 10-6 10-1 10 0 10 0 10 2 10-2 10-3 10-2 10 0 10 5 10-7 10 3 10-1 10-6 10 4 10 3 10-10 10 4 10 0 10-3 10 4 10-3 10-4 10 6 10-1 10 0 10 1 10-4 10-1 10-5 10 6 10-3 10 0 10-2 10 1 10 2 10 6 10-10 10 2 10 5 10 4 10-2 10-7 10-2 10 9 10-3 10 0 10 6 10 1 10-2 10 1 10 1 10 4 10-3 10 0 10 1 10-6 10 9 10 0 10-1 10-7 10 5 10 4 10-8 10 4 10 3 10-8 10 8 10-4 10-3 10 1 10 0 10-2 10 2 10-6 10 0 10 3 10-3 10-4 10 5 10 2 10-6 10-2 10 4 10 0 10 0 10 6 10-7 10 7 10-7 10 2 10 4 10 2 10 0 10-1 10 1 10 0 10 3 10-2 10 2 10 2 10-1 10 4 10 0 10 5 10-4 10-2 10 0 10 1 10 2 10-4 10 2 10 4 10-13 10 4 10 4 10 0 10-1 10-2 10 3 10 1 10 0 10 10 10-4 10-1 10 4 10 1 10 3 10-6 10 9 10 4 10-7 10 2 10 3 10-1 10 2 10-9 10 10 10 5 10 7 10 7 10-6 10 16 10-4 10 9 10-4 10 7 10 6 10-4 10 0 10 0 10-3 10-3 10 4 10-6 10-10 10 4 10-17 10-5 10-17 10-13 10-7 10 0 10 2 10-5 10 1 10 0 10-23 10-17 10-18 10 10 10 1 10 4 10-5 10-3 10-9 10 0 10-4 10-7 10 9 10 0 10-1 10-4 10 12 10-2 10 1 10 2 10-4 10-1 10-11 10 2 10 0 10 1 10-4 10 0 10 7 10-2 10 0 10 6 10-2 10-4 10 8 10-4 10 9 10-1 10-3 10 3 10 3 10-2 10 5 10-3 10 4 10 2 10 2 10-6 10 6 10-7 10 7 10 2 10 15 10-2 10 8 10 5 10 1 10-7 10-2 10-1 10-10 10-3 10-4 10-8 10-7 10-2 10 1 10-12 10-1 10 1 10-5 10-6 10-1 10-5 10-7 10-5 10 0 10 1 10-2 10 2 10 4 10 1 10 7 10 0 10 8 10-2 10 14 10 3 10 2 10 13 10 3 10-4 10 2 10 1 10-5 10 1 10-3 10-2 10-7 10-2 10-8 10-6 10-14 10 3 10-4 10-10 10-5 10 2 10-16 10 1 10 1 10-13 10 4 10 2 10-7 10 1 10-1 10-6 10 1 10 0 10 0 10-4 10-1 10-4 10 0 10 2 10-5 10-6 10-2 10 7 10-7 10-4 10-12 10 9 10-1 10 3 10-4 10-2 10 1 10-7 10 11 10-1 10-1 10 8 10 4 10-8 10 4 10 4 10 1 10 0 10-1 10 11 10-2 10-6 10 1 10 10 10-1 10 3 10-2 10-4 10 5 10-6 10 5 10 3 10 3 10-2 10 1 10 0 10-2 10-1 10-3 10-3 10 1 10-4 10-3 10 4 10 6 10 3 10 4 10 3 10 4 10 2 10-1 10 8 10 4 10 1 10 0 10 5 10-3 10-2 10 7 10-2 10 6 10-5 10-3 10 5 10 8 10-7 10-4 10 1 10 3 10-1 10-2 10 4 10-2 10-1 10 2 10 4 10-2 10 1 10-4 10 4 10 5 10-2 10 6 10 0 10 4 10-1 10 11 10-1 10-2 10 4 10 10 10-5 10 7 10 4 10-2 10-5 10 4 10 0 10 1 10-2 10-3 10 2 10-1 10-1 10-1 10-2 10 3 10-6 10 1 10 2 10-5 10 2 10-5 10 4 10 3 10-1 10-4 10-4 10-6 10 7 10-7" stroke="#ff4d4d" stroke-width="10"/>
<path transform="scale(.1)" d="M741 4176l10 7 10-3 10 1 10 0 10 0 10 2 10-1 10-1 10 0 10 1 10 5 10 2 10 4 10-2 10 0 10 2 10-1 10-5 10 10 10-4 10 3 10 0 10 10 10-4 10-2 10-4 10 7 10-5 10 7 10-8 10 5 10 4 10-5 10 3 10 1 10 3 10-4 10 4 10 5 10-11 10 3 10 4 10-2 10 0 10 11 10 1 10 2 10 3 10 1 10-3 10-3 10 11 10-3 10 6 10 2 10-3 10 4 10 8 10-1 10-6 10 6 10 3 10 2 10 1 10-2 10 0 10 4 10-7 10 8 10-2 10-2 10 0 10 2 10-6 10-4 10 7 10 3 10-6 10-1 10-1 10-3 10 8 10 4 10 1 10 6 10-3 10 7 10 0 10 3 10 5 10 1 10 5 10 2 10-4 10 3 10-15 10-1 10-4 10-7 10-3 10-7 10-8 10 0 10-7 10-8 10-2 10-5 10-4 10-8 10-1 10-4 10 2 10-9 10 2 10-7 10 1 10 1 10-10 10 1 10-3 10 0 10 0 10 2 10 2 10-1 10-4 10 1 10-5 10 6 10-3 10-4 10-2 10 0 10-4 10-2 10-7 10-1 10-5 10-7 10 1 10-4 10-9 10-2 10-3 10-9 10-11 10-10 10-3 10-6 10-3 10-2 10-8 10-9 10 3 10-9 10-1 10-11 10 6 10-15 10 0 10-2 10-15 10 1 10-10 10 3 10-11 10-12 10-10 10-7 10-6 10-14 10-9 10-14 10-15 10 6 10-9 10-8 10-4 10 9 10 3 10-2 10 13 10 3 10 13 10 5 10 11 10 15 10 5 10 16 10 12 10 9 10 18 10 4 10 3 10 9 10 6 10-1 10-9 10-3 10-6 10-11 10-5 10 0 10-18 10-21 10-21 10-31 10-25 10-29 10-18 10-11 10-1 10-10 10 8 10 0 10 8 10 32 10 39 10 27 10 34 10 13 10 25 10 14 10 7 10 10 10 2 10 6 10 0 10-15 10 3 10-6 10-3 10-9 10-1 10-2 10 1 10-9 10-1 10-2 10 3 10-9 10 2 10-3 10 6 10 6 10-1 10 7 10-1 10 5 10-11 10-16 10-10 10-13 10-9 10 7 10 1 10 0 10 4 10 5 10-2 10 1 10-6 10-2 10-7 10 0 10 2 10-6 10-1 10 8 10-7 10-4 10-4 10 3 10 8 10-4 10 5 10 3 10 0 10 6 10 2 10 1 10-2 10-11 10-6 10-5 10 0 10-11 10 3 10-12 10-1 10-8 10 3 10 3 10 5 10-2 10 5 10 8 10-2 10 4 10 0 10-7 10 4 10-7 10 1 10-6 10 1 10 8 10 2 10-2 10 10 10 5 10 9 10 10 10 3 10 18 10 2 10 24 10 13 10 17 10 14 10 12 10 15 10 10 10 6 10 4 10-5 10 10 10 2 10-1 10 2 10 1 10-3 10 3 10 6 10-2 10 6 10-4 10 2 10 3 10 2 10 4 10-2 10 5 10 0 10-2 10 4 10 1 10 5 10-5 10-9 10-12 10-4 10-8 10-7 10 0 10-9 10-3 10-7 10-6 10 3 10-8 10 0 10-2 10 0 10-6 10 2 10-6 10-2 10-2 10-1 10 2 10 1 10 6 10 2 10 9 10-3 10 6 10-1 10 7 10 0 10 1 10 7 10 5 10 5 10 4 10 3 10 3 10 5 10 5 10 5 10-2 10 2 10 1 10 0 10-1 10 0 10 11 10-7 10-5 10 1 10 2 10 8 10-5 10-4 10 8 10-11 10 9 10 4 10-8 10 2 10-1 10-12 10 11 10 0 10-4 10 14 10-2 10 5 10 3 10-5 10-6 10 4 10-2 10-2 10-1 10 2 10 6 10-4 10 1 10 3 10-1 10-2 10 0 10-2 10 6 10-5 10 3 10-7 10-1 10 2 10 2 10-6 10-2 10 2 10-6 10 6 10-8 10-2 10 4" stroke="#40f040" stroke-width="10"/>
<path transform="scale(.1)" d="M741 4155l10 3 10 3 10 0 10-1 10-4 10 0 10-2 10-3 10 2 10 4 10-3 10-2 10-3 10 3 10-2 10 1 10 1 10-9 10 6 10-4 10 1 10-2 10 7 10-2 10-1 10-4 10-4 10 2 10 0 10-2 10 0 10-4 10 6 10-4 10 4 10-5 10-2 10-1 10 5 10 0 10-2 10 0 10-1 10 0 10 1 10-5 10 3 10 4 10 1 10 3 10-1 10 0 10 0 10-7 10 8 10-3 10 5 10-2 10 0 10 0 10 0 10-5 10 1 10 8 10-2 10-3 10 0 10 0 10 10 10-8 10-2 10-2 10-5 10 7 10 3 10-1 10-1 10-3 10-1 10 4 10 0 10-2 10 9 10-8 10 2 10-5 10 13 10-5 10 1 10 1 10-3 10 1 10 3 10-3 10 3 10 3 10-1 10 2 10-1 10 2 10-5 10 1 10-5 10 3 10-2 10 2 10-3 10 4 10 7 10-6 10 8 10 4 10 0 10 5 10 4 10 7 10 0 10 13 10-3 10 2 10 5 10 0 10-2 10 0 10-3 10-1 10 0 10-11 10-1 10 2 10 0 10-6 10-3 10 1 10-5 10-6 10-4 10-6 10 2 10-4 10-9 10-3 10-11 10-8 10-13 10 0 10-13 10-4 10-6 10-9 10-4 10-7 10-6 10-4 10-9 10-1 10-5 10-8 10 2 10-6 10-1 10-12 10 4 10-13 10 0 10 5 10-13 10-4 10-11 10-10 10-6 10-8 10-11 10-11 10 3 10 4 10 9 10 1 10 7 10 7 10 5 10 7 10 17 10 19 10 12 10 15 10 39 10 26 10 37 10 54 10 56 10 65 10 37 10 27 10 26 10 9 10 7 10 4 10-4 10-5 10-3 10 1 10-7 10-12 10-2 10-2 10-11 10-4 10 8 10 5 10-6 10 0 10 19 10 26 10 9 10 15 10 5 10 5 10 10 10-10 10-4 10-7 10-5 10 1 10-16 10-7 10 1 10-11 10 0 10-8 10 2 10-11 10-6 10-12 10-6 10-7 10 11 10 0 10-1 10 1 10-4 10-3 10 2 10-11 10-3 10-1 10-8 10-9 10 0 10-7 10-10 10 19 10 3 10 21 10 4 10 14 10-23 10-22 10-18 10-21 10-13 10-15 10-6 10-13 10 3 10-3 10 3 10-7 10-1 10 3 10 5 10 0 10 6 10 3 10 0 10-4 10 0 10-7 10-3 10-3 10-4 10-13 10-5 10-12 10-17 10-3 10 1 10 3 10 5 10 7 10 0 10-3 10 12 10 5 10 16 10 2 10 9 10 3 10-5 10-2 10-2 10 4 10-9 10-2 10-4 10-2 10 5 10 7 10-9 10 4 10-5 10 0 10-9 10 1 10 5 10 2 10 10 10 3 10 11 10 5 10-2 10-6 10-10 10 3 10-9 10 0 10-3 10 4 10-6 10 8 10-6 10 3 10 1 10-8 10 3 10-2 10 6 10 1 10 1 10 3 10 5 10 7 10 3 10 6 10 7 10-4 10-4 10-2 10-4 10-13 10 1 10-2 10-2 10-7 10-5 10 5 10-19 10 12 10-5 10 2 10 2 10 2 10-6 10-5 10 2 10-1 10-9 10 4 10-14 10 10 10 3 10 7 10-3 10 9 10 2 10-3 10 5 10-4 10 2 10 3 10-1 10 13 10 4 10 4 10 0 10 1 10-4 10 2 10-1 10 0 10-4 10-1 10-6 10 3 10-3 10 0 10-1 10-4 10 2 10-1 10-1 10-2 10 3 10 4 10-9 10 8 10 0 10 0 10-5 10-1 10 4 10-1 10 3 10-6 10 0 10 4 10-4 10 2 10 7 10 1 10-1 10 5 10 0 10 6 10 0 10-1 10 11 10-3 10 3 10 0 10 5 10 1 10 6 10 2 10 3 10-1 10-3 10 1 10 0 10 6 10-4 10 9 10-1 10 1 10 3 10 6 10-7 10-3 10-4" stroke="#4d4dff" stroke-width="10"/>
<path d="M71.5 418.3H525.5" stroke="#000" stroke-width="1.4" stroke-dasharray="5 2.5"/>
</g>
<g clip-path="url(#c5)" fill="none" stroke-linejoin="round">
<path transform="scale(.1)" d="M741 5126l8 2 8 0 8 1 8 6 8-14 8 8 8-1 8-2 8 4 8 1 8 13 8-11 8-2 8 5 8-11 8 2 8 6 8-7 8-4 8 1 8-5 8 13 8-1 8 7 8-17 8-1 8-1 8 3 8-3 8 3 8-7 8-7 8 15 8-12 8 8 8-9 8 2 8-11 8 3 8 7 8 0 8-5 8 1 8-11 8 9 8-5 8-2 8 7 8-6 8-3 8 2 8-1 8 0 8 3 8-1 8 8 8 5 8-1 8-6 8-1 8 7 8-2 8 10 8-5 8 3 8-6 8 1 8-9 8-5 8 6 8-10 8 1 8 5 8 1 8-11 8-5 8 4 8-2 8-5 8-11 8-1 8 6 8-15 8 3 8 4 8-4 8-25 8-10 8-12 8-17 8-5 8-16 8-2 8-20 8-9 8-4 8 14 8-3 8 30 8 4 8 12 8 12 8 0 8 8 8 5 8 11 8 5 8 9 8 6 8 1 8 13 8-1 8 13 8 4 8-3 8 15 8 0 8 2 8 2 8 16 8 5 8-6 8 5 8 5 8 3 8 13 8-5 8 15 8-17 8 4 8 16 8-5 8-8 8 25 8-7 8-1 8-17 8 16 8-8 8-3 8-4 8-11 8 1 8 6 8 0 8-4 8-4 8-5 8-1 8 6 8-15 8-12 8 8 8-8 8-7 8-4 8 8 8-11 8 1 8-6 8 9 8-11 8-2 8-9 8 0 8 10 8-14 8 9 8-5 8-1 8 2 8 1 8 9 8-4 8-5 8 8 8 12 8-12 8 11 8 5 8 12 8-6 8 17 8-8 8 11 8-2 8 8 8-5 8-6 8 9 8-8 8 8 8-19 8 22 8-10 8 9 8-7 8-4 8-3 8-2 8 5 8-5 8-8 8 14 8 10 8 4 8 8 8 7 8-22 8 6 8-1 8-13 8-13 8-18 8-13 8-2 8-35 8-20 8-36 8-31 8-46 8-50 8-51 8-55 8-69 8-25 8-40 8-46 8-38 8-34 8 32 8 31 8 48 8 36 8 43 8 23 8 28 8-15 8-52 8-60 8 29 8 76 8 60 8 29 8 28 8 36 8 30 8 17 8 19 8 21 8 4 8 36 8 20 8 9 8 15 8 33 8 31 8 32 8-57 8-68 8-63 8-16 8 7 8-18 8-8 8-25 8-40 8-37 8-43 8-43 8-8 8 41 8 38 8 20 8-26 8-38 8-8 8 35 8 34 8 33 8 40 8 39 8 11 8 10 8 15 8-16 8-47 8-9 8 9 8 38 8 13 8-39 8-23 8-24 8 48 8 35 8 36 8-16 8-21 8-10 8-34 8-42 8-28 8-43 8 1 8 17 8 32 8 0 8 26 8 38 8 34 8 35 8 32 8-12 8-61 8-68 8-63 8-44 8 21 8 22 8 27 8 61 8 60 8 63 8 53 8 3 8-24 8-9 8-24 8-22 8 17 8-8 8 0 8-2 8-11 8-10 8-22 8-30 8 8 8 15 8 28 8 13 8 15 8-7 8 4 8-9 8-5 8 14 8 10 8 14 8-5 8-1 8-22 8-21 8-29 8 0 8 11 8 25 8 2 8 17 8 2 8-1 8-1 8-16 8-29 8-35 8-15 8-28 8-22 8-20 8 10 8-1 8 10 8 11 8 4 8 4 8 17 8 22 8 16 8 14 8 4 8 18 8 11 8 8 8-1 8 2 8 13 8 0 8 4 8-3 8-15 8-9 8-12 8-22 8-16 8 9 8-8 8 2 8-1 8-2 8 13 8-7 8 3 8 12 8 7 8 0 8 15 8-3 8-17 8 0 8 8 8-7 8-3 8-14 8 5 8-16 8-19 8-35 8-16 8-30 8-2 8-6 8-7 8-10 8-10 8-2 8-3 8-6 8 11 8 6 8 9 8 14 8 33 8 16 8 7 8 32 8 6 8 16 8-14 8-7 8 11 8 3 8-17 8 10 8 1 8 15 8 6 8 1 8 12 8-7 8-15 8-3 8 6 8 18 8 27 8 6 8 20 8 7 8 32 8-11 8-1 8 5 8-10 8 18 8-23 8-14 8-11 8-11 8-29 8-7 8-20 8-35 8-3 8-19 8-15 8-14 8 4 8-4 8 8 8-4 8 32 8 22 8 27 8 1 8 3 8 0 8-1 8 11 8-11 8 22 8 1 8-3 8 23 8 15 8 4 8-12 8 1 8-15 8 11 8-1 8-5 8-4 8-3 8 4 8-9 8-3 8 7 8 17 8-3 8-6 8-10 8 18 8-1 8 30 8-10 8-2 8 5 8 11 8 3 8 1 8-11 8-4 8-4 8-21 8-7 8-26 8-38 8-16 8-27 8-32 8 6 8 6 8-5 8 6 8 6 8 0 8 2 8-2 8-6 8-1 8-6 8 3 8 0 8-25 8 14 8 13 8 10 8 18 8 13 8 14 8-37 8-33 8-21 8-34 8 16 8 2 8 9 8 10 8-6 8-6 8-3 8-13" stroke="#ff2020" stroke-width="11"/>
<path transform="scale(.1)" d="M741 5121l8 5 8 2 8-5 8-3 8 5 8 2 8 2 8-8 8-1 8 7 8 0 8 3 8-2 8-4 8 0 8 9 8-11 8-2 8-3 8 4 8-1 8-3 8 0 8 0 8 1 8 0 8-4 8-8 8 8 8-9 8 4 8-6 8 5 8-4 8 3 8 10 8-13 8 3 8-9 8 3 8 3 8-4 8 1 8-2 8-5 8 5 8-5 8 8 8-9 8 3 8-3 8 3 8-6 8 6 8-2 8 6 8-1 8 0 8-2 8 6 8 1 8 5 8-6 8 5 8 1 8-1 8-3 8-3 8-5 8-4 8-1 8 1 8 1 8-5 8-2 8-4 8-3 8-4 8-1 8 0 8-10 8-4 8 6 8-9 8-1 8-3 8-16 8 0 8-15 8-17 8-10 8-12 8-14 8-8 8-8 8-2 8 9 8 8 8 15 8 2 8 16 8 7 8 2 8 1 8 9 8 11 8 7 8 10 8-2 8 9 8 9 8 4 8-2 8 18 8 12 8 0 8-3 8 6 8 6 8 12 8-2 8 2 8 9 8-2 8 11 8-5 8 5 8 8 8 4 8-1 8 0 8-6 8 5 8 2 8 1 8 6 8-5 8 1 8-5 8-4 8-1 8-2 8-1 8-7 8-2 8-7 8 8 8-4 8-9 8-4 8-6 8 2 8-4 8 4 8-10 8-7 8-9 8 11 8-6 8-9 8 4 8-8 8 15 8-10 8-4 8-5 8-9 8 4 8-7 8 7 8-7 8 7 8 10 8 4 8-8 8 1 8 11 8 3 8-2 8 6 8 5 8 3 8 7 8 12 8 3 8 10 8-7 8-1 8-4 8 2 8-6 8-2 8 8 8 1 8-3 8 1 8-5 8-4 8 1 8-2 8-4 8-3 8 1 8 11 8 7 8 4 8 14 8 2 8-6 8-6 8-15 8-12 8 2 8-19 8-9 8-19 8-14 8-26 8-43 8-22 8-37 8-41 8-52 8-49 8-45 8-22 8-31 8-19 8-29 8-12 8 23 8 15 8 24 8 20 8 26 8 18 8 23 8-21 8-26 8-37 8 16 8 49 8 47 8 36 8 22 8 24 8 21 8 26 8 29 8 12 8 14 8 15 8 17 8 16 8 19 8 30 8 28 8 24 8-60 8-64 8-64 8-1 8-9 8 10 8-15 8-28 8-26 8-34 8-46 8-44 8-5 8 39 8 41 8 9 8-29 8-27 8-12 8 33 8 42 8 31 8 32 8 38 8-2 8 15 8 12 8-19 8-37 8-12 8 26 8 20 8-2 8-13 8-26 8-13 8 31 8 33 8 25 8-13 8-17 8-10 8-23 8-28 8-41 8-35 8 8 8 12 8 24 8 10 8 18 8 34 8 28 8 21 8 33 8-4 8-56 8-56 8-58 8-39 8 15 8 16 8 29 8 52 8 56 8 49 8 61 8-7 8-21 8-6 8-20 8-12 8-2 8 5 8 7 8-1 8-4 8-31 8-22 8-16 8-10 8 24 8 27 8 23 8 4 8 2 8-1 8-9 8-9 8 11 8 13 8 9 8 15 8-19 8-22 8-18 8-26 8-1 8 21 8 5 8 14 8 9 8 5 8 3 8-6 8-13 8-31 8-20 8-18 8-23 8-21 8-16 8-5 8 9 8 9 8 7 8 8 8 2 8 12 8 16 8 14 8 16 8 16 8 11 8 6 8 4 8 12 8 5 8 4 8 4 8 4 8-6 8-13 8-20 8-11 8-17 8-6 8-5 8 2 8 1 8 3 8-8 8-1 8 6 8-7 8 16 8 8 8 13 8-6 8 5 8-7 8-5 8 6 8-8 8 6 8-14 8-6 8-9 8-15 8-26 8-18 8-17 8-13 8-4 8-10 8-11 8 0 8-9 8-1 8-3 8-3 8 10 8 13 8 13 8 24 8 13 8 23 8 19 8 7 8 0 8 0 8-5 8 3 8-1 8 1 8 2 8 4 8 10 8-7 8 17 8 4 8 3 8-10 8-14 8 2 8 13 8 23 8 10 8 21 8 17 8 18 8 1 8-7 8 5 8-1 8-6 8-6 8-5 8-17 8-19 8-17 8-13 8-26 8-14 8-19 8-10 8-14 8-14 8 3 8 11 8-5 8 2 8 28 8 14 8 15 8 14 8-3 8 12 8-8 8 4 8-1 8 8 8 2 8 13 8 8 8 8 8 11 8-3 8-5 8-6 8-4 8 3 8 4 8-12 8-4 8 1 8 0 8 1 8 4 8 7 8-4 8-1 8-3 8 11 8 5 8 2 8 7 8 9 8 10 8 5 8 4 8-2 8-7 8-11 8-2 8-21 8-9 8-17 8-29 8-17 8-28 8-23 8-1 8-2 8 3 8 12 8-4 8 0 8 0 8-2 8 1 8-5 8-4 8-1 8-11 8-9 8 5 8 13 8 18 8 9 8 13 8 8 8-19 8-30 8-25 8-24 8 6 8 7 8 7 8-5 8 9 8-6 8-3 8 8" stroke="#1a1a1a" stroke-width="10"/>
</g>
<g clip-path="url(#c6)" fill="none" stroke-linejoin="round">
<path d="M86.3 586.3L390.3 586.3" stroke="#00e000" stroke-width="1.3"/>
<path d="M86.3 566.5L162.4 570.2L238.3 518.4L314.3 571.4L390.3 561.6" stroke="#ff1010" stroke-width="1.3"/>
<path d="M86.3 582.2L162.4 567.7L238.3 562.2L314.3 583.3L390.3 585.8" stroke="#1010ff" stroke-width="1.3"/>
<circle cx="86.3" cy="566.5" r="2" fill="#ff1010" stroke="none"/>
<circle cx="162.4" cy="570.2" r="2" fill="#ff1010" stroke="none"/>
<circle cx="238.3" cy="518.4" r="2" fill="#ff1010" stroke="none"/>
<circle cx="314.3" cy="571.4" r="2" fill="#ff1010" stroke="none"/>
<circle cx="390.3" cy="561.6" r="2" fill="#ff1010" stroke="none"/>
<circle cx="86.3" cy="582.2" r="2" fill="#1010ff" stroke="none"/>
<circle cx="162.4" cy="567.7" r="2" fill="#1010ff" stroke="none"/>
<circle cx="238.3" cy="562.2" r="2" fill="#1010ff" stroke="none"/>
<circle cx="314.3" cy="583.3" r="2" fill="#1010ff" stroke="none"/>
<circle cx="390.3" cy="585.8" r="2" fill="#1010ff" stroke="none"/>
</g>
<g clip-path="url(#c7)" fill="none" stroke-linejoin="round">
<path transform="scale(.1)" d="M741 5902l8 14 8-2 8 0 8 12 8-5 8 0 8 16 8-14 8-4 8 1 8 8 8 8 8 1 8 1 8 4 8-2 8-8 8 4 8-6 8-9 8 8 8-6 8-3 8 15 8-7 8-7 8 4 8 19 8-17 8 9 8 1 8 1 8 2 8-6 8 1 8 4 8 0 8 8 8 6 8-17 8 10 8-10 8 2 8 4 8 2 8-3 8-15 8 28 8-11 8-2 8 9 8-9 8-5 8 14 8 1 8-8 8 13 8-3 8-10 8 22 8-10 8-9 8 12 8-1 8 7 8-15 8 18 8 1 8-1 8 1 8 6 8-3 8-3 8-5 8 15 8 1 8-4 8 0 8 6 8-21 8 21 8-18 8 21 8 7 8 8 8-15 8 8 8-2 8-13 8 23 8-2 8 3 8-4 8 9 8 3 8 10 8-11 8 19 8-32 8-3 8-2 8-9 8 12 8-9 8-16 8 7 8 5 8-21 8 9 8-6 8 16 8-17 8-8 8-4 8 15 8-19 8 17 8-29 8 8 8-2 8-6 8 2 8 4 8-12 8-7 8 18 8-1 8-18 8 6 8-22 8 24 8-18 8 4 8 18 8-26 8 8 8-7 8-3 8 7 8 12 8-10 8 7 8 12 8-5 8-6 8 22 8-8 8 10 8-17 8 20 8-21 8-2 8 11 8 1 8 5 8-5 8 9 8 6 8-14 8-4 8 7 8 9 8 1 8-8 8-4 8 8 8 7 8-11 8 15 8-7 8 1 8-7 8 14 8-11 8-11 8 15 8-10 8 10 8-7 8-7 8 5 8-6 8-3 8 5 8 5 8-6 8-1 8-3 8 9 8-1 8 5 8-3 8 13 8-25 8 12 8 4 8 4 8-17 8 3 8 9 8 7 8 1 8-19 8 12 8 7 8-8 8-7 8 5 8-1 8 21 8-7 8 2 8 0 8 11 8 1 8 6 8 13 8 6 8 11 8 6 8 17 8 2 8 12 8 8 8-2 8 20 8-7 8-2 8 25 8 1 8-12 8 8 8-3 8-5 8-16 8 6 8-11 8 0 8-4 8-6 8 6 8-13 8 6 8-7 8-7 8 9 8 6 8 6 8-7 8 16 8-7 8 3 8-21 8-1 8 13 8-13 8 3 8 29 8 5 8 13 8 8 8-11 8-7 8 0 8-6 8 12 8 16 8 1 8 18 8 0 8-5 8-8 8-21 8 8 8-10 8-20 8 7 8-7 8 10 8 6 8-9 8 3 8-6 8 11 8 21 8 19 8 27 8 2 8 9 8 34 8 10 8 26 8-18 8 15 8-16 8-7 8 7 8-1 8 13 8 21 8 6 8 17 8 7 8 9 8 7 8 12 8 3 8 21 8 15 8-5 8 17 8 40 8 3 8 29 8 35 8 40 8 42 8-18 8 8 8-1 8-30 8-20 8-18 8-20 8-37 8-57 8-32 8-9 8-31 8-9 8-25 8-20 8 1 8-42 8 8 8 36 8 19 8-1 8 6 8-2 8-22 8 6 8 19 8 17 8-20 8 21 8 14 8 0 8 5 8 9 8 13 8-6 8 20 8 5 8-9 8-8 8-27 8-10 8-5 8-11 8-16 8-23 8-14 8-19 8-7 8-13 8-1 8-4 8 5 8-4 8-10 8-13 8-1 8-6 8-7 8-13 8-6 8-19 8 3 8-5 8-13 8-8 8 9 8-21 8 8 8-9 8-3 8-2 8-4 8 3 8 17 8 2 8-7 8 8 8 7 8-9 8 17 8-12 8 5 8-11 8 0 8 1 8 3 8 13 8-9 8 9 8-8 8-3 8 9 8-2 8-8 8 13 8 10 8-9 8-5 8 4 8-2 8 8 8-3 8 6 8 0 8 6 8-19 8-9 8 24 8-10 8-8 8 4 8-11 8 2 8 6 8-9 8 2 8 0 8-4 8-4 8 4 8 4 8-2 8-17 8 10 8-20 8 2 8 11 8-1 8 5 8-24 8 18 8-12 8 5 8 10 8 11 8-13 8-9 8 4 8-1 8 6 8-10 8-9 8-5 8-4 8 7 8-20 8 5 8-4 8 15 8-2 8-2 8 15 8 12 8-2 8-12 8 12 8 14 8-16 8 8 8 3 8 5 8-11 8 5 8-5 8 2 8-13 8-9 8-1 8 14 8 4 8-4 8-16 8-2 8 10 8-6 8-7 8 8 8-3 8 3 8 2 8-2 8-2 8 1 8-5 8-4 8-1 8 10 8-12 8 6 8 5 8 4 8-23 8 20 8 10 8-6 8 2 8-6 8 2 8 1 8-16 8 9 8-9 8 6 8-1 8 15 8 7 8 1 8 6 8 18 8 5 8-4 8 12 8-8 8 7 8-14 8 20 8 11 8-5 8 11 8-6 8 8 8-1 8-4 8 24 8-18 8-2 8 12 8 5 8 1 8-1 8 7 8 5 8 0 8-11 8 24 8-10 8-12 8 23 8-8 8 2 8 11 8-19 8-2 8-4 8 7" stroke="#ff4040" stroke-width="10"/>
<path transform="scale(.1)" d="M741 5898l8 11 8-14 8-5 8 13 8 3 8-1 8 1 8-3 8-2 8-1 8 4 8 0 8 8 8-1 8-11 8 12 8-4 8 8 8 3 8-6 8-13 8 15 8-13 8 20 8-13 8 3 8 13 8-22 8 12 8-6 8 3 8-1 8 10 8-5 8 4 8 3 8-14 8 19 8-9 8-8 8 7 8 10 8 1 8-9 8 5 8 2 8 5 8-6 8 7 8-11 8 2 8 9 8 1 8-5 8 4 8-3 8 3 8 2 8-4 8 2 8-8 8-1 8-12 8 17 8-3 8 3 8-15 8 8 8-1 8-7 8 16 8 2 8-16 8 10 8 8 8-18 8 13 8 3 8 2 8-20 8 2 8 7 8 6 8-15 8 6 8 1 8 18 8-7 8 11 8 5 8 7 8-1 8 4 8 9 8-1 8-8 8 3 8 7 8-6 8-4 8 2 8 17 8-22 8 2 8-1 8-6 8 7 8-4 8-5 8-13 8 14 8-6 8-7 8-18 8 13 8-9 8 4 8-4 8-4 8 9 8-8 8 4 8-16 8 3 8 7 8-9 8-9 8-3 8-1 8 1 8 2 8-5 8 5 8 2 8-2 8 9 8-1 8-4 8 2 8 3 8-3 8-3 8 10 8-3 8 8 8-6 8 5 8 2 8-3 8 5 8-5 8 3 8 8 8-1 8-2 8-3 8 10 8 9 8-25 8 20 8-4 8 6 8 1 8-12 8 18 8-14 8 3 8 6 8-3 8 3 8-4 8-3 8 5 8-7 8 14 8-8 8 7 8-18 8-5 8-2 8 10 8-6 8 9 8-12 8 0 8 9 8-2 8 9 8 3 8-1 8-7 8 4 8 22 8-13 8 5 8 1 8 2 8 1 8-1 8-1 8-11 8 22 8-13 8-9 8 10 8 0 8-15 8 9 8 15 8-4 8 2 8 7 8-5 8 4 8 17 8-6 8 6 8 10 8 2 8-5 8 19 8-12 8 11 8-8 8-8 8 15 8-11 8-5 8 2 8-16 8 12 8-10 8-1 8-7 8 6 8-5 8 7 8 8 8-4 8 3 8 6 8-3 8 6 8 13 8-7 8-5 8 11 8 5 8 9 8-13 8 1 8 12 8 4 8 8 8 0 8 10 8 1 8 39 8 25 8 31 8-7 8-11 8 4 8-5 8 2 8 0 8-2 8 5 8-2 8 10 8 2 8-6 8-7 8 12 8-16 8 16 8 2 8 8 8-10 8 15 8-7 8 11 8-7 8 11 8 13 8 20 8 12 8 2 8 10 8 1 8 3 8 1 8 15 8 10 8-3 8 12 8-5 8 6 8 8 8 14 8-4 8 13 8-2 8 1 8-1 8 15 8 3 8 17 8 4 8-7 8 21 8 4 8-15 8 17 8 14 8-5 8 11 8 13 8 4 8 7 8 5 8-19 8 11 8-21 8 0 8-24 8-2 8-7 8-9 8-3 8-7 8-2 8-9 8-8 8-1 8 3 8-11 8 0 8-5 8-15 8 5 8 3 8-1 8 8 8-4 8 15 8-2 8 17 8 1 8-4 8 13 8 8 8-12 8-7 8-13 8-7 8-3 8-13 8 0 8-28 8 1 8-4 8 5 8-9 8-9 8-4 8-1 8-9 8-10 8-1 8-9 8-1 8-1 8-9 8 6 8-2 8-3 8 1 8 15 8-2 8 7 8-4 8-1 8-1 8-7 8 8 8-6 8-6 8-12 8 0 8 2 8 5 8-8 8-1 8 2 8-3 8-3 8-7 8 14 8-7 8-2 8 3 8-7 8-1 8 0 8 13 8-9 8 9 8-7 8-3 8 8 8-2 8 0 8 13 8-10 8-6 8 8 8-9 8 9 8-18 8 15 8-14 8 1 8 4 8-6 8-3 8 9 8 1 8-7 8 17 8-10 8 2 8 4 8 4 8 8 8-18 8 15 8 7 8-2 8 0 8-5 8 11 8-5 8 2 8-9 8 3 8-1 8-10 8 14 8-9 8-9 8 5 8 0 8-3 8-5 8 4 8-7 8-3 8 16 8 3 8 0 8 2 8-6 8-15 8 2 8 11 8-8 8 3 8 4 8 4 8-8 8 10 8 5 8-14 8 18 8-3 8-10 8 15 8-10 8 0 8 5 8-25 8 14 8 6 8 1 8-10 8-2 8-4 8 2 8-4 8-10 8 11 8-4 8 2 8 0 8 0 8 2 8-1 8-3 8-1 8 2 8-1 8 1 8 9 8-8 8-4 8-10 8 3 8-9 8 23 8 1 8-10 8-2 8 5 8-1 8-15 8 7 8-1 8-7 8 15 8-6 8-8 8 4 8-1 8 1 8 2 8 10 8-5 8-2 8 1 8 6 8-5 8-6 8 7 8 8 8-16 8 3 8-4 8 6 8-6 8-13 8 16 8-11 8-5 8 3 8 4 8 6 8-7 8-3 8 13 8 2 8-11 8 4 8 1 8-3 8-4 8 12 8-12 8-4 8 15 8 4 8-2" stroke="#404040" stroke-width="10"/>
</g>
<g clip-path="url(#c8)" fill="none" stroke-linejoin="round">
<path transform="scale(.1)" d="M741 7215l10-1 10-5 10-1 10 4 10 2 10-2 10-3 10 2 10 4 10-6 10 5 10-1 10-1 10 1 10-3 10 1 10 4 10-5 10 0 10-2 10 2 10 3 10 0 10-1 10 0 10 0 10-1 10 2 10-3 10 3 10-3 10-3 10 1 10 2 10-1 10-1 10 1 10 2 10 0 10 1 10-4 10 3 10 1 10-1 10 2 10-4 10 1 10 0 10-1 10 0 10 1 10-1 10-1 10 0 10 1 10-3 10 3 10-2 10 1 10-2 10 2 10-1 10-1 10-1 10 1 10 2 10-7 10 4 10-1 10-2 10-2 10 5 10-4 10 1 10-3 10-1 10 3 10 0 10-1 10 1 10 2 10-2 10 0 10 3 10 2 10 1 10-1 10 3 10-2 10-1 10 7 10-5 10 2 10 0 10-1 10 1 10 1 10-1 10-2 10 1 10 3 10-1 10-2 10 1 10-2 10-1 10 2 10 4 10-4 10-3 10 4 10-1 10 2 10 1 10-3 10 1 10-2 10 5 10-4 10 1 10 5 10-6 10 2 10-1 10 2 10 0 10 2 10-2 10 0 10-4 10 4 10-4 10 5 10-2 10 2 10-3 10 2 10-1 10 1 10-1 10-1 10 1 10-1 10 0 10-1 10 0 10 6 10-5 10 0 10 4 10-2 10 0 10 2 10 2 10-6 10 5 10-2 10 2 10-4 10 4 10-1 10-8 10 8 10 0 10-6 10 3 10-1 10 0 10-2 10 3 10 0 10-2 10-4 10-8 10-1 10-9 10-3 10-6 10 3 10-9 10-1 10-6 10-4 10-2 10 2 10 8 10-2 10 7 10-2 10-3 10-1 10-7 10 9 10 3 10 5 10 9 10 1 10 3 10-1 10 4 10 6 10-1 10 8 10 2 10-1 10-4 10 2 10-1 10 3 10-3 10-7 10-4 10-4 10-3 10-7 10-2 10 6 10 2 10 2 10 1 10 5 10 2 10 2 10 7 10 3 10-2 10-2 10-1 10-1 10 1 10-1 10 2 10 2 10-1 10-2 10 3 10-1 10-1 10 5 10-4 10 4 10-5 10 4 10-2 10 4 10-1 10-2 10 3 10 2 10 0 10 1 10-4 10 6 10-5 10 1 10-3 10 3 10-2 10 3 10-3 10 6 10-2 10 1 10-1 10-2 10 0 10-1 10-4 10 1 10 1 10 3 10-5 10 3 10-2 10 2 10 0 10-4 10-1 10 5 10-1 10-2 10 1 10-2 10 1 10-2 10 1 10 2 10 0 10-1 10-3 10 2 10-3 10 0 10 0 10-2 10 2 10-4 10 7 10-2 10-1 10-2 10 0 10 0 10-2 10 2 10-1 10 3 10 1 10 0 10-6 10 0 10 6 10-2 10 1 10-1 10-1 10 3 10-2 10-1 10-3 10 2 10 2 10-2 10 1 10-2 10 1 10-2 10 0 10 3 10 1 10-4 10 0 10-1 10 0 10 1 10 1 10-1 10-1 10 1 10-5 10 4 10 4 10-6 10 1 10 2 10 2 10-2 10-1 10 6 10-7 10 3 10 1 10-3 10 8 10 1 10-6 10 3 10 0 10 3 10-2 10 2 10 1 10-1 10 1 10 3 10-2 10 1 10-1 10 1 10 2 10-4 10-1 10-1 10 3 10-4 10 2 10 4 10-5 10 3 10-4 10 0 10 1 10-4 10-3 10 4 10-1 10 1 10 3 10-3 10-4 10 3 10-4 10-1 10 9 10-6 10-3 10 5 10-1 10 2 10-1 10 0 10 2 10-2 10-1 10 3 10-2 10 3 10-2 10 0 10 0 10 2 10 1 10-3 10-3 10 6 10-3 10 3 10-2 10 2 10-1 10-1 10-1 10 2 10 1 10-3 10-2 10 5 10 4 10-7 10 1 10-2 10-1 10 5 10-6 10 3 10-2 10 2 10 2 10-3 10-2 10 3 10-3 10-4 10 6 10-4 10 1 10 4 10-3 10-1" stroke="#ff5a5a" stroke-width="10"/>
<path transform="scale(.1)" d="M741 7033l10-1 10 0 10-2 10 1 10-1 10 3 10-6 10 10 10-18 10 10 10 2 10-4 10-2 10 2 10 2 10 1 10-8 10 5 10-3 10 5 10-5 10 1 10 3 10-4 10 1 10-3 10 1 10-6 10 4 10 0 10 0 10 8 10-14 10 0 10 8 10 1 10-2 10 3 10 3 10-8 10-3 10 3 10 5 10-2 10-1 10 2 10 0 10-5 10 7 10-3 10 2 10 0 10 2 10 2 10-5 10 1 10 1 10-2 10-4 10 3 10-4 10-1 10 0 10 1 10-10 10-1 10-1 10-6 10 0 10 1 10-12 10 5 10-4 10 8 10-5 10-1 10-2 10 1 10 6 10 4 10 2 10 8 10 0 10-3 10 3 10 4 10-3 10 4 10 0 10 4 10 2 10-1 10 7 10-4 10 5 10-4 10 1 10 1 10 2 10 4 10-6 10 10 10-8 10 9 10-4 10-1 10 5 10-4 10 2 10 0 10 8 10-13 10 9 10-8 10-2 10 0 10 5 10-5 10-2 10 3 10-1 10 1 10-7 10 8 10-2 10-6 10 0 10 2 10-3 10 3 10-1 10-3 10-4 10-3 10 6 10-5 10 7 10 1 10-6 10 5 10 3 10 1 10-4 10 3 10 3 10 4 10 0 10 5 10 6 10-5 10 2 10-2 10 3 10 4 10 2 10-3 10-4 10 8 10-13 10 4 10-2 10 2 10 2 10 1 10 16 10-1 10 0 10-7 10-8 10 3 10-6 10-6 10-9 10-19 10-22 10-18 10-13 10-19 10-18 10-18 10-8 10-8 10-1 10 6 10 4 10 7 10 10 10-4 10-2 10-11 10-1 10-10 10 20 10 29 10 12 10 26 10 29 10 18 10 19 10 15 10 12 10 11 10 10 10 17 10 6 10 11 10-3 10-13 10 0 10-12 10 2 10-17 10-7 10-16 10-15 10-1 10-1 10-3 10 11 10-9 10-3 10 8 10 15 10 11 10 9 10 14 10 11 10 8 10 5 10 11 10 1 10 8 10 6 10 0 10 1 10 7 10-8 10 2 10 3 10-4 10-3 10-2 10 0 10 10 10 6 10 2 10 0 10 5 10 0 10 3 10 10 10 2 10-4 10 2 10 7 10-4 10 10 10 2 10-5 10-1 10 0 10-4 10-8 10-5 10-5 10-1 10-1 10-3 10-1 10 1 10-1 10-1 10-3 10 4 10 5 10 0 10 7 10 0 10 4 10 4 10-7 10 6 10-1 10-10 10-4 10 0 10 0 10 0 10-9 10-3 10-11 10-3 10-9 10-7 10-11 10-6 10 2 10-7 10 1 10-3 10 0 10-3 10 6 10 1 10-1 10 9 10-4 10 6 10-6 10 0 10-3 10 6 10-6 10-6 10-1 10-3 10-2 10-3 10 4 10-3 10-5 10 3 10 2 10 0 10 0 10 5 10 2 10 6 10-6 10 5 10 0 10-6 10-2 10-9 10-2 10-6 10 1 10-6 10-5 10-1 10 1 10-5 10-9 10 18 10-4 10 8 10-2 10 7 10 6 10 1 10-1 10 8 10-7 10 2 10 8 10-5 10-5 10 8 10 1 10 5 10 5 10-3 10 6 10 0 10 0 10 3 10 3 10-2 10 8 10-8 10-4 10 2 10-6 10 3 10-1 10-8 10-6 10-4 10-1 10-2 10-2 10-8 10 0 10-4 10 8 10 5 10 3 10-3 10 1 10 12 10-5 10 0 10 2 10-1 10 3 10 1 10-3 10-2 10 2 10-10 10 12 10-5 10-2 10 4 10 0 10-4 10 0 10-1 10 5 10 2 10-1 10 6 10 3 10 0 10 9 10-7 10-3 10 6 10-11 10-9 10-4 10-6 10-1 10-3 10-5 10-1 10 5 10 2 10-6 10-2 10 0 10 10 10 3 10-1 10-2 10 0 10 6 10-5 10-4 10-6 10 4 10-1 10-4 10 6 10-8 10 5 10-4 10-2 10 3" stroke="#40f040" stroke-width="10"/>
<path transform="scale(.1)" d="M741 6894l10 4 10-4 10 4 10-5 10 6 10-2 10 3 10-1 10-2 10 0 10 2 10-2 10-2 10 4 10-7 10 6 10 5 10-3 10-5 10 6 10-2 10-2 10 0 10 2 10 2 10-2 10 5 10-6 10 4 10-6 10 0 10 4 10 1 10 5 10-6 10 2 10-3 10 3 10 1 10-2 10 4 10 1 10-2 10-1 10-1 10 3 10-4 10 5 10-4 10 2 10-3 10 0 10 1 10 3 10-1 10 0 10 3 10-5 10 5 10-3 10 1 10 2 10 6 10 3 10-4 10 0 10 0 10 6 10 2 10 3 10 3 10 5 10 0 10 4 10 1 10 1 10-2 10 3 10-4 10-2 10-2 10-1 10-2 10-8 10 3 10 0 10-2 10-4 10 0 10-7 10 3 10-3 10-1 10-1 10-3 10-5 10-3 10 3 10 0 10-1 10 1 10-3 10-2 10-6 10 5 10-3 10 4 10-5 10-5 10 3 10 1 10-3 10-2 10 6 10-2 10 1 10 1 10 0 10 3 10-1 10 0 10 2 10-2 10-2 10 4 10-3 10 4 10-2 10 3 10 4 10-1 10-3 10-1 10 3 10 4 10-1 10-7 10 4 10-3 10-1 10 0 10-8 10 2 10-3 10 1 10-6 10-4 10 2 10 0 10-2 10 0 10 2 10 0 10 1 10 0 10 6 10-4 10 2 10 4 10-3 10-9 10-1 10-3 10 0 10-8 10 2 10 6 10 4 10-1 10 7 10 5 10-2 10 13 10 6 10 3 10 15 10 17 10 26 10 17 10 25 10 1 10 8 10 4 10 7 10-10 10-15 10-13 10-8 10-13 10 6 10 7 10 3 10-11 10-17 10-17 10-14 10-16 10-18 10-20 10-14 10-10 10-13 10-13 10-17 10-10 10-14 10 1 10 5 10 5 10 10 10 5 10 14 10 10 10 5 10 18 10 8 10 7 10 2 10-1 10 13 10-4 10-8 10-2 10-15 10 2 10-8 10-5 10-4 10-7 10-5 10-9 10-3 10-3 10 5 10 1 10 5 10 1 10-1 10-1 10 2 10-5 10-1 10-4 10 0 10-8 10-8 10 2 10-3 10 1 10-8 10-2 10 6 10 3 10 0 10 6 10-2 10-5 10-8 10-10 10-2 10 2 10 0 10 10 10-8 10 7 10 4 10-1 10 2 10 1 10 3 10 8 10 2 10-7 10 0 10-2 10 0 10-6 10 3 10-6 10 0 10-3 10 6 10-2 10 4 10 0 10 4 10 1 10 9 10-2 10 10 10 2 10 8 10 0 10 11 10-6 10 11 10-2 10 6 10 5 10 1 10-3 10-6 10-7 10-2 10-2 10-8 10-4 10-3 10-4 10 0 10-3 10 0 10 3 10-1 10 5 10 4 10 1 10 2 10 3 10 0 10 0 10-7 10 7 10-1 10 1 10 2 10 3 10-4 10 11 10-1 10 1 10-1 10 1 10 10 10-3 10 4 10 3 10 3 10 10 10 1 10-4 10 3 10 9 10 0 10-7 10-4 10-1 10-8 10-5 10 9 10-10 10-4 10 3 10-5 10 0 10-1 10-3 10 3 10-2 10-2 10 0 10-2 10-6 10 2 10-3 10-7 10 1 10-5 10 0 10 4 10 3 10 4 10-2 10 8 10-2 10 9 10 8 10 0 10 7 10 5 10 7 10-10 10-2 10 2 10-2 10-3 10-5 10-1 10 3 10-7 10 2 10 0 10-7 10 0 10 2 10-3 10 0 10-2 10 2 10 0 10 6 10-3 10 0 10 4 10-2 10 0 10 3 10-6 10 4 10 0 10-3 10-2 10-2 10-4 10 3 10-4 10 8 10 0 10 13 10 0 10-2 10 5 10 5 10 8 10 5 10 8 10 1 10-9 10 3 10-4 10 3 10 3 10 3 10 3 10 6 10-3 10 4 10-1 10-5 10 4 10 8 10 10 10 1 10 8 10-4 10 3 10-8 10 2 10 4" stroke="#404040" stroke-width="10"/>
<path transform="scale(.1)" d="M741 6682l10 5 10 4 10-3 10 1 10-5 10 4 10 0 10 4 10-2 10-1 10-2 10 0 10 3 10 4 10-10 10-3 10 15 10-1 10-3 10 0 10-3 10 1 10-3 10 6 10-2 10-6 10 4 10 0 10-1 10 8 10-3 10-14 10 12 10 1 10 1 10-2 10-9 10 8 10-2 10 4 10-4 10-6 10 10 10-9 10 8 10-2 10-3 10-5 10 5 10 0 10 2 10 1 10 6 10-4 10 3 10-7 10 2 10 5 10 0 10-2 10-4 10-3 10 7 10-9 10 0 10 5 10-6 10-3 10 3 10-2 10 5 10-4 10-1 10 11 10-3 10-3 10 0 10-3 10 3 10-1 10 8 10 1 10-4 10 1 10 3 10-1 10 2 10 0 10 0 10 1 10-5 10 5 10-8 10 7 10-1 10 2 10-2 10 2 10-6 10 3 10-2 10 3 10-1 10-3 10-1 10-2 10 1 10 1 10 0 10-3 10-3 10 1 10 5 10-6 10 2 10-7 10 10 10-3 10-2 10 1 10 3 10-3 10 1 10-1 10-4 10-2 10 8 10-6 10 4 10-1 10-6 10-2 10 0 10 6 10-6 10-2 10 2 10-6 10 0 10 1 10 3 10-3 10 4 10 4 10-3 10 2 10 5 10-3 10 4 10 6 10 0 10 8 10-4 10-2 10 9 10 0 10 0 10-8 10 2 10 2 10-5 10 1 10-7 10 4 10 0 10 5 10-7 10 7 10-2 10 0 10-3 10-5 10-4 10 2 10-7 10-1 10-17 10-15 10-13 10-16 10 3 10-9 10 3 10 3 10-4 10 4 10-8 10-7 10 4 10-7 10-6 10-8 10-10 10 38 10 37 10-1 10 6 10 2 10 6 10 0 10-1 10-4 10-3 10 2 10 1 10-2 10 5 10-9 10-4 10 0 10 2 10-8 10-2 10-9 10 0 10 3 10 6 10 4 10 6 10-1 10 13 10 8 10-4 10 8 10 12 10 5 10 5 10-1 10-2 10 3 10 9 10-2 10-3 10 7 10 2 10-3 10 2 10-2 10-2 10-4 10 3 10 1 10-4 10 7 10 5 10-2 10 0 10 1 10-1 10 9 10-4 10 1 10 10 10 0 10-3 10 4 10 3 10 1 10-11 10 1 10-4 10 2 10-5 10 1 10 2 10-6 10-5 10 2 10 1 10-7 10 9 10-4 10 1 10 1 10-3 10 3 10-1 10-3 10 5 10 1 10 4 10 2 10-11 10 4 10-3 10 1 10 1 10 2 10-11 10 3 10 0 10-9 10 1 10-3 10 0 10-6 10-6 10 5 10 5 10 1 10 0 10 2 10-10 10 2 10-1 10-11 10 3 10-3 10-3 10 7 10-10 10 3 10-6 10-2 10 2 10 1 10-5 10 2 10-2 10 5 10-2 10 0 10 4 10 4 10 3 10 3 10 6 10 0 10 4 10-5 10 2 10-5 10 3 10-7 10 1 10 4 10-4 10-9 10 3 10-1 10-3 10-4 10 1 10 12 10-3 10 6 10 3 10-2 10 6 10 0 10-3 10 4 10 0 10 2 10-2 10 0 10 0 10-3 10 4 10-3 10-2 10-1 10 1 10-2 10-2 10 4 10 4 10 2 10-4 10-2 10 12 10-9 10 0 10-5 10 1 10-3 10-2 10 0 10 0 10-2 10-2 10-7 10 6 10-6 10 4 10-3 10 7 10 1 10 0 10 1 10 1 10 7 10-6 10-2 10 1 10 1 10-1 10 0 10 0 10 3 10 2 10-7 10 2 10 2 10 5 10 3 10-1 10-2 10 2 10-4 10 2 10 0 10-3 10 2 10 3 10-6 10 2 10-3 10-6 10 7 10-7 10-2 10 6 10 1 10 3 10 1 10 4 10-1 10 4 10 0 10-3 10 6 10 3 10 1 10 2 10 1 10 7 10-2 10-2 10 7 10-1 10 1 10 0 10-6 10-1 10 5 10 5 10-3 10-7" stroke="#4d4dff" stroke-width="10"/>
</g>
<g clip-path="url(#c9)" fill="none" stroke-linejoin="round">
<path d="M668.7 91.5H1122.6" stroke="#202020" stroke-width="1.0" stroke-dasharray="5 2.5"/>
<path transform="scale(.1)" d="M6713 522l10 3 10-4 10 3 10-2 10 0 10 4 10-3 10 0 10 1 10 1 10-2 10 1 10-3 10 1 10 0 10-1 10-1 10 0 10 3 10 0 10 0 10 1 10-3 10 3 10 0 10 2 10-3 10 1 10-3 10 4 10-3 10 2 10 5 10-6 10 7 10-1 10-1 10 2 10 1 10 1 10-2 10 0 10 0 10 0 10 2 10-1 10 4 10-6 10 2 10 1 10-2 10 8 10-8 10 4 10 0 10 5 10-7 10 6 10-3 10 2 10 1 10 4 10-3 10 4 10 2 10 4 10-7 10 9 10 0 10-1 10 3 10 0 10 6 10-1 10 1 10 1 10 1 10-2 10-3 10 4 10-10 10-5 10 6 10-2 10-1 10-2 10-2 10 0 10 0 10-5 10-1 10 3 10-4 10-5 10 5 10-4 10-5 10-2 10 1 10-4 10-2 10-2 10 0 10 2 10-5 10-3 10 2 10-1 10 1 10 1 10-2 10 0 10 1 10-2 10 3 10 2 10-2 10-1 10 1 10-1 10 0 10 1 10 0 10 1 10-2 10 5 10 0 10-2 10-2 10 5 10 3 10-3 10 1 10 1 10 3 10-3 10 5 10-4 10 1 10-3 10-2 10-4 10 1 10-1 10 1 10-3 10-3 10 1 10 0 10-2 10 0 10 1 10 2 10 0 10-2 10 3 10-1 10 0 10 5 10-2 10-3 10 1 10 1 10-3 10 8 10 8 10 1 10 11 10 7 10 2 10-2 10 6 10 0 10 5 10 6 10 21 10 19 10 13 10 11 10 6 10 11 10 0 10-8 10-1 10-11 10-6 10-25 10-17 10-10 10-10 10 10 10 12 10 9 10 13 10-8 10-5 10-5 10-9 10-7 10-15 10-12 10-12 10-14 10-18 10-26 10-6 10-4 10 5 10-1 10 15 10 7 10 9 10 7 10 4 10 5 10 1 10 4 10-7 10-2 10-1 10 3 10-6 10 6 10 1 10 3 10-10 10-10 10-6 10-7 10-7 10-13 10-2 10-2 10-5 10-2 10 3 10 2 10 2 10 5 10-2 10 6 10 2 10 1 10-1 10-2 10-1 10-2 10 2 10-6 10 1 10-2 10-3 10 0 10-4 10 2 10-5 10-1 10 0 10 0 10-1 10-2 10 0 10 0 10 4 10 1 10-1 10 6 10 0 10-1 10 2 10-4 10 1 10 2 10-5 10 3 10-4 10 4 10-4 10 1 10-4 10 3 10 5 10 1 10-2 10 8 10 2 10 0 10 6 10-3 10 3 10 5 10 2 10 2 10-2 10 1 10 7 10-1 10 5 10 1 10 7 10-5 10-4 10-5 10-4 10-5 10-2 10-1 10 0 10-2 10 4 10-4 10 2 10 1 10-2 10 1 10 9 10-1 10 4 10 2 10 2 10-2 10 2 10 0 10 2 10-4 10 7 10 0 10-4 10 3 10 2 10 2 10-1 10 4 10-2 10-1 10 2 10 4 10-2 10 4 10 2 10 0 10 2 10-1 10 1 10-3 10-3 10-5 10-1 10-4 10-1 10 3 10 0 10-2 10 3 10-1 10 0 10-4 10-2 10 3 10-2 10 0 10-3 10 0 10-5 10 0 10-4 10-5 10 4 10 5 10-6 10 7 10-2 10 2 10 4 10 2 10 1 10 4 10 4 10 3 10-1 10 7 10 1 10 1 10-8 10 3 10-4 10 5 10 0 10-3 10-1 10 5 10 1 10-2 10 2 10-4 10 4 10 2 10 0 10 3 10-6 10-3 10 5 10-2 10 1 10 0 10 0 10 1 10-1 10-6 10 2 10 3 10-6 10 2 10-4 10-1 10 3 10 1 10 0 10 4 10-3 10 3 10 5 10-1 10-3 10 2 10-1 10 1 10-1 10-4 10 2 10 2 10 2 10 5 10 2 10 1 10 0 10 0 10 5 10 1 10 4 10 0 10 5 10 7 10-1 10-2 10 2 10 3 10-1" stroke="#ff4d4d" stroke-width="10"/>
<path transform="scale(.1)" d="M6713 1016l10 1 10-2 10 1 10 1 10-1 10 2 10-5 10 2 10-2 10 0 10 1 10 1 10 0 10 0 10 3 10-3 10-5 10 4 10-2 10 0 10 3 10-3 10-3 10 4 10-1 10-2 10 1 10 1 10 2 10-1 10 2 10 4 10-5 10 0 10 2 10 3 10-3 10 4 10-5 10 1 10 3 10-2 10 2 10 4 10 2 10 1 10 1 10 5 10 0 10 0 10 5 10-2 10 3 10 1 10 0 10-1 10 2 10-1 10 1 10-1 10 6 10-4 10 6 10 1 10 1 10 5 10 2 10 2 10 0 10 1 10 0 10-3 10-1 10-1 10-4 10 2 10-8 10 2 10-6 10 6 10-2 10 2 10-5 10-4 10 6 10-6 10-1 10 1 10 1 10-3 10 0 10-5 10 6 10-5 10-2 10-1 10-2 10-2 10-4 10-1 10 0 10-1 10-4 10-2 10 1 10 0 10-1 10-1 10-1 10 3 10-2 10 0 10 7 10-4 10 0 10 0 10-1 10 5 10-2 10 1 10 3 10 1 10-2 10-1 10 4 10-4 10-4 10 3 10-2 10-1 10 1 10-2 10 5 10-1 10 3 10 4 10 0 10 5 10 1 10 2 10-5 10 2 10-5 10 1 10 0 10 0 10 1 10-2 10-8 10-1 10 2 10-3 10-8 10-1 10-8 10-4 10-6 10-3 10 0 10-11 10-8 10-2 10-13 10-7 10-9 10-7 10-11 10-5 10-13 10-3 10-6 10-8 10-6 10-3 10-9 10 0 10-4 10-4 10-4 10 5 10 3 10 6 10 0 10 13 10 5 10 11 10 7 10 9 10 9 10 14 10 5 10 10 10 13 10 11 10 10 10 5 10-1 10 2 10-5 10 2 10-2 10-5 10-7 10-13 10-44 10-30 10-17 10-18 10-14 10-3 10-7 10-3 10-2 10-5 10 8 10 12 10 10 10 12 10 10 10 12 10 17 10 7 10 8 10 11 10 7 10 14 10 15 10-3 10 8 10 25 10 28 10-47 10-23 10-2 10 4 10 4 10 13 10 11 10 6 10 2 10 7 10-2 10 4 10-4 10-2 10-3 10 1 10-10 10-2 10-6 10-10 10-7 10-5 10 1 10 6 10-8 10 10 10 2 10 10 10 2 10-3 10 1 10 2 10 0 10-3 10 2 10-1 10 1 10-3 10-2 10-4 10 0 10-5 10 0 10 4 10 3 10 3 10 0 10 9 10 2 10 4 10 0 10 1 10-5 10-5 10-1 10-9 10-3 10-11 10-2 10-8 10-8 10 3 10 8 10 13 10 12 10-2 10 11 10 3 10 0 10 2 10 2 10 2 10 3 10 7 10-4 10 5 10 3 10-3 10 2 10 3 10-3 10 5 10 2 10-4 10 1 10 14 10 10 10 9 10 3 10 1 10 1 10 2 10-3 10-1 10-1 10 3 10-10 10-4 10 1 10-7 10-3 10-10 10-9 10-6 10-5 10-8 10-2 10 5 10 0 10-3 10 5 10 3 10 1 10 10 10 1 10 5 10-1 10-1 10 1 10-4 10-3 10-1 10-1 10 1 10 2 10 3 10 7 10-1 10-1 10 6 10-6 10-3 10 0 10-2 10 5 10-5 10 2 10 7 10 6 10 4 10 6 10 2 10-1 10-6 10 1 10-3 10 1 10 2 10 2 10 8 10 3 10 2 10 5 10 8 10 8 10 2 10 10 10 1 10 4 10-1 10 0 10-6 10 2 10 0 10-8 10 2 10-1 10 0 10-2 10-4 10 6 10-5 10 2 10 7 10 0 10-2 10 6 10 2 10-3 10-4 10-4 10-3 10 1 10-2 10-4 10-4 10-1 10-8 10-3 10 1 10-9 10-4 10 0 10-9 10 3 10-10 10-2 10-5 10-3 10-3 10 0 10-1 10 7 10 2 10-1 10 7 10-2 10-2 10-2 10-2 10-2 10 2 10 16 10 11 10 14 10 0 10 5" stroke="#40f040" stroke-width="10"/>
<path transform="scale(.1)" d="M6713 938l10 0 10 3 10-6 10 3 10-4 10 6 10-2 10 2 10-4 10 1 10-2 10-1 10 1 10-3 10 1 10 2 10-2 10-1 10 5 10-5 10-2 10 2 10-2 10 0 10-1 10 5 10-5 10 0 10 0 10 2 10-5 10-1 10 6 10-9 10 2 10 1 10 3 10-7 10-3 10 5 10-3 10 0 10 1 10-1 10-1 10-3 10 3 10-1 10-4 10-2 10 2 10-2 10-4 10 1 10 2 10-4 10-1 10 0 10-1 10-1 10-4 10 7 10-3 10-3 10 4 10-2 10-1 10 2 10 2 10-4 10 2 10 1 10-7 10 1 10 2 10-5 10 2 10 2 10-1 10-1 10-5 10 7 10-4 10 0 10-1 10-5 10 0 10 0 10 6 10-6 10 0 10 0 10 1 10 0 10-1 10-3 10-4 10 6 10 0 10 2 10-3 10-1 10 1 10-4 10 1 10 0 10 2 10 5 10-2 10 2 10 0 10 1 10 0 10 1 10-3 10 4 10 1 10 6 10 1 10 2 10 2 10-2 10 4 10 4 10-3 10 4 10-1 10-4 10 2 10-3 10 0 10-2 10 0 10-6 10 7 10-3 10-5 10-4 10-2 10-2 10-4 10-4 10-9 10-2 10 2 10-6 10-8 10-3 10-6 10-3 10 0 10-7 10 0 10-4 10-5 10 0 10 4 10-8 10-3 10 0 10-6 10-5 10-8 10-20 10-9 10-17 10-14 10-13 10-9 10-13 10 0 10 4 10 8 10 2 10-17 10-5 10-3 10 3 10 8 10 11 10 11 10 9 10 6 10 24 10 24 10 29 10 29 10 36 10 32 10 36 10 34 10 34 10 35 10 34 10 12 10 16 10-5 10-18 10-11 10 7 10 9 10 10 10 16 10-7 10-39 10-25 10-5 10-6 10-2 10-6 10-4 10-5 10 3 10-1 10 1 10 6 10 11 10 4 10 4 10-6 10-3 10-4 10 4 10 6 10 8 10-10 10-11 10 2 10 4 10-1 10 4 10-130 10-13 10-3 10-8 10-3 10-3 10-7 10-5 10 1 10-12 10-5 10-5 10-3 10-5 10-3 10-5 10-4 10 1 10 0 10 3 10 15 10 16 10 12 10 5 10 0 10-6 10-9 10-19 10-13 10 7 10 11 10 6 10 5 10 8 10 7 10 3 10 5 10 6 10 4 10 2 10-15 10-8 10-11 10-10 10 2 10-7 10-5 10 1 10-15 10-14 10-10 10-11 10-4 10-2 10-1 10 0 10 0 10 5 10 10 10 7 10 5 10-5 10-4 10 8 10 7 10 12 10-1 10 3 10-1 10 8 10 15 10 10 10 5 10 16 10 10 10 1 10-1 10-8 10-9 10-1 10-2 10-2 10-1 10 5 10-2 10 6 10 2 10 1 10-7 10-3 10-8 10-7 10-2 10-2 10 1 10 3 10-3 10-2 10 0 10 5 10 0 10 1 10-2 10-3 10-6 10-4 10 3 10 10 10 3 10 3 10 12 10 2 10 8 10-7 10 2 10 2 10 2 10-8 10-11 10-10 10-6 10-10 10-9 10 10 10 4 10 7 10 3 10 9 10 5 10 6 10 9 10-1 10-7 10-6 10-10 10-4 10 0 10 0 10 1 10 3 10-1 10 0 10 1 10-5 10 1 10-5 10 1 10 2 10-5 10 5 10 0 10 3 10 2 10 4 10-1 10 4 10-3 10 1 10 1 10 3 10-1 10-3 10-2 10-4 10 3 10-4 10-5 10-6 10-7 10-1 10 8 10 3 10 6 10 10 10 3 10-1 10 3 10 2 10 5 10-1 10 3 10 1 10 1 10-4 10 1 10-3 10-1 10 0 10 0 10 1 10-4 10 2 10 3 10 4 10 4 10-1 10 5 10 0 10 4 10-3 10-1 10 1 10 1 10-1 10 2 10 0 10 0 10 0 10 2 10-3 10 2 10 0 10-4 10 5 10-2 10 1 10 1" stroke="#4d4dff" stroke-width="10"/>
</g>
<path d="M834 41.7V115.4" stroke="#3cc43c" stroke-width="1.9" stroke-dasharray="8.2 4.1" fill="none"/>
<path d="M887.8 41.7V115.4" stroke="#30b830" stroke-width="1.5" stroke-dasharray="8.2 4.1" fill="none"/>
<path d="M845.7 41.7V115.4" stroke="#1a1aff" stroke-width="1.3" stroke-dasharray="2 3" fill="none"/>
<path d="M847.5 41.7V115.4" stroke="#ff1010" stroke-width="1.4" stroke-dasharray="8.2 4.1" fill="none"/>
<path d="M874.4 41.7V115.4" stroke="#ff1010" stroke-width="1.4" stroke-dasharray="8.2 4.1" fill="none"/>
<path d="M875.6 41.7V115.4" stroke="#ff00ff" stroke-width="1.2" stroke-dasharray="2 3" fill="none"/>
<path d="M902.5 41.7V115.4" stroke="#ff00ff" stroke-width="1.2" stroke-dasharray="2 3" fill="none"/>
<path d="M834 189.7V263.7" stroke="#3cc43c" stroke-width="1.9" stroke-dasharray="8.2 4.1" fill="none"/>
<path d="M887.8 189.7V263.7" stroke="#30b830" stroke-width="1.5" stroke-dasharray="8.2 4.1" fill="none"/>
<path d="M845.7 189.7V263.7" stroke="#1a1aff" stroke-width="1.3" stroke-dasharray="2 3" fill="none"/>
<path d="M847.5 189.7V263.7" stroke="#ff1010" stroke-width="1.4" stroke-dasharray="8.2 4.1" fill="none"/>
<path d="M874.4 189.7V263.7" stroke="#ff1010" stroke-width="1.4" stroke-dasharray="8.2 4.1" fill="none"/>
<path d="M875.6 189.7V263.7" stroke="#ff00ff" stroke-width="1.2" stroke-dasharray="2 3" fill="none"/>
<path d="M902.5 189.7V263.7" stroke="#ff00ff" stroke-width="1.2" stroke-dasharray="2 3" fill="none"/>
<path d="M834 263.7V337.5" stroke="#3cc43c" stroke-width="1.9" stroke-dasharray="8.2 4.1" fill="none"/>
<path d="M887.8 263.7V337.5" stroke="#30b830" stroke-width="1.5" stroke-dasharray="8.2 4.1" fill="none"/>
<path d="M845.7 263.7V337.5" stroke="#1a1aff" stroke-width="1.3" stroke-dasharray="2 3" fill="none"/>
<path d="M847.5 263.7V337.5" stroke="#ff1010" stroke-width="1.4" stroke-dasharray="8.2 4.1" fill="none"/>
<path d="M874.4 263.7V337.5" stroke="#ff1010" stroke-width="1.4" stroke-dasharray="8.2 4.1" fill="none"/>
<path d="M875.6 263.7V337.5" stroke="#ff00ff" stroke-width="1.2" stroke-dasharray="2 3" fill="none"/>
<path d="M902.5 263.7V337.5" stroke="#ff00ff" stroke-width="1.2" stroke-dasharray="2 3" fill="none"/>
<path d="M834 337.5V411.2" stroke="#3cc43c" stroke-width="1.9" stroke-dasharray="8.2 4.1" fill="none"/>
<path d="M887.8 337.5V411.2" stroke="#30b830" stroke-width="1.5" stroke-dasharray="8.2 4.1" fill="none"/>
<path d="M845.7 337.5V411.2" stroke="#1a1aff" stroke-width="1.3" stroke-dasharray="2 3" fill="none"/>
<path d="M847.5 337.5V411.2" stroke="#ff1010" stroke-width="1.4" stroke-dasharray="8.2 4.1" fill="none"/>
<path d="M874.4 337.5V411.2" stroke="#ff1010" stroke-width="1.4" stroke-dasharray="8.2 4.1" fill="none"/>
<path d="M875.6 337.5V411.2" stroke="#ff00ff" stroke-width="1.2" stroke-dasharray="2 3" fill="none"/>
<path d="M902.5 337.5V411.2" stroke="#ff00ff" stroke-width="1.2" stroke-dasharray="2 3" fill="none"/>
<path d="M834 411.2V484.7" stroke="#3cc43c" stroke-width="1.9" stroke-dasharray="8.2 4.1" fill="none"/>
<path d="M887.8 411.2V484.7" stroke="#30b830" stroke-width="1.5" stroke-dasharray="8.2 4.1" fill="none"/>
<path d="M845.7 411.2V484.7" stroke="#1a1aff" stroke-width="1.3" stroke-dasharray="2 3" fill="none"/>
<path d="M847.5 411.2V484.7" stroke="#ff1010" stroke-width="1.4" stroke-dasharray="8.2 4.1" fill="none"/>
<path d="M874.4 411.2V484.7" stroke="#ff1010" stroke-width="1.4" stroke-dasharray="8.2 4.1" fill="none"/>
<path d="M875.6 411.2V484.7" stroke="#ff00ff" stroke-width="1.2" stroke-dasharray="2 3" fill="none"/>
<path d="M902.5 411.2V484.7" stroke="#ff00ff" stroke-width="1.2" stroke-dasharray="2 3" fill="none"/>
<path d="M834 484.7V558.8" stroke="#3cc43c" stroke-width="1.9" stroke-dasharray="8.2 4.1" fill="none"/>
<path d="M887.8 484.7V558.8" stroke="#30b830" stroke-width="1.5" stroke-dasharray="8.2 4.1" fill="none"/>
<path d="M845.7 484.7V558.8" stroke="#1a1aff" stroke-width="1.3" stroke-dasharray="2 3" fill="none"/>
<path d="M847.5 484.7V558.8" stroke="#ff1010" stroke-width="1.4" stroke-dasharray="8.2 4.1" fill="none"/>
<path d="M874.4 484.7V558.8" stroke="#ff1010" stroke-width="1.4" stroke-dasharray="8.2 4.1" fill="none"/>
<path d="M875.6 484.7V558.8" stroke="#ff00ff" stroke-width="1.2" stroke-dasharray="2 3" fill="none"/>
<path d="M902.5 484.7V558.8" stroke="#ff00ff" stroke-width="1.2" stroke-dasharray="2 3" fill="none"/>
<path d="M834 558.8V633" stroke="#3cc43c" stroke-width="1.9" stroke-dasharray="8.2 4.1" fill="none"/>
<path d="M887.8 558.8V633" stroke="#30b830" stroke-width="1.5" stroke-dasharray="8.2 4.1" fill="none"/>
<path d="M845.7 558.8V633" stroke="#1a1aff" stroke-width="1.3" stroke-dasharray="2 3" fill="none"/>
<path d="M847.5 558.8V633" stroke="#ff1010" stroke-width="1.4" stroke-dasharray="8.2 4.1" fill="none"/>
<path d="M874.4 558.8V633" stroke="#ff1010" stroke-width="1.4" stroke-dasharray="8.2 4.1" fill="none"/>
<path d="M875.6 558.8V633" stroke="#ff00ff" stroke-width="1.2" stroke-dasharray="2 3" fill="none"/>
<path d="M902.5 558.8V633" stroke="#ff00ff" stroke-width="1.2" stroke-dasharray="2 3" fill="none"/>
<path d="M834 633V706.3" stroke="#3cc43c" stroke-width="1.9" stroke-dasharray="8.2 4.1" fill="none"/>
<path d="M887.8 633V706.3" stroke="#30b830" stroke-width="1.5" stroke-dasharray="8.2 4.1" fill="none"/>
<path d="M845.7 633V706.3" stroke="#1a1aff" stroke-width="1.3" stroke-dasharray="2 3" fill="none"/>
<path d="M847.5 633V706.3" stroke="#ff1010" stroke-width="1.4" stroke-dasharray="8.2 4.1" fill="none"/>
<path d="M874.4 633V706.3" stroke="#ff1010" stroke-width="1.4" stroke-dasharray="8.2 4.1" fill="none"/>
<path d="M875.6 633V706.3" stroke="#ff00ff" stroke-width="1.2" stroke-dasharray="2 3" fill="none"/>
<path d="M902.5 633V706.3" stroke="#ff00ff" stroke-width="1.2" stroke-dasharray="2 3" fill="none"/>
<g clip-path="url(#c10)" fill="none" stroke-linejoin="round">
<path d="M668.7 232.4H1122.6" stroke="#202020" stroke-width="1.0" stroke-dasharray="5 2.5"/>
<path transform="scale(.1)" d="M6690 2332l6 0 6 16 6-20 6 3 6-26 6 4 6 5 6 18 6-18 6 15 6-9 6-18 6-3 6 5 6 23 6 30 6-34 6 24 6-12 6-26 6 8 6 2 6-2 6 7 6 14 6 21 6-23 6 7 6 8 6-31 6 0 6-1 6 9 6-12 6 29 6-20 6 22 6-21 6 4 6-1 6-8 6 5 6-5 6-27 6 1 6-13 6 1 6 9 6-1 6 41 6 16 6-19 6 7 6 9 6-8 6-3 6-28 6-6 6 12 6-2 6 0 6 20 6 15 6-4 6 5 6-5 6-31 6 24 6-18 6-33 6 13 6 24 6 13 6-8 6 15 6-24 6 0 6 11 6 4 6-25 6 3 6 24 6 32 6-26 6-1 6-8 6-15 6-3 6 2 6 9 6 20 6-9 6-8 6 6 6 27 6 6 6-8 6-37 6 13 6-9 6-3 6-18 6 15 6 0 6 0 6-8 6 10 6 17 6-21 6-16 6 27 6-14 6 5 6 1 6-5 6-20 6 33 6-11 6-18 6-13 6 19 6 24 6 15 6-21 6 34 6-24 6-1 6 3 6 15 6-24 6 2 6-32 6-11 6 17 6-6 6 24 6-35 6 29 6-7 6 44 6-19 6-22 6 0 6 14 6 12 6-30 6-14 6 26 6 3 6-12 6 0 6-1 6 49 6-27 6 25 6 17 6-28 6-17 6 1 6-13 6 6 6 14 6-2 6-24 6 13 6-10 6-6 6 2 6-3 6 5 6-3 6 10 6 10 6-14 6 7 6-3 6 11 6-3 6-29 6 31 6 5 6 4 6-25 6-28 6 42 6 1 6 1 6-24 6 34 6-17 6 8 6 11 6 29 6-32 6-14 6-16 6 22 6-11 6-24 6 17 6 19 6-1 6 8 6-2 6 10 6-20 6-15 6 8 6-25 6 59 6-25 6 25 6-19 6-9 6 2 6 4 6-14 6-4 6-27 6 22 6 30 6-7 6-1 6 0 6-15 6 20 6-17 6-1 6 2 6 0 6-13 6 4 6 10 6-12 6 5 6 7 6-21 6-11 6 2 6 24 6-13 6 46 6-15 6-29 6 3 6-6 6-8 6-3 6 47 6-26 6 9 6-21 6-14 6 18 6 14 6-22 6-31 6 18 6 13 6-21 6 32 6-14 6 0 6-2 6 26 6-17 6 9 6 3 6-29 6-9 6-36 6-12 6-5 6-52 6 16 6 0 6 25 6-29 6-13 6 68 6-25 6-55 6 75 6-22 6-22 6-41 6 45 6-13 6-5 6 16 6 40 6-31 6-34 6 17 6 42 6-12 6-67 6 28 6 9 6 9 6 48 6 65 6-47 6 7 6 38 6 43 6-27 6 29 6-21 6 22 6-22 6-13 6 25 6 48 6 6 6-112 6 51 6 19 6 20 6-31 6 40 6-33 6 35 6 28 6 27 6-46 6 98 6-34 6-28 6-2 6-43 6 60 6-2 6-4 6 26 6-19 6-18 6 105 6-11 6 79 6-77 6 68 6 47 6 28 6-82 6 23 6-101 6 21 6-22 6-82 6 26 6-31 6 46 6 8 6-21 6-4 6-87 6 9 6 20 6 19 6 94 6-41 6-60 6 20 6-7 6 7 6 12 6 20 6-25 6-11 6 44 6-59 6 14 6 28 6-27 6-5 6 13 6-7 6-48 6 21 6 20 6 67 6-43 6 39 6-44 6-31 6 6 6-41 6-41 6 32 6 93 6-40 6-1 6-13 6-12 6 40 6-57 6 36 6-13 6 63 6 5 6-61 6-10 6 35 6-34 6-35 6 43 6 15 6 1 6-26 6 18 6 9 6 3 6 6 6-18 6-2 6 3 6-24 6 2 6-10 6-8 6 21 6 19 6-38 6 1 6 22 6-15 6 21 6 5 6-5 6 10 6-27 6-21 6-7 6 14 6-1 6 39 6-15 6-2 6-10 6 35 6-32 6 1 6-25 6-8 6 1 6 4 6 8 6-3 6 13 6 1 6 27 6 19 6-31 6-25 6-14 6-1 6 26 6-14 6-38 6 15 6 43 6 1 6 8 6 11 6 14 6-43 6 2 6-47 6 23 6 17 6-3 6-15 6 28 6-35 6 22 6-21 6 7 6 30 6-14 6-19 6 53 6-40 6-13 6-4 6 16 6-18 6-21 6 14 6 16 6-24 6 4 6 37 6-33 6 26 6-3 6-33 6 32 6-24 6 20 6 11 6-11 6 19 6-17 6-12 6 31 6-4 6 2 6-7 6-11 6 3 6 32 6-19 6 21 6-17 6-18 6 31 6-24 6 20 6-11 6-11 6 7 6-21 6-21 6 14 6 22 6 26 6-24 6 1 6 3 6-6 6 9 6 37 6-12 6-30 6-24 6 20 6-25 6 30 6-8 6-2 6-6 6-16 6-18 6 35 6 4 6-19 6 52 6-15 6 0 6-29 6 40 6-13 6 2 6-39 6 20 6 47 6-46 6 25 6-12 6-34 6-28 6 24 6 28 6-2 6-32 6 0 6 21 6 30 6 25 6-48 6 17 6-4 6-13 6 21 6-23 6 6 6-25 6-14 6 23 6 23 6-19 6 15 6-11 6 50 6 7 6-39 6-24 6-35 6 25 6 57 6-15 6-44 6 39 6-26 6-6 6-20 6-15 6 72 6 3 6-18 6 1 6-13 6-16 6-3 6 23 6 14 6-33 6 20 6 15 6-15 6 9 6-24 6 5 6-6 6 43 6 11 6-23 6 25 6-15 6-9 6-23 6 22 6-23 6-4 6 7 6-12 6 8 6 14 6-43 6 34 6-16 6 41 6-13 6 14 6 7 6-22 6 23 6-30 6-8 6-11 6 24 6-6 6 22 6-55 6 28 6 17 6-18 6 11 6-8 6-6 6 10 6-19 6 9 6 30 6-56 6 34 6 21 6-20 6-1 6-4 6 6 6 15 6-22 6-22 6 9 6 2 6 33 6-23 6 45 6-37 6-2 6-18 6 26 6 0 6-19 6 11 6 4 6 14 6 12 6-18 6 7 6-26 6 26 6 18 6-10 6-20 6-11 6 8 6-34 6-1 6 19 6-14 6-1 6 43 6-5 6-22 6 29 6-7 6 8 6-23 6 0 6 3 6-19 6-3 6-7 6-6 6 27 6 20 6 22 6-30 6 5 6-13 6 34 6-8 6 1 6 12 6-11 6 6 6-31 6 11 6 37 6-13 6-24 6-10 6 33 6 11 6-25 6-10 6-32 6 8 6 1 6 35 6-1 6-24 6-5 6 23 6 6 6 6 6-1 6-29 6-31 6 3 6 35 6-42 6 40 6 33 6-1 6 4 6 5 6-50 6 10 6 8 6-18 6-10" stroke="#1a1aff" stroke-width="10"/>
<path transform="scale(.1)" d="M6690 2318l6-11 6 33 6 9 6-32 6 6 6-15 6 40 6-32 6-13 6 43 6-14 6-13 6-10 6 18 6-2 6 41 6-16 6-18 6 11 6 11 6 5 6 7 6 18 6 18 6-50 6-28 6 32 6 25 6-1 6-49 6 10 6-20 6 17 6-12 6 23 6-17 6 11 6-4 6-18 6 13 6-2 6-1 6 0 6 11 6 21 6-3 6-41 6 4 6 48 6-8 6-1 6-16 6 18 6-47 6 28 6-6 6-24 6 33 6 45 6-40 6 8 6-16 6 4 6-17 6-9 6-22 6 61 6-30 6 18 6-30 6 14 6-14 6 33 6-8 6 49 6-8 6-27 6-5 6-49 6-19 6 43 6-17 6 0 6 15 6 4 6 2 6-34 6 46 6-5 6 14 6-9 6 10 6-28 6-19 6 4 6 70 6-45 6 53 6-22 6-29 6 17 6 16 6-45 6 24 6-38 6 36 6 34 6-26 6-19 6-10 6 17 6-4 6-5 6 18 6 23 6-75 6 32 6 6 6 14 6 42 6-57 6 28 6-22 6 3 6-11 6-26 6 5 6 44 6-38 6 20 6-14 6 32 6 15 6-35 6 10 6-24 6 13 6 6 6 8 6-33 6 41 6 9 6-34 6 17 6-28 6 25 6-7 6-16 6 2 6 15 6-24 6 58 6-53 6-2 6-10 6 37 6 6 6-2 6 25 6-23 6-17 6-29 6 30 6 26 6 6 6 26 6-38 6-13 6 11 6-11 6-12 6 30 6-35 6 48 6-9 6-15 6 11 6-28 6-6 6 6 6 21 6 18 6-24 6-17 6 20 6 5 6 23 6-63 6 41 6-8 6 9 6 0 6-25 6-4 6 11 6-51 6 34 6 38 6 1 6-43 6-15 6 37 6-15 6 0 6-13 6 54 6-51 6-1 6 31 6-41 6 40 6-48 6 20 6-9 6-8 6-24 6-41 6 36 6 19 6-32 6 16 6 18 6 29 6 12 6-6 6-40 6 37 6-61 6 17 6 35 6-10 6-18 6-15 6 15 6 32 6-32 6 4 6-49 6 23 6 16 6-12 6 9 6 8 6 25 6-54 6 33 6 44 6-32 6 4 6-11 6 14 6-10 6 13 6-45 6 34 6-39 6 30 6-17 6-23 6 33 6-18 6 2 6 9 6-4 6-17 6-7 6 13 6-13 6 11 6 9 6-34 6 25 6-29 6-17 6 34 6 14 6-4 6 51 6-134 6 71 6-43 6 18 6-49 6-12 6 28 6 1 6 53 6-21 6-7 6-36 6 64 6-90 6 39 6-14 6-1 6 27 6-66 6 20 6 4 6-17 6 21 6-7 6 22 6-18 6 46 6 15 6-72 6 13 6 3 6 109 6-7 6-32 6-9 6 64 6-60 6-35 6-22 6 104 6-9 6 46 6-56 6-19 6 22 6 35 6 7 6-2 6-9 6-55 6-19 6 62 6-63 6 50 6-14 6 49 6-18 6-9 6-32 6-35 6 2 6 86 6-24 6-29 6 1 6-20 6-16 6 30 6 32 6-48 6 55 6-69 6 67 6-12 6-67 6 12 6-18 6-6 6-11 6 14 6-3 6-15 6 6 6 5 6 70 6-26 6 61 6-59 6-25 6 15 6-50 6 19 6 16 6 12 6 65 6-73 6 3 6 26 6-6 6 13 6-28 6-13 6 44 6-4 6 10 6 16 6-38 6-24 6 52 6-21 6-28 6-8 6 33 6 22 6-44 6 56 6 2 6-17 6 48 6-15 6-7 6-51 6 16 6 49 6 5 6-65 6 12 6 2 6 11 6-7 6 13 6 2 6 0 6-13 6-10 6 23 6 4 6-10 6 23 6-13 6-2 6-33 6 22 6 11 6-5 6-35 6 68 6 11 6-48 6 4 6 53 6-38 6 5 6 3 6-13 6-14 6 11 6-38 6 76 6 16 6-64 6 16 6 0 6 29 6 2 6-25 6-13 6-7 6 60 6-41 6 14 6-64 6 80 6-48 6 24 6-16 6-20 6-28 6 33 6 0 6 27 6-22 6-2 6-14 6 32 6 2 6 12 6-65 6-8 6 21 6 46 6-2 6-38 6-8 6 13 6-9 6 15 6 11 6-9 6-11 6 38 6-17 6-8 6 6 6-29 6-34 6 74 6-39 6-6 6 53 6 9 6-7 6 8 6-19 6 25 6-11 6-35 6-45 6 32 6 18 6 23 6-32 6 25 6 4 6 0 6-11 6-19 6 24 6-6 6 14 6 15 6-11 6 16 6 15 6-29 6-45 6 25 6 24 6-15 6 0 6 5 6 53 6-23 6-34 6 19 6-42 6 64 6-36 6-10 6 9 6 34 6 1 6-15 6-33 6 29 6 7 6-25 6 44 6 0 6-4 6-12 6-14 6-4 6-43 6 19 6 0 6 14 6 20 6-9 6-19 6-19 6-32 6 23 6 16 6 21 6-16 6-11 6-27 6 50 6 12 6 6 6 1 6 11 6-4 6-56 6 41 6 58 6-54 6 48 6-34 6 8 6 27 6-60 6-5 6 24 6-15 6 11 6 12 6 43 6-49 6 33 6-11 6-31 6 17 6-6 6 11 6 18 6-52 6-11 6 2 6 27 6-13 6-18 6 19 6-10 6 26 6 11 6-39 6 10 6-10 6 26 6 20 6-29 6-43 6 54 6-27 6 20 6 9 6-31 6-30 6 8 6 19 6-5 6-14 6 43 6-45 6 59 6 41 6-73 6 47 6-30 6 26 6-79 6 8 6 48 6 23 6-8 6-50 6 9 6 19 6 1 6-13 6-25 6 60 6-23 6-30 6 45 6-5 6-5 6 4 6-22 6 24 6-18 6 29 6-30 6 19 6-35 6 17 6-2 6 10 6 34 6-3 6-26 6 37 6-25 6-20 6-14 6 18 6-20 6 40 6-34 6 4 6 36 6 30 6-36 6-31 6 11 6 17 6-27 6 9 6 0 6-24 6 34 6 17 6-15 6-19 6 13 6 13 6 4 6-54 6 11 6 2 6 29 6-2 6-21 6 28 6-18 6-1 6 9 6-6 6 16 6 0 6-13 6-10 6 20 6 1 6 15 6-16 6-32 6 31 6 15 6-27 6 16 6 1 6-17 6 44 6-28 6 8 6-4 6-20 6-37 6 55 6 11 6 2 6-28 6 7 6-10 6 0 6 17 6-21 6 6 6 39 6-23 6 5 6-19 6-32 6 76 6-8 6-60 6-32 6 40 6-4 6 46 6-16 6-7 6-6 6 12 6 16 6 40 6-49 6-39 6 37 6-23 6 12 6 8 6 18 6-70 6-2 6 65 6-1 6 8 6-26 6 14 6-25 6 36 6 13 6-9" stroke="#20ee20" stroke-width="10"/>
<path transform="scale(.1)" d="M6690 2274l5 21 5 1 5-6 5 43 5-54 5 3 5 1 5 13 5-4 5 0 5-11 5 52 5-38 5 9 5-18 5 35 5 10 5-28 5-52 5 78 5-5 5-21 5-14 5 3 5 13 5-25 5-1 5 46 5-8 5 9 5-19 5 41 5-60 5-39 5 9 5 38 5-7 5 12 5-9 5-5 5-41 5 30 5 31 5-13 5-69 5 23 5 14 5-33 5 33 5 8 5-2 5 2 5 0 5-22 5 22 5 1 5-20 5 27 5 5 5-34 5-12 5 70 5 3 5-17 5-8 5 32 5-29 5-57 5 36 5 13 5 7 5-16 5 51 5-12 5-19 5 3 5 49 5-31 5-27 5 33 5 61 5-30 5-51 5-10 5 36 5-9 5-11 5-30 5 27 5 7 5-21 5 12 5-31 5 29 5-19 5-19 5-3 5 27 5-61 5 80 5-10 5-19 5 5 5-25 5 30 5-26 5 33 5 5 5-9 5 16 5 6 5 34 5-21 5-38 5 40 5-5 5 4 5-16 5-18 5 24 5 24 5-54 5 37 5 16 5-13 5-8 5 26 5-53 5 19 5-15 5-3 5 43 5-22 5-13 5-3 5 24 5-21 5-47 5 46 5-22 5 29 5 7 5-1 5 36 5-9 5-25 5 52 5 13 5-20 5 1 5 41 5-38 5-15 5 13 5-31 5 16 5 37 5 31 5-31 5 15 5 23 5-23 5 10 5-20 5-29 5 16 5-36 5 40 5 19 5-34 5 56 5 30 5-56 5-7 5 18 5-35 5-22 5-18 5 20 5 10 5-4 5-4 5 28 5-38 5-15 5-19 5 6 5 1 5-1 5-21 5 20 5 26 5-18 5 26 5-32 5-61 5-10 5 35 5 1 5-34 5 0 5-35 5 35 5-23 5 1 5-54 5 19 5-3 5 27 5-36 5 23 5-21 5-35 5-24 5 25 5 34 5-28 5 25 5 59 5-23 5-19 5 25 5 12 5 7 5 2 5 50 5 9 5 25 5-5 5-24 5-19 5 1 5 25 5 5 5-27 5 20 5 15 5-18 5-7 5 25 5 12 5-5 5 27 5 10 5-13 5-13 5-13 5-16 5 8 5 15 5 33 5-10 5 0 5-53 5-3 5 30 5 31 5-7 5 21 5-11 5-3 5-39 5 16 5 31 5-20 5 46 5-1 5-30 5-31 5 31 5 0 5 24 5-37 5 26 5 39 5-7 5-37 5-19 5 19 5 4 5-13 5 7 5 1 5 29 5-56 5-5 5 19 5-43 5-6 5-40 5 16 5-20 5 30 5-42 5 0 5 29 5-18 5-2 5-9 5-12 5 23 5-26 5 11 5-18 5-13 5-61 5 100 5-8 5-9 5 4 5 21 5 15 5 14 5 10 5 13 5 13 5 14 5 47 5-30 5 6 5 54 5-16 5 0 5-71 5-5 5 16 5-30 5-56 5-57 5 27 5-92 5-16 5-49 5 59 5 135 5-12 5-39 5-104 5-67 5 111 5 131 5-28 5 102 5-80 5 25 5 46 5 54 5-159 5 38 5 110 5 46 5 2 5-20 5-31 5 22 5-36 5 4 5 54 5-8 5 71 5-139 5 10 5 46 5-23 5 28 5 53 5-100 5-34 5 122 5-100 5 128 5-13 5-88 5 50 5 23 5 39 5-65 5-10 5-23 5 0 5-9 5 11 5 155 5-117 5 24 5-8 5 76 5-138 5 23 5 56 5-43 5 35 5 37 5-23 5 7 5-7 5-1 5 50 5-1 5-61 5-41 5 38 5-13 5-97 5-70 5 40 5-152 5-33 5 1 5-47 5-82 5-24 5 11 5 65 5 92 5 79 5 36 5 99 5-15 5-42 5 12 5 89 5-78 5-57 5 63 5 75 5-15 5-130 5-23 5 107 5 40 5-42 5-75 5-57 5 93 5-59 5 66 5-60 5-47 5 49 5 49 5 18 5-57 5 8 5-17 5 76 5 52 5-126 5-14 5 13 5 0 5 2 5 54 5 11 5-37 5 8 5-25 5-33 5-15 5 3 5-11 5 12 5-121 5-42 5-89 5 57 5 64 5-119 5-113 5 65 5 76 5 63 5-43 5 126 5 1 5 64 5-52 5 40 5-68 5 2 5 25 5 68 5 46 5 8 5-7 5-35 5 95 5-4 5 5 5-2 5 63 5-87 5-12 5 63 5-90 5 1 5 14 5 18 5 49 5-84 5 85 5-119 5 7 5 52 5-7 5-33 5 60 5 34 5-51 5-52 5 26 5-8 5-60 5 80 5-44 5 23 5 94 5-75 5 66 5 4 5-77 5 66 5-16 5-21 5-107 5-90 5 75 5 139 5 67 5-32 5-43 5 10 5-17 5 50 5 42 5-52 5-96 5 36 5 33 5 52 5-90 5 31 5 44 5 21 5-112 5 31 5 59 5-22 5-69 5 52 5-21 5 8 5 48 5-57 5-77 5-90 5 107 5 168 5-77 5 54 5-55 5-13 5 31 5-93 5 19 5 4 5 6 5 68 5-19 5-55 5 97 5-69 5-34 5-56 5 72 5-12 5-30 5-26 5-5 5 30 5-22 5 9 5 72 5 37 5-21 5-59 5 71 5-7 5-14 5-53 5 67 5-52 5 10 5-40 5-39 5 90 5-52 5 93 5-49 5 38 5-44 5 49 5 10 5-82 5 51 5-88 5 46 5-56 5-32 5 64 5 6 5 12 5-31 5 3 5 3 5-2 5 12 5 28 5-23 5 87 5-43 5-9 5-67 5 25 5 14 5 18 5 47 5-33 5 21 5-28 5-100 5 149 5 0 5-22 5-39 5-36 5 37 5-43 5-24 5 69 5-20 5-103 5 8 5-55 5 75 5 63 5-23 5-40 5 6 5 97 5-95 5 59 5-14 5-51 5 17 5-71 5 29 5-53 5-50 5 10 5 54 5-28 5-23 5-4 5 20 5 73 5 47 5 12 5-48 5-92 5 2 5 18 5 30 5-45 5 67 5-74 5 25 5 32 5 131 5-10 5-30 5-31 5 79 5 31 5-32 5 3 5 56 5-42 5 98 5-101 5-102 5 87 5-37 5 20 5 25 5-28 5 26 5 47 5-36 5-22 5 37 5 19 5 13 5-115 5-12 5-7 5-36 5-6 5 49 5-34 5 46 5-84 5 29 5 43 5 45 5-32 5 60 5-10 5 76 5-79 5 48 5 31 5 18 5-57 5-26 5-19 5 55 5-72 5 6 5 15 5-12 5-8 5 23 5 3 5-16 5 31 5-60 5-39 5 6 5 45 5-52 5 18 5 3 5-70 5 40 5 79 5 36 5-71 5-8 5 31 5-39 5-45 5 56 5-4 5 24 5 88 5 23 5-93 5 45 5 7 5-12 5 13 5-11 5-47 5-36 5 48 5 33 5 51 5 17 5 6 5-67 5 33 5-43 5-24 5-14 5 132 5-62 5 9 5-21 5 14 5-36 5 102 5-94 5 38 5-69 5 33 5 21 5-32 5-5 5 19 5-17 5-23 5 23 5-29 5-57 5 127 5-30 5-17 5-13 5-11 5-20 5 7 5-4 5 13 5 9 5 64 5-15 5-13 5-74 5 54 5-31 5-56 5 1 5 23 5-31 5 135 5-50 5-131 5 66 5-24 5-19 5 13 5 3 5 65 5 4 5-37 5 32 5-29 5 34 5-27 5 7 5 10 5 51 5 1 5-113 5 66 5-22 5-48 5 125 5-50 5-39 5-13 5 93 5-85 5-5 5 77 5-51 5-19 5 38 5 17 5-47 5 52 5 115 5 140 5-145 5-71 5 3 5-75 5 76 5-61 5 16 5-6 5 26 5-99 5 43 5-14 5 70 5 11 5 4 5-24 5 45 5 9 5-66 5-47 5 67 5 21 5-30 5 67 5-45 5 86 5-45 5-35 5 53 5 17 5-68 5-100 5 119 5-5 5 19 5 12 5-44 5 44 5 58 5-84 5-10 5-19 5-13 5 52 5-48 5-21 5 63 5-5 5 63 5 7 5-19 5-49 5-4" stroke="#ff1a1a" stroke-width="10"/>
</g>
<g clip-path="url(#c11)" fill="none" stroke-linejoin="round">
<path transform="scale(.1)" d="M6691 2996l6-18 6 0 6-6 6-2 6 19 6-9 6-3 6 10 6 8 6-5 6-2 6-15 6 14 6-1 6-17 6-1 6 11 6-12 6-2 6 0 6 13 6-10 6 3 6 8 6 8 6 1 6-1 6-1 6-21 6 13 6 12 6 1 6-9 6 8 6-4 6 2 6-2 6-6 6-6 6 2 6 8 6 30 6-35 6 13 6 7 6 0 6-7 6 0 6 0 6-7 6-1 6 2 6 1 6 1 6-8 6 15 6-3 6-9 6-12 6-1 6 7 6 3 6-5 6 14 6-15 6 20 6-21 6 16 6-11 6-7 6 11 6 3 6 2 6 7 6-6 6-7 6 9 6 11 6 0 6-20 6 2 6 3 6 2 6-14 6 8 6-1 6-2 6 25 6-8 6-2 6 3 6-7 6 5 6 1 6-2 6-3 6 4 6-5 6-6 6 3 6 2 6-8 6 6 6-3 6 6 6 7 6 9 6 10 6-5 6-15 6 3 6-15 6 12 6 2 6 11 6 0 6 4 6-8 6-18 6 2 6 20 6-12 6-4 6-7 6-26 6 10 6 1 6-11 6 1 6 9 6-7 6-3 6-7 6 1 6 0 6-5 6-4 6 5 6-2 6 26 6 1 6 15 6 6 6-19 6 5 6 7 6-20 6 15 6 1 6-4 6 9 6-13 6 9 6 12 6-13 6 12 6-13 6 2 6 11 6-3 6 3 6 4 6 4 6-20 6 21 6-11 6 3 6-4 6 17 6-6 6-20 6 6 6 4 6 3 6 2 6 1 6-7 6 0 6-1 6-3 6 13 6-9 6-1 6 2 6-11 6 16 6-11 6 7 6-11 6 7 6-5 6-8 6 0 6-8 6 18 6-12 6-7 6 23 6-8 6 6 6-3 6-13 6 10 6 13 6-11 6-14 6 21 6-9 6-1 6-10 6 5 6-13 6-9 6 16 6-4 6 7 6-23 6 4 6-12 6 21 6-20 6 3 6-16 6 1 6-3 6 2 6 3 6 12 6-1 6 9 6-10 6 7 6-14 6 21 6-2 6-14 6 21 6 1 6 22 6-8 6 9 6 5 6 10 6 16 6-8 6-7 6 8 6-3 6-2 6 2 6-10 6 16 6 1 6-2 6-3 6-1 6 8 6-6 6 3 6 12 6-7 6 12 6 0 6 4 6 5 6 7 6 0 6-8 6 4 6 9 6-1 6-15 6-20 6-10 6-3 6 9 6 16 6-21 6-3 6 7 6 8 6 5 6 13 6-10 6 10 6-4 6-7 6-13 6 16 6 0 6-28 6 11 6-23 6-7 6-2 6-21 6-33 6-24 6-17 6-30 6-42 6-27 6-17 6-21 6-21 6-4 6-23 6-2 6-4 6-2 6 2 6 34 6-2 6 17 6 9 6 8 6 33 6 4 6 22 6-29 6-27 6-49 6-20 6-26 6-7 6 24 6 55 6 50 6 47 6 10 6 15 6 37 6 21 6 17 6 15 6-6 6-4 6-25 6 23 6-13 6 20 6 28 6 11 6 21 6 20 6 29 6-5 6-20 6-6 6-22 6-22 6-30 6 6 6 6 6 9 6-2 6-19 6-4 6-28 6-27 6-24 6-9 6-48 6 4 6-6 6 12 6-36 6 16 6 10 6 2 6 13 6 12 6 17 6 3 6-8 6-25 6 2 6 24 6 40 6 50 6 39 6-19 6-37 6 5 6-29 6-6 6-9 6 28 6 13 6 21 6 6 6 19 6 27 6-10 6 6 6-6 6 32 6 7 6 2 6-15 6-6 6 4 6-34 6-4 6 4 6-23 6-17 6-8 6-10 6 1 6 19 6-8 6-7 6 8 6 16 6 7 6-14 6 4 6 20 6 17 6 22 6 15 6 21 6 16 6 27 6-10 6 16 6 6 6 10 6 1 6 27 6 3 6 0 6 0 6 10 6-1 6 10 6-11 6 2 6 4 6 25 6 3 6-1 6 12 6 0 6-28 6-4 6-16 6-31 6-18 6 0 6-24 6-17 6 6 6 6 6 18 6-11 6 13 6-17 6 10 6 11 6-5 6 6 6 14 6-5 6-4 6 13 6 14 6 19 6-10 6-11 6-8 6-4 6-2 6-24 6-7 6-25 6-5 6 2 6 7 6-10 6-3 6 4 6 15 6-3 6 15 6-27 6-9 6-35 6 0 6 2 6-23 6-1 6-11 6-37 6-3 6 24 6 8 6-2 6 8 6 11 6-8 6 0 6-1 6-11 6 12 6-10 6 16 6-17 6-4 6 7 6 5 6 15 6-4 6 9 6-14 6 5 6 13 6 13 6 2 6 4 6-3 6-1 6 14 6 10 6-16 6 15 6-7 6-13 6 5 6 9 6 18 6 12 6 14 6-12 6 1 6 8 6 4 6 15 6 11 6-4 6 10 6-5 6 4 6 8 6-21 6 7 6-12 6-5 6 9 6-15 6-15 6-5 6-11 6 17 6-15 6 14 6 1 6-9 6-8 6 3 6-5 6-13 6-9 6-5 6-15 6-11 6 11 6-26 6-2 6-7 6-4 6 10 6 3 6 6 6 1 6-4 6 8 6-8 6 14 6 1 6 17 6 17 6 14 6-11 6 7 6 5 6 8 6-7 6-8 6 6 6-18 6 15 6-4 6-1 6-17 6-2 6 7 6-14 6 7 6-9 6-6 6 7 6 10 6-21 6-19 6 14 6-5 6 17 6 1 6 30 6 1 6 9 6-2 6 15 6 19 6 5 6-11 6 13 6-11 6-22 6 5 6 14 6 3 6-14 6 7 6 8 6-1 6-11 6-19 6-8 6 4 6-22 6 4 6-35 6 3 6 2 6-16 6 15 6-3 6 7 6-18 6 0 6 1 6-2 6 13 6 2 6 10 6 18 6-4 6-4 6 31 6-19 6 14 6 4 6-4 6-7 6-10 6 13 6 5 6-6 6-5 6 25 6-12 6 27 6-37 6 32 6 0 6 8 6-7 6-20 6 8 6-5 6-10 6 8 6 1 6-23 6 17 6-12 6 9 6-5 6 17 6-7 6 2 6-1 6 19 6 0 6-2 6 14 6 16 6-7 6-5 6 18 6 1 6 10 6-8 6-23 6 3 6-20 6 14 6-17 6-5 6-7 6 0 6-24 6-19 6-12 6-1 6-16 6-2 6 3 6-9 6 17 6-19 6 34 6 9 6-11 6 16 6-11 6 4 6 16 6-6 6 19 6-5 6-7 6-1 6-10 6 0 6 4 6-29 6 6 6 5 6 15 6 5 6 36 6 10 6 23 6 12 6-13 6-4 6-3 6-6 6-7 6-35 6 19 6-11 6 8 6-14 6-14 6 5 6-7 6 5 6-5 6-4 6 1" stroke="#ff1a1a" stroke-width="10"/>
<path transform="scale(.1)" d="M6691 3133l6-7 6 6 6-15 6 6 6 14 6-7 6 3 6-8 6 12 6 0 6 1 6-8 6 3 6-7 6 6 6-12 6 12 6 3 6-5 6 9 6-6 6 9 6-10 6-4 6 2 6 19 6-24 6 2 6-1 6 6 6-12 6 17 6-19 6 15 6-8 6-6 6 8 6-12 6 6 6-6 6-2 6-1 6 6 6 13 6-9 6 9 6-9 6 6 6 2 6-4 6 5 6-1 6 1 6-11 6 9 6 11 6-18 6 8 6 2 6 2 6 2 6 3 6-6 6 1 6-4 6-4 6 3 6 5 6 1 6-2 6 0 6 8 6-3 6 1 6 12 6-12 6 1 6 3 6-15 6 6 6 5 6 4 6-6 6 3 6 2 6 2 6-6 6 6 6 0 6-9 6-15 6 18 6 8 6-7 6 11 6-17 6 5 6 4 6-9 6 3 6 2 6 4 6 4 6-6 6-9 6 14 6-3 6 3 6-14 6 7 6-7 6 5 6 8 6 1 6 5 6-11 6 12 6-5 6 3 6 1 6-1 6 1 6-10 6 10 6 2 6-1 6-2 6 0 6 19 6-7 6-3 6 9 6-6 6 0 6 7 6-3 6 0 6 1 6-7 6-2 6 3 6-4 6-1 6 4 6-4 6 4 6-13 6 2 6-2 6-7 6 9 6-2 6-6 6 9 6-1 6 8 6-14 6-4 6 0 6-4 6 1 6-7 6 11 6-3 6 0 6 0 6-8 6 12 6 0 6 3 6-8 6-5 6-4 6-10 6 21 6-5 6 7 6 1 6-2 6-8 6-4 6 11 6-3 6 2 6 4 6-10 6 15 6-6 6 3 6 1 6-5 6-6 6 6 6-1 6 7 6-2 6-1 6 10 6-2 6-5 6-5 6-1 6 7 6 1 6 7 6-8 6 9 6-7 6 9 6 12 6-10 6 1 6-6 6-3 6 4 6 5 6-6 6 2 6 3 6-1 6 5 6 9 6-13 6-1 6 8 6-16 6 2 6 6 6 2 6 6 6 0 6-8 6-3 6-5 6 1 6 5 6 6 6-8 6 2 6-6 6-10 6-2 6 4 6-5 6 7 6-12 6-1 6-6 6 14 6-12 6 3 6-13 6 9 6-8 6 3 6 10 6-3 6 5 6 1 6-1 6 8 6 1 6 6 6 3 6-4 6 4 6 7 6 8 6-15 6 7 6 4 6-6 6 3 6 0 6-11 6 11 6-10 6-2 6 12 6-1 6-2 6-6 6 5 6 3 6 12 6 0 6 4 6-10 6 3 6-2 6 7 6 11 6 7 6 7 6 5 6 5 6-11 6 14 6-3 6 0 6-12 6 4 6 0 6-12 6 5 6-11 6-8 6 10 6 4 6 5 6 0 6 15 6-10 6-7 6 17 6 9 6 16 6-21 6 1 6 6 6 5 6-6 6 1 6-2 6-9 6 6 6-2 6-3 6-4 6 3 6-11 6 8 6-3 6 5 6-16 6 13 6-7 6-2 6-5 6-3 6 9 6 3 6 0 6-17 6-8 6 1 6-8 6-2 6 1 6 0 6 18 6 6 6 3 6-5 6 14 6-3 6-9 6 1 6 10 6-7 6 1 6-2 6-5 6-9 6 6 6 3 6-7 6 9 6 8 6-2 6 4 6 7 6 7 6-7 6-16 6 6 6-2 6 3 6-6 6 7 6-8 6 4 6 0 6 8 6-10 6 2 6 7 6 4 6 2 6 11 6 14 6-6 6-4 6 13 6-5 6-4 6-2 6-6 6-6 6 4 6 1 6-1 6-2 6 11 6 9 6-10 6 9 6-5 6 2 6 3 6-5 6 1 6 3 6-6 6-11 6 2 6 0 6-9 6 0 6-12 6 6 6 26 6 22 6 23 6 28 6 1 6 23 6 9 6 12 6-28 6-8 6-43 6-11 6-2 6-28 6 13 6 4 6 20 6 7 6-3 6 6 6-2 6 5 6 14 6 10 6-6 6-8 6-19 6-12 6-19 6-17 6 9 6-17 6 20 6 0 6 0 6-2 6 2 6 5 6 7 6-10 6-5 6-5 6 1 6-9 6 1 6-8 6-11 6 6 6-15 6 8 6 7 6 10 6-24 6 8 6 7 6 5 6-16 6 12 6 5 6-9 6-10 6 2 6-4 6-6 6-6 6-8 6 1 6-11 6 11 6 9 6 7 6 6 6-1 6 12 6-9 6 8 6 7 6 0 6-3 6 4 6 11 6-18 6-3 6 4 6-5 6 6 6 4 6-7 6 5 6-8 6-8 6 5 6-9 6-1 6-10 6 13 6-18 6-1 6-3 6 0 6 9 6 2 6 0 6 4 6-3 6-2 6 6 6-9 6 11 6-3 6-2 6 3 6-3 6-4 6 2 6 0 6 8 6-16 6-7 6-3 6 1 6 9 6-2 6-9 6 2 6 1 6-6 6 6 6-4 6 8 6 3 6-9 6-2 6 9 6 3 6 5 6 0 6-4 6 1 6-8 6 18 6-3 6-9 6 12 6 6 6 1 6 1 6-5 6 3 6-9 6-2 6 3 6-5 6 1 6 0 6-2 6 2 6 1 6-14 6 12 6-4 6 1 6-4 6-9 6 11 6 0 6-5 6 12 6-15 6-4 6 6 6 15 6-4 6-8 6 0 6 15 6-2 6 5 6-2 6 8 6-2 6 1 6 5 6-5 6-4 6 1 6 7 6-7 6-3 6 3 6-8 6 7 6-14 6 16 6-10 6-7 6 4 6-1 6-5 6 5 6-6 6 7 6 0 6-5 6 11 6-9 6 4 6-8 6-2 6 10 6 6 6-5 6 11 6 2 6 2 6 2 6-6 6 3 6 5 6 10 6-5 6 1 6-11 6 13 6-6 6 4 6 5 6-14 6-2 6 1 6 4 6 9 6-6 6-4 6-2 6 6 6-3 6 5 6-4 6-4 6-8 6 3 6-4 6 1 6-6 6 13 6-9 6 0 6 6 6-9 6-5 6-6 6 5 6-6 6 7 6 1 6 10 6-7 6-1 6-3 6 0 6-6 6-1 6-1 6 9 6-3 6-3 6-2 6 5 6-9 6 0 6 2 6 9 6-1 6-2 6-4 6 2 6 13 6 1 6 1 6-6 6 11 6-1 6 3 6-8 6 14 6 13 6 3 6-20 6 3 6 10 6 4 6-3 6 6 6-3 6-7 6-7 6 3 6 3 6 1 6 9 6 10 6-6 6-6 6-2 6 14 6-12 6 4 6-13 6 1 6 11 6 1 6 3 6-2 6-1 6 1 6-12 6 7 6-2 6-1 6 2 6-5 6 0 6 0 6 3 6 5 6-5 6 2 6-3 6-6 6 8 6-2 6 0 6-4" stroke="#111" stroke-width="11"/>
</g>
<g clip-path="url(#c12)" fill="none" stroke-linejoin="round">
<path d="M668.7 376.8H1122.6" stroke="#303030" stroke-width="1.0" stroke-dasharray="5 2.5"/>
<path transform="scale(.1)" d="M6690 3751l5 9 5 6 5-18 5 12 5-8 5 8 5-9 5-4 5 12 5-4 5 7 5-25 5 37 5-9 5-9 5-3 5 3 5-19 5 23 5 8 5-12 5 7 5 8 5-24 5-13 5 41 5-2 5-6 5 11 5-7 5-21 5 28 5-6 5-27 5 17 5-3 5-4 5 0 5 5 5 8 5-20 5 33 5-22 5-10 5 3 5-6 5-3 5 8 5 5 5 1 5 7 5 0 5-9 5 12 5-3 5 5 5-5 5 7 5-21 5 21 5-5 5-6 5 1 5-13 5 17 5 9 5-4 5-4 5-8 5-6 5 18 5 12 5-20 5 1 5-5 5 7 5 2 5-4 5 6 5 1 5 13 5-25 5-15 5 33 5-10 5-10 5 12 5-7 5 11 5 2 5-13 5-1 5-21 5 22 5 17 5 2 5-7 5 8 5-22 5 4 5-9 5 14 5-15 5 0 5 13 5-16 5 12 5 2 5-4 5-8 5 5 5 1 5 15 5-12 5 7 5 1 5-1 5 0 5 5 5-18 5 26 5-22 5-1 5 10 5 16 5-5 5-5 5-7 5 8 5-25 5 15 5-4 5 0 5 5 5-1 5-4 5 2 5 1 5 10 5 15 5-12 5-14 5 11 5-1 5-16 5 1 5-8 5-2 5 10 5-36 5 11 5-2 5 10 5-46 5 71 5-21 5-20 5 45 5-34 5 1 5 22 5-29 5 19 5 31 5 7 5-41 5-40 5 16 5 21 5-35 5 2 5 39 5 20 5-13 5-12 5-9 5 0 5 21 5-26 5 27 5-22 5 10 5-63 5 49 5 14 5-53 5 25 5 42 5-11 5-1 5 2 5 26 5-52 5 25 5 49 5-42 5 9 5-12 5 30 5 26 5 15 5-21 5-17 5-24 5 1 5-35 5-4 5-75 5-14 5 23 5-28 5-10 5-97 5 24 5 24 5 50 5-12 5 57 5 29 5-29 5-10 5 34 5 7 5 31 5 40 5-61 5 3 5 26 5-47 5-22 5 37 5 37 5 46 5-26 5 1 5-27 5-41 5 34 5 29 5-51 5 28 5 68 5-52 5-20 5 61 5-18 5-10 5-13 5 12 5-34 5-7 5-16 5 46 5-19 5 21 5-75 5 51 5-4 5 0 5-12 5 11 5 0 5-37 5 43 5-29 5 1 5 4 5 22 5-9 5-16 5-22 5 16 5-14 5 50 5 21 5-67 5-32 5 47 5 20 5-16 5-1 5 27 5-15 5-6 5 25 5-56 5 22 5 6 5-14 5 68 5-57 5 15 5 0 5-3 5-10 5-26 5 45 5-3 5 16 5-32 5 9 5 32 5 3 5-46 5 14 5 15 5-60 5 35 5 18 5 14 5-53 5 24 5-26 5 58 5-39 5 4 5 51 5-55 5 32 5-56 5 30 5-38 5 9 5 12 5-34 5 1 5 24 5-41 5-21 5 56 5-88 5 27 5 31 5-127 5 93 5 21 5-36 5 4 5 26 5-2 5-130 5 9 5 0 5 7 5-52 5-57 5 46 5 7 5 28 5-29 5 27 5-22 5 2 5-41 5-1 5 52 5 6 5 84 5-66 5-15 5 84 5-52 5-76 5 134 5 17 5-32 5-44 5 68 5-1 5 55 5-17 5-6 5-42 5 31 5 47 5-65 5 66 5 1 5 0 5 68 5-14 5-63 5 57 5 33 5-37 5-78 5 4 5 59 5-40 5-6 5-19 5-8 5 55 5-27 5-31 5 26 5 25 5-17 5 10 5-81 5 67 5-82 5 76 5 39 5-62 5 12 5 2 5 25 5-103 5 66 5 32 5-32 5-45 5 40 5-37 5 40 5-60 5 5 5 8 5 16 5-47 5 33 5-50 5 86 5-136 5 50 5-73 5 93 5-49 5-53 5 81 5-21 5 31 5-20 5 27 5 75 5-15 5 1 5 39 5-34 5 4 5 51 5 29 5-25 5 39 5-49 5 84 5 4 5 10 5-58 5 31 5-70 5 54 5 12 5-19 5 43 5-46 5 21 5 5 5-23 5 25 5-41 5-69 5 51 5 4 5 32 5-42 5-11 5 28 5 9 5 75 5-24 5-25 5-72 5-11 5 96 5-57 5-36 5 44 5 47 5-73 5-68 5 80 5-19 5 22 5 51 5 34 5-37 5-41 5 64 5-93 5 28 5-61 5 41 5-59 5-50 5 95 5-58 5 92 5-13 5-70 5 5 5 37 5 8 5-110 5 26 5 36 5 17 5-34 5-1 5-7 5 24 5 5 5-6 5-52 5-5 5 16 5 11 5 18 5 29 5-28 5-5 5-1 5-12 5 24 5-34 5-21 5 3 5 29 5 18 5 16 5 25 5-119 5 42 5-22 5 39 5-24 5 17 5 30 5-2 5-48 5 36 5 30 5-29 5-22 5 12 5 42 5-108 5 15 5 42 5-3 5 12 5 33 5-81 5 23 5 40 5-86 5 29 5 68 5-9 5 28 5-71 5 46 5 40 5 6 5-6 5-15 5-64 5-10 5 32 5 3 5-15 5-9 5 39 5-51 5-19 5 59 5 11 5 30 5-17 5-3 5-38 5 49 5-117 5 13 5 47 5 31 5 59 5-38 5-26 5-17 5 35 5 47 5 43 5-98 5 38 5 28 5-37 5-30 5 34 5-8 5 50 5-51 5-1 5 74 5 19 5-81 5 2 5-23 5 0 5 123 5-30 5-60 5 43 5 39 5-94 5 7 5 34 5 24 5-13 5-24 5-17 5-7 5-32 5 63 5-27 5 1 5 10 5-20 5 9 5 28 5-19 5-2 5-34 5 40 5 8 5-90 5 35 5 7 5 42 5-21 5-68 5 66 5 7 5-10 5-27 5 27 5 23 5-53 5 22 5 109 5-65 5 21 5-6 5 41 5 26 5-31 5 5 5-31 5 8 5-57 5 69 5-28 5 89 5-54 5-8 5-15 5-42 5-14 5 76 5 22 5 31 5-66 5-8 5 13 5 0 5 29 5-13 5 60 5-37 5-1 5-5 5-2 5-19 5 8 5 48 5-29 5 6 5 4 5 15 5-97 5 95 5-86 5 85 5-44 5 11 5 1 5-42 5 1 5-36 5 84 5-17 5-10 5 67 5-90 5 55 5-69 5 101 5-41 5 35 5-14 5-43 5 2 5 15 5 26 5-53 5 25 5-41 5-64 5 126 5-24 5-27 5-23 5 11 5 40 5-72 5 9 5 24 5 4 5-53 5 48 5-38 5 31 5-18 5-28 5 31 5-16 5-10 5-2 5 66 5-90 5-22 5 45 5-34 5-57 5 111 5-73 5-34 5 22 5 22 5-64 5 88 5-3 5 54 5 38 5-39 5-4 5-45 5 13 5 49 5-24 5 26 5-6 5-20 5 2 5 36 5 50 5-44 5-8 5-26 5-2 5 59 5-51 5 64 5-104 5 94 5-38 5-48 5 44 5 58 5 0 5-25 5-46 5 99 5-48 5-25 5 7 5 42 5-52 5 24 5 11 5-14 5 10 5-36 5 105 5-59 5 11 5-44 5 54 5-50 5-9 5 22 5-18 5 32 5 0 5-13 5-9 5 34 5 9 5-47 5-38 5 96 5-69 5-12 5-26 5 34 5 72 5-19 5-64 5 42 5 44 5-26 5-19 5 30 5-4 5-57 5 59 5-100 5 54 5 20 5-2 5 39 5-38 5-41 5-47 5 72 5-21 5 36 5-19 5-73 5 44 5-28 5 6 5 18 5 32 5-4 5 1 5 14 5 10 5 0 5-13 5-26 5-1 5 63 5-51 5 27 5 27 5-2 5 1 5 14 5-48 5 23 5-56 5 96 5-54 5 24 5 31 5-50 5-40 5 67 5 15 5-41 5 23 5-1 5 17 5-27 5-11 5 75 5-56 5-7 5-37 5 41 5 66 5-109 5 76 5 139 5-87 5-107 5 16 5-52 5-9 5 42 5-33 5 32 5 6 5-13 5 57 5-13 5 33 5-38 5 50 5-44 5 11 5 15 5-21 5-32 5 38" stroke="#1a1aff" stroke-width="10"/>
<path transform="scale(.1)" d="M6690 3798l5-16 5-15 5 23 5 4 5-13 5 11 5-10 5-6 5 9 5 9 5-4 5-1 5-20 5-16 5 36 5 7 5 0 5-4 5 2 5-3 5-5 5-4 5-7 5 2 5-4 5-7 5 8 5 13 5-1 5 10 5-9 5 3 5 11 5-6 5-15 5 1 5 7 5-2 5 11 5 5 5-4 5-8 5-7 5 29 5-33 5-13 5 24 5-18 5 32 5-26 5 18 5 0 5 13 5-19 5 9 5 1 5-9 5-8 5 11 5 11 5-16 5 10 5-17 5 1 5 2 5 4 5 24 5-19 5 6 5-33 5 5 5 21 5 8 5-13 5-28 5-4 5 8 5 31 5-5 5-2 5 6 5-17 5 38 5-28 5-1 5-8 5 13 5 3 5 18 5-40 5 14 5 0 5-7 5 28 5-3 5-7 5-10 5-14 5 12 5 4 5 9 5-3 5-8 5 16 5-16 5 16 5 0 5-15 5 1 5-10 5 17 5 2 5-11 5 3 5-1 5 4 5 5 5 16 5-33 5 7 5 4 5-7 5 14 5-7 5 16 5-6 5 1 5-9 5-1 5 0 5 23 5-7 5 0 5-11 5-7 5-2 5 20 5 5 5-19 5-11 5 10 5 0 5-8 5 11 5-1 5-6 5 27 5-4 5 25 5-3 5-11 5 35 5-17 5 2 5-27 5-24 5 77 5-18 5-1 5 1 5 10 5 12 5-25 5-20 5 64 5-60 5 14 5 8 5-9 5-40 5 44 5-29 5 11 5 28 5-31 5 22 5 3 5-12 5-60 5 36 5-15 5 1 5-12 5 50 5-23 5-3 5 24 5 26 5-33 5-6 5-20 5-8 5 52 5-1 5-12 5-10 5-15 5 27 5 26 5 37 5-86 5 8 5 29 5 4 5-9 5-42 5 56 5-3 5 17 5-7 5 49 5 42 5-39 5 11 5-51 5-6 5-20 5 11 5-51 5 23 5-62 5 36 5 9 5-3 5-34 5-30 5 71 5-10 5 1 5-25 5 6 5-50 5 26 5-29 5 20 5 32 5-43 5 31 5 1 5-65 5 29 5 25 5-26 5 32 5 36 5-44 5-15 5-15 5 29 5-25 5 0 5-20 5 32 5-47 5 52 5 15 5-9 5-4 5-30 5-25 5 80 5-40 5 2 5-18 5-1 5 56 5-26 5-12 5 1 5-43 5 84 5-14 5-3 5 28 5-11 5 16 5-44 5 29 5 14 5-56 5 34 5 20 5-24 5 12 5 10 5-7 5 55 5-63 5-21 5 24 5-13 5 35 5 15 5 26 5-25 5-33 5 14 5-45 5 56 5-21 5 26 5-39 5 22 5 8 5-7 5-7 5-9 5 36 5 16 5-8 5-7 5 52 5-55 5-3 5-10 5-27 5 27 5-1 5 28 5-18 5-5 5 56 5 0 5-60 5 19 5 2 5 53 5 31 5 26 5-37 5-29 5-26 5 60 5 53 5-49 5-31 5 30 5 12 5-86 5 96 5 56 5-34 5 32 5 22 5-5 5 17 5-68 5-1 5 26 5 27 5 100 5-32 5-50 5 19 5-52 5 4 5-32 5 84 5-84 5 20 5 58 5-91 5 35 5-15 5-58 5 28 5 9 5-78 5 89 5-138 5 39 5 19 5 48 5-108 5-19 5 29 5-107 5 44 5 45 5-76 5 21 5-61 5 21 5 12 5 10 5 2 5-24 5-123 5 83 5 28 5-39 5 56 5-99 5-44 5 15 5 17 5 10 5-65 5 79 5-59 5-3 5-50 5 98 5-22 5 20 5-76 5 47 5 59 5-13 5-53 5 30 5-13 5-51 5-90 5 52 5 45 5 44 5-40 5 26 5 124 5-67 5 10 5 2 5-69 5 23 5 18 5 4 5-31 5-2 5 107 5-77 5-41 5-13 5 97 5 0 5-68 5 93 5-15 5-19 5-73 5 12 5 20 5-90 5 77 5-26 5 52 5-67 5-34 5 20 5 9 5-11 5-15 5 44 5 3 5 119 5-122 5 47 5-54 5 44 5 21 5-50 5 46 5-42 5 21 5 29 5-50 5-35 5 21 5-73 5 26 5 2 5-49 5 73 5-20 5 34 5-33 5 20 5-77 5 83 5-21 5 63 5 34 5-49 5-10 5 23 5 88 5-101 5 5 5 46 5-66 5 38 5-44 5 61 5-2 5-50 5 54 5 33 5-53 5 18 5-27 5-78 5 76 5 10 5-44 5 32 5-2 5-56 5 7 5 64 5-31 5 58 5-6 5-36 5 8 5-12 5 5 5-4 5-38 5 5 5 46 5-25 5 30 5-46 5 109 5 25 5-30 5 36 5-68 5 14 5 2 5 43 5-35 5 51 5-53 5 43 5-1 5-39 5 64 5-38 5 80 5-120 5 31 5-1 5 3 5-29 5 50 5-9 5 42 5-20 5 19 5 34 5-32 5-93 5 28 5 31 5-77 5 77 5 10 5 53 5-110 5 83 5-32 5 5 5 32 5 1 5-92 5 19 5 110 5-56 5 84 5-98 5 70 5-36 5-33 5 98 5-80 5-42 5 71 5 52 5-70 5-7 5-20 5-10 5-22 5 23 5-41 5 15 5-58 5 1 5 64 5-20 5-20 5-32 5 76 5-14 5-17 5-22 5 0 5 13 5-32 5 36 5-14 5 21 5-28 5 17 5 37 5 4 5-62 5-73 5 57 5 41 5-100 5 58 5-58 5 92 5 54 5-46 5-99 5 47 5 4 5 22 5-4 5-44 5 57 5-6 5-40 5 37 5 25 5 7 5-76 5 31 5-34 5 7 5 46 5-23 5 9 5 0 5 51 5-8 5-42 5 41 5 45 5-38 5-23 5 71 5-22 5-13 5 10 5-83 5 116 5-65 5 103 5-44 5 9 5-44 5 73 5-52 5 8 5-5 5-8 5-44 5 50 5-55 5 97 5-63 5 38 5 42 5-69 5-13 5 76 5-20 5-40 5 55 5-57 5 4 5 43 5 21 5-71 5-37 5 52 5-22 5-46 5 109 5 17 5-58 5 18 5-3 5 33 5-36 5 24 5-61 5 35 5 44 5-64 5-8 5 3 5 99 5-10 5-41 5-99 5 92 5 6 5-45 5 27 5-23 5 20 5-3 5-46 5 86 5-39 5 24 5-10 5 4 5-104 5 72 5-50 5 79 5-43 5 43 5 0 5 37 5-48 5 37 5 11 5-106 5 16 5-12 5 40 5-27 5 17 5 40 5 2 5-81 5 81 5 26 5-52 5-41 5 79 5-18 5 6 5-7 5 7 5-16 5 22 5 4 5 57 5-25 5-37 5 17 5-54 5 12 5-27 5 51 5-43 5 15 5 26 5-1 5-29 5-20 5 31 5 23 5-1 5-107 5 71 5-22 5-24 5 131 5-71 5 59 5-63 5-13 5-26 5 43 5-4 5 16 5-24 5-34 5 47 5 50 5-13 5 12 5 95 5-66 5-78 5 5 5-38 5 28 5 40 5-56 5-29 5 43 5-41 5 29 5 13 5 0 5 3 5-12 5-4 5 6 5-23 5 73 5 12 5-14 5-14 5-112 5 85 5-12 5 23 5 19 5-14 5 4 5-7 5-5 5-11 5 30 5-13 5-60 5 75 5-57 5 3 5-42 5 13 5 25 5 5 5-5 5 59 5-22 5-9 5 58 5-26 5-61 5 96 5-41 5-23 5 45 5-18 5-22 5-5 5-30 5 8 5-32 5 73 5-34 5 84 5-81 5 34 5 53 5-126 5 42 5-27 5 6 5 30 5 22 5-18 5 118 5 108 5-122 5-91 5-31 5-37 5-32 5 65 5 46 5-1 5-116 5 5 5 20 5 113 5-63 5-6 5-16 5 7 5 4 5 43 5 43 5-55 5 44 5-30 5-42 5 58 5-108 5 32 5 12 5 32 5 59 5 12 5-136 5 23 5 51 5-10 5-16 5-66 5 72 5 44 5 2 5-85 5 68 5-50 5 16 5 13 5-19 5-14 5 42 5 29 5-42 5 85 5-64" stroke="#20ee20" stroke-width="10"/>
<path transform="scale(.1)" d="M6690 3755l5 5 5 10 5 0 5 2 5-11 5 11 5-5 5 1 5 2 5-2 5 9 5-9 5-5 5 5 5 2 5-5 5 6 5-10 5-6 5 7 5 4 5-2 5 0 5-3 5-2 5 12 5 7 5-9 5-8 5 4 5 12 5 4 5 2 5-6 5-1 5-4 5 0 5 4 5-1 5 2 5-9 5 6 5-2 5-2 5-9 5 12 5-2 5 16 5-5 5-13 5 5 5-10 5 7 5-1 5-5 5 10 5-4 5 6 5 5 5-4 5 2 5-13 5 1 5-3 5-3 5 7 5 1 5 12 5-13 5 4 5-3 5-3 5-2 5 3 5 1 5-3 5 1 5-8 5 21 5-1 5 0 5 1 5-5 5-16 5 2 5 0 5 5 5 10 5 4 5 12 5-10 5-3 5-6 5-10 5 1 5 13 5-5 5 5 5-5 5 5 5-7 5 10 5 9 5-6 5-2 5 5 5-10 5 4 5 3 5 5 5-15 5-2 5-7 5 10 5-7 5 1 5 12 5-7 5 5 5 2 5-2 5-8 5 4 5-1 5 6 5-19 5 20 5 2 5 0 5-4 5 4 5-15 5 2 5 2 5 5 5-1 5-4 5 15 5 3 5-6 5 0 5-12 5 7 5-11 5 8 5 7 5 8 5 2 5-9 5 12 5 5 5-27 5 16 5-9 5-1 5-22 5 15 5 16 5-12 5 2 5 14 5-15 5 0 5 5 5-1 5 8 5-7 5 7 5-22 5 12 5 5 5 6 5-1 5-5 5 9 5 12 5-8 5-9 5-9 5-20 5 30 5 4 5-4 5 12 5-15 5-6 5 15 5 7 5-11 5 10 5-36 5 33 5 3 5-4 5-5 5 0 5-7 5 9 5-11 5 2 5-4 5 24 5-12 5-2 5-3 5-2 5 33 5-25 5 0 5 13 5-5 5 4 5 9 5-24 5 17 5 7 5-33 5-6 5 4 5 11 5-3 5 4 5 4 5-11 5-8 5 11 5 0 5-21 5 9 5 22 5-28 5 16 5 9 5-22 5 15 5-23 5 20 5 8 5-15 5-4 5 7 5 2 5-3 5 20 5-9 5-15 5 13 5-11 5 1 5-12 5 30 5 8 5-22 5-19 5-6 5-6 5 8 5 6 5 1 5-17 5 10 5-2 5-7 5 17 5-15 5-27 5 20 5-2 5 18 5 12 5-12 5-25 5 17 5 13 5-2 5 30 5-2 5-45 5 25 5-24 5-7 5 17 5 16 5 7 5-10 5 1 5 21 5-22 5-5 5-3 5 42 5 8 5-31 5-7 5-5 5 1 5 7 5-5 5 13 5 9 5-7 5-2 5-5 5 11 5-2 5 15 5-20 5 10 5 8 5-23 5 29 5-22 5-23 5 18 5 30 5-16 5-9 5-26 5 8 5 6 5-3 5 25 5 16 5 1 5-19 5 13 5 6 5-13 5-38 5 54 5 3 5 5 5 15 5-77 5 57 5 9 5 34 5 47 5-56 5 3 5-6 5 41 5-3 5 8 5 17 5-61 5 16 5-13 5 9 5 4 5 12 5-1 5 41 5-21 5-7 5-14 5 22 5 48 5-10 5 7 5-2 5 4 5-74 5 3 5 53 5-6 5 20 5 18 5-129 5 29 5 19 5 7 5-17 5-39 5 30 5 8 5-30 5-26 5-13 5 45 5-72 5 25 5-6 5-56 5 51 5 12 5 6 5-34 5 41 5-78 5 10 5 28 5 2 5 22 5-57 5-85 5 59 5 15 5-57 5 31 5-17 5 31 5-19 5 44 5 8 5-73 5-44 5 4 5 48 5-5 5 32 5-23 5 27 5-29 5-24 5-37 5 34 5 40 5 30 5 1 5-33 5 16 5 10 5-20 5-12 5 49 5-54 5 37 5 4 5 4 5-79 5 23 5 39 5 24 5 38 5-36 5 28 5-38 5-2 5-21 5-4 5 28 5 64 5-20 5-55 5 32 5 3 5 5 5-6 5 11 5-22 5 40 5-24 5-36 5 61 5 15 5-56 5 25 5-50 5 60 5 54 5-25 5-29 5 20 5-29 5-21 5 0 5 87 5-82 5 12 5-57 5 29 5 13 5-34 5 44 5-28 5 21 5 17 5 17 5-7 5-21 5 41 5-19 5-18 5 5 5-1 5 25 5-2 5-23 5 32 5-15 5 22 5-28 5-1 5 17 5-47 5 31 5 17 5-21 5 6 5-2 5 2 5 0 5-4 5 13 5-42 5 12 5 4 5 19 5-12 5-10 5 35 5-16 5 5 5 14 5 1 5-23 5-2 5 37 5-2 5-11 5-13 5 7 5-10 5-17 5-6 5 8 5 20 5 10 5-16 5-9 5 18 5-2 5 1 5 3 5-16 5 19 5-9 5 0 5 27 5-2 5 2 5-18 5 3 5 4 5 9 5-7 5 2 5 3 5-23 5 13 5 21 5 4 5-4 5-24 5 31 5 23 5-26 5-29 5 24 5 3 5 10 5-23 5-3 5 6 5 10 5-22 5 14 5-16 5 20 5 9 5-5 5 22 5-34 5-6 5-4 5-14 5 20 5 3 5-20 5 3 5 11 5 3 5 1 5-5 5 23 5-7 5 1 5-18 5-1 5 14 5 3 5 6 5 2 5-23 5-13 5-9 5 32 5-46 5 2 5-4 5 21 5 2 5-6 5-31 5 17 5 16 5-7 5 6 5-6 5 14 5-26 5 27 5-15 5 14 5 3 5-24 5 1 5 3 5 7 5-15 5-6 5 20 5-18 5-13 5 26 5-23 5-26 5 17 5-4 5 11 5 17 5-16 5 8 5 1 5-7 5-11 5-13 5 22 5-4 5 17 5-8 5 5 5-10 5-9 5 16 5 7 5-12 5 3 5 13 5-29 5 19 5-10 5 0 5-5 5-11 5 19 5-5 5 15 5 1 5-9 5 22 5 1 5-24 5 4 5 24 5 0 5 20 5-17 5-3 5-11 5 14 5-11 5-5 5 3 5-15 5 33 5-12 5-15 5 16 5 14 5-36 5 6 5 6 5 8 5-5 5 11 5 14 5-10 5-7 5 5 5-7 5-8 5-19 5 18 5-10 5 9 5 22 5-15 5-27 5 39 5-12 5 9 5-22 5 7 5 20 5-18 5 3 5-15 5 9 5-4 5-2 5 17 5 11 5-10 5-13 5 0 5-23 5 20 5-1 5 28 5 0 5-35 5-6 5 25 5 21 5-28 5 21 5-38 5 23 5-9 5-3 5-12 5 1 5 9 5-26 5 56 5-6 5-6 5-11 5-21 5 21 5 4 5 8 5-29 5 40 5 5 5-31 5 18 5 2 5-7 5 3 5 6 5 12 5-15 5-5 5-5 5 3 5-5 5 19 5-20 5 20 5-33 5-5 5 0 5-13 5 12 5-22 5 54 5-1 5-21 5 10 5-6 5-5 5-7 5 12 5-1 5 3 5 9 5-24 5 32 5-3 5-13 5-21 5 28 5 13 5-30 5 0 5 10 5-17 5 23 5-16 5 0 5 20 5-8 5 7 5 8 5-9 5-8 5-6 5-5 5 10 5-6 5-13 5 9 5 5 5 1 5 16 5-4 5-9 5-19 5 12 5 2 5-2 5 4 5-6 5 13 5-35 5 11 5-12 5 29 5 10 5-1 5 5 5-30 5 21 5-4 5 9 5-13 5 14 5-14 5 24 5 1 5-30 5 18 5-37 5 21 5-3 5 27 5 4 5-13 5 27 5 5 5-45 5-1 5 14 5 24 5-10 5-3 5-11 5 18 5-34 5 10 5 6 5-22 5 15 5 15 5-36 5 12 5 3 5 5 5 25 5-27 5 26 5-36 5 7 5 1 5 25 5-19 5-20 5 6 5 13 5 16 5-15 5 32 5-42 5 6 5 10 5-21 5 9 5 2 5-8 5 3 5 3 5 18 5 2 5-42 5 15 5 22 5-25 5 35 5-26 5 33 5-31 5-16 5 34 5 17 5-10 5 2 5-27 5-12 5 12 5-4 5 5 5 0 5 20 5-19" stroke="#ff1a1a" stroke-width="10"/>
</g>
<g clip-path="url(#c13)" fill="none" stroke-linejoin="round">
<path d="M668.7 448H1122.6" stroke="#606060" stroke-width="1.0" stroke-dasharray="5 2.5"/>
<path transform="scale(.1)" d="M6690 4440l5 7 5 48 5 4 5-41 5 36 5-33 5 76 5-4 5-78 5 10 5-44 5 3 5 55 5 5 5-39 5 53 5-88 5-17 5 21 5 80 5-8 5-14 5 0 5 35 5-35 5-12 5-11 5 1 5 70 5-60 5 61 5-54 5 24 5 2 5-52 5 52 5-37 5-9 5-27 5 32 5 17 5-31 5 29 5 2 5-30 5-24 5-12 5 54 5-45 5 43 5 10 5-17 5 74 5-52 5-54 5 38 5 44 5-31 5-2 5-13 5 44 5-14 5-24 5 37 5-48 5-1 5 24 5-7 5 17 5-36 5-3 5 70 5-65 5-15 5 22 5 6 5-1 5 8 5 75 5-34 5-68 5 1 5 35 5 53 5-78 5 7 5 9 5-21 5 24 5 5 5 23 5-13 5 62 5-48 5-24 5 12 5-3 5 5 5 4 5-63 5 96 5-57 5-74 5 85 5 38 5-29 5 20 5 5 5-76 5 30 5-71 5 130 5-61 5 15 5-14 5 35 5-51 5-37 5 34 5-35 5 60 5 1 5-11 5-27 5 55 5-31 5 40 5-69 5 30 5 6 5 19 5 4 5 4 5-75 5 40 5 63 5-103 5 57 5-14 5 16 5 25 5-17 5-24 5 19 5 32 5-22 5 21 5-12 5-4 5-16 5 7 5-29 5 15 5 32 5 18 5-36 5-60 5-20 5 100 5 40 5-62 5 0 5 63 5-51 5-59 5 43 5 20 5 35 5-13 5-13 5 0 5-27 5 24 5-29 5 55 5-8 5-54 5-55 5 50 5 27 5 4 5 65 5-42 5-38 5 88 5-65 5 4 5-54 5 123 5-88 5-11 5 16 5-25 5-23 5 61 5-28 5 53 5-1 5-9 5-33 5-3 5 17 5 29 5-20 5 14 5-28 5 42 5-30 5 16 5-40 5 0 5 6 5 85 5-42 5-9 5-8 5-55 5-50 5 80 5 27 5 1 5-8 5 62 5-82 5 12 5-21 5-84 5 80 5-33 5 80 5-49 5 25 5-11 5-30 5 7 5 5 5-18 5 24 5-38 5 29 5-31 5 3 5-42 5-9 5 81 5 1 5-41 5-10 5-43 5 5 5 29 5 21 5 28 5-11 5-14 5 8 5-5 5 3 5-53 5 71 5-17 5-45 5 74 5-10 5-34 5 30 5-77 5 74 5-66 5-33 5-13 5 123 5 27 5-8 5-34 5 6 5 16 5 13 5-9 5-48 5 13 5 53 5-58 5-29 5 56 5 27 5-5 5 4 5-51 5 28 5-23 5-18 5 32 5 29 5-16 5-4 5 12 5 23 5 15 5 1 5-62 5 36 5 21 5-77 5 17 5 113 5 17 5-66 5-17 5-3 5-19 5 26 5-61 5 14 5 28 5 49 5-37 5 42 5 20 5 19 5-79 5 52 5-13 5 23 5 67 5-4 5-28 5-27 5 39 5-1 5-125 5 102 5-16 5-17 5-62 5 126 5 21 5-3 5-109 5 80 5 0 5 47 5 70 5-89 5-66 5 109 5-35 5 90 5 2 5-20 5 65 5-29 5 32 5-19 5-2 5-64 5 11 5-28 5-19 5 109 5-101 5-62 5-21 5 74 5-88 5-14 5 58 5-82 5 59 5 5 5-85 5 126 5-27 5 4 5-76 5 87 5-99 5 53 5-43 5-18 5-19 5-13 5-64 5-83 5 87 5 77 5-86 5 44 5-43 5-71 5 27 5-5 5 102 5-103 5-7 5-66 5 18 5-67 5 14 5 19 5 15 5 6 5 33 5-27 5-66 5 65 5-8 5-10 5-71 5 14 5 10 5 48 5-5 5-60 5 155 5-31 5-46 5-61 5 66 5-55 5-11 5 188 5-139 5 111 5 25 5 0 5-95 5 82 5-23 5-22 5 11 5-64 5 47 5 34 5-38 5 47 5 6 5-121 5-12 5 83 5 35 5-69 5 35 5-9 5 33 5 37 5-176 5-28 5 10 5 125 5-40 5 90 5-113 5 1 5 13 5 28 5 97 5-55 5 32 5-66 5-16 5-38 5-81 5 113 5-12 5-26 5 9 5-46 5 64 5 49 5-94 5 74 5-132 5 135 5-36 5-42 5 58 5-105 5 59 5 73 5-90 5 131 5-139 5 60 5 44 5-39 5 75 5-28 5 14 5-8 5-27 5 55 5-109 5 26 5 48 5 26 5 21 5-105 5 47 5-62 5 57 5-2 5 7 5 86 5-115 5-30 5 29 5 66 5-107 5 102 5-60 5 24 5-86 5 75 5 5 5-30 5 63 5-88 5-4 5 55 5 57 5-112 5 98 5 38 5-3 5 69 5-4 5-25 5-58 5-54 5 78 5-57 5 79 5-61 5 47 5 4 5-40 5 87 5-80 5 16 5 47 5-79 5 59 5-19 5-43 5 46 5 35 5 3 5 20 5-27 5 64 5-89 5 44 5-29 5 8 5 8 5-60 5 69 5-19 5-28 5-5 5-11 5 38 5-31 5 57 5 10 5 13 5-34 5 60 5-117 5 30 5 99 5-83 5 13 5 58 5-6 5-22 5 8 5-67 5 41 5-46 5 65 5-53 5-13 5-2 5 2 5-9 5 6 5 22 5-3 5-35 5-19 5-32 5 31 5 48 5-21 5 44 5-141 5-21 5 69 5 48 5-16 5 3 5-15 5-25 5 60 5-54 5 38 5 0 5-80 5 112 5-90 5 61 5 12 5-2 5 62 5-95 5 108 5 20 5-63 5-78 5 37 5-52 5 45 5-12 5 88 5-85 5-52 5 51 5 17 5-13 5 43 5-24 5 71 5-112 5 15 5 135 5 78 5-72 5-134 5 33 5 44 5-73 5 29 5 54 5-128 5 102 5-69 5-16 5 41 5 63 5 13 5-39 5 62 5-81 5-25 5 5 5 41 5-28 5 6 5 15 5-31 5 0 5 22 5 61 5-56 5 68 5-45 5-55 5 44 5-67 5-40 5-19 5 46 5 37 5 67 5-89 5 37 5-44 5-43 5 97 5-1 5-7 5 4 5 13 5-22 5-14 5 54 5 16 5-75 5 40 5-33 5-78 5 110 5-64 5 79 5-19 5 7 5-31 5 50 5-62 5 29 5 31 5 9 5-7 5 30 5-30 5-30 5 27 5 20 5 11 5-49 5 1 5 43 5-69 5 16 5 12 5-5 5 32 5 27 5-3 5-42 5-37 5 68 5-117 5 91 5-23 5 46 5-15 5-12 5 23 5-17 5 17 5 32 5-79 5-13 5 31 5-8 5 1 5-26 5 20 5-42 5 65 5 17 5 18 5-137 5 153 5-101 5 26 5 36 5-13 5-5 5 19 5-20 5 33 5-19 5-49 5-13 5-21 5 120 5-66 5 64 5-4 5-43 5-30 5 31 5 11 5 1 5-24 5-24 5-4 5-33 5 76 5 22 5-107 5 35 5 42 5 20 5 2 5-44 5 59 5-67 5 7 5 35 5-35 5 59 5-85 5 40 5-38 5 21 5 47 5 105 5-95 5-85 5 4 5 36 5 24 5-15 5-72 5 26 5 104 5-34 5-27 5-23 5 61 5-56 5-8 5 42 5 46 5-102 5 72 5-49 5 24 5-69 5 65 5 66 5-136 5 6 5 76 5-14 5-5 5-49 5 53 5 27 5-74 5 3 5 58 5 33 5-13 5-4 5 17 5 7 5-39 5 10 5-3 5-17 5 30 5-34 5 30 5-60 5 28 5 32 5-9 5-51 5 13 5 15 5-66 5-94 5 110 5 70 5 19 5-72 5 49 5 17 5-49 5 23 5-85 5 93 5 15 5-30 5-66 5 70 5 11 5 14 5 30 5-64 5-48 5 48 5 3 5 32 5-23 5-16 5-7 5-7 5 24 5-40 5-67 5 150 5-58 5 13 5-1 5-95 5 32 5 96 5-63 5 51 5-23 5-18 5 52 5-43 5 19 5 32 5-35 5-45 5 53 5-49 5-3 5-5 5 46 5-12 5 43 5-22 5-20 5 5 5-27 5 37 5-108" stroke="#111" stroke-width="10"/>
<path transform="scale(.1)" d="M6690 4507l5-14 5-14 5 21 5 3 5-11 5 9 5-9 5-4 5 7 5 9 5-4 5-1 5-18 5-15 5 33 5 6 5 0 5-3 5 1 5-3 5-3 5-4 5-7 5 2 5-3 5-7 5 7 5 12 5-1 5 9 5-8 5 3 5 9 5-5 5-13 5 1 5 6 5-2 5 10 5 5 5-4 5-7 5-6 5 25 5-29 5-12 5 22 5-16 5 28 5-23 5 17 5-1 5 12 5-17 5 8 5 1 5-8 5-8 5 10 5 10 5-14 5 9 5-15 5 1 5 2 5 3 5 21 5-17 5 5 5-29 5 5 5 19 5 6 5-11 5-25 5-4 5 7 5 28 5-4 5-2 5 5 5-15 5 35 5-26 5-1 5-7 5 12 5 2 5 17 5-37 5 13 5 0 5-6 5 25 5-2 5-7 5-9 5-13 5 11 5 4 5 8 5-2 5-8 5 15 5-15 5 14 5 1 5-14 5 0 5-8 5 15 5 2 5-10 5 3 5-1 5 4 5 4 5 14 5-29 5 6 5 3 5-5 5 12 5-6 5 14 5-5 5 1 5-8 5-2 5 0 5 21 5-6 5 0 5-10 5-6 5-2 5 18 5 4 5-17 5-10 5 10 5 0 5-8 5 10 5-1 5-5 5 24 5-3 5 23 5-3 5-11 5 32 5-15 5 2 5-25 5-21 5 69 5-16 5-1 5 1 5 9 5 11 5-23 5-18 5 57 5-54 5 13 5 7 5-7 5-37 5 40 5-26 5 9 5 26 5-28 5 20 5 3 5-11 5-55 5 33 5-14 5 1 5-10 5 45 5-21 5-2 5 21 5 24 5-30 5-6 5-18 5-7 5 46 5 0 5-11 5-9 5-13 5 24 5 23 5 33 5-77 5 7 5 26 5 4 5-8 5-38 5 51 5-3 5 15 5-6 5 44 5 38 5-36 5 11 5-46 5-6 5-17 5 9 5-45 5 20 5-55 5 31 5 9 5-3 5-30 5-28 5 64 5-8 5 0 5-22 5 5 5-45 5 24 5-27 5 18 5 29 5-39 5 29 5 0 5-59 5 27 5 22 5-23 5 29 5 32 5-39 5-14 5-14 5 27 5-23 5 0 5-18 5 29 5-43 5 47 5 14 5-8 5-4 5-26 5-23 5 72 5-36 5 2 5-17 5-1 5 51 5-23 5-11 5 0 5-38 5 75 5-12 5-3 5 26 5-11 5 15 5-40 5 26 5 13 5-51 5 32 5 17 5-22 5 11 5 10 5-7 5 50 5-57 5-19 5 21 5-12 5 33 5 13 5 23 5-22 5-30 5 13 5-41 5 50 5-18 5 23 5-35 5 20 5 7 5-6 5-7 5-8 5 33 5 14 5-7 5-6 5 46 5-50 5-2 5-9 5-24 5 25 5-2 5 26 5-17 5-4 5 50 5 1 5-55 5 17 5 2 5 48 5 27 5 24 5-33 5-26 5-24 5 54 5 48 5-44 5-28 5 27 5 11 5-77 5 86 5 50 5-31 5 29 5 21 5-5 5 15 5-61 5-1 5 23 5 24 5 91 5-29 5-45 5 17 5-47 5 4 5-29 5 76 5-76 5 18 5 52 5-82 5 32 5-14 5-52 5 26 5 8 5-71 5 81 5-125 5 35 5 17 5 43 5-97 5-17 5 26 5-96 5 39 5 41 5-68 5 18 5-55 5 19 5 11 5 9 5 2 5-22 5-111 5 75 5 25 5-34 5 50 5-89 5-40 5 14 5 15 5 9 5-59 5 72 5-54 5-2 5-46 5 89 5-20 5 18 5-68 5 42 5 53 5-12 5-48 5 28 5-12 5-46 5-81 5 46 5 41 5 40 5-36 5 23 5 112 5-60 5 9 5 2 5-63 5 21 5 16 5 4 5-28 5-2 5 96 5-69 5-37 5-12 5 88 5 0 5-61 5 84 5-14 5-17 5-66 5 11 5 18 5-82 5 71 5-24 5 46 5-60 5-30 5 17 5 9 5-10 5-13 5 39 5 3 5 107 5-110 5 42 5-48 5 39 5 19 5-45 5 42 5-39 5 20 5 26 5-46 5-30 5 18 5-65 5 22 5 2 5-44 5 66 5-17 5 30 5-30 5 18 5-69 5 75 5-19 5 57 5 30 5-44 5-9 5 21 5 79 5-92 5 5 5 42 5-60 5 35 5-40 5 55 5-2 5-45 5 48 5 30 5-47 5 16 5-24 5-71 5 69 5 9 5-40 5 29 5-2 5-50 5 6 5 57 5-28 5 53 5-5 5-33 5 7 5-11 5 5 5-4 5-33 5 4 5 41 5-22 5 27 5-42 5 98 5 23 5-27 5 32 5-61 5 13 5 1 5 39 5-32 5 47 5-48 5 39 5-1 5-36 5 58 5-34 5 72 5-108 5 28 5-1 5 3 5-26 5 45 5-8 5 37 5-17 5 17 5 30 5-29 5-84 5 26 5 27 5-69 5 69 5 9 5 49 5-100 5 75 5-29 5 5 5 28 5 2 5-83 5 17 5 98 5-50 5 76 5-88 5 63 5-32 5-30 5 88 5-72 5-38 5 64 5 47 5-63 5-7 5-18 5-8 5-21 5 21 5-37 5 14 5-52 5 1 5 57 5-18 5-17 5-30 5 69 5-13 5-15 5-20 5 0 5 12 5-29 5 32 5-12 5 19 5-25 5 15 5 33 5 4 5-57 5-65 5 51 5 38 5-90 5 51 5-51 5 82 5 49 5-42 5-88 5 42 5 3 5 20 5-4 5-39 5 51 5-6 5-36 5 34 5 23 5 5 5-68 5 28 5-30 5 6 5 41 5-21 5 9 5 0 5 45 5-6 5-38 5 37 5 40 5-34 5-20 5 64 5-21 5-11 5 9 5-75 5 105 5-59 5 92 5-39 5 8 5-40 5 66 5-46 5 7 5-5 5-7 5-39 5 44 5-50 5 88 5-56 5 34 5 38 5-62 5-12 5 68 5-18 5-36 5 49 5-51 5 4 5 38 5 19 5-64 5-33 5 47 5-20 5-41 5 98 5 16 5-53 5 16 5-2 5 29 5-32 5 21 5-54 5 31 5 39 5-57 5-7 5 3 5 88 5-8 5-38 5-89 5 83 5 5 5-40 5 24 5-20 5 18 5-3 5-42 5 78 5-35 5 22 5-9 5 4 5-94 5 64 5-44 5 71 5-39 5 38 5 1 5 33 5-43 5 33 5 10 5-96 5 15 5-11 5 36 5-25 5 16 5 36 5 2 5-73 5 73 5 23 5-46 5-37 5 71 5-17 5 5 5-6 5 7 5-15 5 20 5 4 5 51 5-23 5-33 5 16 5-49 5 11 5-24 5 46 5-39 5 13 5 24 5-1 5-26 5-18 5 27 5 21 5-1 5-96 5 64 5-20 5-22 5 118 5-63 5 53 5-57 5-12 5-23 5 39 5-4 5 15 5-22 5-30 5 41 5 46 5-12 5 10 5 86 5-59 5-71 5 5 5-34 5 25 5 36 5-50 5-26 5 38 5-37 5 27 5 11 5 0 5 3 5-11 5-3 5 5 5-21 5 66 5 11 5-13 5-13 5-100 5 76 5-11 5 21 5 17 5-12 5 3 5-6 5-5 5-10 5 27 5-12 5-53 5 67 5-51 5 3 5-39 5 13 5 22 5 4 5-4 5 54 5-21 5-8 5 52 5-23 5-55 5 86 5-36 5-21 5 40 5-16 5-20 5-4 5-27 5 7 5-29 5 66 5-31 5 76 5-73 5 31 5 48 5-114 5 38 5-24 5 5 5 27 5 20 5-16 5 106 5 97 5-110 5-82 5-28 5-34 5-28 5 59 5 41 5-1 5-105 5 5 5 18 5 102 5-57 5-6 5-13 5 5 5 4 5 39 5 39 5-49 5 39 5-27 5-38 5 52 5-97 5 29 5 11 5 28 5 54 5 10 5-122 5 21 5 46 5-9 5-15 5-59 5 65 5 40 5 1 5-76 5 61 5-45 5 14 5 12 5-17 5-13 5 38 5 26 5-37 5 76 5-58" stroke="#20e820" stroke-width="10"/>
</g>
<g clip-path="url(#c14)" fill="none" stroke-linejoin="round">
<path transform="scale(.1)" d="M6690 5554l5-25 5 1 5 8 5 11 5 6 5 13 5-35 5 32 5-5 5-40 5 5 5 35 5 1 5-10 5 8 5-55 5 9 5-18 5 62 5-44 5 51 5-82 5-19 5 55 5-57 5 57 5-12 5 42 5-1 5-1 5-9 5-6 5-11 5 17 5-10 5-4 5 33 5-33 5 28 5-34 5-43 5 36 5-77 5 96 5-72 5 21 5 62 5-44 5-73 5 120 5-75 5 55 5 19 5-35 5-9 5 16 5 32 5-94 5 86 5-30 5 25 5-52 5 54 5 27 5-32 5-32 5 9 5 32 5-18 5 5 5-2 5 21 5-24 5 37 5-28 5 30 5-11 5-11 5 8 5-11 5 5 5 24 5-6 5-26 5 3 5-1 5-52 5 37 5 43 5-9 5-39 5 50 5 2 5-16 5-3 5 16 5-24 5 22 5-51 5 13 5 17 5 6 5-42 5-39 5 16 5 74 5-5 5-29 5-42 5-33 5 106 5-5 5-11 5 11 5-7 5 12 5 14 5-14 5-28 5 24 5-29 5 28 5-44 5 3 5 30 5 3 5 23 5 1 5-9 5 10 5-41 5 15 5 14 5-16 5-10 5-93 5 129 5-26 5-1 5-1 5-27 5 14 5 0 5 9 5 26 5-13 5 11 5-98 5 33 5 43 5 9 5-75 5 30 5-61 5-45 5 126 5-46 5 52 5-20 5-8 5-73 5-104 5 17 5-12 5 124 5 49 5-71 5-101 5 101 5-147 5 180 5 7 5 35 5-95 5 30 5 2 5-10 5 26 5 1 5 19 5 17 5-59 5 37 5 40 5 30 5-143 5 143 5 2 5 6 5-58 5 49 5-56 5-42 5 12 5 64 5-73 5-15 5-116 5 149 5 17 5-19 5-42 5-104 5 22 5 167 5-110 5 67 5-262 5 126 5 138 5-58 5 98 5-148 5 47 5 85 5 23 5-58 5-44 5 17 5 5 5 59 5 62 5-15 5 23 5-13 5-15 5-40 5 15 5 18 5-24 5 53 5-121 5 109 5-14 5-30 5 20 5 44 5-36 5 36 5 7 5-6 5-65 5 22 5-8 5 26 5 18 5 2 5-28 5 28 5-12 5-59 5-1 5 37 5-46 5 19 5 1 5-31 5 28 5 21 5-94 5 122 5-52 5 55 5-12 5 16 5-42 5 7 5 12 5-34 5-65 5 13 5 51 5 34 5-135 5 135 5 3 5-67 5 62 5-150 5 91 5 14 5 55 5-44 5 55 5-130 5 142 5-76 5-84 5 156 5-75 5 29 5-39 5 24 5 11 5 17 5 22 5-8 5-75 5 86 5-192 5 67 5 61 5-78 5 63 5 36 5 45 5-186 5 61 5 77 5 22 5-47 5 34 5-3 5 2 5 50 5-30 5-21 5 53 5-21 5 18 5-12 5-41 5-2 5 36 5-54 5-116 5 98 5-125 5 183 5-139 5 58 5 5 5 53 5-21 5-115 5 164 5-54 5-14 5 7 5-2 5-74 5 86 5-72 5-151 5 74 5 84 5 34 5-125 5 155 5-66 5-15 5 60 5-76 5-57 5-25 5 32 5 53 5 67 5-21 5-49 5 22 5 23 5 20 5-381 5 369 5-22 5 21 5-45 5-46 5-32 5-143 5-229 5 50 5 413 5-135 5-157 5-5 5 170 5 162 5-423 5 197 5-196 5 364 5 5 5 9 5-114 5-111 5 144 5-151 5-250 5 129 5 314 5 16 5-23 5 35 5 81 5 3 5-49 5-15 5 104 5-121 5 97 5-2 5-105 5 111 5-243 5 129 5 15 5-206 5 287 5-386 5-206 5 288 5 267 5-14 5 69 5-111 5 82 5-13 5 47 5-44 5 53 5-95 5 68 5-57 5 88 5 28 5-58 5 21 5-134 5 11 5 42 5 21 5 37 5 15 5-177 5 168 5 25 5 0 5-33 5 36 5-58 5-214 5 55 5 47 5 168 5-245 5 236 5-83 5-95 5-16 5 42 5-60 5-28 5 141 5-32 5 60 5-34 5 28 5 0 5 44 5-134 5-80 5 173 5-77 5-117 5-119 5-252 5 202 5 244 5 154 5-61 5 53 5-264 5 96 5-115 5 163 5 114 5-66 5 41 5-24 5-55 5 174 5-61 5 65 5-73 5 36 5-129 5 75 5 93 5-245 5 5 5 233 5 15 5-79 5 64 5 16 5-153 5 112 5-44 5 15 5 22 5-8 5-128 5 134 5-7 5 50 5-30 5-82 5 99 5-146 5-174 5 86 5 221 5-47 5 5 5-13 5 34 5-110 5 99 5-35 5 23 5-103 5-119 5 110 5 119 5-3 5-63 5 127 5 11 5-126 5 76 5-6 5 3 5 58 5-82 5 35 5-107 5 158 5-6 5-15 5-111 5 97 5-65 5 72 5-56 5 38 5 1 5-14 5 26 5-65 5 89 5-22 5-56 5-32 5 88 5-105 5 80 5-28 5-2 5 20 5 42 5-156 5-157 5 174 5 170 5-10 5-31 5-53 5 39 5-3 5 51 5-48 5 38 5-127 5 100 5-42 5 4 5-1 5-5 5 64 5-5 5-90 5 116 5-32 5 21 5-154 5 102 5 51 5 4 5-142 5 104 5 20 5 22 5-109 5 1 5 89 5 9 5-97 5 48 5 11 5-112 5 138 5-85 5-53 5 90 5-6 5-14 5 62 5 6 5-51 5-72 5 66 5 46 5-230 5 135 5 82 5-49 5 71 5-158 5-73 5 139 5 89 5-257 5 75 5-21 5-111 5 91 5 93 5-7 5-13 5 154 5-28 5-97 5 47 5 39 5-138 5-82 5 141 5 111 5-67 5 53 5-226 5 67 5 171 5-46 5-147 5 185 5-143 5 112 5-61 5-40 5 40 5 49 5 33 5-92 5 14 5-27 5-108 5 80 5-99 5-179 5 200 5 130 5-78 5 157 5 10 5-171 5 62 5 37 5 54 5 32 5-294 5-236 5 190 5 283 5-22 5-99 5 50 5-39 5 183 5-24 5-192 5-123 5 120 5 192 5-102 5 136 5-135 5-11 5 140 5-6 5-27 5-117 5-102 5 200 5 60 5-128 5 73 5-13 5-40 5-11 5 36 5 30 5-52 5-66 5 0 5-94 5 80 5 90 5-56 5 119 5-161 5 110 5-78 5 90 5-183 5 146 5 83 5-136 5 154 5-7 5-15 5-103 5 93 5-98 5-55 5 10 5 53 5 21 5-30 5 89 5-96 5 107 5-13 5-112 5 119 5-40 5-99 5 131 5-70 5 90 5-58 5-62 5-65 5 173 5-46 5 22 5 18 5-59 5-61 5-15 5 120 5-179 5 23 5 84 5-10 5-76 5 26 5-12 5-136 5 242 5-32 5 21 5 96 5-82 5 48 5-45 5-38 5-103 5-23 5 168 5 18 5-60 5 0 5-84 5 68 5 123 5-132 5 153 5 4 5-41 5-228 5 224 5-18 5 41 5-20 5-181 5 38 5 118 5 47 5-83 5 65 5 22 5-127 5 19 5 42 5 61 5 6 5-28 5-48 5 81 5-137 5-101 5 66 5 103 5-3 5-23 5 55 5 9 5 21 5-102 5 75 5-11 5 41 5-26 5-271 5 184 5 94 5-16 5-155 5 159 5-141 5 51 5-19 5 45 5 50 5-46 5 8 5 24 5-165 5 122 5 65 5-207 5 187 5-55 5 92 5-34 5-53 5-91 5 178 5-78 5 7 5 11 5-214 5 284 5-195 5-164 5 113 5 175 5 39 5-243 5 215 5-97 5-17 5 123 5-32 5 60 5-173 5-132 5 163 5-15 5 148 5-16 5-91 5-139 5 234 5-11 5-50 5 49 5-101 5 154 5-330 5 284 5-169 5 66 5 100 5-51 5 75 5-120 5 15 5 146 5-98 5 91 5-33 5-82 5 8 5-39 5 91 5-93 5 93 5-58 5 68 5 30 5-219 5-90 5 128 5 158 5-66 5 8 5 95 5-61 5 55 5-35 5 25 5-40 5-115" stroke="#1a1a1a" stroke-width="10"/>
</g>
<g clip-path="url(#c15)" fill="none" stroke-linejoin="round">
<path transform="scale(.1)" d="M6690 5947l6-2 6 0 6 0 6 11 6 18 6-8 6-33 6 9 6 14 6-8 6-19 6-3 6-10 6 29 6 14 6-4 6-10 6 18 6 5 6-5 6-27 6 11 6-27 6 7 6 11 6 10 6-13 6-14 6 11 6 17 6-1 6 10 6 23 6-37 6 28 6-13 6-19 6 6 6-21 6 20 6 5 6-19 6-5 6-14 6 26 6 0 6 6 6 2 6-17 6 4 6 1 6-18 6 15 6 29 6-5 6-17 6 7 6-5 6 14 6-41 6 24 6-12 6-7 6 21 6-4 6 18 6 5 6-20 6 22 6-15 6 8 6 19 6-29 6-7 6-6 6 0 6 46 6-21 6-7 6 6 6 8 6-24 6 5 6 1 6 24 6-2 6-7 6 17 6-5 6 10 6-23 6-18 6-14 6 13 6-9 6 19 6-7 6-6 6 21 6-8 6 1 6-1 6-12 6-17 6 10 6 5 6 0 6-19 6 36 6-6 6 8 6 22 6-15 6-4 6 5 6-45 6 52 6-3 6-21 6 14 6-22 6 13 6 11 6 8 6-22 6 11 6 5 6-37 6 19 6-30 6 39 6-11 6 36 6-36 6 31 6-19 6-10 6 13 6-17 6 26 6 7 6-7 6-3 6-35 6-21 6-13 6 54 6 16 6 14 6-66 6 3 6 18 6-1 6 31 6-40 6-9 6 19 6 4 6 0 6 11 6-18 6-8 6 32 6-9 6-5 6-3 6-20 6 42 6 16 6-20 6 4 6-9 6 3 6-7 6 18 6-9 6 11 6-57 6 27 6 18 6 27 6-34 6 16 6-30 6 17 6-34 6 3 6 4 6 37 6 2 6 18 6-12 6-44 6 19 6 18 6-10 6 11 6-14 6-18 6 0 6 36 6 0 6-24 6 8 6 4 6 13 6-14 6 31 6-24 6 12 6-17 6-12 6 33 6-2 6-42 6 26 6-50 6-7 6 25 6-28 6 17 6 37 6 28 6-35 6 7 6 8 6-29 6-7 6 24 6 17 6 6 6-32 6-15 6 24 6 4 6 5 6-12 6-16 6 16 6-1 6 13 6-26 6 26 6-4 6-4 6 9 6 1 6-4 6-14 6-24 6 15 6 21 6 26 6-30 6 6 6 38 6-13 6-11 6-1 6-21 6-10 6 25 6-35 6-4 6 10 6 10 6 7 6-11 6 16 6 2 6-40 6-4 6 7 6 66 6-58 6 63 6-60 6-25 6 95 6-9 6 9 6-33 6-42 6 23 6-20 6 7 6 8 6 51 6-22 6 115 6-54 6-77 6-16 6 42 6-10 6 39 6-58 6-57 6 55 6 65 6-23 6-15 6-5 6-41 6 85 6 12 6-24 6 48 6-30 6 42 6-36 6-14 6-14 6 38 6 38 6-55 6-74 6 34 6 29 6 24 6-48 6 23 6 15 6-48 6 113 6-100 6 6 6 99 6-59 6-44 6 27 6-26 6-63 6 94 6-69 6 87 6-137 6 12 6 24 6-38 6 22 6 27 6-37 6-11 6 119 6 21 6-10 6 71 6-167 6 46 6 106 6-13 6-108 6 70 6-76 6 30 6-38 6 50 6-18 6 9 6 88 6-61 6-17 6-105 6 79 6 66 6-68 6-21 6-69 6 116 6 75 6-118 6 77 6-64 6 53 6 0 6 4 6-38 6 5 6-16 6 31 6-26 6-41 6-3 6 1 6-4 6-21 6 37 6-10 6-26 6 24 6 18 6-13 6 112 6-87 6-7 6-19 6-1 6 2 6 16 6-18 6 12 6-18 6 28 6-21 6-20 6-28 6 35 6 59 6-31 6-11 6 6 6 20 6 0 6-29 6 35 6-28 6 10 6-6 6-1 6 18 6-17 6 6 6-21 6-2 6 13 6 28 6 22 6-4 6 4 6-24 6-13 6 13 6 6 6-3 6 18 6-29 6-2 6 0 6 25 6-9 6-59 6 16 6-10 6 30 6 27 6 18 6-31 6 1 6-13 6 17 6 8 6-43 6 38 6-22 6-1 6 13 6-11 6-8 6 17 6-19 6 2 6 17 6-26 6-6 6-26 6 48 6-20 6 16 6-4 6-9 6 15 6 18 6-9 6-2 6-11 6 43 6-34 6-23 6 26 6 18 6 3 6-9 6-26 6-50 6 17 6 28 6 11 6 10 6-37 6 26 6 10 6-3 6-12 6 3 6-11 6-31 6 45 6 28 6-21 6-14 6-7 6 0 6 23 6-33 6 19 6-1 6-1 6-9 6 32 6-5 6-34 6 13 6 6 6-11 6-6 6-8 6 38 6-39 6-15 6 15 6 12 6 44 6-8 6-9 6 3 6-33 6-5 6 15 6 9 6-13 6 16 6 50 6-50 6-31 6 21 6 10 6-19 6 8 6 4 6-14 6 49 6-14 6-29 6 11 6 12 6 21 6-44 6 35 6-12 6-15 6-7 6 60 6-20 6-8 6-3 6-33 6 16 6 51 6-23 6 11 6-39 6-17 6-42 6 64 6-17 6 60 6-49 6 6 6-19 6 0 6 27 6 6 6-12 6-16 6 44 6-9 6-46 6-17 6 9 6 34 6-35 6 14 6-33 6 26 6-17 6-27 6 59 6 47 6-22 6-15 6-3 6-3 6-20 6 12 6-1 6 7 6 9 6-16 6-43 6 25 6 57 6-11 6-42 6 25 6 27 6-14 6-40 6 37 6 10 6-1 6 6 6 10 6-76 6 31 6-3 6 1 6-2 6 10 6-33 6 19 6 7 6 5 6 7 6-20 6 14 6-34 6 20 6 33 6 17 6-27 6-6 6 37 6-25 6-8 6-14 6 26 6-28 6-17 6-6 6 32 6-16 6-11 6 26 6-3 6-7 6 8 6-31 6 47 6 15 6 35 6-37 6-5 6-51 6 28 6 11 6-42 6-7 6 72 6 20 6-45 6-9 6-22 6 39 6-46 6 32 6 9 6 23 6-24 6 0 6-5 6 1 6-6 6 11 6 40 6-44 6 39 6-20 6-12 6 1 6-2 6 17 6-14 6 43 6-85 6-3 6 6 6 40 6 9 6-3 6 7 6-8 6-31 6 14 6-17 6 48 6-22 6-12 6 52 6-21 6-36 6-36 6 21 6 24 6-34 6 38 6-2 6-9 6 28 6-61 6 44 6-9 6-40 6 23 6 32 6-34 6 0 6 27 6-4 6-8 6 17 6-29 6 38 6-19 6-5 6 16 6 5 6-15 6-13 6 2 6-3 6 0 6 5 6 0 6 8 6 22 6-37 6 39 6-20 6-23 6 26 6 38 6-53 6 32 6-25 6-18 6-7 6 35 6-3 6-31 6 11 6-6 6 39 6-18 6-4" stroke="#1a1aff" stroke-width="10"/>
<path transform="scale(.1)" d="M6690 5969l6-3 6 4 6-34 6 2 6-6 6 3 6 9 6 19 6-34 6 13 6 13 6-17 6 9 6 1 6 30 6-16 6-30 6 12 6-4 6-3 6 3 6 16 6 2 6 14 6 0 6-16 6-22 6 43 6-20 6-5 6 5 6-18 6 22 6-1 6 28 6-28 6 0 6-6 6 2 6-9 6 1 6-21 6 20 6 0 6 20 6-23 6 3 6 12 6 30 6-19 6 3 6-7 6-31 6 10 6-10 6 15 6-13 6-1 6 12 6 9 6-25 6 12 6-10 6-17 6 32 6-1 6-3 6 11 6-7 6 10 6 2 6-5 6 1 6-2 6-17 6 29 6-33 6-1 6-17 6 38 6-5 6 3 6-16 6 21 6-1 6-18 6 27 6 14 6-5 6-34 6-3 6 6 6 27 6 0 6-25 6 4 6 19 6 11 6-21 6-6 6-28 6 11 6-16 6 10 6 13 6-4 6 7 6-11 6 6 6-6 6 2 6 15 6-1 6 6 6-10 6-13 6 9 6-7 6 0 6 27 6-23 6 12 6 0 6-2 6 9 6 2 6-16 6-45 6 42 6-18 6 33 6-24 6 17 6-21 6 12 6 26 6 0 6-7 6 8 6-8 6 46 6-51 6-26 6 29 6 42 6-10 6 25 6-48 6-14 6 16 6 5 6 18 6-16 6-9 6 56 6-83 6-8 6 22 6-10 6 49 6-9 6-8 6 4 6-38 6 38 6-11 6 22 6-32 6-1 6 19 6 19 6-13 6-11 6-30 6 3 6 45 6-52 6 26 6-23 6 1 6 29 6 25 6-33 6-16 6-12 6 33 6 7 6-9 6-34 6 8 6 34 6-16 6 6 6-2 6-48 6 74 6-37 6 21 6 30 6-6 6-16 6 20 6-27 6-35 6 34 6-4 6 8 6-24 6-8 6-1 6-8 6-3 6-11 6 22 6-22 6-1 6 35 6-29 6-6 6-15 6 25 6 53 6-43 6 28 6-13 6 29 6-8 6-33 6 18 6-4 6-11 6-19 6 22 6 27 6-78 6 32 6 23 6 14 6-29 6-27 6 32 6 8 6 19 6-44 6-29 6 26 6 32 6-28 6 8 6 10 6 12 6-33 6-7 6 67 6-52 6 14 6-11 6 8 6-23 6 14 6 39 6-23 6-37 6 47 6 37 6-54 6-7 6 11 6 4 6-5 6-32 6-10 6 0 6 73 6-9 6-47 6-20 6 31 6 33 6 41 6-42 6 6 6-95 6 99 6-71 6 14 6 37 6 28 6-5 6-28 6-10 6 37 6 41 6-89 6-11 6-22 6 73 6 10 6-28 6-33 6-34 6 73 6-98 6 73 6-19 6 48 6 8 6-20 6 1 6-27 6-10 6 19 6 3 6 19 6-58 6 42 6-15 6 24 6 49 6-79 6 43 6 18 6-93 6 3 6 51 6 45 6-29 6-72 6 51 6-52 6 64 6-26 6 1 6 50 6-2 6 38 6-44 6 35 6 64 6-113 6-31 6 51 6-48 6 59 6 56 6-24 6-75 6-40 6 64 6 34 6 49 6-129 6-17 6 28 6-6 6-56 6 111 6-27 6 1 6-60 6 59 6-18 6-31 6 113 6-77 6 17 6-38 6 40 6-95 6 53 6 77 6-57 6 63 6-62 6 5 6-19 6 13 6 52 6 30 6-102 6 17 6 66 6-133 6 57 6-31 6-39 6 21 6 94 6-2 6 10 6-99 6 100 6-28 6-59 6 21 6 47 6-20 6-51 6 61 6 19 6 13 6-104 6 36 6 13 6 2 6 9 6 23 6-9 6-66 6 69 6 72 6 11 6-48 6-53 6 51 6-11 6-9 6-51 6 40 6 11 6-47 6-14 6 82 6-46 6 20 6 47 6-28 6-65 6 22 6-4 6 11 6-2 6 17 6 3 6-34 6 2 6-4 6 10 6-52 6 47 6-41 6 22 6 41 6-47 6 23 6 23 6 10 6-45 6 97 6-32 6 10 6-7 6-22 6-22 6 8 6-58 6 65 6 1 6-87 6 35 6 13 6 58 6 28 6-63 6 80 6-41 6-105 6 9 6 59 6 37 6 15 6-67 6-13 6 19 6 30 6-38 6 19 6 4 6 5 6-48 6 47 6-4 6 37 6-16 6-49 6 13 6 53 6-11 6-58 6 18 6-31 6-15 6 59 6 59 6-63 6-3 6 23 6-21 6 26 6-26 6-30 6 33 6 55 6-38 6-37 6 23 6-39 6 66 6-60 6 32 6-22 6 14 6 1 6-52 6 82 6-50 6 56 6-9 6-22 6-2 6-6 6-28 6-8 6 52 6 0 6-9 6-74 6 35 6 1 6 5 6 74 6 1 6-18 6-48 6 7 6-10 6 9 6 47 6 35 6-70 6-34 6 14 6 39 6-10 6 13 6-5 6-8 6-31 6 49 6-40 6 37 6-11 6 34 6-42 6 77 6-41 6 45 6-32 6-24 6 8 6 1 6-40 6 5 6-25 6 3 6 11 6-11 6 74 6-60 6-17 6 59 6-47 6-21 6-6 6 24 6 30 6 0 6 62 6-42 6-42 6-15 6 18 6 15 6 71 6-18 6-37 6-26 6 49 6-68 6 6 6-5 6-35 6 13 6 19 6 36 6-8 6 43 6-34 6 13 6-15 6-12 6-51 6 76 6-41 6-40 6 31 6 7 6 25 6 6 6-14 6 2 6 29 6-40 6-55 6 12 6 109 6 12 6-90 6-66 6 68 6-8 6 7 6 8 6 19 6 3 6-30 6 59 6-34 6-58 6 42 6-4 6 52 6-10 6 17 6-45 6-31 6 54 6-17 6-9 6-47 6 14 6 61 6-32 6-21 6 80 6-54 6-11 6 1 6 9 6-48 6 11 6 27 6 40 6-64 6-54 6 57 6 13 6 29 6-3 6-40 6-33 6 42 6 24 6-46 6 27 6-42 6 29 6 0 6 29 6-25 6-30 6 42 6-47 6 33 6 10 6 29 6 5 6-51 6-10 6 79 6-23 6-57 6-2 6 41 6 23 6-69 6 34 6 5 6 0 6 42 6-23 6 19 6-32 6-35 6 48 6 4 6 16 6-1 6 25 6-24 6 5 6 41 6 27 6-90 6-63 6 25 6 20 6 18 6 26 6-41 6-13 6 23 6-25 6 86 6-37 6-67 6 20 6 36 6-4 6-37 6-17 6 27 6-3 6-20 6 9 6 88 6-41 6-42 6 38 6 61 6-33 6-67 6 21 6-18 6 81 6-26 6-76 6 18 6 13 6-35 6 21 6-10 6-1 6 14 6 36 6-32 6-64 6 52 6 1 6-33 6 36 6-31 6-5 6 95 6-13" stroke="#20ee20" stroke-width="10"/>
<path transform="scale(.1)" d="M6690 5930l5 42 5-5 5-22 5 15 5 24 5 15 5-1 5-45 5 40 5-12 5-10 5-6 5-13 5 12 5 27 5-16 5 17 5-33 5 21 5 2 5-4 5-27 5 16 5 10 5 3 5-17 5 10 5 3 5 12 5-21 5 19 5-26 5 16 5-7 5 9 5 11 5-3 5 2 5 9 5-6 5 6 5-4 5-10 5-7 5 39 5-19 5 10 5-2 5-23 5 9 5-18 5 17 5 23 5-31 5-24 5 31 5-14 5 4 5-11 5 22 5-20 5 3 5 9 5-15 5-2 5 2 5 3 5-25 5 25 5 22 5-13 5-29 5-1 5 15 5 6 5-2 5-6 5-1 5 19 5-22 5-4 5-2 5-8 5 10 5 7 5 29 5 1 5-26 5-1 5 3 5-18 5-30 5 34 5-17 5 22 5-23 5 26 5 2 5-27 5 17 5-11 5 22 5-18 5 11 5 21 5-20 5-9 5-2 5 24 5-1 5-23 5 8 5 16 5 3 5-35 5-5 5 16 5 37 5-30 5-28 5 28 5-15 5 27 5-19 5 5 5 3 5-7 5-13 5 1 5 14 5 18 5 0 5-21 5 26 5-25 5 1 5 11 5-6 5-29 5 3 5 17 5-6 5 11 5-1 5 7 5-5 5 3 5-4 5-28 5 12 5 5 5-10 5 74 5-95 5-4 5 29 5-5 5-32 5-9 5-25 5 66 5 0 5-58 5 9 5 4 5-43 5 33 5 2 5-7 5 16 5 7 5 51 5-59 5-3 5-40 5 45 5 25 5 6 5 41 5-51 5-18 5-9 5 19 5 6 5 36 5-21 5 8 5 19 5-7 5 32 5-34 5 6 5-16 5 37 5-32 5 36 5 3 5-8 5 53 5-83 5-6 5-23 5 71 5-43 5 59 5-7 5 5 5 21 5 15 5-20 5-22 5 0 5 19 5-1 5-28 5-16 5-36 5 47 5-7 5 18 5-40 5-51 5 38 5 49 5 2 5-49 5 24 5 67 5-66 5-47 5 39 5 11 5-15 5 10 5 36 5-48 5-27 5 43 5-30 5 25 5-25 5-10 5 26 5-26 5 71 5 12 5-40 5-5 5-56 5 20 5-19 5 6 5 25 5-9 5 70 5-24 5-38 5 41 5 41 5-41 5-4 5-20 5 15 5-41 5-10 5 83 5-10 5-57 5-43 5 27 5-15 5-63 5 94 5-28 5 28 5 60 5-21 5-9 5 7 5-70 5 3 5 16 5 25 5 12 5 19 5 46 5-65 5 8 5-16 5-1 5 10 5-12 5 16 5 38 5 24 5-13 5 2 5-13 5-16 5-2 5 36 5-36 5 8 5-4 5 40 5 27 5-35 5-8 5-11 5-32 5-72 5 56 5 12 5 58 5-82 5 28 5-58 5 38 5 25 5 53 5-21 5 61 5 5 5-29 5 89 5-48 5-78 5 116 5-194 5-11 5 132 5-82 5 78 5-16 5-42 5-49 5-36 5 42 5-20 5-51 5 25 5 5 5 83 5-50 5 143 5 48 5-117 5-108 5 143 5-68 5-144 5 139 5-224 5 206 5-62 5-10 5-25 5 41 5 108 5-147 5 32 5-93 5 255 5-70 5 7 5-153 5 160 5-321 5 217 5 45 5-86 5 53 5 8 5-151 5 13 5 136 5 21 5-286 5 167 5-87 5 238 5-179 5 182 5-89 5 31 5-78 5-50 5-82 5 126 5 77 5-150 5-111 5 56 5 50 5 303 5-39 5-57 5-159 5-81 5 137 5 268 5-42 5-42 5-50 5 51 5-123 5 212 5 47 5-102 5 65 5 71 5 108 5-112 5-76 5 4 5-132 5 36 5-20 5-70 5-49 5 172 5 5 5 43 5-170 5 62 5 0 5 72 5 74 5-87 5-97 5-16 5-66 5 34 5-42 5 158 5-138 5-14 5 5 5 22 5 89 5 24 5-117 5-84 5 139 5 13 5 38 5-82 5-2 5 8 5 172 5-59 5-71 5 6 5 223 5-313 5 297 5-229 5 170 5-137 5-136 5-40 5 223 5 20 5-102 5 68 5-5 5 69 5 206 5-252 5-135 5 157 5-55 5 12 5-144 5 2 5 124 5-42 5 50 5-80 5 158 5-114 5 54 5-5 5-95 5 29 5 78 5 29 5-152 5-57 5 96 5-9 5-54 5 150 5-10 5-39 5 55 5-125 5 75 5 29 5-51 5-50 5-102 5 83 5 63 5 41 5-9 5-4 5-28 5-16 5-5 5 125 5 95 5-118 5-11 5-101 5-84 5 73 5 3 5 32 5 0 5-71 5 88 5 19 5 135 5-98 5-41 5 26 5 9 5-20 5-118 5 97 5-98 5 79 5 6 5 88 5-50 5 9 5-43 5-21 5-43 5 29 5-29 5 29 5 96 5 20 5-182 5-36 5 103 5 34 5 70 5-28 5-10 5-175 5 98 5-5 5 55 5-37 5 4 5-22 5-4 5 33 5-20 5 132 5 98 5-148 5-44 5 27 5-6 5-75 5-29 5-8 5-32 5 61 5 138 5-134 5 8 5-31 5 104 5 0 5-63 5 74 5 7 5 74 5-188 5 68 5 11 5-98 5 26 5 114 5 83 5-134 5-23 5-51 5 15 5-16 5-21 5 59 5-52 5 79 5-61 5-48 5 55 5 96 5-69 5-103 5 44 5 61 5-19 5 92 5-49 5 27 5-73 5-3 5-49 5 59 5-12 5 167 5-76 5 60 5 35 5-135 5-21 5-15 5 60 5 17 5-112 5 122 5 30 5-29 5-11 5 33 5-194 5 27 5 106 5-3 5-14 5-121 5-37 5 81 5 121 5-29 5-73 5-37 5 148 5-36 5 7 5-46 5 39 5-57 5 64 5 36 5-98 5 53 5 7 5 13 5-53 5 50 5-55 5-61 5-18 5 178 5 170 5-152 5-142 5 91 5-22 5 30 5-21 5-42 5-7 5 91 5-118 5 156 5 171 5-160 5-17 5-112 5-17 5 28 5-36 5-99 5 8 5 26 5-81 5 150 5 145 5-59 5 33 5-157 5 54 5-25 5 37 5 133 5-105 5-75 5-2 5-1 5-10 5 88 5 26 5-21 5-7 5 29 5-49 5-7 5 0 5-29 5 52 5-12 5-46 5-4 5 80 5-15 5-36 5 25 5-62 5-92 5 163 5-64 5 15 5-103 5 119 5 112 5-96 5 8 5-73 5 114 5-9 5-64 5-57 5-4 5 50 5 57 5 112 5-44 5-83 5-75 5 77 5-83 5-50 5 66 5-3 5 0 5 30 5 53 5-124 5 88 5-5 5 7 5-44 5 73 5-17 5 18 5-49 5 89 5-54 5-142 5 20 5 82 5 120 5-116 5 102 5-12 5-31 5 16 5-57 5-18 5 78 5-5 5 0 5-14 5 33 5-83 5 137 5-139 5 10 5 52 5 20 5-112 5 89 5-40 5-37 5 42 5-41 5 64 5-18 5-85 5 70 5-131 5 155 5-8 5 48 5-76 5 15 5 94 5-51 5-67 5 129 5 40 5-146 5 63 5-64 5-41 5 29 5 59 5-167 5 99 5 30 5-46 5 78 5-104 5-21 5 60 5 12 5 51 5 24 5-31 5 21 5-59 5 14 5 52 5 19 5 77 5-111 5-30 5-80 5 135 5-63 5-44 5-1 5 22 5-16 5 54 5 1 5 10 5-72 5 155 5-164 5 1 5 65 5 48 5-149 5 198 5-161 5 86 5-77 5-36 5-122 5 223 5 173 5-94 5-85 5-78 5-69 5 140 5 92 5-137 5 9 5-47 5 71 5-42 5 161 5-86 5-46 5-85 5 109 5-72 5 82 5-20 5-40 5 61 5-6 5-44 5-38 5 118 5-39 5 5 5-73 5 10 5 7 5 133 5-105 5 27 5 110 5-60 5-32 5-42 5 15 5 14 5-5 5-9 5-19 5 5 5-49 5 68 5 4 5-27 5 33 5-151 5 155 5-78 5 93 5-27 5-84 5 76 5-38 5 34" stroke="#ff1a1a" stroke-width="10"/>
<path d="M668.7 595.1H1122.6" stroke="#202020" stroke-width="1.0" stroke-dasharray="5 2.5"/>
</g>
<g clip-path="url(#c16)" fill="none" stroke-linejoin="round">
<path d="M668.7 672.2H1122.6" stroke="#909090" stroke-width="1.0" stroke-dasharray="1.5 2.5"/>
<path transform="scale(.1)" d="M6690 6724l5 7 5-11 5-11 5 17 5-5 5 2 5 7 5-11 5 0 5 1 5-2 5 7 5-9 5-1 5 7 5 0 5 7 5-1 5 9 5-12 5 11 5-21 5-1 5 12 5 0 5-1 5 2 5-3 5 1 5-6 5 2 5-2 5 0 5 6 5 1 5 1 5 5 5-4 5-16 5 12 5 7 5-16 5 7 5 3 5 5 5 0 5-4 5-1 5-2 5 1 5 1 5 1 5 3 5 10 5-10 5-5 5 7 5 1 5-12 5 4 5-1 5 0 5 15 5-6 5-6 5 14 5-14 5-3 5 1 5-1 5 8 5 1 5-7 5 7 5-6 5 2 5-13 5 9 5-4 5-1 5 10 5-2 5-7 5 8 5-11 5 8 5 6 5-1 5 5 5 0 5-7 5 2 5 6 5-5 5 1 5-12 5 0 5 7 5-10 5 6 5 4 5 3 5-1 5-3 5 5 5-1 5-10 5 0 5-2 5 14 5 7 5-17 5-5 5 5 5 6 5 1 5-6 5 4 5 2 5 1 5 1 5-2 5 5 5-12 5 1 5 10 5-1 5 3 5-2 5-1 5-2 5 3 5-3 5 5 5 5 5-18 5 17 5-2 5 1 5-20 5 11 5 9 5-2 5-7 5 4 5-4 5 3 5 0 5-2 5 0 5 17 5 0 5-10 5-2 5 5 5-13 5-6 5 21 5 21 5-131 5-79 5 91 5 126 5-65 5 3 5 60 5-24 5-5 5-8 5-15 5 7 5-18 5 51 5 21 5-29 5-1 5-32 5 21 5-11 5 27 5-33 5-35 5 37 5 63 5-34 5 0 5-11 5 7 5-58 5 66 5-18 5 48 5-20 5-60 5 46 5 19 5-33 5-14 5-5 5 29 5-8 5 13 5 16 5 38 5-30 5-12 5-48 5-13 5-5 5 27 5 9 5-15 5 10 5-17 5-7 5 39 5 15 5-43 5 4 5 4 5 24 5-27 5 46 5-23 5-31 5 77 5-96 5 11 5 21 5 12 5-16 5 26 5-1 5-47 5 41 5 42 5-61 5-12 5 82 5-50 5-41 5-7 5 36 5-9 5 4 5 32 5-11 5-3 5 9 5-40 5 42 5-32 5 6 5 25 5-4 5-17 5 9 5-6 5 2 5 13 5-25 5 24 5 7 5-3 5-9 5 10 5-4 5 6 5-17 5-1 5 17 5-22 5 20 5-3 5-19 5 12 5-3 5-17 5 6 5 21 5-4 5-30 5 23 5 6 5 0 5-13 5 20 5-3 5-12 5-15 5 8 5-8 5 18 5 6 5 6 5-9 5-11 5-19 5 22 5 12 5-4 5 5 5-22 5 21 5-4 5 2 5-26 5 30 5 18 5-32 5-20 5 18 5 8 5 24 5-30 5 30 5-27 5-9 5 25 5-11 5 26 5-10 5 21 5-53 5 31 5 15 5 36 5 0 5-52 5 41 5-61 5-120 5 28 5 168 5-18 5 41 5 33 5 144 5-133 5-133 5 17 5 34 5-4 5-81 5 93 5-55 5 68 5 49 5-39 5-5 5-6 5-59 5-76 5 129 5 129 5-102 5-159 5-30 5 119 5 123 5-95 5-44 5-110 5-15 5 72 5-23 5-156 5 100 5 40 5-147 5 123 5-28 5 8 5-79 5-66 5-62 5-26 5 166 5-46 5 46 5 110 5-84 5 16 5 231 5 287 5-153 5-266 5 119 5-172 5-209 5-57 5 207 5 14 5 138 5-199 5 310 5 147 5-140 5-213 5-10 5 126 5 12 5 43 5 110 5-80 5-157 5 87 5-235 5 207 5-174 5 302 5 219 5-225 5-190 5 90 5 94 5-200 5-101 5 90 5-35 5 139 5-17 5-60 5 5 5 18 5-151 5 210 5-24 5 118 5 118 5-109 5-79 5-75 5-91 5 143 5-132 5 190 5-135 5-148 5 228 5 60 5 12 5-43 5 55 5-371 5-110 5 246 5 92 5 2 5 16 5-48 5-11 5 158 5 150 5-191 5-135 5 51 5-168 5 201 5-118 5-28 5 271 5-262 5-178 5 137 5 62 5 104 5 217 5 85 5-170 5-58 5-52 5 77 5-185 5 140 5-74 5 47 5-54 5-53 5 82 5 35 5-22 5-10 5-81 5 83 5-7 5 36 5-49 5 60 5-81 5 105 5-98 5 38 5 29 5-48 5 83 5-37 5 17 5-67 5-66 5 37 5 53 5-14 5 33 5-55 5-24 5 142 5 63 5-38 5-176 5 59 5 53 5-39 5 18 5-58 5-55 5 103 5-28 5 15 5-41 5 91 5-72 5-6 5 32 5 18 5-26 5 24 5-69 5 42 5 59 5-67 5 30 5 0 5-2 5 28 5 51 5-61 5 47 5-149 5 146 5-129 5 51 5-123 5-115 5 155 5 56 5 45 5 37 5-80 5-20 5 46 5-17 5 28 5 16 5-20 5 81 5-156 5 75 5 2 5 32 5 16 5-21 5-30 5 27 5-4 5-11 5-10 5 12 5 36 5 6 5-64 5-15 5 80 5-99 5 59 5-30 5 7 5-51 5-7 5 70 5 9 5-31 5 6 5 41 5-10 5 0 5-29 5 13 5-7 5 10 5 39 5-49 5-4 5-37 5 56 5-28 5 61 5-12 5-8 5-43 5 44 5 5 5-19 5 0 5 68 5 6 5-129 5 76 5-42 5-16 5-3 5-39 5 71 5-21 5-7 5 72 5-25 5 4 5-41 5-14 5 16 5 17 5-10 5 3 5-4 5 31 5-105 5 95 5-19 5-3 5 27 5-41 5-32 5 35 5-8 5-12 5 10 5 23 5-34 5 61 5-54 5-19 5 73 5-44 5-36 5 33 5 18 5-14 5-32 5 34 5-10 5 86 5 3 5-81 5 0 5 30 5-62 5 81 5-9 5-17 5 63 5 76 5-68 5-59 5-41 5 3 5 42 5-41 5-36 5 22 5 120 5 82 5-244 5-167 5 112 5 91 5 53 5 67 5-44 5-57 5 8 5 5 5-97 5-65 5 69 5 73 5 28 5-41 5 14 5 63 5-33 5 18 5-55 5 67 5 7 5-33 5-6 5 7 5 43 5-35 5-76 5 39 5 55 5-60 5 27 5 6 5 36 5-80 5 0 5 21 5 31 5-32 5-52 5 95 5 3 5 17 5-57 5-2 5-13 5 6 5 50 5-12 5 17 5 1 5 21 5-35 5-20 5-49 5 35 5 19 5-52 5 63 5-79 5 88 5 32 5-29 5-41 5-19 5 54 5-38 5 39 5-4 5-21 5 32 5-104 5 78 5 53 5 61 5-34 5-65 5 19 5-19 5-1 5 5 5-70 5 34 5 2 5 11 5-22 5 13 5 28 5-27 5-12 5-19 5 30 5 9 5 33 5-28 5-5 5-27 5-54 5 111 5-33 5 7 5-34 5-23 5 76 5-19 5-49 5-38 5 58 5 68 5-92 5 36 5 22 5 10 5-23 5-15 5 24 5-26 5 20 5 19 5 5 5 3 5 23 5-66 5 15 5 31 5-49 5 34 5 27 5-10 5-34 5 43 5-54 5 21 5-31 5 21 5 14 5-29 5-17 5-45 5 17 5 76 5 22 5-23 5-30 5-16 5-5 5 28 5 39 5-47 5 14 5-22 5 60 5-67 5-16 5 70 5-23 5 7 5-1 5 42 5-68 5-5 5 60 5-25 5 52 5-91 5 0 5 90 5-70 5-8 5-4 5 60 5-2 5-14 5-116 5-149 5 137 5 146 5-10 5-1 5-22 5-28 5-15 5 58 5 82 5 89 5-107 5-86 5-52 5 47 5-4 5 49 5-105 5 98 5-64 5 32 5-31 5 95 5-28 5-49 5 12 5 50 5-83 5 37 5-25 5 4 5-52 5 85 5 55 5-106 5-7 5 18 5-19 5 33 5 16 5 40 5-42 5 19 5-59 5 4 5 56 5-48 5-1 5-97 5 99 5-13 5-44 5-66 5 78 5 31 5 81 5-50 5 6 5 36 5-38" stroke="#1a1a1a" stroke-width="10"/>
</g>
<path d="M116.5 33.6v10.3M116.5 168.3v-10.3M192.5 33.6v10.3M192.5 168.3v-10.3M268.5 33.6v10.3M268.5 168.3v-10.3M344.4 33.6v10.3M344.4 168.3v-10.3M420.4 33.6v10.3M420.4 168.3v-10.3M496.4 33.6v10.3M496.4 168.3v-10.3" stroke="#000" stroke-width="1" fill="none"/>
<path d="M86.1 33.6v3.4M86.1 168.3v-3.4M101.3 33.6v3.4M101.3 168.3v-3.4M131.7 33.6v3.4M131.7 168.3v-3.4M146.9 33.6v3.4M146.9 168.3v-3.4M162.1 33.6v3.4M162.1 168.3v-3.4M177.3 33.6v3.4M177.3 168.3v-3.4M207.7 33.6v3.4M207.7 168.3v-3.4M222.9 33.6v3.4M222.9 168.3v-3.4M238.1 33.6v3.4M238.1 168.3v-3.4M253.3 33.6v3.4M253.3 168.3v-3.4M283.7 33.6v3.4M283.7 168.3v-3.4M298.9 33.6v3.4M298.9 168.3v-3.4M314 33.6v3.4M314 168.3v-3.4M329.2 33.6v3.4M329.2 168.3v-3.4M359.6 33.6v3.4M359.6 168.3v-3.4M374.8 33.6v3.4M374.8 168.3v-3.4M390 33.6v3.4M390 168.3v-3.4M405.2 33.6v3.4M405.2 168.3v-3.4M435.6 33.6v3.4M435.6 168.3v-3.4M450.8 33.6v3.4M450.8 168.3v-3.4M466 33.6v3.4M466 168.3v-3.4M481.2 33.6v3.4M481.2 168.3v-3.4M511.6 33.6v3.4M511.6 168.3v-3.4" stroke="#333" stroke-width=".85" fill="none"/>
<path d="M71.5 156.6h6.2M525.5 156.6h-6.2M71.5 122.6h6.2M525.5 122.6h-6.2M71.5 88.6h6.2M525.5 88.6h-6.2M71.5 54.6h6.2M525.5 54.6h-6.2" stroke="#000" stroke-width="1" fill="none"/>
<path d="M71.5 165.1h2.6M525.5 165.1h-2.6M71.5 148.1h2.6M525.5 148.1h-2.6M71.5 139.6h2.6M525.5 139.6h-2.6M71.5 131.1h2.6M525.5 131.1h-2.6M71.5 114.1h2.6M525.5 114.1h-2.6M71.5 105.6h2.6M525.5 105.6h-2.6M71.5 97.1h2.6M525.5 97.1h-2.6M71.5 80.1h2.6M525.5 80.1h-2.6M71.5 71.6h2.6M525.5 71.6h-2.6M71.5 63.1h2.6M525.5 63.1h-2.6M71.5 46.1h2.6M525.5 46.1h-2.6M71.5 37.6h2.6M525.5 37.6h-2.6" stroke="#222" stroke-width=".75" fill="none"/>
<rect x="71.5" y="33.6" width="454" height="134.7" fill="none" stroke="#000" stroke-width="1.2"/>
<text x="69.1" y="160.5" font-size="11" text-anchor="end" stroke="#000">-20</text>
<text x="69.1" y="126.5" font-size="11" text-anchor="end" stroke="#000">0</text>
<text x="69.1" y="92.5" font-size="11" text-anchor="end" stroke="#000">20</text>
<text x="69.1" y="58.5" font-size="11" text-anchor="end" stroke="#000">40</text>
<text x="47" y="101" font-size="11.3" text-anchor="middle" stroke="#000" transform="rotate(-90 47 101)">B<tspan dy="4.4" font-size="9">L</tspan><tspan dy="-4.4">​</tspan>,|B| [nT]</text>
<path d="M116.5 176.3v10.3M116.5 244.5v-10.3M192.5 176.3v10.3M192.5 244.5v-10.3M268.5 176.3v10.3M268.5 244.5v-10.3M344.4 176.3v10.3M344.4 244.5v-10.3M420.4 176.3v10.3M420.4 244.5v-10.3M496.4 176.3v10.3M496.4 244.5v-10.3" stroke="#000" stroke-width="1" fill="none"/>
<path d="M86.1 176.3v3.4M86.1 244.5v-3.4M101.3 176.3v3.4M101.3 244.5v-3.4M131.7 176.3v3.4M131.7 244.5v-3.4M146.9 176.3v3.4M146.9 244.5v-3.4M162.1 176.3v3.4M162.1 244.5v-3.4M177.3 176.3v3.4M177.3 244.5v-3.4M207.7 176.3v3.4M207.7 244.5v-3.4M222.9 176.3v3.4M222.9 244.5v-3.4M238.1 176.3v3.4M238.1 244.5v-3.4M253.3 176.3v3.4M253.3 244.5v-3.4M283.7 176.3v3.4M283.7 244.5v-3.4M298.9 176.3v3.4M298.9 244.5v-3.4M314 176.3v3.4M314 244.5v-3.4M329.2 176.3v3.4M329.2 244.5v-3.4M359.6 176.3v3.4M359.6 244.5v-3.4M374.8 176.3v3.4M374.8 244.5v-3.4M390 176.3v3.4M390 244.5v-3.4M405.2 176.3v3.4M405.2 244.5v-3.4M435.6 176.3v3.4M435.6 244.5v-3.4M450.8 176.3v3.4M450.8 244.5v-3.4M466 176.3v3.4M466 244.5v-3.4M481.2 176.3v3.4M481.2 244.5v-3.4M511.6 176.3v3.4M511.6 244.5v-3.4" stroke="#333" stroke-width=".85" fill="none"/>
<path d="M71.5 240.1h6.2M525.5 240.1h-6.2M71.5 222.2h6.2M525.5 222.2h-6.2M71.5 204.2h6.2M525.5 204.2h-6.2M71.5 186.3h6.2M525.5 186.3h-6.2" stroke="#000" stroke-width="1" fill="none"/>
<path d="M71.5 231.1h2.6M525.5 231.1h-2.6M71.5 213.2h2.6M525.5 213.2h-2.6M71.5 195.3h2.6M525.5 195.3h-2.6M71.5 177.3h2.6M525.5 177.3h-2.6" stroke="#222" stroke-width=".75" fill="none"/>
<rect x="71.5" y="176.3" width="454" height="68.2" fill="none" stroke="#000" stroke-width="1.2"/>
<text x="69.1" y="244" font-size="11" text-anchor="end" stroke="#000">-20</text>
<text x="69.1" y="226.1" font-size="11" text-anchor="end" stroke="#000">0</text>
<text x="69.1" y="208.1" font-size="11" text-anchor="end" stroke="#000">20</text>
<text x="69.1" y="190.2" font-size="11" text-anchor="end" stroke="#000">40</text>
<text x="42.5" y="210" font-size="11.3" text-anchor="middle" stroke="#000" transform="rotate(-90 42.5 210)">B<tspan dy="4.4" font-size="9">LMN</tspan><tspan dy="-4.4">​</tspan> [nT]</text>
<path d="M116.5 244.5v10.3M116.5 313v-10.3M192.5 244.5v10.3M192.5 313v-10.3M268.5 244.5v10.3M268.5 313v-10.3M344.4 244.5v10.3M344.4 313v-10.3M420.4 244.5v10.3M420.4 313v-10.3M496.4 244.5v10.3M496.4 313v-10.3" stroke="#000" stroke-width="1" fill="none"/>
<path d="M86.1 244.5v3.4M86.1 313v-3.4M101.3 244.5v3.4M101.3 313v-3.4M131.7 244.5v3.4M131.7 313v-3.4M146.9 244.5v3.4M146.9 313v-3.4M162.1 244.5v3.4M162.1 313v-3.4M177.3 244.5v3.4M177.3 313v-3.4M207.7 244.5v3.4M207.7 313v-3.4M222.9 244.5v3.4M222.9 313v-3.4M238.1 244.5v3.4M238.1 313v-3.4M253.3 244.5v3.4M253.3 313v-3.4M283.7 244.5v3.4M283.7 313v-3.4M298.9 244.5v3.4M298.9 313v-3.4M314 244.5v3.4M314 313v-3.4M329.2 244.5v3.4M329.2 313v-3.4M359.6 244.5v3.4M359.6 313v-3.4M374.8 244.5v3.4M374.8 313v-3.4M390 244.5v3.4M390 313v-3.4M405.2 244.5v3.4M405.2 313v-3.4M435.6 244.5v3.4M435.6 313v-3.4M450.8 244.5v3.4M450.8 313v-3.4M466 244.5v3.4M466 313v-3.4M481.2 244.5v3.4M481.2 313v-3.4M511.6 244.5v3.4M511.6 313v-3.4" stroke="#333" stroke-width=".85" fill="none"/>
<path d="M71.5 294.5h6.2M525.5 294.5h-6.2M71.5 274.9h6.2M525.5 274.9h-6.2M71.5 255.3h6.2M525.5 255.3h-6.2" stroke="#000" stroke-width="1" fill="none"/>
<rect x="71.5" y="244.5" width="454" height="68.5" fill="none" stroke="#000" stroke-width="1.2"/>
<text x="528.3" y="299" font-size="11" stroke="#000">10<tspan dy="-5" font-size="8.7">2</tspan><tspan dy="5">​</tspan></text>
<text x="528.3" y="279.4" font-size="11" stroke="#000">10<tspan dy="-5" font-size="8.7">3</tspan><tspan dy="5">​</tspan></text>
<text x="528.3" y="259.8" font-size="11" stroke="#000">10<tspan dy="-5" font-size="8.7">4</tspan><tspan dy="5">​</tspan></text>
<text x="557.5" y="279" font-size="11.3" text-anchor="middle" stroke="#000" transform="rotate(-90 557.5 279)">Energy (eV)</text>
<path d="M116.5 313v10.3M116.5 381.3v-10.3M192.5 313v10.3M192.5 381.3v-10.3M268.5 313v10.3M268.5 381.3v-10.3M344.4 313v10.3M344.4 381.3v-10.3M420.4 313v10.3M420.4 381.3v-10.3M496.4 313v10.3M496.4 381.3v-10.3" stroke="#000" stroke-width="1" fill="none"/>
<path d="M86.1 313v3.4M86.1 381.3v-3.4M101.3 313v3.4M101.3 381.3v-3.4M131.7 313v3.4M131.7 381.3v-3.4M146.9 313v3.4M146.9 381.3v-3.4M162.1 313v3.4M162.1 381.3v-3.4M177.3 313v3.4M177.3 381.3v-3.4M207.7 313v3.4M207.7 381.3v-3.4M222.9 313v3.4M222.9 381.3v-3.4M238.1 313v3.4M238.1 381.3v-3.4M253.3 313v3.4M253.3 381.3v-3.4M283.7 313v3.4M283.7 381.3v-3.4M298.9 313v3.4M298.9 381.3v-3.4M314 313v3.4M314 381.3v-3.4M329.2 313v3.4M329.2 381.3v-3.4M359.6 313v3.4M359.6 381.3v-3.4M374.8 313v3.4M374.8 381.3v-3.4M390 313v3.4M390 381.3v-3.4M405.2 313v3.4M405.2 381.3v-3.4M435.6 313v3.4M435.6 381.3v-3.4M450.8 313v3.4M450.8 381.3v-3.4M466 313v3.4M466 381.3v-3.4M481.2 313v3.4M481.2 381.3v-3.4M511.6 313v3.4M511.6 381.3v-3.4" stroke="#333" stroke-width=".85" fill="none"/>
<path d="M71.5 380.6h6.2M525.5 380.6h-6.2M71.5 368.5h6.2M525.5 368.5h-6.2M71.5 356.4h6.2M525.5 356.4h-6.2M71.5 344.3h6.2M525.5 344.3h-6.2M71.5 332.2h6.2M525.5 332.2h-6.2M71.5 320.1h6.2M525.5 320.1h-6.2" stroke="#000" stroke-width="1" fill="none"/>
<path d="M71.5 378.2h2.6M525.5 378.2h-2.6M71.5 375.8h2.6M525.5 375.8h-2.6M71.5 373.3h2.6M525.5 373.3h-2.6M71.5 370.9h2.6M525.5 370.9h-2.6M71.5 366.1h2.6M525.5 366.1h-2.6M71.5 363.7h2.6M525.5 363.7h-2.6M71.5 361.2h2.6M525.5 361.2h-2.6M71.5 358.8h2.6M525.5 358.8h-2.6M71.5 354h2.6M525.5 354h-2.6M71.5 351.6h2.6M525.5 351.6h-2.6M71.5 349.1h2.6M525.5 349.1h-2.6M71.5 346.7h2.6M525.5 346.7h-2.6M71.5 341.9h2.6M525.5 341.9h-2.6M71.5 339.5h2.6M525.5 339.5h-2.6M71.5 337h2.6M525.5 337h-2.6M71.5 334.6h2.6M525.5 334.6h-2.6M71.5 329.8h2.6M525.5 329.8h-2.6M71.5 327.4h2.6M525.5 327.4h-2.6M71.5 324.9h2.6M525.5 324.9h-2.6M71.5 322.5h2.6M525.5 322.5h-2.6M71.5 317.7h2.6M525.5 317.7h-2.6M71.5 315.3h2.6M525.5 315.3h-2.6" stroke="#222" stroke-width=".75" fill="none"/>
<rect x="71.5" y="313" width="454" height="68.3" fill="none" stroke="#000" stroke-width="1.2"/>
<text x="69.1" y="384.5" font-size="11" text-anchor="end" stroke="#000">0</text>
<text x="69.1" y="372.4" font-size="11" text-anchor="end" stroke="#000">50</text>
<text x="69.1" y="360.3" font-size="11" text-anchor="end" stroke="#000">100</text>
<text x="69.1" y="348.2" font-size="11" text-anchor="end" stroke="#000">150</text>
<text x="69.1" y="336.1" font-size="11" text-anchor="end" stroke="#000">200</text>
<text x="69.1" y="324" font-size="11" text-anchor="end" stroke="#000">250</text>
<text x="43" y="347" font-size="11.3" text-anchor="middle" stroke="#000" transform="rotate(-90 43 347)">| V<tspan dy="4.4" font-size="9">i</tspan><tspan dy="-4.4">​</tspan> | [km/s]</text>
<path d="M116.5 381.3v10.3M116.5 450.4v-10.3M192.5 381.3v10.3M192.5 450.4v-10.3M268.5 381.3v10.3M268.5 450.4v-10.3M344.4 381.3v10.3M344.4 450.4v-10.3M420.4 381.3v10.3M420.4 450.4v-10.3M496.4 381.3v10.3M496.4 450.4v-10.3" stroke="#000" stroke-width="1" fill="none"/>
<path d="M86.1 381.3v3.4M86.1 450.4v-3.4M101.3 381.3v3.4M101.3 450.4v-3.4M131.7 381.3v3.4M131.7 450.4v-3.4M146.9 381.3v3.4M146.9 450.4v-3.4M162.1 381.3v3.4M162.1 450.4v-3.4M177.3 381.3v3.4M177.3 450.4v-3.4M207.7 381.3v3.4M207.7 450.4v-3.4M222.9 381.3v3.4M222.9 450.4v-3.4M238.1 381.3v3.4M238.1 450.4v-3.4M253.3 381.3v3.4M253.3 450.4v-3.4M283.7 381.3v3.4M283.7 450.4v-3.4M298.9 381.3v3.4M298.9 450.4v-3.4M314 381.3v3.4M314 450.4v-3.4M329.2 381.3v3.4M329.2 450.4v-3.4M359.6 381.3v3.4M359.6 450.4v-3.4M374.8 381.3v3.4M374.8 450.4v-3.4M390 381.3v3.4M390 450.4v-3.4M405.2 381.3v3.4M405.2 450.4v-3.4M435.6 381.3v3.4M435.6 450.4v-3.4M450.8 381.3v3.4M450.8 450.4v-3.4M466 381.3v3.4M466 450.4v-3.4M481.2 381.3v3.4M481.2 450.4v-3.4M511.6 381.3v3.4M511.6 450.4v-3.4" stroke="#333" stroke-width=".85" fill="none"/>
<path d="M71.5 434.3h6.2M525.5 434.3h-6.2M71.5 418.3h6.2M525.5 418.3h-6.2M71.5 402.3h6.2M525.5 402.3h-6.2M71.5 386.3h6.2M525.5 386.3h-6.2" stroke="#000" stroke-width="1" fill="none"/>
<path d="M71.5 447.1h2.6M525.5 447.1h-2.6M71.5 443.9h2.6M525.5 443.9h-2.6M71.5 440.7h2.6M525.5 440.7h-2.6M71.5 437.5h2.6M525.5 437.5h-2.6M71.5 431.1h2.6M525.5 431.1h-2.6M71.5 427.9h2.6M525.5 427.9h-2.6M71.5 424.7h2.6M525.5 424.7h-2.6M71.5 421.5h2.6M525.5 421.5h-2.6M71.5 415.1h2.6M525.5 415.1h-2.6M71.5 411.9h2.6M525.5 411.9h-2.6M71.5 408.7h2.6M525.5 408.7h-2.6M71.5 405.5h2.6M525.5 405.5h-2.6M71.5 399.1h2.6M525.5 399.1h-2.6M71.5 395.9h2.6M525.5 395.9h-2.6M71.5 392.7h2.6M525.5 392.7h-2.6M71.5 389.5h2.6M525.5 389.5h-2.6M71.5 383.1h2.6M525.5 383.1h-2.6" stroke="#222" stroke-width=".75" fill="none"/>
<rect x="71.5" y="381.3" width="454" height="69.1" fill="none" stroke="#000" stroke-width="1.2"/>
<text x="527.4" y="438.2" font-size="11" stroke="#000">-100</text>
<text x="527.4" y="422.2" font-size="11" stroke="#000">0</text>
<text x="527.4" y="406.2" font-size="11" stroke="#000">100</text>
<text x="527.4" y="390.2" font-size="11" stroke="#000">200</text>
<text x="563" y="419" font-size="11.3" text-anchor="middle" stroke="#000" transform="rotate(-90 563 419)">V<tspan dy="4.4" font-size="9">i LMN</tspan><tspan dy="-4.4">​</tspan> [km/s]</text>
<path d="M116.5 450.4v10.3M116.5 517.8v-10.3M192.5 450.4v10.3M192.5 517.8v-10.3M268.5 450.4v10.3M268.5 517.8v-10.3M344.4 450.4v10.3M344.4 517.8v-10.3M420.4 450.4v10.3M420.4 517.8v-10.3M496.4 450.4v10.3M496.4 517.8v-10.3" stroke="#000" stroke-width="1" fill="none"/>
<path d="M86.1 450.4v3.4M86.1 517.8v-3.4M101.3 450.4v3.4M101.3 517.8v-3.4M131.7 450.4v3.4M131.7 517.8v-3.4M146.9 450.4v3.4M146.9 517.8v-3.4M162.1 450.4v3.4M162.1 517.8v-3.4M177.3 450.4v3.4M177.3 517.8v-3.4M207.7 450.4v3.4M207.7 517.8v-3.4M222.9 450.4v3.4M222.9 517.8v-3.4M238.1 450.4v3.4M238.1 517.8v-3.4M253.3 450.4v3.4M253.3 517.8v-3.4M283.7 450.4v3.4M283.7 517.8v-3.4M298.9 450.4v3.4M298.9 517.8v-3.4M314 450.4v3.4M314 517.8v-3.4M329.2 450.4v3.4M329.2 517.8v-3.4M359.6 450.4v3.4M359.6 517.8v-3.4M374.8 450.4v3.4M374.8 517.8v-3.4M390 450.4v3.4M390 517.8v-3.4M405.2 450.4v3.4M405.2 517.8v-3.4M435.6 450.4v3.4M435.6 517.8v-3.4M450.8 450.4v3.4M450.8 517.8v-3.4M466 450.4v3.4M466 517.8v-3.4M481.2 450.4v3.4M481.2 517.8v-3.4M511.6 450.4v3.4M511.6 517.8v-3.4" stroke="#333" stroke-width=".85" fill="none"/>
<path d="M71.5 504.4h6.2M525.5 504.4h-6.2M71.5 485.8h6.2M525.5 485.8h-6.2M71.5 467.2h6.2M525.5 467.2h-6.2" stroke="#000" stroke-width="1" fill="none"/>
<path d="M71.5 513.7h2.6M525.5 513.7h-2.6M71.5 509h2.6M525.5 509h-2.6M71.5 499.8h2.6M525.5 499.8h-2.6M71.5 495.1h2.6M525.5 495.1h-2.6M71.5 490.4h2.6M525.5 490.4h-2.6M71.5 481.1h2.6M525.5 481.1h-2.6M71.5 476.5h2.6M525.5 476.5h-2.6M71.5 471.8h2.6M525.5 471.8h-2.6M71.5 462.6h2.6M525.5 462.6h-2.6M71.5 457.9h2.6M525.5 457.9h-2.6M71.5 453.2h2.6M525.5 453.2h-2.6" stroke="#222" stroke-width=".75" fill="none"/>
<rect x="71.5" y="450.4" width="454" height="67.4" fill="none" stroke="#000" stroke-width="1.2"/>
<text x="69.1" y="508.3" font-size="11" text-anchor="end" stroke="#000">4</text>
<text x="69.1" y="489.7" font-size="11" text-anchor="end" stroke="#000">6</text>
<text x="69.1" y="471.1" font-size="11" text-anchor="end" stroke="#000">8</text>
<text x="43" y="485" font-size="11.3" text-anchor="middle" stroke="#000" transform="rotate(-90 43 485)">N [cm<tspan dy="-5" font-size="8.7">-3</tspan><tspan dy="5">​</tspan>]</text>
<path d="M116.5 517.8v10.3M116.5 586.5v-10.3M192.5 517.8v10.3M192.5 586.5v-10.3M268.5 517.8v10.3M268.5 586.5v-10.3M344.4 517.8v10.3M344.4 586.5v-10.3M420.4 517.8v10.3M420.4 586.5v-10.3M496.4 517.8v10.3M496.4 586.5v-10.3" stroke="#000" stroke-width="1" fill="none"/>
<path d="M86.1 517.8v3.4M86.1 586.5v-3.4M101.3 517.8v3.4M101.3 586.5v-3.4M131.7 517.8v3.4M131.7 586.5v-3.4M146.9 517.8v3.4M146.9 586.5v-3.4M162.1 517.8v3.4M162.1 586.5v-3.4M177.3 517.8v3.4M177.3 586.5v-3.4M207.7 517.8v3.4M207.7 586.5v-3.4M222.9 517.8v3.4M222.9 586.5v-3.4M238.1 517.8v3.4M238.1 586.5v-3.4M253.3 517.8v3.4M253.3 586.5v-3.4M283.7 517.8v3.4M283.7 586.5v-3.4M298.9 517.8v3.4M298.9 586.5v-3.4M314 517.8v3.4M314 586.5v-3.4M329.2 517.8v3.4M329.2 586.5v-3.4M359.6 517.8v3.4M359.6 586.5v-3.4M374.8 517.8v3.4M374.8 586.5v-3.4M390 517.8v3.4M390 586.5v-3.4M405.2 517.8v3.4M405.2 586.5v-3.4M435.6 517.8v3.4M435.6 586.5v-3.4M450.8 517.8v3.4M450.8 586.5v-3.4M466 517.8v3.4M466 586.5v-3.4M481.2 517.8v3.4M481.2 586.5v-3.4M511.6 517.8v3.4M511.6 586.5v-3.4" stroke="#333" stroke-width=".85" fill="none"/>
<path d="M71.5 572.8h6.2M525.5 572.8h-6.2M71.5 559.2h6.2M525.5 559.2h-6.2M71.5 545.5h6.2M525.5 545.5h-6.2M71.5 531.9h6.2M525.5 531.9h-6.2M71.5 518.2h6.2M525.5 518.2h-6.2" stroke="#000" stroke-width="1" fill="none"/>
<path d="M71.5 583.8h2.6M525.5 583.8h-2.6M71.5 581h2.6M525.5 581h-2.6M71.5 578.3h2.6M525.5 578.3h-2.6M71.5 575.6h2.6M525.5 575.6h-2.6M71.5 570.1h2.6M525.5 570.1h-2.6M71.5 567.4h2.6M525.5 567.4h-2.6M71.5 564.6h2.6M525.5 564.6h-2.6M71.5 561.9h2.6M525.5 561.9h-2.6M71.5 556.4h2.6M525.5 556.4h-2.6M71.5 553.7h2.6M525.5 553.7h-2.6M71.5 551h2.6M525.5 551h-2.6M71.5 548.3h2.6M525.5 548.3h-2.6M71.5 542.8h2.6M525.5 542.8h-2.6M71.5 540.1h2.6M525.5 540.1h-2.6M71.5 537.3h2.6M525.5 537.3h-2.6M71.5 534.6h2.6M525.5 534.6h-2.6M71.5 529.1h2.6M525.5 529.1h-2.6M71.5 526.4h2.6M525.5 526.4h-2.6M71.5 523.7h2.6M525.5 523.7h-2.6M71.5 520.9h2.6M525.5 520.9h-2.6" stroke="#222" stroke-width=".75" fill="none"/>
<rect x="71.5" y="517.8" width="454" height="68.7" fill="none" stroke="#000" stroke-width="1.2"/>
<text x="527.4" y="576.7" font-size="11" stroke="#000">1</text>
<text x="527.4" y="563.1" font-size="11" stroke="#000">2</text>
<text x="527.4" y="549.4" font-size="11" stroke="#000">3</text>
<text x="527.4" y="535.8" font-size="11" stroke="#000">4</text>
<text x="526.9" y="590" font-size="11" stroke="#000">0</text>
<text x="526.9" y="523" font-size="11" stroke="#000">5(x10<tspan dy="-5" font-size="8.7">-2</tspan><tspan dy="5">​</tspan>)</text>
<text x="557.5" y="553" font-size="11.3" text-anchor="middle" stroke="#000" transform="rotate(-90 557.5 553)">N<tspan dy="4.4" font-size="9">i</tspan><tspan dy="-4.4">​</tspan> [cm<tspan dy="-5" font-size="8.7">-3</tspan><tspan dy="5">​</tspan>]</text>
<path d="M116.5 586.5v10.3M116.5 655v-10.3M192.5 586.5v10.3M192.5 655v-10.3M268.5 586.5v10.3M268.5 655v-10.3M344.4 586.5v10.3M344.4 655v-10.3M420.4 586.5v10.3M420.4 655v-10.3M496.4 586.5v10.3M496.4 655v-10.3" stroke="#000" stroke-width="1" fill="none"/>
<path d="M86.1 586.5v3.4M86.1 655v-3.4M101.3 586.5v3.4M101.3 655v-3.4M131.7 586.5v3.4M131.7 655v-3.4M146.9 586.5v3.4M146.9 655v-3.4M162.1 586.5v3.4M162.1 655v-3.4M177.3 586.5v3.4M177.3 655v-3.4M207.7 586.5v3.4M207.7 655v-3.4M222.9 586.5v3.4M222.9 655v-3.4M238.1 586.5v3.4M238.1 655v-3.4M253.3 586.5v3.4M253.3 655v-3.4M283.7 586.5v3.4M283.7 655v-3.4M298.9 586.5v3.4M298.9 655v-3.4M314 586.5v3.4M314 655v-3.4M329.2 586.5v3.4M329.2 655v-3.4M359.6 586.5v3.4M359.6 655v-3.4M374.8 586.5v3.4M374.8 655v-3.4M390 586.5v3.4M390 655v-3.4M405.2 586.5v3.4M405.2 655v-3.4M435.6 586.5v3.4M435.6 655v-3.4M450.8 586.5v3.4M450.8 655v-3.4M466 586.5v3.4M466 655v-3.4M481.2 586.5v3.4M481.2 655v-3.4M511.6 586.5v3.4M511.6 655v-3.4" stroke="#333" stroke-width=".85" fill="none"/>
<path d="M71.5 645.3h6.2M525.5 645.3h-6.2" stroke="#000" stroke-width="1" fill="none"/>
<path d="M71.5 654.4h2.6M525.5 654.4h-2.6M71.5 651h2.6M525.5 651h-2.6M71.5 648h2.6M525.5 648h-2.6M71.5 627.5h2.6M525.5 627.5h-2.6M71.5 617.1h2.6M525.5 617.1h-2.6M71.5 609.8h2.6M525.5 609.8h-2.6M71.5 604.1h2.6M525.5 604.1h-2.6M71.5 599.4h2.6M525.5 599.4h-2.6M71.5 595.4h2.6M525.5 595.4h-2.6M71.5 592h2.6M525.5 592h-2.6M71.5 589h2.6M525.5 589h-2.6" stroke="#222" stroke-width=".75" fill="none"/>
<rect x="71.5" y="586.5" width="454" height="68.5" fill="none" stroke="#000" stroke-width="1.2"/>
<text x="69.1" y="650.3" font-size="11" text-anchor="end" stroke="#000">10<tspan dy="-5" font-size="8.7">2</tspan><tspan dy="5">​</tspan></text>
<text x="37" y="621.5" font-size="11.3" text-anchor="middle" stroke="#000" transform="rotate(-90 37 621.5)">T<tspan dy="4.4" font-size="9">i</tspan><tspan dy="-4.4">​</tspan> [eV]</text>
<path d="M116.5 655v10.3M116.5 723.3v-10.3M192.5 655v10.3M192.5 723.3v-10.3M268.5 655v10.3M268.5 723.3v-10.3M344.4 655v10.3M344.4 723.3v-10.3M420.4 655v10.3M420.4 723.3v-10.3M496.4 655v10.3M496.4 723.3v-10.3" stroke="#000" stroke-width="1" fill="none"/>
<path d="M86.1 655v3.4M86.1 723.3v-3.4M101.3 655v3.4M101.3 723.3v-3.4M131.7 655v3.4M131.7 723.3v-3.4M146.9 655v3.4M146.9 723.3v-3.4M162.1 655v3.4M162.1 723.3v-3.4M177.3 655v3.4M177.3 723.3v-3.4M207.7 655v3.4M207.7 723.3v-3.4M222.9 655v3.4M222.9 723.3v-3.4M238.1 655v3.4M238.1 723.3v-3.4M253.3 655v3.4M253.3 723.3v-3.4M283.7 655v3.4M283.7 723.3v-3.4M298.9 655v3.4M298.9 723.3v-3.4M314 655v3.4M314 723.3v-3.4M329.2 655v3.4M329.2 723.3v-3.4M359.6 655v3.4M359.6 723.3v-3.4M374.8 655v3.4M374.8 723.3v-3.4M390 655v3.4M390 723.3v-3.4M405.2 655v3.4M405.2 723.3v-3.4M435.6 655v3.4M435.6 723.3v-3.4M450.8 655v3.4M450.8 723.3v-3.4M466 655v3.4M466 723.3v-3.4M481.2 655v3.4M481.2 723.3v-3.4M511.6 655v3.4M511.6 723.3v-3.4" stroke="#333" stroke-width=".85" fill="none"/>
<path d="M71.5 722.4h6.2M525.5 722.4h-6.2M71.5 713.1h6.2M525.5 713.1h-6.2M71.5 703.8h6.2M525.5 703.8h-6.2M71.5 694.5h6.2M525.5 694.5h-6.2M71.5 685.1h6.2M525.5 685.1h-6.2M71.5 675.8h6.2M525.5 675.8h-6.2M71.5 666.5h6.2M525.5 666.5h-6.2M71.5 657.2h6.2M525.5 657.2h-6.2" stroke="#000" stroke-width="1" fill="none"/>
<path d="M71.5 720.1h2.6M525.5 720.1h-2.6M71.5 717.7h2.6M525.5 717.7h-2.6M71.5 715.4h2.6M525.5 715.4h-2.6M71.5 710.8h2.6M525.5 710.8h-2.6M71.5 708.4h2.6M525.5 708.4h-2.6M71.5 706.1h2.6M525.5 706.1h-2.6M71.5 701.4h2.6M525.5 701.4h-2.6M71.5 699.1h2.6M525.5 699.1h-2.6M71.5 696.8h2.6M525.5 696.8h-2.6M71.5 692.1h2.6M525.5 692.1h-2.6M71.5 689.8h2.6M525.5 689.8h-2.6M71.5 687.5h2.6M525.5 687.5h-2.6M71.5 682.8h2.6M525.5 682.8h-2.6M71.5 680.5h2.6M525.5 680.5h-2.6M71.5 678.2h2.6M525.5 678.2h-2.6M71.5 673.5h2.6M525.5 673.5h-2.6M71.5 671.2h2.6M525.5 671.2h-2.6M71.5 668.8h2.6M525.5 668.8h-2.6M71.5 664.2h2.6M525.5 664.2h-2.6M71.5 661.9h2.6M525.5 661.9h-2.6M71.5 659.5h2.6M525.5 659.5h-2.6" stroke="#222" stroke-width=".75" fill="none"/>
<rect x="71.5" y="655" width="454" height="68.3" fill="none" stroke="#000" stroke-width="1.2"/>
<text x="527.4" y="726.3" font-size="11" stroke="#000">0.0</text>
<text x="527.4" y="717" font-size="11" stroke="#000">0.2</text>
<text x="527.4" y="707.7" font-size="11" stroke="#000">0.4</text>
<text x="527.4" y="698.4" font-size="11" stroke="#000">0.6</text>
<text x="527.4" y="689" font-size="11" stroke="#000">0.8</text>
<text x="527.4" y="679.7" font-size="11" stroke="#000">1.0</text>
<text x="527.4" y="670.4" font-size="11" stroke="#000">1.2</text>
<text x="527.4" y="661.1" font-size="11" stroke="#000">1.4</text>
<text x="562" y="690" font-size="11.3" text-anchor="middle" stroke="#000" transform="rotate(-90 562 690)">P [nPa]</text>
<path d="M713.7 41.7v10.3M713.7 115.4v-10.3M789.7 41.7v10.3M789.7 115.4v-10.3M865.7 41.7v10.3M865.7 115.4v-10.3M941.6 41.7v10.3M941.6 115.4v-10.3M1017.6 41.7v10.3M1017.6 115.4v-10.3M1093.6 41.7v10.3M1093.6 115.4v-10.3" stroke="#000" stroke-width="1" fill="none"/>
<path d="M683.3 41.7v3.4M683.3 115.4v-3.4M698.5 41.7v3.4M698.5 115.4v-3.4M728.9 41.7v3.4M728.9 115.4v-3.4M744.1 41.7v3.4M744.1 115.4v-3.4M759.3 41.7v3.4M759.3 115.4v-3.4M774.5 41.7v3.4M774.5 115.4v-3.4M804.9 41.7v3.4M804.9 115.4v-3.4M820.1 41.7v3.4M820.1 115.4v-3.4M835.3 41.7v3.4M835.3 115.4v-3.4M850.5 41.7v3.4M850.5 115.4v-3.4M880.9 41.7v3.4M880.9 115.4v-3.4M896.1 41.7v3.4M896.1 115.4v-3.4M911.2 41.7v3.4M911.2 115.4v-3.4M926.4 41.7v3.4M926.4 115.4v-3.4M956.8 41.7v3.4M956.8 115.4v-3.4M972 41.7v3.4M972 115.4v-3.4M987.2 41.7v3.4M987.2 115.4v-3.4M1002.4 41.7v3.4M1002.4 115.4v-3.4M1032.8 41.7v3.4M1032.8 115.4v-3.4M1048 41.7v3.4M1048 115.4v-3.4M1063.2 41.7v3.4M1063.2 115.4v-3.4M1078.4 41.7v3.4M1078.4 115.4v-3.4M1108.8 41.7v3.4M1108.8 115.4v-3.4" stroke="#333" stroke-width=".85" fill="none"/>
<path d="M668.7 110.8h6.2M1122.6 110.8h-6.2M668.7 91.5h6.2M1122.6 91.5h-6.2M668.7 72.1h6.2M1122.6 72.1h-6.2M668.7 52.8h6.2M1122.6 52.8h-6.2" stroke="#000" stroke-width="1" fill="none"/>
<path d="M668.7 101.1h2.6M1122.6 101.1h-2.6M668.7 81.8h2.6M1122.6 81.8h-2.6M668.7 62.5h2.6M1122.6 62.5h-2.6M668.7 43.1h2.6M1122.6 43.1h-2.6" stroke="#222" stroke-width=".75" fill="none"/>
<rect x="668.7" y="41.7" width="453.9" height="73.7" fill="none" stroke="#000" stroke-width="1.2"/>
<text x="666.3" y="114.7" font-size="11" text-anchor="end" stroke="#000">-20</text>
<text x="666.3" y="95.4" font-size="11" text-anchor="end" stroke="#000">0</text>
<text x="666.3" y="76" font-size="11" text-anchor="end" stroke="#000">20</text>
<text x="666.3" y="56.7" font-size="11" text-anchor="end" stroke="#000">40</text>
<text x="640.5" y="79" font-size="11.3" text-anchor="middle" stroke="#000" transform="rotate(-90 640.5 79)">B<tspan dy="4.4" font-size="9">LMN</tspan><tspan dy="-4.4">​</tspan> [nT]</text>
<path d="M713.7 115.4v10.3M713.7 189.7v-10.3M789.7 115.4v10.3M789.7 189.7v-10.3M865.7 115.4v10.3M865.7 189.7v-10.3M941.6 115.4v10.3M941.6 189.7v-10.3M1017.6 115.4v10.3M1017.6 189.7v-10.3M1093.6 115.4v10.3M1093.6 189.7v-10.3" stroke="#000" stroke-width="1" fill="none"/>
<path d="M683.3 115.4v3.4M683.3 189.7v-3.4M698.5 115.4v3.4M698.5 189.7v-3.4M728.9 115.4v3.4M728.9 189.7v-3.4M744.1 115.4v3.4M744.1 189.7v-3.4M759.3 115.4v3.4M759.3 189.7v-3.4M774.5 115.4v3.4M774.5 189.7v-3.4M804.9 115.4v3.4M804.9 189.7v-3.4M820.1 115.4v3.4M820.1 189.7v-3.4M835.3 115.4v3.4M835.3 189.7v-3.4M850.5 115.4v3.4M850.5 189.7v-3.4M880.9 115.4v3.4M880.9 189.7v-3.4M896.1 115.4v3.4M896.1 189.7v-3.4M911.2 115.4v3.4M911.2 189.7v-3.4M926.4 115.4v3.4M926.4 189.7v-3.4M956.8 115.4v3.4M956.8 189.7v-3.4M972 115.4v3.4M972 189.7v-3.4M987.2 115.4v3.4M987.2 189.7v-3.4M1002.4 115.4v3.4M1002.4 189.7v-3.4M1032.8 115.4v3.4M1032.8 189.7v-3.4M1048 115.4v3.4M1048 189.7v-3.4M1063.2 115.4v3.4M1063.2 189.7v-3.4M1078.4 115.4v3.4M1078.4 189.7v-3.4M1108.8 115.4v3.4M1108.8 189.7v-3.4" stroke="#333" stroke-width=".85" fill="none"/>
<path d="M668.7 168.3h6.2M1122.6 168.3h-6.2M668.7 147.1h6.2M1122.6 147.1h-6.2M668.7 125.9h6.2M1122.6 125.9h-6.2" stroke="#000" stroke-width="1" fill="none"/>
<rect x="668.7" y="115.4" width="453.9" height="74.3" fill="none" stroke="#000" stroke-width="1.2"/>
<text x="1125.4" y="172.8" font-size="11" stroke="#000">10<tspan dy="-5" font-size="8.7">2</tspan><tspan dy="5">​</tspan></text>
<text x="1125.4" y="151.6" font-size="11" stroke="#000">10<tspan dy="-5" font-size="8.7">3</tspan><tspan dy="5">​</tspan></text>
<text x="1125.4" y="130.4" font-size="11" stroke="#000">10<tspan dy="-5" font-size="8.7">4</tspan><tspan dy="5">​</tspan></text>
<text x="1125.4" y="193.8" font-size="11" stroke="#000">10<tspan dy="-5" font-size="8.7">1</tspan><tspan dy="5">​</tspan></text>
<text x="1155" y="153" font-size="11.3" text-anchor="middle" stroke="#000" transform="rotate(-90 1155 153)">Energy (eV)</text>
<path d="M713.7 189.7v10.3M713.7 263.7v-10.3M789.7 189.7v10.3M789.7 263.7v-10.3M865.7 189.7v10.3M865.7 263.7v-10.3M941.6 189.7v10.3M941.6 263.7v-10.3M1017.6 189.7v10.3M1017.6 263.7v-10.3M1093.6 189.7v10.3M1093.6 263.7v-10.3" stroke="#000" stroke-width="1" fill="none"/>
<path d="M683.3 189.7v3.4M683.3 263.7v-3.4M698.5 189.7v3.4M698.5 263.7v-3.4M728.9 189.7v3.4M728.9 263.7v-3.4M744.1 189.7v3.4M744.1 263.7v-3.4M759.3 189.7v3.4M759.3 263.7v-3.4M774.5 189.7v3.4M774.5 263.7v-3.4M804.9 189.7v3.4M804.9 263.7v-3.4M820.1 189.7v3.4M820.1 263.7v-3.4M835.3 189.7v3.4M835.3 263.7v-3.4M850.5 189.7v3.4M850.5 263.7v-3.4M880.9 189.7v3.4M880.9 263.7v-3.4M896.1 189.7v3.4M896.1 263.7v-3.4M911.2 189.7v3.4M911.2 263.7v-3.4M926.4 189.7v3.4M926.4 263.7v-3.4M956.8 189.7v3.4M956.8 263.7v-3.4M972 189.7v3.4M972 263.7v-3.4M987.2 189.7v3.4M987.2 263.7v-3.4M1002.4 189.7v3.4M1002.4 263.7v-3.4M1032.8 189.7v3.4M1032.8 263.7v-3.4M1048 189.7v3.4M1048 263.7v-3.4M1063.2 189.7v3.4M1063.2 263.7v-3.4M1078.4 189.7v3.4M1078.4 263.7v-3.4M1108.8 189.7v3.4M1108.8 263.7v-3.4" stroke="#333" stroke-width=".85" fill="none"/>
<path d="M668.7 253.4h6.2M1122.6 253.4h-6.2M668.7 242.9h6.2M1122.6 242.9h-6.2M668.7 232.4h6.2M1122.6 232.4h-6.2M668.7 221.9h6.2M1122.6 221.9h-6.2M668.7 211.4h6.2M1122.6 211.4h-6.2M668.7 200.9h6.2M1122.6 200.9h-6.2M668.7 190.4h6.2M1122.6 190.4h-6.2" stroke="#000" stroke-width="1" fill="none"/>
<path d="M668.7 261.3h2.6M1122.6 261.3h-2.6M668.7 258.6h2.6M1122.6 258.6h-2.6M668.7 256h2.6M1122.6 256h-2.6M668.7 250.8h2.6M1122.6 250.8h-2.6M668.7 248.2h2.6M1122.6 248.2h-2.6M668.7 245.5h2.6M1122.6 245.5h-2.6M668.7 240.3h2.6M1122.6 240.3h-2.6M668.7 237.7h2.6M1122.6 237.7h-2.6M668.7 235h2.6M1122.6 235h-2.6M668.7 229.8h2.6M1122.6 229.8h-2.6M668.7 227.2h2.6M1122.6 227.2h-2.6M668.7 224.5h2.6M1122.6 224.5h-2.6M668.7 219.3h2.6M1122.6 219.3h-2.6M668.7 216.7h2.6M1122.6 216.7h-2.6M668.7 214h2.6M1122.6 214h-2.6M668.7 208.8h2.6M1122.6 208.8h-2.6M668.7 206.2h2.6M1122.6 206.2h-2.6M668.7 203.5h2.6M1122.6 203.5h-2.6M668.7 198.3h2.6M1122.6 198.3h-2.6M668.7 195.7h2.6M1122.6 195.7h-2.6M668.7 193h2.6M1122.6 193h-2.6" stroke="#222" stroke-width=".75" fill="none"/>
<rect x="668.7" y="189.7" width="453.9" height="74" fill="none" stroke="#000" stroke-width="1.2"/>
<text x="666.3" y="257.3" font-size="11" text-anchor="end" stroke="#000">-400</text>
<text x="666.3" y="246.8" font-size="11" text-anchor="end" stroke="#000">-200</text>
<text x="666.3" y="236.3" font-size="11" text-anchor="end" stroke="#000">0</text>
<text x="666.3" y="225.8" font-size="11" text-anchor="end" stroke="#000">200</text>
<text x="666.3" y="215.3" font-size="11" text-anchor="end" stroke="#000">400</text>
<text x="666.3" y="204.8" font-size="11" text-anchor="end" stroke="#000">600</text>
<text x="666.3" y="195.2" font-size="11" text-anchor="end" stroke="#000">800</text>
<text x="666.3" y="267.6" font-size="11" text-anchor="end" stroke="#000">-600</text>
<text x="637" y="226" font-size="11.3" text-anchor="middle" stroke="#000" transform="rotate(-90 637 226)">V<tspan dy="4.4" font-size="9">e LMN</tspan><tspan dy="-4.4">​</tspan> [km/s]</text>
<path d="M713.7 263.7v10.3M713.7 337.5v-10.3M789.7 263.7v10.3M789.7 337.5v-10.3M865.7 263.7v10.3M865.7 337.5v-10.3M941.6 263.7v10.3M941.6 337.5v-10.3M1017.6 263.7v10.3M1017.6 337.5v-10.3M1093.6 263.7v10.3M1093.6 337.5v-10.3" stroke="#000" stroke-width="1" fill="none"/>
<path d="M683.3 263.7v3.4M683.3 337.5v-3.4M698.5 263.7v3.4M698.5 337.5v-3.4M728.9 263.7v3.4M728.9 337.5v-3.4M744.1 263.7v3.4M744.1 337.5v-3.4M759.3 263.7v3.4M759.3 337.5v-3.4M774.5 263.7v3.4M774.5 337.5v-3.4M804.9 263.7v3.4M804.9 337.5v-3.4M820.1 263.7v3.4M820.1 337.5v-3.4M835.3 263.7v3.4M835.3 337.5v-3.4M850.5 263.7v3.4M850.5 337.5v-3.4M880.9 263.7v3.4M880.9 337.5v-3.4M896.1 263.7v3.4M896.1 337.5v-3.4M911.2 263.7v3.4M911.2 337.5v-3.4M926.4 263.7v3.4M926.4 337.5v-3.4M956.8 263.7v3.4M956.8 337.5v-3.4M972 263.7v3.4M972 337.5v-3.4M987.2 263.7v3.4M987.2 337.5v-3.4M1002.4 263.7v3.4M1002.4 337.5v-3.4M1032.8 263.7v3.4M1032.8 337.5v-3.4M1048 263.7v3.4M1048 337.5v-3.4M1063.2 263.7v3.4M1063.2 337.5v-3.4M1078.4 263.7v3.4M1078.4 337.5v-3.4M1108.8 263.7v3.4M1108.8 337.5v-3.4" stroke="#333" stroke-width=".85" fill="none"/>
<path d="M668.7 292.5h6.2M1122.6 292.5h-6.2" stroke="#000" stroke-width="1" fill="none"/>
<path d="M668.7 331.7h2.6M1122.6 331.7h-2.6M668.7 322.3h2.6M1122.6 322.3h-2.6M668.7 315.1h2.6M1122.6 315.1h-2.6M668.7 309.1h2.6M1122.6 309.1h-2.6M668.7 304.1h2.6M1122.6 304.1h-2.6M668.7 299.8h2.6M1122.6 299.8h-2.6M668.7 295.9h2.6M1122.6 295.9h-2.6M668.7 269.9h2.6M1122.6 269.9h-2.6" stroke="#222" stroke-width=".75" fill="none"/>
<rect x="668.7" y="263.7" width="453.9" height="73.8" fill="none" stroke="#000" stroke-width="1.2"/>
<text x="1125.4" y="297" font-size="11" stroke="#000">10<tspan dy="-5" font-size="8.7">2</tspan><tspan dy="5">​</tspan></text>
<text x="1160.5" y="301" font-size="11.3" text-anchor="middle" stroke="#000" transform="rotate(-90 1160.5 301)">T<tspan dy="4.4" font-size="9">e</tspan><tspan dy="-4.4">​</tspan> [eV]</text>
<path d="M713.7 337.5v10.3M713.7 411.2v-10.3M789.7 337.5v10.3M789.7 411.2v-10.3M865.7 337.5v10.3M865.7 411.2v-10.3M941.6 337.5v10.3M941.6 411.2v-10.3M1017.6 337.5v10.3M1017.6 411.2v-10.3M1093.6 337.5v10.3M1093.6 411.2v-10.3" stroke="#000" stroke-width="1" fill="none"/>
<path d="M683.3 337.5v3.4M683.3 411.2v-3.4M698.5 337.5v3.4M698.5 411.2v-3.4M728.9 337.5v3.4M728.9 411.2v-3.4M744.1 337.5v3.4M744.1 411.2v-3.4M759.3 337.5v3.4M759.3 411.2v-3.4M774.5 337.5v3.4M774.5 411.2v-3.4M804.9 337.5v3.4M804.9 411.2v-3.4M820.1 337.5v3.4M820.1 411.2v-3.4M835.3 337.5v3.4M835.3 411.2v-3.4M850.5 337.5v3.4M850.5 411.2v-3.4M880.9 337.5v3.4M880.9 411.2v-3.4M896.1 337.5v3.4M896.1 411.2v-3.4M911.2 337.5v3.4M911.2 411.2v-3.4M926.4 337.5v3.4M926.4 411.2v-3.4M956.8 337.5v3.4M956.8 411.2v-3.4M972 337.5v3.4M972 411.2v-3.4M987.2 337.5v3.4M987.2 411.2v-3.4M1002.4 337.5v3.4M1002.4 411.2v-3.4M1032.8 337.5v3.4M1032.8 411.2v-3.4M1048 337.5v3.4M1048 411.2v-3.4M1063.2 337.5v3.4M1063.2 411.2v-3.4M1078.4 337.5v3.4M1078.4 411.2v-3.4M1108.8 337.5v3.4M1108.8 411.2v-3.4" stroke="#333" stroke-width=".85" fill="none"/>
<path d="M668.7 404.1h6.2M1122.6 404.1h-6.2M668.7 390.5h6.2M1122.6 390.5h-6.2M668.7 376.8h6.2M1122.6 376.8h-6.2M668.7 363.1h6.2M1122.6 363.1h-6.2M668.7 349.5h6.2M1122.6 349.5h-6.2" stroke="#000" stroke-width="1" fill="none"/>
<path d="M668.7 409.6h2.6M1122.6 409.6h-2.6M668.7 406.8h2.6M1122.6 406.8h-2.6M668.7 401.4h2.6M1122.6 401.4h-2.6M668.7 398.6h2.6M1122.6 398.6h-2.6M668.7 395.9h2.6M1122.6 395.9h-2.6M668.7 393.2h2.6M1122.6 393.2h-2.6M668.7 387.7h2.6M1122.6 387.7h-2.6M668.7 385h2.6M1122.6 385h-2.6M668.7 382.3h2.6M1122.6 382.3h-2.6M668.7 379.5h2.6M1122.6 379.5h-2.6M668.7 374.1h2.6M1122.6 374.1h-2.6M668.7 371.3h2.6M1122.6 371.3h-2.6M668.7 368.6h2.6M1122.6 368.6h-2.6M668.7 365.9h2.6M1122.6 365.9h-2.6M668.7 360.4h2.6M1122.6 360.4h-2.6M668.7 357.7h2.6M1122.6 357.7h-2.6M668.7 355h2.6M1122.6 355h-2.6M668.7 352.2h2.6M1122.6 352.2h-2.6M668.7 346.8h2.6M1122.6 346.8h-2.6M668.7 344h2.6M1122.6 344h-2.6M668.7 341.3h2.6M1122.6 341.3h-2.6M668.7 338.6h2.6M1122.6 338.6h-2.6" stroke="#222" stroke-width=".75" fill="none"/>
<rect x="668.7" y="337.5" width="453.9" height="73.7" fill="none" stroke="#000" stroke-width="1.2"/>
<text x="666.3" y="408" font-size="11" text-anchor="end" stroke="#000">-10</text>
<text x="666.3" y="394.4" font-size="11" text-anchor="end" stroke="#000">-5</text>
<text x="666.3" y="380.7" font-size="11" text-anchor="end" stroke="#000">0</text>
<text x="666.3" y="367" font-size="11" text-anchor="end" stroke="#000">5</text>
<text x="666.3" y="353.4" font-size="11" text-anchor="end" stroke="#000">10</text>
<text x="642" y="375" font-size="11.3" text-anchor="middle" stroke="#000" transform="rotate(-90 642 375)">E<tspan dy="4.4" font-size="9">LMN</tspan><tspan dy="-4.4">​</tspan>&#160; [mV m<tspan dy="-5" font-size="8.7">-1</tspan><tspan dy="5">​</tspan>]</text>
<path d="M713.7 411.2v10.3M713.7 484.7v-10.3M789.7 411.2v10.3M789.7 484.7v-10.3M865.7 411.2v10.3M865.7 484.7v-10.3M941.6 411.2v10.3M941.6 484.7v-10.3M1017.6 411.2v10.3M1017.6 484.7v-10.3M1093.6 411.2v10.3M1093.6 484.7v-10.3" stroke="#000" stroke-width="1" fill="none"/>
<path d="M683.3 411.2v3.4M683.3 484.7v-3.4M698.5 411.2v3.4M698.5 484.7v-3.4M728.9 411.2v3.4M728.9 484.7v-3.4M744.1 411.2v3.4M744.1 484.7v-3.4M759.3 411.2v3.4M759.3 484.7v-3.4M774.5 411.2v3.4M774.5 484.7v-3.4M804.9 411.2v3.4M804.9 484.7v-3.4M820.1 411.2v3.4M820.1 484.7v-3.4M835.3 411.2v3.4M835.3 484.7v-3.4M850.5 411.2v3.4M850.5 484.7v-3.4M880.9 411.2v3.4M880.9 484.7v-3.4M896.1 411.2v3.4M896.1 484.7v-3.4M911.2 411.2v3.4M911.2 484.7v-3.4M926.4 411.2v3.4M926.4 484.7v-3.4M956.8 411.2v3.4M956.8 484.7v-3.4M972 411.2v3.4M972 484.7v-3.4M987.2 411.2v3.4M987.2 484.7v-3.4M1002.4 411.2v3.4M1002.4 484.7v-3.4M1032.8 411.2v3.4M1032.8 484.7v-3.4M1048 411.2v3.4M1048 484.7v-3.4M1063.2 411.2v3.4M1063.2 484.7v-3.4M1078.4 411.2v3.4M1078.4 484.7v-3.4M1108.8 411.2v3.4M1108.8 484.7v-3.4" stroke="#333" stroke-width=".85" fill="none"/>
<path d="M668.7 472.6h6.2M1122.6 472.6h-6.2M668.7 448h6.2M1122.6 448h-6.2M668.7 423.4h6.2M1122.6 423.4h-6.2" stroke="#000" stroke-width="1" fill="none"/>
<path d="M668.7 482.4h2.6M1122.6 482.4h-2.6M668.7 477.5h2.6M1122.6 477.5h-2.6M668.7 467.7h2.6M1122.6 467.7h-2.6M668.7 462.8h2.6M1122.6 462.8h-2.6M668.7 457.8h2.6M1122.6 457.8h-2.6M668.7 452.9h2.6M1122.6 452.9h-2.6M668.7 443.1h2.6M1122.6 443.1h-2.6M668.7 438.2h2.6M1122.6 438.2h-2.6M668.7 433.2h2.6M1122.6 433.2h-2.6M668.7 428.3h2.6M1122.6 428.3h-2.6M668.7 418.5h2.6M1122.6 418.5h-2.6M668.7 413.6h2.6M1122.6 413.6h-2.6" stroke="#222" stroke-width=".75" fill="none"/>
<rect x="668.7" y="411.2" width="453.9" height="73.5" fill="none" stroke="#000" stroke-width="1.2"/>
<text x="1124.5" y="476.5" font-size="11" stroke="#000">-10</text>
<text x="1124.5" y="451.9" font-size="11" stroke="#000">0</text>
<text x="1124.5" y="427.3" font-size="11" stroke="#000">10</text>
<text x="1155.5" y="448" font-size="11.3" text-anchor="middle" stroke="#000" transform="rotate(-90 1155.5 448)">E<tspan dy="4.4" font-size="9">M</tspan><tspan dy="-4.4">​</tspan> [mW m<tspan dy="-5" font-size="8.7">-2</tspan><tspan dy="5">​</tspan>]</text>
<path d="M713.7 484.7v10.3M713.7 558.8v-10.3M789.7 484.7v10.3M789.7 558.8v-10.3M865.7 484.7v10.3M865.7 558.8v-10.3M941.6 484.7v10.3M941.6 558.8v-10.3M1017.6 484.7v10.3M1017.6 558.8v-10.3M1093.6 484.7v10.3M1093.6 558.8v-10.3" stroke="#000" stroke-width="1" fill="none"/>
<path d="M683.3 484.7v3.4M683.3 558.8v-3.4M698.5 484.7v3.4M698.5 558.8v-3.4M728.9 484.7v3.4M728.9 558.8v-3.4M744.1 484.7v3.4M744.1 558.8v-3.4M759.3 484.7v3.4M759.3 558.8v-3.4M774.5 484.7v3.4M774.5 558.8v-3.4M804.9 484.7v3.4M804.9 558.8v-3.4M820.1 484.7v3.4M820.1 558.8v-3.4M835.3 484.7v3.4M835.3 558.8v-3.4M850.5 484.7v3.4M850.5 558.8v-3.4M880.9 484.7v3.4M880.9 558.8v-3.4M896.1 484.7v3.4M896.1 558.8v-3.4M911.2 484.7v3.4M911.2 558.8v-3.4M926.4 484.7v3.4M926.4 558.8v-3.4M956.8 484.7v3.4M956.8 558.8v-3.4M972 484.7v3.4M972 558.8v-3.4M987.2 484.7v3.4M987.2 558.8v-3.4M1002.4 484.7v3.4M1002.4 558.8v-3.4M1032.8 484.7v3.4M1032.8 558.8v-3.4M1048 484.7v3.4M1048 558.8v-3.4M1063.2 484.7v3.4M1063.2 558.8v-3.4M1078.4 484.7v3.4M1078.4 558.8v-3.4M1108.8 484.7v3.4M1108.8 558.8v-3.4" stroke="#333" stroke-width=".85" fill="none"/>
<path d="M668.7 545.5h6.2M1122.6 545.5h-6.2M668.7 531.7h6.2M1122.6 531.7h-6.2M668.7 517.9h6.2M1122.6 517.9h-6.2M668.7 504.1h6.2M1122.6 504.1h-6.2M668.7 490.3h6.2M1122.6 490.3h-6.2" stroke="#000" stroke-width="1" fill="none"/>
<path d="M668.7 556.5h2.6M1122.6 556.5h-2.6M668.7 553.8h2.6M1122.6 553.8h-2.6M668.7 551h2.6M1122.6 551h-2.6M668.7 548.3h2.6M1122.6 548.3h-2.6M668.7 542.7h2.6M1122.6 542.7h-2.6M668.7 540h2.6M1122.6 540h-2.6M668.7 537.2h2.6M1122.6 537.2h-2.6M668.7 534.5h2.6M1122.6 534.5h-2.6M668.7 528.9h2.6M1122.6 528.9h-2.6M668.7 526.2h2.6M1122.6 526.2h-2.6M668.7 523.4h2.6M1122.6 523.4h-2.6M668.7 520.7h2.6M1122.6 520.7h-2.6M668.7 515.1h2.6M1122.6 515.1h-2.6M668.7 512.4h2.6M1122.6 512.4h-2.6M668.7 509.6h2.6M1122.6 509.6h-2.6M668.7 506.9h2.6M1122.6 506.9h-2.6M668.7 501.3h2.6M1122.6 501.3h-2.6M668.7 498.6h2.6M1122.6 498.6h-2.6M668.7 495.8h2.6M1122.6 495.8h-2.6M668.7 493.1h2.6M1122.6 493.1h-2.6M668.7 487.5h2.6M1122.6 487.5h-2.6" stroke="#222" stroke-width=".75" fill="none"/>
<rect x="668.7" y="484.7" width="453.9" height="74.1" fill="none" stroke="#000" stroke-width="1.2"/>
<text x="666.3" y="549.4" font-size="11" text-anchor="end" stroke="#000">0.1</text>
<text x="666.3" y="535.6" font-size="11" text-anchor="end" stroke="#000">0.2</text>
<text x="666.3" y="521.8" font-size="11" text-anchor="end" stroke="#000">0.3</text>
<text x="666.3" y="508" font-size="11" text-anchor="end" stroke="#000">0.4</text>
<text x="666.3" y="494.2" font-size="11" text-anchor="end" stroke="#000">0.5</text>
<text x="644" y="521.5" font-size="11.3" text-anchor="middle" stroke="#000" transform="rotate(-90 644 521.5)">|J| [µA m<tspan dy="-5" font-size="8.7">-2</tspan><tspan dy="5">​</tspan>]</text>
<path d="M713.7 558.8v10.3M713.7 633v-10.3M789.7 558.8v10.3M789.7 633v-10.3M865.7 558.8v10.3M865.7 633v-10.3M941.6 558.8v10.3M941.6 633v-10.3M1017.6 558.8v10.3M1017.6 633v-10.3M1093.6 558.8v10.3M1093.6 633v-10.3" stroke="#000" stroke-width="1" fill="none"/>
<path d="M683.3 558.8v3.4M683.3 633v-3.4M698.5 558.8v3.4M698.5 633v-3.4M728.9 558.8v3.4M728.9 633v-3.4M744.1 558.8v3.4M744.1 633v-3.4M759.3 558.8v3.4M759.3 633v-3.4M774.5 558.8v3.4M774.5 633v-3.4M804.9 558.8v3.4M804.9 633v-3.4M820.1 558.8v3.4M820.1 633v-3.4M835.3 558.8v3.4M835.3 633v-3.4M850.5 558.8v3.4M850.5 633v-3.4M880.9 558.8v3.4M880.9 633v-3.4M896.1 558.8v3.4M896.1 633v-3.4M911.2 558.8v3.4M911.2 633v-3.4M926.4 558.8v3.4M926.4 633v-3.4M956.8 558.8v3.4M956.8 633v-3.4M972 558.8v3.4M972 633v-3.4M987.2 558.8v3.4M987.2 633v-3.4M1002.4 558.8v3.4M1002.4 633v-3.4M1032.8 558.8v3.4M1032.8 633v-3.4M1048 558.8v3.4M1048 633v-3.4M1063.2 558.8v3.4M1063.2 633v-3.4M1078.4 558.8v3.4M1078.4 633v-3.4M1108.8 558.8v3.4M1108.8 633v-3.4" stroke="#333" stroke-width=".85" fill="none"/>
<path d="M668.7 623.4h6.2M1122.6 623.4h-6.2M668.7 609.2h6.2M1122.6 609.2h-6.2M668.7 595.1h6.2M1122.6 595.1h-6.2M668.7 581h6.2M1122.6 581h-6.2M668.7 566.8h6.2M1122.6 566.8h-6.2" stroke="#000" stroke-width="1" fill="none"/>
<path d="M668.7 630.5h2.6M1122.6 630.5h-2.6M668.7 626.9h2.6M1122.6 626.9h-2.6M668.7 619.9h2.6M1122.6 619.9h-2.6M668.7 616.3h2.6M1122.6 616.3h-2.6M668.7 612.8h2.6M1122.6 612.8h-2.6M668.7 605.7h2.6M1122.6 605.7h-2.6M668.7 602.2h2.6M1122.6 602.2h-2.6M668.7 598.6h2.6M1122.6 598.6h-2.6M668.7 591.6h2.6M1122.6 591.6h-2.6M668.7 588h2.6M1122.6 588h-2.6M668.7 584.5h2.6M1122.6 584.5h-2.6M668.7 577.4h2.6M1122.6 577.4h-2.6M668.7 573.9h2.6M1122.6 573.9h-2.6M668.7 570.3h2.6M1122.6 570.3h-2.6M668.7 563.3h2.6M1122.6 563.3h-2.6M668.7 559.7h2.6M1122.6 559.7h-2.6" stroke="#222" stroke-width=".75" fill="none"/>
<rect x="668.7" y="558.8" width="453.9" height="74.2" fill="none" stroke="#000" stroke-width="1.2"/>
<text x="1124.5" y="627.3" font-size="11" stroke="#000">-0.4</text>
<text x="1124.5" y="613.1" font-size="11" stroke="#000">-0.2</text>
<text x="1124.5" y="599" font-size="11" stroke="#000">0.0</text>
<text x="1124.5" y="584.9" font-size="11" stroke="#000">0.2</text>
<text x="1124.5" y="570.7" font-size="11" stroke="#000">0.4</text>
<text x="1160" y="596" font-size="11.3" text-anchor="middle" stroke="#000" transform="rotate(-90 1160 596)">J [µA m<tspan dy="-5" font-size="8.7">-2</tspan><tspan dy="5">​</tspan>]</text>
<path d="M713.7 633v10.3M713.7 706.3v-10.3M789.7 633v10.3M789.7 706.3v-10.3M865.7 633v10.3M865.7 706.3v-10.3M941.6 633v10.3M941.6 706.3v-10.3M1017.6 633v10.3M1017.6 706.3v-10.3M1093.6 633v10.3M1093.6 706.3v-10.3" stroke="#000" stroke-width="1" fill="none"/>
<path d="M683.3 633v3.4M683.3 706.3v-3.4M698.5 633v3.4M698.5 706.3v-3.4M728.9 633v3.4M728.9 706.3v-3.4M744.1 633v3.4M744.1 706.3v-3.4M759.3 633v3.4M759.3 706.3v-3.4M774.5 633v3.4M774.5 706.3v-3.4M804.9 633v3.4M804.9 706.3v-3.4M820.1 633v3.4M820.1 706.3v-3.4M835.3 633v3.4M835.3 706.3v-3.4M850.5 633v3.4M850.5 706.3v-3.4M880.9 633v3.4M880.9 706.3v-3.4M896.1 633v3.4M896.1 706.3v-3.4M911.2 633v3.4M911.2 706.3v-3.4M926.4 633v3.4M926.4 706.3v-3.4M956.8 633v3.4M956.8 706.3v-3.4M972 633v3.4M972 706.3v-3.4M987.2 633v3.4M987.2 706.3v-3.4M1002.4 633v3.4M1002.4 706.3v-3.4M1032.8 633v3.4M1032.8 706.3v-3.4M1048 633v3.4M1048 706.3v-3.4M1063.2 633v3.4M1063.2 706.3v-3.4M1078.4 633v3.4M1078.4 706.3v-3.4M1108.8 633v3.4M1108.8 706.3v-3.4" stroke="#333" stroke-width=".85" fill="none"/>
<path d="M668.7 696.4h6.2M1122.6 696.4h-6.2M668.7 672.2h6.2M1122.6 672.2h-6.2M668.7 648h6.2M1122.6 648h-6.2" stroke="#000" stroke-width="1" fill="none"/>
<path d="M668.7 701.2h2.6M1122.6 701.2h-2.6M668.7 691.6h2.6M1122.6 691.6h-2.6M668.7 686.7h2.6M1122.6 686.7h-2.6M668.7 681.9h2.6M1122.6 681.9h-2.6M668.7 677h2.6M1122.6 677h-2.6M668.7 667.4h2.6M1122.6 667.4h-2.6M668.7 662.5h2.6M1122.6 662.5h-2.6M668.7 657.7h2.6M1122.6 657.7h-2.6M668.7 652.8h2.6M1122.6 652.8h-2.6M668.7 643.2h2.6M1122.6 643.2h-2.6M668.7 638.3h2.6M1122.6 638.3h-2.6M668.7 633.5h2.6M1122.6 633.5h-2.6" stroke="#222" stroke-width=".75" fill="none"/>
<rect x="668.7" y="633" width="453.9" height="73.3" fill="none" stroke="#000" stroke-width="1.2"/>
<text x="666.3" y="700.3" font-size="11" text-anchor="end" stroke="#000">-0.5</text>
<text x="666.3" y="676.1" font-size="11" text-anchor="end" stroke="#000">0.0</text>
<text x="666.3" y="651.9" font-size="11" text-anchor="end" stroke="#000">0.5</text>
<text x="640.5" y="670" font-size="11.3" text-anchor="middle" stroke="#000" transform="rotate(-90 640.5 670)">J*E' [nW m<tspan dy="-5" font-size="8.7">-3</tspan><tspan dy="5">​</tspan>]</text>
<text x="116.5" y="740" font-size="10.85" text-anchor="middle" stroke="#000">14:09:20</text>
<text x="115.9" y="761.3" font-size="11" text-anchor="middle" stroke="#000">8.32</text>
<text x="115.5" y="779" font-size="11" text-anchor="middle" stroke="#000">7.77</text>
<text x="116" y="797" font-size="11" text-anchor="middle" stroke="#000">-0.829</text>
<text x="192.5" y="740" font-size="10.85" text-anchor="middle" stroke="#000">14:09:30</text>
<text x="191.9" y="761.3" font-size="11" text-anchor="middle" stroke="#000">8.31</text>
<text x="191.5" y="779" font-size="11" text-anchor="middle" stroke="#000">7.77</text>
<text x="192" y="797" font-size="11" text-anchor="middle" stroke="#000">-0.829</text>
<text x="268.5" y="740" font-size="10.85" text-anchor="middle" stroke="#000">14:09:40</text>
<text x="267.9" y="761.3" font-size="11" text-anchor="middle" stroke="#000">8.31</text>
<text x="267.5" y="779" font-size="11" text-anchor="middle" stroke="#000">7.77</text>
<text x="268" y="797" font-size="11" text-anchor="middle" stroke="#000">-0.829</text>
<text x="344.4" y="740" font-size="10.85" text-anchor="middle" stroke="#000">14:09:50</text>
<text x="343.8" y="761.3" font-size="11" text-anchor="middle" stroke="#000">8.31</text>
<text x="343.4" y="779" font-size="11" text-anchor="middle" stroke="#000">7.77</text>
<text x="343.9" y="797" font-size="11" text-anchor="middle" stroke="#000">-0.829</text>
<text x="420.4" y="740" font-size="10.85" text-anchor="middle" stroke="#000">14:10:00</text>
<text x="419.8" y="761.3" font-size="11" text-anchor="middle" stroke="#000">8.31</text>
<text x="419.4" y="779" font-size="11" text-anchor="middle" stroke="#000">7.77</text>
<text x="419.9" y="797" font-size="11" text-anchor="middle" stroke="#000">-0.829</text>
<text x="496.4" y="740" font-size="10.85" text-anchor="middle" stroke="#000">14:10:10</text>
<text x="495.8" y="761.3" font-size="11" text-anchor="middle" stroke="#000">8.31</text>
<text x="495.4" y="779" font-size="11" text-anchor="middle" stroke="#000">7.77</text>
<text x="495.9" y="797" font-size="11" text-anchor="middle" stroke="#000">-0.829</text>
<text x="50" y="761.3" font-size="11" stroke="#000">X</text>
<text x="539" y="761.3" font-size="11" stroke="#000">Re</text>
<text x="50" y="779" font-size="11" stroke="#000">Y</text>
<text x="539" y="779" font-size="11" stroke="#000">Re</text>
<text x="50" y="797" font-size="11" stroke="#000">Z</text>
<text x="539" y="797" font-size="11" stroke="#000">Re</text>
<text x="713.7" y="724.2" font-size="10.85" text-anchor="middle" stroke="#000">14:09:20</text>
<text x="713.1" y="746" font-size="11" text-anchor="middle" stroke="#000">8.32</text>
<text x="712.7" y="763.8" font-size="11" text-anchor="middle" stroke="#000">7.77</text>
<text x="713.2" y="781.4" font-size="11" text-anchor="middle" stroke="#000">-0.829</text>
<text x="789.7" y="724.2" font-size="10.85" text-anchor="middle" stroke="#000">14:09:30</text>
<text x="789.1" y="746" font-size="11" text-anchor="middle" stroke="#000">8.31</text>
<text x="788.7" y="763.8" font-size="11" text-anchor="middle" stroke="#000">7.77</text>
<text x="789.2" y="781.4" font-size="11" text-anchor="middle" stroke="#000">-0.829</text>
<text x="865.7" y="724.2" font-size="10.85" text-anchor="middle" stroke="#000">14:09:40</text>
<text x="865.1" y="746" font-size="11" text-anchor="middle" stroke="#000">8.31</text>
<text x="864.7" y="763.8" font-size="11" text-anchor="middle" stroke="#000">7.77</text>
<text x="865.2" y="781.4" font-size="11" text-anchor="middle" stroke="#000">-0.829</text>
<text x="941.6" y="724.2" font-size="10.85" text-anchor="middle" stroke="#000">14:09:50</text>
<text x="941" y="746" font-size="11" text-anchor="middle" stroke="#000">8.31</text>
<text x="940.6" y="763.8" font-size="11" text-anchor="middle" stroke="#000">7.77</text>
<text x="941.1" y="781.4" font-size="11" text-anchor="middle" stroke="#000">-0.829</text>
<text x="1017.6" y="724.2" font-size="10.85" text-anchor="middle" stroke="#000">14:10:00</text>
<text x="1017" y="746" font-size="11" text-anchor="middle" stroke="#000">8.31</text>
<text x="1016.6" y="763.8" font-size="11" text-anchor="middle" stroke="#000">7.77</text>
<text x="1017.1" y="781.4" font-size="11" text-anchor="middle" stroke="#000">-0.829</text>
<text x="1093.6" y="724.2" font-size="10.85" text-anchor="middle" stroke="#000">14:10:10</text>
<text x="1093" y="746" font-size="11" text-anchor="middle" stroke="#000">8.31</text>
<text x="1092.6" y="763.8" font-size="11" text-anchor="middle" stroke="#000">7.77</text>
<text x="1093.1" y="781.4" font-size="11" text-anchor="middle" stroke="#000">-0.829</text>
<text x="647.2" y="746" font-size="11" stroke="#000">X</text>
<text x="1136.2" y="746" font-size="11" stroke="#000">Re</text>
<text x="647.2" y="763.8" font-size="11" stroke="#000">Y</text>
<text x="1136.2" y="763.8" font-size="11" stroke="#000">Re</text>
<text x="647.2" y="781.4" font-size="11" stroke="#000">Z</text>
<text x="1136.2" y="781.4" font-size="11" stroke="#000">Re</text>
<path d="M77.1 38.1H95.1" stroke="#ff2020" stroke-width="1.3" stroke-dasharray="4.2 2.2" fill="none"/>
<text x="96.3" y="40.8" font-size="9" fill="#ff2020" stroke="#ff2020" clip-path="url(#l1)">t_cs</text>
<path d="M77.1 45.5H95.1" stroke="#22aa22" stroke-width="1.3" stroke-dasharray="4.2 2.2" fill="none"/>
<text x="96.3" y="48.2" font-size="9" fill="#2a9a2a" stroke="#2a9a2a" clip-path="url(#l2)">t_HT</text>
<text x="96.3" y="56.3" font-size="9" fill="#30f030" stroke="#30f030" clip-path="url(#l3)">t_MVAB</text>
<path d="M77.1 61H95.1" stroke="#a8a8a8" stroke-width="2.6" stroke-dasharray="5 2.4" fill="none"/>
<text x="96.3" y="63.7" font-size="9" fill="#b4b4b4" stroke="#b4b4b4" clip-path="url(#l4)">t_BLminmax</text>
<path d="M77.1 68.7H95.1" stroke="#7070ff" stroke-width="1.1" stroke-dasharray="4.2 2.2" fill="none"/>
<text x="96.3" y="71.4" font-size="9" fill="#2020ff" stroke="#2020ff" clip-path="url(#l5)">BL, 50% of BL</text>
<path d="M77.1 76.5H95.1" stroke="#5050ff" stroke-width="1.0" fill="none"/>
<text x="96.3" y="79.2" font-size="9" fill="#2020ff" stroke="#2020ff" clip-path="url(#l6)">BL_brst</text>
<path d="M77.1 83.9H95.1" stroke="#b0b0b0" stroke-width="2.2" fill="none"/>
<text x="96.3" y="86.6" font-size="9" fill="#8c8c8c" stroke="#8c8c8c" clip-path="url(#l7)">|B|</text>
<path d="M77.1 188.3H95.1" stroke="#5050ff" stroke-width="1.0" fill="none"/>
<text x="96.3" y="191.3" font-size="10" fill="#1a1aff" stroke="#1a1aff">B<tspan dy="4" font-size="8.5">L</tspan><tspan dy="-4">​</tspan></text>
<path d="M77.1 211.6H95.1" stroke="#50f050" stroke-width="1.0" fill="none"/>
<text x="96.3" y="214.6" font-size="10" fill="#28e628" stroke="#28e628">B<tspan dy="4" font-size="8.5">M</tspan><tspan dy="-4">​</tspan></text>
<path d="M77.1 233.5H95.1" stroke="#ff5050" stroke-width="1.6" fill="none"/>
<text x="96.3" y="236.5" font-size="10" fill="#ff1a1a" stroke="#ff1a1a">B<tspan dy="4" font-size="8.5">N</tspan><tspan dy="-4">​</tspan></text>
<path d="M77.1 317H92.5" stroke="#30c030" stroke-width="1.5" stroke-dasharray="4.2 2.2" fill="none"/>
<text x="93.5" y="319.7" font-size="9" fill="#2a9a2a" stroke="#2a9a2a" clip-path="url(#l8)">t_HT</text>
<path d="M77.1 324H92.5" stroke="#60c8ff" stroke-width="1.3" stroke-dasharray="1.2 1.6" fill="none"/>
<text x="93.5" y="326.7" font-size="9" fill="#40a8ff" stroke="#40a8ff" clip-path="url(#l9)">t_vmax</text>
<path d="M77.1 330.8H92.5" stroke="#ff2020" stroke-width="1.3" stroke-dasharray="4.2 2.2" fill="none"/>
<text x="93.5" y="333.5" font-size="9" fill="#ff2020" stroke="#ff2020" clip-path="url(#l10)">t_cs</text>
<path d="M77.1 337.5H92.5" stroke="#2020ff" stroke-width="1.3" stroke-dasharray="1.2 1.6" fill="none"/>
<text x="93.5" y="340.2" font-size="9" fill="#2020ff" stroke="#2020ff" clip-path="url(#l11)">t_dvmax</text>
<path d="M77.1 344.5H92.5" stroke="#333" stroke-width="1.0" fill="none"/>
<text x="93.5" y="347.2" font-size="9" fill="#222" stroke="#222" clip-path="url(#l12)">|V<tspan dy="2.2" font-size="7">i</tspan><tspan dy="-2.2">​</tspan>|</text>
<path d="M77.1 389.6H95.1" stroke="#5050ff" stroke-width="1.0" fill="none"/>
<text x="96.3" y="392.3" font-size="9.0" fill="#1a1aff" stroke="#1a1aff">V<tspan dy="3.4" font-size="7.8">L</tspan><tspan dy="-3.4">​</tspan></text>
<path d="M77.1 404.5H95.1" stroke="#50f050" stroke-width="1.0" fill="none"/>
<text x="96.3" y="407.2" font-size="9.0" fill="#28e628" stroke="#28e628">V<tspan dy="3.4" font-size="7.8">M</tspan><tspan dy="-3.4">​</tspan></text>
<path d="M77.1 419.1H95.1" stroke="#ff5050" stroke-width="1.0" fill="none"/>
<text x="96.3" y="421.8" font-size="9.0" fill="#ff1a1a" stroke="#ff1a1a">V<tspan dy="3.4" font-size="7.8">N</tspan><tspan dy="-3.4">​</tspan></text>
<path d="M77.1 457.4H95.1" stroke="#ff5050" stroke-width="1.0" fill="none"/>
<text x="96.3" y="460.2" font-size="9.3" fill="#ff1a1a" stroke="#ff1a1a">Ne</text>
<path d="M77.1 470.7H95.1" stroke="#444" stroke-width="1.0" fill="none"/>
<text x="96.3" y="473.5" font-size="9.3" fill="#111" stroke="#111">Ni</text>
<path d="M77.1 523.8H95.1" stroke="#00e000" stroke-width="1.3" fill="none"/>
<circle cx="86.1" cy="523.8" r="2" fill="#00e000"/>
<text x="96.3" y="526.5" font-size="9" fill="#20f020" stroke="#20f020" clip-path="url(#l13)">N_He+</text>
<path d="M77.1 532.6H95.1" stroke="#ff1010" stroke-width="1.3" fill="none"/>
<circle cx="86.1" cy="532.6" r="2" fill="#ff1010"/>
<text x="96.3" y="535.3" font-size="9" fill="#ff1a1a" stroke="#ff1a1a" clip-path="url(#l14)">N_He++</text>
<path d="M77.1 541.6H95.1" stroke="#1010ff" stroke-width="1.3" fill="none"/>
<circle cx="86.1" cy="541.6" r="2" fill="#1010ff"/>
<text x="96.3" y="544.3" font-size="9" fill="#1a1aff" stroke="#1a1aff" clip-path="url(#l15)">N_O+</text>
<path d="M77.1 597.4H95.1" stroke="#ff5050" stroke-width="1.0" fill="none"/>
<text x="96.3" y="600.3" font-size="9.7" fill="#ff1a1a" stroke="#ff1a1a">T<tspan dy="3.2" font-size="7.5">||</tspan><tspan dy="-3.2">​</tspan></text>
<path d="M77.1 615.7H95.1" stroke="#444" stroke-width="1.0" fill="none"/>
<text x="96.3" y="618.6" font-size="9.7" fill="#111" stroke="#111">T<tspan dy="3.2" font-size="7.5">⊥</tspan><tspan dy="-3.2">​</tspan></text>
<path d="M77.1 661.1H95.1" stroke="#50f050" stroke-width="1.0" fill="none"/>
<text x="96.3" y="663.8" font-size="9.0" fill="#28e628" stroke="#28e628" clip-path="url(#l16)">P<tspan dy="2.4" font-size="7">p</tspan><tspan dy="-2.4">​</tspan></text>
<path d="M77.1 671.6H95.1" stroke="#ff5050" stroke-width="1.6" fill="none"/>
<text x="96.3" y="674.3" font-size="9.0" fill="#ff1a1a" stroke="#ff1a1a" clip-path="url(#l17)">P<tspan dy="2.4" font-size="7">e</tspan><tspan dy="-2.4">​</tspan></text>
<path d="M77.1 683.6H95.1" stroke="#444" stroke-width="1.0" fill="none"/>
<text x="96.3" y="686.3" font-size="9.0" fill="#111" stroke="#111" clip-path="url(#l18)">P<tspan dy="2.4" font-size="7">b</tspan><tspan dy="-2.4">​</tspan></text>
<path d="M77.1 694.4H95.1" stroke="#5050ff" stroke-width="1.0" fill="none"/>
<text x="96.3" y="697.1" font-size="9.0" fill="#1a1aff" stroke="#1a1aff" clip-path="url(#l19)">P<tspan dy="2.4" font-size="7">tot</tspan><tspan dy="-2.4">​</tspan></text>
<path d="M674.3 54.6H692.3" stroke="#5050ff" stroke-width="1.0" fill="none"/>
<text x="693.5" y="57.6" font-size="10" fill="#1a1aff" stroke="#1a1aff">B<tspan dy="4" font-size="8.5">L</tspan><tspan dy="-4">​</tspan></text>
<path d="M674.3 79.6H692.3" stroke="#50f050" stroke-width="1.0" fill="none"/>
<text x="693.5" y="82.6" font-size="10" fill="#28e628" stroke="#28e628">B<tspan dy="4" font-size="8.5">M</tspan><tspan dy="-4">​</tspan></text>
<path d="M674.3 104H692.3" stroke="#ff5050" stroke-width="1.6" fill="none"/>
<text x="693.5" y="107" font-size="10" fill="#ff1a1a" stroke="#ff1a1a">B<tspan dy="4" font-size="8.5">N</tspan><tspan dy="-4">​</tspan></text>
<path d="M674.3 198.2H692.3" stroke="#5050ff" stroke-width="1.0" fill="none"/>
<text x="693.5" y="200.9" font-size="9.0" fill="#1a1aff" stroke="#1a1aff">V<tspan dy="3.4" font-size="7.8">L</tspan><tspan dy="-3.4">​</tspan></text>
<path d="M674.3 214.4H692.3" stroke="#50f050" stroke-width="1.0" fill="none"/>
<text x="693.5" y="217.1" font-size="9.0" fill="#28e628" stroke="#28e628">V<tspan dy="3.4" font-size="7.8">M</tspan><tspan dy="-3.4">​</tspan></text>
<path d="M674.3 270.8H692.3" stroke="#ff5050" stroke-width="1.0" fill="none"/>
<text x="693.5" y="273.7" font-size="9.7" fill="#ff1a1a" stroke="#ff1a1a">T<tspan dy="3.2" font-size="7.5">||</tspan><tspan dy="-3.2">​</tspan></text>
<path d="M674.3 285.8H692.3" stroke="#444" stroke-width="1.0" fill="none"/>
<text x="693.5" y="288.7" font-size="9.7" fill="#111" stroke="#111">T<tspan dy="3.2" font-size="7.5">⊥</tspan><tspan dy="-3.2">​</tspan></text>
<path d="M674.3 342.5H692.3" stroke="#5050ff" stroke-width="1.0" fill="none"/>
<text x="693.5" y="345.3" font-size="9.3" fill="#1a1aff" stroke="#1a1aff" clip-path="url(#l20)">E<tspan dy="2.4" font-size="7">L</tspan><tspan dy="-2.4">​</tspan></text>
<path d="M674.3 352.5H692.3" stroke="#50f050" stroke-width="1.0" fill="none"/>
<text x="693.5" y="355.3" font-size="9.3" fill="#28e628" stroke="#28e628" clip-path="url(#l21)">E<tspan dy="2.4" font-size="7">M</tspan><tspan dy="-2.4">​</tspan></text>
<path d="M674.3 362.5H692.3" stroke="#ff5050" stroke-width="1.0" fill="none"/>
<text x="693.5" y="365.3" font-size="9.3" fill="#ff1a1a" stroke="#ff1a1a" clip-path="url(#l22)">E<tspan dy="2.4" font-size="7">N</tspan><tspan dy="-2.4">​</tspan></text>
<path d="M674.3 417.4H692.3" stroke="#444" stroke-width="1.0" fill="none"/>
<text x="693.5" y="420.1" font-size="9" fill="#111" stroke="#111">-(VexB)<tspan dy="2.2" font-size="6.5">M</tspan><tspan dy="-2.2">​</tspan></text>
<path d="M674.3 428.2H692.3" stroke="#50f050" stroke-width="1.0" fill="none"/>
<text x="693.5" y="431" font-size="9.3" fill="#28e628" stroke="#28e628">E<tspan dy="2.4" font-size="7">M</tspan><tspan dy="-2.4">​</tspan></text>
<path d="M674.3 500.5H692.3" stroke="#555" stroke-width="1.0" fill="none"/>
<text x="693.5" y="503.2" font-size="9" fill="#333" stroke="#333">|J|</text>
<path d="M674.3 563.2H692.3" stroke="#ff40ff" stroke-width="1.3" stroke-dasharray="1.2 1.6" fill="none"/>
<text x="693.5" y="565.9" font-size="9" fill="#ff20ff" stroke="#ff20ff" clip-path="url(#l23)">t_maxJ</text>
<path d="M674.3 570.4H692.3" stroke="#3030ff" stroke-width="1.0" fill="none"/>
<text x="693.5" y="573.1" font-size="9.0" fill="#1a1aff" stroke="#1a1aff" clip-path="url(#l24)">J<tspan dy="2.2" font-size="7">L</tspan><tspan dy="-2.2">​</tspan></text>
<path d="M674.3 577.9H692.3" stroke="#30f030" stroke-width="1.0" fill="none"/>
<text x="693.5" y="580.6" font-size="9.0" fill="#28e628" stroke="#28e628" clip-path="url(#l25)">J<tspan dy="2.2" font-size="7">M</tspan><tspan dy="-2.2">​</tspan></text>
<path d="M674.3 585.2H692.3" stroke="#ff3030" stroke-width="1.0" fill="none"/>
<text x="693.5" y="587.9" font-size="9.0" fill="#ff1a1a" stroke="#ff1a1a" clip-path="url(#l26)">J<tspan dy="2.2" font-size="7">N</tspan><tspan dy="-2.2">​</tspan></text>
<path d="M669.7 648H692.3" stroke="#444" stroke-width="1.0" fill="none"/>
<text x="695.7" y="650.7" font-size="9" fill="#111" stroke="#111">J*E'</text>
</svg>
<pre>:
 Event ID         : 20151025_140914
 FlagStr          : mp,o,mon,mf,mult,part,keep
 GSEpos [Re]      : [ 8.32, 7.77, -0.83 ]
                  :
 LMN coords       :
    L             : [ -0.632, -0.706,  0.319 ]
    M             : [ -0.773,  0.602, -0.198 ]
    N             : [  0.052,  0.372,  0.927 ]
                  :
  Times           : (as indicated by red, green lines in plots)
    t_0           : 14:09:39  (red dotted line)
    t_MVAB1       : 14:09:35  (leftmost green line)
    t_MVAB2       : 14:09:42  (rightmost green line)
                  :
|Bmin|, |Vmax|    :
    Bmin          : 32.88 [nT]  at 14:09:38
    Vmax_tht      : 264.04 [km/s]  at 14:09:37
    Vmax_tburst   : 264.04 [km/s]  at 14:09:42
                  :
 Normals          :
    N MVAB        : [  0.322, -0.135,  0.937 ]   (L2/L1 = 2.29)
    N MVAB0       : [  0.676, -0.690,  0.260 ]   (L3/L2 = 10.01)
    N MFR         : [  0.590, -0.345,  0.730 ]   (L2/L1 = 1.42)
                  :
 Durations [s]    : (between red, resp green lines)
    T_CS          : 3.54
    T_MFR/HT      : 7.08
                  :
 Velocity [km/s]  : (based on FPI ion data)
    VnMFR         : -253.3
    VHT.Nmvab     : 299.3  (HTcc = 0.985)
    VHT.Nmvab0    : 141.4
                  :
 CS thickness [km]: (D=T_CS * Vs from above)
    D1=TCS*Vnmfr  : 897
    D2=TCS*VHTn   : 1,060
    D3=TCS*VHTn0  : 501
                  :
 Currents [uA/m2] :
    Jave_CS       : 0.143
    Jmax_THT      : 0.525  at 14:09:41
    Jmax_brst     : 0.539  at 14:09:44
                  :
 HPCA mom [1/cm3] :   Min   -  Max    (  Ave   )  within full brst int
    H+            :   3.353 -  6.947  (  4.220 )
    He+           :   0.000 -  0.001  (  0.001 )
    He++          :   0.011 -  0.052  (  0.015 )
    O+            :   0.001 -  0.018  (  0.003 )
                  :
 SEH date         : 2019-11-29 08:45:19
                  :</pre>
</body>
</html>
